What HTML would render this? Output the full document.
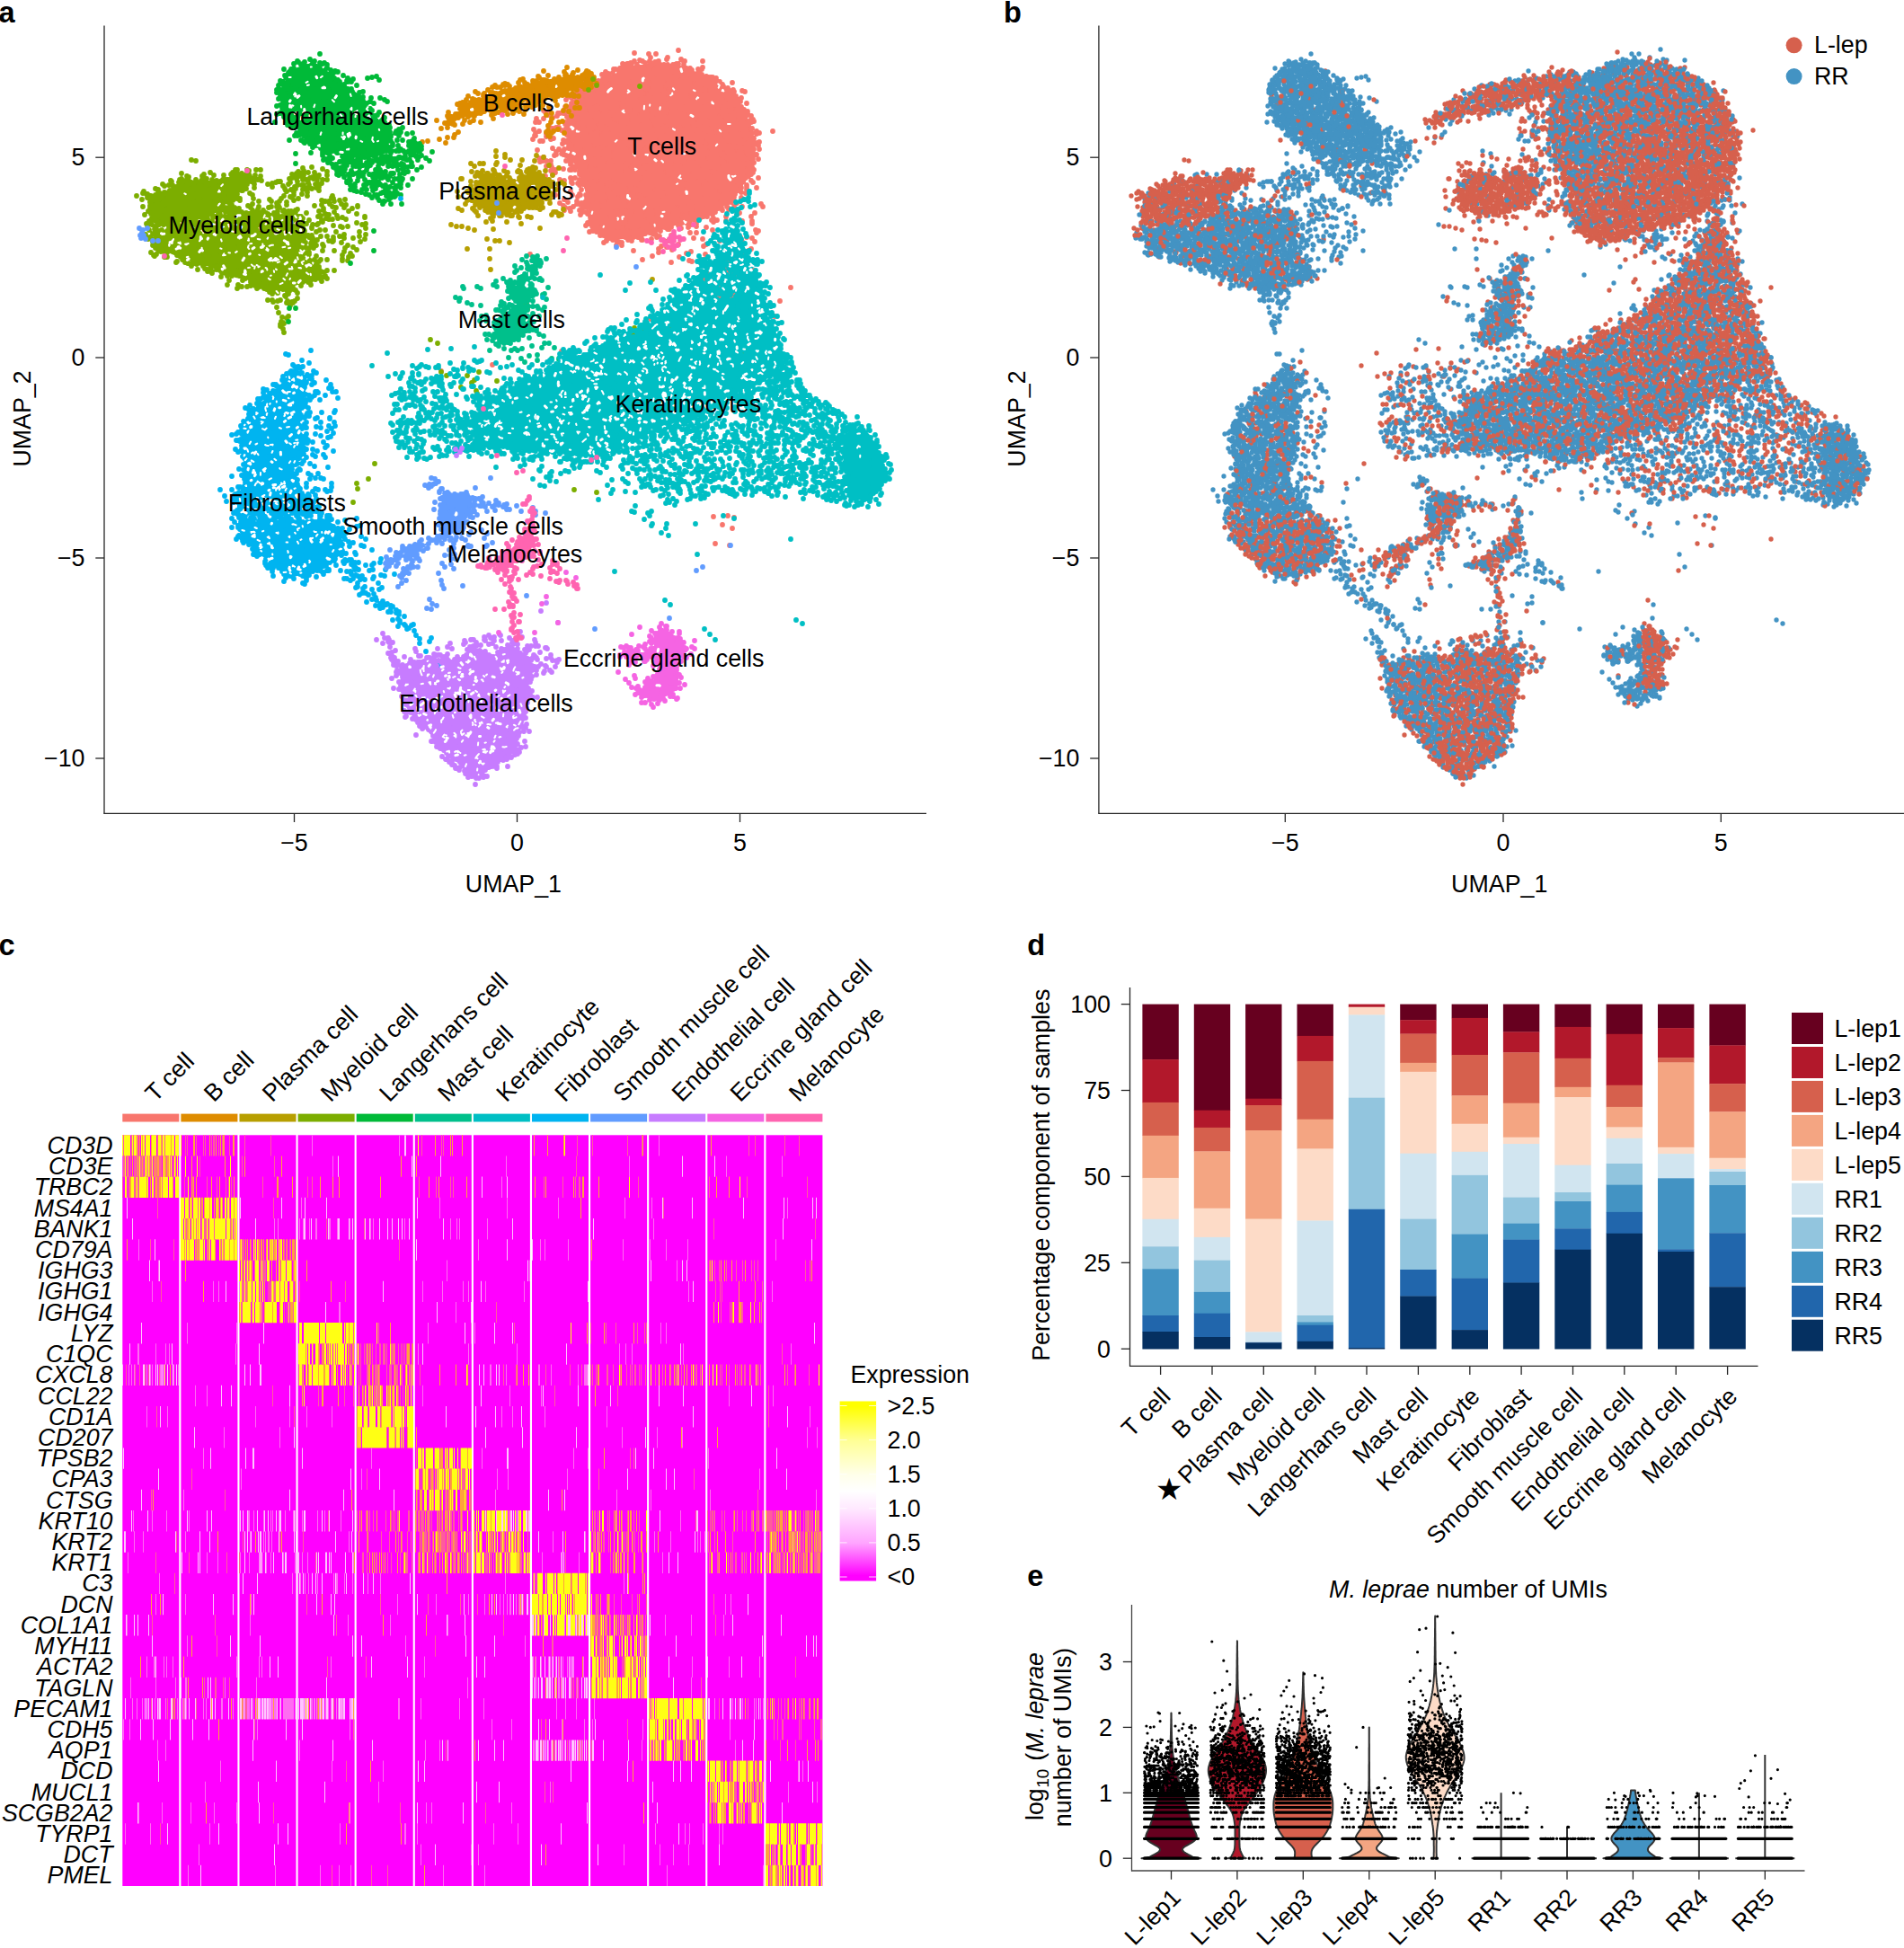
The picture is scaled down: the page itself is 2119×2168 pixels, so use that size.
<!DOCTYPE html>
<html><head><meta charset="utf-8"><title>Figure</title>
<style>html,body{margin:0;padding:0;background:#fff}svg{display:block}text{font-family:"Liberation Sans",sans-serif;fill:#000}</style>
</head><body>
<svg width="2119" height="2168" viewBox="0 0 2119 2168">
<rect width="2119" height="2168" fill="#fff"/>
<text x="-1.5" y="24.5" font-size="32.5" font-weight="bold">a</text>
<text x="1117" y="24.5" font-size="32.5" font-weight="bold">b</text>
<path d="M116 28.5L116 905.8" stroke="#262626" stroke-width="1.3"/>
<path d="M115.5 905.3L1031 905.3" stroke="#262626" stroke-width="1.3"/>
<path d="M106.3 175.2L116 175.2" stroke="#262626" stroke-width="1.3"/>
<text x="94.5" y="183.9" font-size="26.8" text-anchor="end">5</text>
<path d="M106.3 398L116 398" stroke="#262626" stroke-width="1.3"/>
<text x="94.5" y="406.7" font-size="26.8" text-anchor="end">0</text>
<path d="M106.3 621L116 621" stroke="#262626" stroke-width="1.3"/>
<text x="94.5" y="629.7" font-size="26.8" text-anchor="end">−5</text>
<path d="M106.3 844L116 844" stroke="#262626" stroke-width="1.3"/>
<text x="94.5" y="852.7" font-size="26.8" text-anchor="end">−10</text>
<path d="M327.5 905.3L327.5 915.0" stroke="#262626" stroke-width="1.3"/>
<text x="327.5" y="946.8" font-size="26.8" text-anchor="middle">−5</text>
<path d="M575.5 905.3L575.5 915.0" stroke="#262626" stroke-width="1.3"/>
<text x="575.5" y="946.8" font-size="26.8" text-anchor="middle">0</text>
<path d="M823.5 905.3L823.5 915.0" stroke="#262626" stroke-width="1.3"/>
<text x="823.5" y="946.8" font-size="26.8" text-anchor="middle">5</text>
<text x="571.4" y="992.5" font-size="26.8" text-anchor="middle">UMAP_1</text>
<text x="33.9" y="466" font-size="26.8" text-anchor="middle" transform="rotate(-90 33.9 466)">UMAP_2</text>
<path d="M1222.9 28.5L1222.9 905.8" stroke="#262626" stroke-width="1.3"/>
<path d="M1222.4 905.3L2119 905.3" stroke="#262626" stroke-width="1.3"/>
<path d="M1213.2 175.2L1222.9 175.2" stroke="#262626" stroke-width="1.3"/>
<text x="1201.4" y="183.9" font-size="26.8" text-anchor="end">5</text>
<path d="M1213.2 398L1222.9 398" stroke="#262626" stroke-width="1.3"/>
<text x="1201.4" y="406.7" font-size="26.8" text-anchor="end">0</text>
<path d="M1213.2 621L1222.9 621" stroke="#262626" stroke-width="1.3"/>
<text x="1201.4" y="629.7" font-size="26.8" text-anchor="end">−5</text>
<path d="M1213.2 844L1222.9 844" stroke="#262626" stroke-width="1.3"/>
<text x="1201.4" y="852.7" font-size="26.8" text-anchor="end">−10</text>
<path d="M1430.3 905.3L1430.3 915.0" stroke="#262626" stroke-width="1.3"/>
<text x="1430.3" y="946.8" font-size="26.8" text-anchor="middle">−5</text>
<path d="M1673 905.3L1673 915.0" stroke="#262626" stroke-width="1.3"/>
<text x="1673" y="946.8" font-size="26.8" text-anchor="middle">0</text>
<path d="M1915.3 905.3L1915.3 915.0" stroke="#262626" stroke-width="1.3"/>
<text x="1915.3" y="946.8" font-size="26.8" text-anchor="middle">5</text>
<text x="1668.7" y="992.5" font-size="26.8" text-anchor="middle">UMAP_1</text>
<text x="1140.5" y="466" font-size="26.8" text-anchor="middle" transform="rotate(-90 1140.5 466)">UMAP_2</text>
<g><path d="M722 70L700 76L684 82L664 91L647 101L637 114L632 128L631 149L635 173L644 192L644 192L652 214L652 215L652 215L655 237L664 252L674 262L685 267L703 265L725 260L742 254L742 254L758 249L758 249L779 244L801 233L818 219L830 202L837 181L840 156L834 135L821 110L792 87L758 73L740 70Z" fill="#F8766D" fill-rule="evenodd"/><path d="M492 138L504 133L505 132L518 129L541 123L541 123L562 118L563 118L584 113L584 113L606 110L628 104L649 95L658 89L657 84L646 84L623 86L602 90L580 95L558 100L536 109L515 121L503 129L492 138Z" fill="#DE8C00" fill-rule="evenodd"/><path d="M529 206L529 219L532 230L548 236L569 236L586 233L601 225L609 216L611 203L606 197L596 194L580 195L572 203L572 203L571 204L571 204L571 204L570 204L570 204L569 204L569 204L569 204L568 204L568 204L567 204L567 204L558 199L547 196L536 197Z" fill="#B79F00" fill-rule="evenodd"/><path d="M164 219L165 227L169 247L176 250L194 248L195 248L214 246L233 241L247 232L258 219L258 219L258 219L266 212L273 204L273 204L273 203L274 203L274 203L274 203L284 199L283 196L266 195L260 200L259 200L259 200L259 200L258 200L258 200L257 200L246 201L246 201L225 201L203 203L189 211L189 211L188 211L175 215Z" fill="#7CAE00" fill-rule="evenodd"/><path d="M171 258L172 276L174 281L185 281L185 281L186 281L186 281L186 281L187 281L203 288L217 292L217 292L236 298L237 298L262 309L273 311L273 311L274 311L293 318L293 318L293 318L294 318L294 319L294 319L302 329L308 326L320 320L320 320L321 320L335 316L346 311L346 311L347 311L356 308L353 303L344 291L344 290L344 290L344 290L344 289L340 274L340 274L340 273L340 273L340 273L341 255L335 242L328 236L311 239L310 239L310 239L310 239L309 239L309 239L294 235L272 235L272 235L271 235L271 235L270 235L270 235L270 235L269 234L262 228L253 238L253 238L253 238L252 239L237 249L237 249L237 249L236 249L216 254L215 254L196 256L176 259L175 259L175 259L174 259L174 259L173 259L173 259Z" fill="#7CAE00" fill-rule="evenodd"/><path d="M341 72L331 75L320 85L314 95L313 112L314 125L320 138L331 144L332 144L332 145L332 145L347 159L359 167L386 174L405 175L420 175L427 164L428 164L436 155L435 147L424 136L424 136L409 119L408 119L398 104L381 92L361 77L351 72Z" fill="#00BA38" fill-rule="evenodd"/><path d="M595 285L594 294L594 294L594 294L594 294L594 295L593 295L584 306L576 317L576 317L576 317L576 317L576 318L575 318L575 318L575 318L568 320L566 325L575 333L575 333L575 333L576 333L576 334L576 334L576 334L576 335L576 335L576 335L576 335L576 336L576 336L576 336L572 344L572 345L571 345L571 345L571 345L571 345L570 346L570 346L570 346L570 346L559 348L557 359L557 360L557 360L557 360L557 361L556 361L550 369L548 375L557 380L568 378L580 374L588 365L584 355L584 355L584 354L584 354L584 354L584 353L584 353L584 353L584 353L590 342L588 333L588 332L588 332L588 332L588 331L588 331L588 331L588 331L588 330L593 324L588 316L588 316L588 316L588 316L588 315L588 315L588 315L588 315L588 314L588 314L588 314L593 303L593 303L599 292L600 286Z" fill="#00C08B" fill-rule="evenodd"/><path d="M817 244L816 247L809 264L800 286L800 286L800 286L800 287L799 287L799 287L777 307L777 307L760 322L746 335L734 353L733 353L733 353L733 354L720 363L719 363L719 363L718 363L688 372L667 387L666 387L666 387L644 396L643 396L643 396L642 396L630 397L605 416L604 416L581 429L581 429L581 429L555 439L534 448L534 458L534 458L534 459L534 459L534 460L525 482L533 497L547 499L560 499L560 499L560 499L561 499L582 502L600 502L600 502L601 502L621 505L640 507L663 508L678 504L698 494L710 484L710 483L711 483L711 483L728 476L729 476L756 469L783 461L804 445L815 437L815 436L816 436L816 436L817 436L848 426L866 412L873 398L865 378L854 352L854 351L854 351L848 324L839 297L828 273L828 273Z" fill="#00BFC4" fill-rule="evenodd"/><path d="M948 475L939 488L938 509L944 530L944 530L944 530L944 531L944 531L944 532L943 544L947 557L957 556L971 551L982 541L987 527L982 511L970 488L958 480Z" fill="#00BFC4" fill-rule="evenodd"/><path d="M325 411L314 428L314 429L313 429L313 429L295 444L277 460L269 473L268 494L271 514L271 514L274 533L274 534L274 534L274 535L274 535L274 536L274 536L274 536L265 550L263 575L299 571L300 571L354 570L349 557L335 546L335 545L335 545L334 545L334 544L325 528L325 528L325 527L325 527L325 527L325 526L325 526L325 525L325 525L325 524L325 524L325 524L334 509L336 488L334 467L334 466L334 466L334 465L338 444L338 444L342 427L335 414L329 410Z" fill="#00B4F0" fill-rule="evenodd"/><path d="M264 584L269 598L284 613L302 626L302 627L318 641L326 642L346 638L359 632L367 626L380 617L382 608L379 594L372 584L360 579L300 579Z" fill="#00B4F0" fill-rule="evenodd"/><path d="M490 567L489 577L492 586L500 590L512 587L519 578L524 567L525 557L519 553L506 553L494 558Z" fill="#619CFF" fill-rule="evenodd"/><path d="M490 544L501 551L502 550L490 544Z" fill="#619CFF" fill-rule="evenodd"/><path d="M434 625L434 625L449 620L463 614L473 607L473 607L474 607L488 601L501 595L500 592L488 599L487 599L473 605L461 612L461 612L448 618L434 625L434 625Z" fill="#619CFF" fill-rule="evenodd"/><path d="M466 620L458 630L458 630L449 639L446 645L446 645L451 641L458 630L458 630L466 621Z" fill="#619CFF" fill-rule="evenodd"/><path d="M448 742L446 750L445 765L452 787L462 801L477 815L477 815L491 832L504 844L504 844L520 859L527 864L535 860L549 852L565 842L574 833L577 821L577 821L583 798L587 771L587 771L591 750L591 750L593 742L588 731L579 725L578 725L568 717L558 724L558 724L545 732L545 732L545 732L544 732L544 732L543 732L543 732L542 732L542 732L542 732L526 727L511 734L511 734L510 734L510 734L509 734L488 735L476 737L475 737L475 737L474 737L462 736Z" fill="#C77CFF" fill-rule="evenodd"/><path d="M434 722L434 722L440 732L440 733L442 738L443 737L441 732L434 722Z" fill="#C77CFF" fill-rule="evenodd"/><path d="M728 706L728 716L728 716L728 717L728 717L728 718L728 718L728 719L727 719L727 719L727 720L726 720L716 726L716 726L716 726L715 726L715 726L714 726L714 726L713 726L700 725L692 726L692 730L700 733L711 731L711 731L712 731L712 731L726 732L727 732L727 732L728 732L728 732L728 732L729 732L729 733L729 733L730 733L730 734L730 734L734 743L734 744L734 744L734 745L734 745L734 745L734 746L732 756L732 756L732 757L732 757L732 757L731 758L731 758L731 758L731 759L730 759L730 759L729 759L717 763L712 769L716 776L728 778L745 772L753 765L756 751L754 736L754 735L754 735L754 735L754 734L754 734L754 733L754 733L754 733L754 732L755 732L755 732L755 731L764 726L764 720L754 712L754 712L745 703L737 701Z" fill="#F564E3" fill-rule="evenodd"/><path d="M540 627L547 627L547 627L548 627L548 627L560 631L571 626L583 617L583 617L591 611L595 604L593 597L593 596L593 596L593 596L594 584L591 582L589 590L589 590L589 590L589 591L588 591L580 601L580 601L580 601L570 610L570 610L553 622L553 623L552 623L552 623Z" fill="#FF64B0" fill-rule="evenodd"/><path d="M591 573L591 574L591 574Z" fill="#FF64B0" fill-rule="evenodd"/></g><g fill="none" stroke-width="5.8" stroke-linecap="round"><path d="M755 56h0m-49 3h0m16 1h0m8 0h0m-24 8h0m6-1h0m3 1h0m8 0h0m1-4h0m5 5h0m4-1h0m9-2h0m1-2h0m15 2h0m4 2h0m20 0h0m-89 3h0m1 3h0m4-3h0m1 0h0m1 2h0m0 0h0m2-3h0m1 1h0m0 4h0m5 0h0m1-3h0m4 3h0m5-5h0m4 4h0m2 0h0m0-4h0m3 2h0m5-2h0m3 2h0m2 3h0m2-3h0m4 0h0m2 2h0m4-2h0m2 1h0m2-2h0m1 4h0m1-4h0m6 1h0m0-3h0m-87 11h0m9-3h0m2 0h0m4 4h0m1-5h0m0 2h0m1 3h0m3-3h0m2 3h0m3-3h0m0-3h0m1 6h0m2-2h0m4-1h0m5 0h0m5 1h0m0-3h0m2 5h0m1-2h0m3-1h0m4 3h0m2-2h0m3-3h0m1 3h0m1-3h0m3 3h0m4-2h0m2-1h0m1 2h0m5 2h0m4-2h0m4 1h0m4-3h0m2 4h0m2-4h0m1 2h0m3-2h0m2 2h0m7-1h0m1 1h0m0 1h0m3-2h0m1-2h0m-112 8h0m3 2h0m4-3h0m1 3h0m3 2h0m1-6h0m3 4h0m4-1h0m4 1h0m4-1h0m5 1h0m1-2h0m4-1h0m3 4h0m2-4h0m3 2h0m3 3h0m4-4h0m1 4h0m3-1h0m4-4h0m3 5h0m1-1h0m0-5h0m5 2h0m0 4h0m2-6h0m2 4h0m2-2h0m4 3h0m3-2h0m3-1h0m1 1h0m3-2h0m1 3h0m4 1h0m0-4h0m3 0h0m3 1h0m1 3h0m3-1h0m2-3h0m2 5h0m3-4h0m1 4h0m4-2h0m4 1h0m3 0h0m4 1h0m-152 4h0m3 2h0m10-4h0m3 3h0m5 0h0m0-2h0m2 2h0m3-4h0m3 1h0m0 3h0m3-4h0m5 1h0m0 3h0m5-2h0m3 2h0m1-4h0m2 3h0m2-1h0m4-1h0m2 3h0m4-3h0m1 3h0m1-5h0m3 4h0m2-1h0m2 2h0m2-4h0m3 3h0m2-1h0m6-2h0m3 1h0m0 3h0m2-1h0m2 1h0m4 0h0m0-4h0m5 0h0m1 4h0m1-3h0m7-1h0m0 4h0m0-5h0m4 3h0m1 0h0m6 0h0m2 2h0m3-2h0m5-2h0m4 1h0m4 2h0m4 1h0m0-3h0m3 2h0m6-2h0m1 4h0m3-2h0m3 0h0m14 1h0m-171 5h0m4 1h0m3-4h0m3 3h0m4-1h0m5-1h0m4 1h0m3 2h0m5-3h0m2 0h0m2 2h0m3-1h0m3-3h0m1 4h0m5 0h0m4 0h0m1-4h0m3 5h0m7-1h0m2 1h0m1-4h0m3 4h0m4-1h0m4 2h0m0-2h0m2-3h0m4 1h0m2-2h0m2 4h0m3-1h0m3 0h0m6-1h0m5 3h0m0-4h0m5 4h0m3-4h0m1 2h0m4 0h0m1-3h0m3 5h0m4-1h0m0-4h0m2 4h0m5-2h0m0-1h0m3-1h0m1 5h0m1-4h0m5 1h0m2 1h0m4-2h0m0 2h0m6 0h0m3 0h0m4 3h0m0-5h0m1 2h0m5 2h0m-168 4h0m0 2h0m2 0h0m2-3h0m3 3h0m4-4h0m2 0h0m2 4h0m3-4h0m5 0h0m2 4h0m1-5h0m4 5h0m1-3h0m3 2h0m2-4h0m0 6h0m4 0h0m1-4h0m2-1h0m3 4h0m2 1h0m0-6h0m4 2h0m4 0h0m3 2h0m1-3h0m4 2h0m2 1h0m2-2h0m3 2h0m1-1h0m2 2h0m6 1h0m2-1h0m1-3h0m1-1h0m4 0h0m2 4h0m3-4h0m4 4h0m0-3h0m2 3h0m4-2h0m3-2h0m1 3h0m2-3h0m2 5h0m5-6h0m4 2h0m2 0h0m2 1h0m3 0h0m3-3h0m4 3h0m2-2h0m3 0h0m4 0h0m0 5h0m4 0h0m2-4h0m1 2h0m1-2h0m4 2h0m3-3h0m5 4h0m3-3h0m3 2h0m1-2h0m4-1h0m1 2h0m9-1h0m3 1h0m-199 9h0m5-3h0m1 1h0m4-1h0m0-2h0m2 1h0m0 4h0m7-5h0m3 0h0m1 5h0m1-6h0m3 1h0m1 4h0m2-2h0m2 2h0m0-5h0m3 4h0m4-2h0m2 1h0m7-2h0m1 4h0m3-4h0m3 2h0m1 2h0m4-1h0m4-2h0m0-2h0m5 2h0m3 0h0m1-2h0m2 5h0m1-3h0m4-1h0m4 5h0m0-4h0m2 3h0m4-1h0m2 2h0m1-3h0m3 2h0m3-3h0m0-2h0m3 2h0m1 3h0m3-1h0m3 0h0m2 1h0m4-2h0m1-3h0m0 5h0m3-1h0m3-1h0m4 0h0m2-3h0m1 5h0m2-3h0m3 1h0m0-3h0m6 3h0m1-3h0m1 6h0m1-3h0m3 0h0m3 3h0m1-6h0m2 3h0m4-1h0m2 4h0m3-4h0m4 0h0m2 1h0m3-3h0m3 4h0m1 2h0m4-5h0m3 4h0m1-3h0m3-2h0m1 2h0m3 0h0m3 4h0m3-2h0m-189 6h0m3-1h0m3 0h0m2-2h0m3 3h0m1-3h0m1 5h0m4-2h0m4 1h0m2-1h0m4-2h0m4 0h0m3 1h0m0-2h0m2 2h0m2-3h0m3 4h0m2 0h0m5-3h0m0 4h0m5-1h0m4-2h0m0 2h0m3-3h0m3 4h0m2-1h0m0-3h0m3 5h0m1-3h0m3-2h0m1 2h0m7 2h0m4-1h0m2-1h0m5 0h0m3-2h0m1 4h0m3-2h0m3-2h0m3 3h0m4 1h0m3-2h0m4-2h0m1 2h0m4-2h0m1 4h0m4-3h0m3-1h0m0 4h0m4-4h0m3 3h0m2-1h0m3-3h0m2 5h0m3-2h0m2-3h0m1 3h0m7 1h0m2-3h0m3 1h0m1 0h0m1 3h0m2-5h0m0 6h0m3-4h0m4 2h0m5 0h0m2-3h0m0 4h0m4-4h0m2 3h0m4-2h0m7 2h0m-202 4h0m2 3h0m3-3h0m3-1h0m2 3h0m2-3h0m2 4h0m3-3h0m1 2h0m4 1h0m4-4h0m2 4h0m1-2h0m1 2h0m4-2h0m0 1h0m3-1h0m4 1h0m0-3h0m3 4h0m2-4h0m5 1h0m2-2h0m0 4h0m3 1h0m2-4h0m1 5h0m5-3h0m2 3h0m2-4h0m1 2h0m2-3h0m1 4h0m6 0h0m2-4h0m2 0h0m2 3h0m3-2h0m3-1h0m3 3h0m4-1h0m1 3h0m3-4h0m3 1h0m2 3h0m4-5h0m2 0h0m2 5h0m3-5h0m3 0h0m0 3h0m2 1h0m3-4h0m3 4h0m1-4h0m4 4h0m1-3h0m2 3h0m2-5h0m2 5h0m3-4h0m0 3h0m3-2h0m2 2h0m4-1h0m2 1h0m2-2h0m0 3h0m4-5h0m1 4h0m3-3h0m1 4h0m2-5h0m8 5h0m1-3h0m2 3h0m3-5h0m4 3h0m0 1h0m2-4h0m4 5h0m1-4h0m4 1h0m3 3h0m-223 1h0m2 2h0m3 3h0m1-4h0m10 2h0m2 0h0m4 0h0m1 0h0m4-2h0m1-1h0m2 5h0m2-4h0m6 0h0m2 1h0m3 3h0m0-2h0m4 1h0m7-2h0m1 3h0m3-1h0m3 0h0m4 2h0m2-3h0m2 1h0m1-4h0m5 2h0m0 3h0m2-1h0m2 2h0m4-4h0m4 0h0m5 0h0m0 4h0m2-5h0m5 3h0m3-1h0m3-3h0m4 1h0m2 3h0m2-3h0m1 4h0m1-1h0m6-2h0m4 1h0m0-3h0m4 2h0m3 3h0m0-3h0m2-2h0m2 2h0m6 2h0m2 2h0m1-3h0m4-1h0m4 2h0m4-1h0m7-1h0m3-1h0m4 3h0m3 1h0m2-1h0m4 0h0m2 2h0m0-3h0m4 3h0m0-5h0m5 2h0m3-2h0m3 0h0m2 5h0m2-4h0m2 2h0m2-3h0m5 2h0m2 0h0m4 2h0m2-3h0m0-2h0m4 4h0m3 0h0m2-2h0m0 3h0m0-4h0m4 5h0m-239 3h0m8 0h0m10-1h0m5-2h0m11 1h0m3 3h0m2 0h0m4 0h0m1-2h0m1 0h0m2 1h0m5 0h0m4-3h0m1 5h0m3-4h0m1 5h0m5-2h0m2-3h0m3 3h0m3-1h0m3-1h0m1 4h0m1-6h0m3 4h0m5-1h0m4-2h0m0 1h0m3 1h0m2-2h0m2 4h0m3-2h0m5-3h0m1 5h0m3-5h0m2 4h0m2-2h0m1 3h0m2-5h0m2 3h0m4 1h0m4-4h0m2 1h0m1 4h0m3-1h0m2-3h0m2 3h0m3-1h0m3-2h0m1 4h0m4-4h0m2 4h0m2 0h0m4-4h0m1 4h0m4-4h0m1 3h0m3-2h0m2-1h0m0 3h0m4-1h0m1-2h0m3 3h0m1-4h0m1 3h0m6 0h0m1-3h0m4 3h0m2 3h0m5-2h0m2-3h0m2 2h0m3-1h0m1 3h0m3 0h0m5-4h0m3 3h0m0-3h0m2 2h0m4 0h0m0-3h0m6 1h0m0 1h0m4 3h0m0-4h0m2 2h0m6 2h0m3-1h0m-242 3h0m4 0h0m11 4h0m18-2h0m1-2h0m4 1h0m2 2h0m2-3h0m6 1h0m4 0h0m4-1h0m3 4h0m1-5h0m1 4h0m2-3h0m2 5h0m2-6h0m6 2h0m3-1h0m4 1h0m4 2h0m1-1h0m3 0h0m0 3h0m7-5h0m1 4h0m2-2h0m4-2h0m3 3h0m1-1h0m3-1h0m0 3h0m2-1h0m2-1h0m4 2h0m3-5h0m0 4h0m4-2h0m2 0h0m2 3h0m4-4h0m2 3h0m1-1h0m5-1h0m2-2h0m7 2h0m1 2h0m3-2h0m4 0h0m3 3h0m1-4h0m4 1h0m3 3h0m2-4h0m0 4h0m2-5h0m4 5h0m0-2h0m3 1h0m3-2h0m1 2h0m3-4h0m4 3h0m1 3h0m3-4h0m3 3h0m1-4h0m3 3h0m2-2h0m2 4h0m1-5h0m4 4h0m2-4h0m3 0h0m3 5h0m2-5h0m4 2h0m5-1h0m3 1h0m1 2h0m3-2h0m1 1h0m3-3h0m3-1h0m-245 9h0m6 2h0m15-3h0m4-1h0m3 0h0m3 3h0m5-2h0m2 4h0m2-6h0m2 2h0m3 2h0m2-4h0m3 4h0m0-3h0m5 4h0m0-4h0m0 0h0m3 3h0m0 2h0m5-2h0m2-2h0m6 1h0m2-2h0m1 0h0m2 0h0m3 1h0m1-1h0m4 1h0m4 0h0m3 0h0m3-2h0m2 3h0m1 3h0m2-2h0m2-4h0m3 2h0m5 4h0m0-3h0m5-1h0m4 0h0m0 4h0m3-4h0m4 1h0m1-3h0m2 2h0m3 4h0m1-2h0m5-1h0m2-2h0m2 1h0m2 4h0m2-6h0m2 0h0m0 3h0m4 1h0m4-2h0m1-1h0m1 2h0m4 3h0m1-5h0m1 0h0m1 5h0m4-3h0m3-1h0m5 1h0m2 1h0m4 1h0m3-1h0m4-1h0m0-2h0m2 2h0m4 2h0m0-2h0m4-2h0m4 4h0m2-3h0m4 2h0m5-1h0m3-3h0m1 3h0m5 1h0m0-3h0m1 1h0m4-1h0m1 1h0m2-1h0m2 3h0m3 1h0m1-3h0m6 0h0m5 3h0m18 0h0m-265 5h0m1-3h0m0 3h0m12-2h0m0 3h0m20-5h0m1 0h0m2 3h0m5 1h0m2-1h0m0-2h0m2 0h0m4 3h0m1-3h0m2 2h0m5 1h0m5 1h0m2-3h0m2 1h0m2-2h0m0 4h0m2-5h0m5 5h0m2-3h0m2 3h0m1-4h0m2 3h0m3-2h0m1 2h0m1-3h0m2 3h0m3-4h0m2 3h0m4 0h0m1-2h0m4 4h0m3-3h0m1 3h0m5-2h0m2-1h0m1 3h0m6-2h0m1-1h0m0 4h0m5-4h0m2 3h0m4-1h0m3-3h0m2 2h0m2-3h0m0 5h0m4 0h0m4-3h0m0 3h0m3-3h0m3 2h0m1-4h0m4 5h0m3-2h0m3 2h0m2-4h0m4 0h0m0 4h0m4-5h0m1 3h0m4 2h0m3-1h0m1-3h0m3 2h0m2-1h0m3 3h0m3-2h0m3 0h0m0-2h0m7 2h0m1-2h0m0 2h0m5-1h0m1 2h0m1-2h0m4 3h0m2-4h0m3 4h0m2-5h0m0 3h0m4-1h0m2 1h0m2-3h0m1 3h0m5 0h0m2-1h0m1 1h0m1-2h0m5 1h0m3-1h0m-252 7h0m8 2h0m3 0h0m9-2h0m3-1h0m11 2h0m3 2h0m2-2h0m6 0h0m1 1h0m4-2h0m1 0h0m4 3h0m1-3h0m2 4h0m3-4h0m5 1h0m3 0h0m2 3h0m3 0h0m0-3h0m4 0h0m0 1h0m4-3h0m1 4h0m2-3h0m5 0h0m1 2h0m3-3h0m3 5h0m0-6h0m6 1h0m2 5h0m2-3h0m3 1h0m2-1h0m4 0h0m0 3h0m2-5h0m3 4h0m4-3h0m2 4h0m2-5h0m1 4h0m1-2h0m4 3h0m1-4h0m6-1h0m4 0h0m2 0h0m5 1h0m3 2h0m3-4h0m0 6h0m1-5h0m6 2h0m4-1h0m2 3h0m3-5h0m3 3h0m0 2h0m3 0h0m1-2h0m2 2h0m3-4h0m1 4h0m1-4h0m6 1h0m4 2h0m0-2h0m1 2h0m3-4h0m4 3h0m0 1h0m3 1h0m0-2h0m3 2h0m3-3h0m3 2h0m1-3h0m4 5h0m1-3h0m1 2h0m2-5h0m3 6h0m0-3h0m3 2h0m3-4h0m5 2h0m4-2h0m2 5h0m4-1h0m-230 7h0m11-5h0m7 3h0m0-3h0m0 5h0m3-3h0m6 0h0m2-2h0m2 3h0m4-2h0m3 3h0m2-1h0m1-3h0m1 3h0m5-3h0m0 1h0m3 0h0m6 2h0m2-2h0m6 1h0m1-3h0m3 4h0m6 1h0m3-4h0m2-1h0m1 3h0m6-1h0m3 1h0m1-3h0m3 2h0m4 0h0m1 3h0m2-2h0m6 1h0m5 1h0m3-1h0m2-3h0m2 3h0m3-3h0m3 2h0m1-2h0m2 3h0m2 2h0m0-6h0m1 3h0m4-1h0m6 3h0m0-5h0m5 2h0m2-1h0m0 2h0m5 0h0m5 2h0m0-1h0m4-1h0m4 1h0m5-4h0m0 5h0m5-1h0m1 1h0m0-2h0m6-1h0m4 0h0m3 1h0m0 3h0m4-3h0m4 1h0m5-1h0m3 2h0m3-2h0m1-1h0m5 3h0m1-3h0m2-1h0m2 2h0m3-2h0m2 1h0m5 1h0m-246 5h0m21 2h0m3-3h0m3 5h0m2-3h0m1-2h0m9 3h0m1-2h0m2 4h0m2-6h0m2 4h0m2-3h0m3 4h0m4-2h0m4-2h0m1 4h0m1-3h0m4 2h0m1-2h0m2 1h0m1-2h0m4 4h0m2-3h0m2 4h0m3-5h0m0 4h0m2-5h0m4 6h0m1-4h0m4 2h0m1-4h0m3 4h0m0-2h0m3 4h0m1-4h0m3 3h0m3-4h0m0 4h0m4-5h0m0 4h0m2-4h0m3 6h0m5-1h0m2-3h0m1 2h0m2-3h0m4 2h0m3-1h0m2 2h0m2-3h0m0 3h0m3-3h0m2 3h0m2-3h0m2 4h0m3-2h0m2-3h0m3 3h0m3-2h0m1 3h0m2-2h0m3 0h0m1 1h0m3 2h0m3-4h0m1 4h0m2-3h0m3 1h0m3 2h0m3-5h0m2 5h0m2-4h0m3 1h0m0 3h0m3 0h0m4-2h0m3-2h0m1 4h0m3-4h0m3 4h0m2 1h0m5-5h0m0 2h0m1-3h0m3 4h0m2-2h0m1 3h0m6 1h0m3-5h0m0 5h0m6-2h0m2-2h0m1 3h0m1-4h0m3 2h0m1-2h0m6 0h0m-245 10h0m5-1h0m12-2h0m2-1h0m8 0h0m3 1h0m4 3h0m1-3h0m1 3h0m4-3h0m3 2h0m2 0h0m2-1h0m4 0h0m6 0h0m1 2h0m2-4h0m5 2h0m2 3h0m1-6h0m4 3h0m3-2h0m0 4h0m3 0h0m2-2h0m5 0h0m5-1h0m2 3h0m2-3h0m3 3h0m1-4h0m2 3h0m0-2h0m5-1h0m7 1h0m1 0h0m1 2h0m3 1h0m2-4h0m4 1h0m3 3h0m1-1h0m2 2h0m3-2h0m0-2h0m5-1h0m0 4h0m2-2h0m5-2h0m4 4h0m0-2h0m5-2h0m2 1h0m4-1h0m3 4h0m3-3h0m2 4h0m1-3h0m4 2h0m1-2h0m5-1h0m3 4h0m1-3h0m1 1h0m2-3h0m4 4h0m2-4h0m1 4h0m2-2h0m1 3h0m3-4h0m6-1h0m2 2h0m4 2h0m1-4h0m3 5h0m3-5h0m4 2h0m2 2h0m2-4h0m2 2h0m0 1h0m2 2h0m4-5h0m1 4h0m1-4h0m3 5h0m1-4h0m1-1h0m2 0h0m2 5h0m-243 3h0m3-1h0m4 0h0m5 0h0m0 4h0m17-4h0m5 2h0m5-2h0m0-1h0m3 3h0m3 0h0m4-3h0m2 2h0m0 2h0m3-5h0m0 3h0m4 1h0m2-3h0m2 5h0m2-3h0m4 1h0m2-1h0m1-3h0m5 5h0m3-2h0m4-2h0m3 2h0m2-2h0m1 1h0m1 4h0m2-4h0m6 4h0m0-3h0m2-1h0m5-1h0m0 1h0m1-2h0m3 4h0m4-2h0m4 0h0m3-1h0m3 1h0m4 1h0m4 1h0m2 0h0m7-4h0m0 3h0m3 0h0m3 1h0m4-4h0m2 2h0m2-2h0m0 6h0m0-3h0m2-2h0m4 2h0m6 1h0m1 1h0m3-1h0m3 1h0m2-1h0m1-4h0m4 4h0m0 2h0m4-2h0m5 0h0m5 1h0m2 0h0m3-2h0m0-2h0m3 1h0m1-1h0m2 3h0m7 0h0m2 0h0m2-3h0m3 2h0m1 3h0m2-2h0m5 1h0m5-1h0m4 1h0m2-1h0m-231 4h0m6 1h0m13 2h0m8-5h0m1 6h0m1-4h0m3 4h0m1-4h0m4 1h0m2-2h0m0 4h0m3-4h0m1 2h0m6 1h0m1-3h0m2 5h0m6 0h0m1-6h0m1 5h0m3-3h0m3 0h0m0 2h0m4-1h0m2-1h0m2 2h0m0-3h0m2 2h0m4-1h0m3 1h0m4 0h0m2-3h0m0 4h0m7-1h0m1-2h0m2 3h0m2-2h0m2 0h0m1 3h0m2 0h0m4-1h0m0-2h0m4 3h0m0-4h0m2 1h0m4 2h0m1-3h0m1 5h0m4-4h0m0 2h0m4 0h0m0-3h0m4 1h0m2 3h0m2-5h0m2 4h0m4-2h0m1 2h0m3 1h0m1-3h0m3 3h0m4-1h0m0-4h0m5 4h0m2-2h0m4 2h0m0-2h0m2 2h0m6 0h0m2-3h0m2 5h0m0-6h0m2 3h0m3-1h0m3 2h0m3-1h0m1-1h0m4 4h0m2-5h0m3 4h0m1-3h0m5-1h0m3 1h0m3 3h0m4-2h0m2-1h0m1 1h0m2-3h0m4 1h0m4 2h0m-562 7h0m338-3h0m2 4h0m3-5h0m0 3h0m16-3h0m11 5h0m0-2h0m1 2h0m3-2h0m2 2h0m2-3h0m6 1h0m4 1h0m0-3h0m2 1h0m5 3h0m2-2h0m2 2h0m1-3h0m5 2h0m0-3h0m3 2h0m2 2h0m3-2h0m1 2h0m2-4h0m2 5h0m4-1h0m0-3h0m2-1h0m6 2h0m4-1h0m4 2h0m0 0h0m4-1h0m5 0h0m3-2h0m3 4h0m2-2h0m1 2h0m4-4h0m1 2h0m7-2h0m1 4h0m2-4h0m3 4h0m3-3h0m1 4h0m0-3h0m4 2h0m1-3h0m4 0h0m3 4h0m1-5h0m6 1h0m4 1h0m4-2h0m1 4h0m4-4h0m3 1h0m5 0h0m3 3h0m0-2h0m5-2h0m2 4h0m2-3h0m3 1h0m3-3h0m2 2h0m3-2h0m0 5h0m2-2h0m4-1h0m5-1h0m4 1h0m3-2h0m0 3h0m2 2h0m2-2h0m1-3h0m-232 7h0m16 4h0m5 1h0m7-3h0m5 0h0m5 2h0m5-2h0m3 0h0m3-2h0m1 2h0m3-3h0m2 2h0m1 4h0m3-4h0m5 4h0m1-2h0m1-1h0m4-3h0m1 2h0m5 0h0m3 4h0m0-2h0m5 0h0m5-1h0m3 0h0m3-3h0m2 3h0m1-2h0m4 2h0m1-2h0m2 2h0m6-2h0m0 4h0m3-2h0m2-2h0m0 5h0m3-2h0m3 0h0m2 2h0m3-3h0m1-2h0m2 3h0m1-3h0m3 2h0m5 2h0m3-3h0m5 4h0m1-1h0m2-1h0m3-3h0m1 3h0m5 0h0m4-3h0m1 3h0m1-3h0m3 1h0m1-2h0m3 3h0m4-1h0m3-2h0m2 3h0m2-2h0m1 5h0m2-3h0m4 1h0m1-4h0m4 4h0m1-1h0m4-3h0m1 4h0m4 0h0m1-3h0m3 4h0m4-1h0m1-4h0m2 1h0m4 2h0m0-3h0m3 3h0m3-2h0m3 5h0m8-3h0m-570 7h0m335 0h0m3 1h0m24-3h0m0-1h0m1 2h0m6 0h0m2 2h0m3-4h0m1 3h0m2-3h0m3 4h0m3-4h0m2 3h0m1-2h0m1 3h0m5 1h0m3-3h0m1 1h0m5-3h0m1 3h0m2 0h0m2-3h0m4 3h0m4 2h0m3-6h0m1 6h0m2-5h0m3 3h0m0-3h0m3 0h0m1 4h0m2-1h0m2-3h0m3 3h0m1-3h0m4 4h0m2-2h0m0 3h0m3-4h0m3 3h0m3 0h0m2-3h0m5 3h0m2 0h0m3-3h0m2 3h0m3-1h0m0-3h0m2 0h0m2 5h0m2-4h0m2 2h0m6 1h0m1-4h0m3 0h0m1 3h0m2 0h0m5-4h0m0 4h0m3-2h0m1 3h0m2-3h0m2 3h0m3 0h0m0-3h0m3-2h0m4 2h0m6 2h0m4-4h0m1 5h0m3-4h0m3 4h0m1 0h0m1-3h0m2-1h0m2 5h0m3-4h0m1 2h0m3-4h0m1 4h0m3-4h0m3 4h0m1-3h0m1 4h0m3-4h0m4 4h0m0 0h0m0 1h0m7-4h0m-217 7h0m26 1h0m6-3h0m1 4h0m1-2h0m3 2h0m2-3h0m2 4h0m2-5h0m4 3h0m1-3h0m3 4h0m0-2h0m1 2h0m3-1h0m4-2h0m5 0h0m2 2h0m3-3h0m4 2h0m2 0h0m6-1h0m4 1h0m4 2h0m1-1h0m2 1h0m2-1h0m2 1h0m2-3h0m1 4h0m2-5h0m2 5h0m2-5h0m5 4h0m1-2h0m3 3h0m1-4h0m4 0h0m2 4h0m3-5h0m3 2h0m1 2h0m2-2h0m3 2h0m3-3h0m2 0h0m1 4h0m5-4h0m2 3h0m1-2h0m5 0h0m2 2h0m3-2h0m5 0h0m2-3h0m0 3h0m2 2h0m1-5h0m1 1h0m2 5h0m2-5h0m5 0h0m4 4h0m1-3h0m3 0h0m0 3h0m3 0h0m1-2h0m5 0h0m0 3h0m3-2h0m1-2h0m3 3h0m3-3h0m6 0h0m0 0h0m0 2h0m11-2h0m-224 8h0m17-4h0m2 4h0m0 0h0m8-1h0m1 1h0m6 0h0m3 1h0m4-2h0m6 0h0m4 3h0m1-3h0m1 1h0m7-1h0m0-2h0m1 5h0m3-3h0m2-2h0m2 1h0m3 0h0m3-1h0m2 3h0m0-3h0m4 2h0m0-2h0m5 4h0m1-4h0m1 2h0m7 2h0m4-2h0m3-1h0m4 2h0m3-1h0m5-1h0m2 4h0m1-1h0m3-3h0m1 3h0m7 0h0m1-4h0m3 1h0m2 1h0m5-1h0m6 3h0m1-4h0m3 2h0m4 2h0m1-5h0m2 6h0m0-4h0m3 1h0m3-2h0m4 1h0m0 0h0m3 1h0m5 0h0m4 0h0m1-2h0m3 4h0m2 1h0m3-1h0m2-2h0m4 0h0m4 2h0m3 1h0m1-3h0m7-2h0m5 1h0m-202 7h0m14 2h0m1-5h0m9 5h0m1-4h0m6 3h0m0-1h0m2-2h0m4 3h0m0-3h0m5 3h0m2 2h0m1-6h0m7 5h0m4-3h0m1 3h0m2-3h0m6-2h0m1 4h0m2-3h0m1 3h0m2-3h0m4 1h0m0 3h0m4-4h0m7 0h0m0 2h0m2 0h0m2 3h0m3-4h0m2 4h0m1-4h0m3 4h0m2-5h0m2 4h0m5 0h0m3-3h0m4-1h0m2 3h0m0-4h0m5 1h0m4 0h0m3 3h0m1-2h0m4 3h0m1-3h0m3-2h0m7 5h0m1-4h0m4 4h0m1-5h0m3 5h0m2-3h0m3 4h0m0-5h0m5 1h0m3-2h0m2 3h0m6 1h0m3-1h0m2 2h0m1-3h0m3 2h0m1-1h0m1 3h0m3-2h0m8-3h0m3 2h0m-205 4h0m4 3h0m2 2h0m3-6h0m6 5h0m4-3h0m4 1h0m1-2h0m0 1h0m1 4h0m1-5h0m2 4h0m2 0h0m1-5h0m1 2h0m0 3h0m2-1h0m4-2h0m3 4h0m1-3h0m3 2h0m2-1h0m1 1h0m4-1h0m3-4h0m2 4h0m2-2h0m2 3h0m4-2h0m1-3h0m1 5h0m2-1h0m3-3h0m2 4h0m4-2h0m2-2h0m0 4h0m4-5h0m0 2h0m0 4h0m3-6h0m1 6h0m1-4h0m3 0h0m5 3h0m0-4h0m4 4h0m0-3h0m3 3h0m3-1h0m3-3h0m4 2h0m2 2h0m1-5h0m2 3h0m5-3h0m0 3h0m4-2h0m1-1h0m2 1h0m5 2h0m2 2h0m1-4h0m4-1h0m0 6h0m1-5h0m2-1h0m1 5h0m0-3h0m5 3h0m2-3h0m3 0h0m4-1h0m3 2h0m2 3h0m1-6h0m2 2h0m3-2h0m3 4h0m2-2h0m3 4h0m2-5h0m4 1h0m0 3h0m8 0h0m3-4h0m6 4h0m21-3h0m2 3h0m-221 4h0m6-2h0m1 3h0m10-1h0m2-1h0m1 1h0m0 0h0m4 2h0m3 0h0m3-1h0m2-2h0m1 0h0m4 3h0m5 0h0m3-2h0m3-1h0m4-2h0m0 4h0m2 1h0m4 0h0m5 0h0m1-4h0m4 4h0m3 0h0m4-1h0m6 0h0m4 0h0m1-2h0m2 0h0m6 2h0m3 0h0m6-1h0m1-2h0m3 2h0m1-2h0m2 4h0m3 0h0m1-5h0m3 2h0m5-2h0m0 4h0m3-2h0m1 3h0m3-2h0m1-2h0m4 2h0m4-1h0m4 1h0m6 0h0m3-2h0m1 3h0m1-3h0m2 2h0m3-2h0m1 4h0m5-2h0m2-3h0m2 5h0m3-4h0m5 2h0m7-1h0m0-1h0m12 5h0m17 0h0m-194 2h0m1-2h0m7 1h0m3 4h0m4-3h0m1 4h0m3-3h0m5 0h0m1 1h0m2-3h0m3-1h0m4 4h0m1-2h0m3 2h0m2-1h0m3-2h0m4 1h0m6 0h0m2 2h0m1-4h0m5 3h0m1 3h0m3-5h0m1 3h0m2-2h0m2 2h0m4-3h0m2 3h0m1-4h0m2 5h0m1-4h0m6 1h0m4-1h0m1 5h0m2-4h0m5-2h0m2 4h0m3-1h0m2 0h0m0 2h0m3-1h0m1-3h0m5 4h0m2-2h0m2-1h0m0 2h0m4 1h0m2-4h0m1 5h0m3-4h0m3-1h0m5 1h0m1 2h0m3-2h0m1 2h0m2-4h0m4 2h0m15 2h0m12-2h0m16 2h0m-182 7h0m1 1h0m2-3h0m2-1h0m4 1h0m2 2h0m2-5h0m3 4h0m3 0h0m1-4h0m4 3h0m2 3h0m2-4h0m4 1h0m1-2h0m3-1h0m0 4h0m1 1h0m1-1h0m3 1h0m1-4h0m0 2h0m5 3h0m1-2h0m3-4h0m0 3h0m0 3h0m5-5h0m4 2h0m3 1h0m1 1h0m2 1h0m2-4h0m5-1h0m3 0h0m3 3h0m1-4h0m3 2h0m4-2h0m0 2h0m2 4h0m0-3h0m4-2h0m4 4h0m3-3h0m4 1h0m1 2h0m1-2h0m4-2h0m0 4h0m4-3h0m5 0h0m2 4h0m2-6h0m2 0h0m13 2h0m2 2h0m0-4h0m4 2h0m10 1h0m9-1h0m9 1h0m11 0h0m0 3h0m0-1h0m-185 3h0m7 1h0m1 1h0m0-3h0m3 0h0m2 4h0m5-1h0m2-2h0m1 3h0m2-4h0m2 4h0m4 0h0m1-4h0m2 1h0m4 2h0m1-2h0m4 3h0m6-2h0m4 1h0m4 0h0m3-4h0m1 2h0m3-1h0m1 2h0m3 0h0m5 1h0m3-2h0m1 3h0m3-4h0m2 1h0m0 3h0m4-2h0m2-2h0m2 3h0m3-1h0m4-2h0m0 3h0m8-2h0m1 0h0m2 3h0m8-1h0m3-3h0m6 2h0m11 1h0m30-2h0m3 2h0m-163 5h0m4-3h0m0 2h0m4 1h0m3-1h0m3 0h0m4 2h0m0-2h0m2 3h0m3-4h0m1 3h0m3-1h0m3 2h0m2-2h0m2 2h0m2-2h0m3 0h0m0 3h0m3-3h0m3 2h0m4-4h0m1 4h0m3-2h0m1 2h0m1-3h0m4 0h0m3 3h0m2-3h0m3 2h0m1-3h0m2 4h0m4 1h0m0-5h0m5 1h0m8-2h0m2 0h0m23 4h0m7 0h0m18-3h0m17 3h0m31-3h0m1 3h0m2-2h0m-176 5h0m4 0h0m2 0h0m4 3h0m4 2h0m0-4h0m3 4h0m1-2h0m5-2h0m5 1h0m1-3h0m2 6h0m1-1h0m5-2h0m5 0h0m4-2h0m0 5h0m11-1h0m4-5h0m1 0h0m1 3h0m3-1h0m13-1h0m25 3h0m10 1h0m42-2h0m7 0h0m6 1h0m-165 5h0m3-3h0m0 1h0m11 5h0m1-3h0m1-1h0m4 1h0m0 3h0m11-5h0m12-1h0m24 1h0m5 0h0m11 4h0m31 0h0m15-4h0m7 2h0m18-1h0m14 0h0m-135 10h0m28-2h0m3-3h0m6 1h0m6 3h0m35-4h0m34 5h0m19-2h0m-246 6h0m136 2h0m7-4h0m31 1h0m5-2h0m16 3h0m14 0h0m31 1h0m3-5h0m-118 10h0m41-3h0m11 4h0m15-1h0m35-2h0m-70 5h0m23-1h0m39 2h0m-21 5h0m21-1h0m30 4h0m-49 4h0m19-1h0m8 2h0m11 3h0m-43 3h0m10-1h0m33-1h0m3 2h0m-41 3h0m13 3h0m77 2h0m-64 4h0m10 0h0m-26 5h0m1-2h0m11 2h0m5 0h0m51 6h0m-144 20h0m138-3h0m-237 39h0m-77 15h0m-57 7h0m303 162h0m16-1h0m7 2h0m-13 8h0m11 4h0m-19 17h0m16 2h0" stroke="#F8766D"/>
<path d="M631 75h0m-26 4h0m23 1h0m10 1h0m5-3h0m9 3h0m1-2h0m2 1h0m-56 5h0m1 1h0m10-2h0m12 2h0m7-2h0m1-1h0m4 3h0m3-3h0m1 3h0m5 0h0m5-2h0m2 0h0m0-1h0m2-1h0m3 2h0m3-2h0m1 3h0m2 1h0m-84 6h0m2-3h0m3-1h0m2 4h0m9-2h0m4 0h0m4 2h0m3-3h0m2 0h0m3 1h0m1 1h0m7-3h0m3 1h0m1 3h0m3-1h0m5-2h0m1 4h0m1-5h0m5 2h0m2 1h0m1-3h0m4 2h0m1 2h0m3-3h0m0 3h0m6-2h0m3 0h0m2 3h0m3-5h0m-113 9h0m2-1h0m1-1h0m2 2h0m4 0h0m3-3h0m2 1h0m0-2h0m3 1h0m2 2h0m7 2h0m4-2h0m4 1h0m3 0h0m2-3h0m3 3h0m3-3h0m1 1h0m2-2h0m2 3h0m5 0h0m0-2h0m3 3h0m6-2h0m0-1h0m3 3h0m3-3h0m0 2h0m5 0h0m2-2h0m0 5h0m2-2h0m5-2h0m2-2h0m2 5h0m0-3h0m6 0h0m2 0h0m4 1h0m2-2h0m1 5h0m0 0h0m1-1h0m3 0h0m0-3h0m3 2h0m6-4h0m-135 9h0m3 2h0m6 1h0m1-1h0m4-4h0m3 3h0m2 0h0m4 1h0m7-2h0m3-1h0m0 3h0m2-1h0m2-2h0m2 2h0m3-2h0m2 1h0m3-3h0m5 1h0m1 2h0m3-1h0m1 0h0m1 2h0m4 1h0m1-3h0m3 4h0m2-5h0m0 4h0m4-5h0m3 3h0m1-1h0m2 3h0m1-4h0m2 3h0m4-2h0m2-2h0m1 6h0m3-1h0m1-2h0m1-1h0m2 3h0m2 0h0m3-3h0m2 3h0m6 0h0m1-5h0m4 1h0m-121 7h0m5 3h0m0 0h0m2 1h0m5 0h0m5-4h0m1 2h0m4-1h0m3-2h0m2 4h0m1-4h0m2 4h0m4-3h0m1-2h0m4 2h0m2 3h0m0-3h0m6 1h0m0 2h0m4 1h0m0-4h0m4 1h0m0-3h0m2 5h0m0-3h0m4 4h0m2-3h0m1 2h0m4-4h0m2 5h0m3-5h0m3 0h0m2 1h0m1 3h0m3-2h0m3-1h0m0 3h0m1-3h0m6-1h0m3 2h0m1 2h0m4-3h0m3-2h0m2 1h0m5 0h0m4 0h0m4 0h0m0 1h0m5 0h0m-135 9h0m3-1h0m3-1h0m4 2h0m0-5h0m5 3h0m5 0h0m6 0h0m1-2h0m1 2h0m4-1h0m3-1h0m2 2h0m4 2h0m5 0h0m3-4h0m1 3h0m5-1h0m0-3h0m4 3h0m2 1h0m4 2h0m2-2h0m4-2h0m7 3h0m2-2h0m4 1h0m2-3h0m1 0h0m0 5h0m1-3h0m2-2h0m3 0h0m2 1h0m14-1h0m24 2h0m-130 7h0m2-3h0m3 4h0m1-4h0m3 4h0m3-3h0m4 0h0m3 3h0m2-4h0m1 3h0m2-1h0m3 3h0m2-4h0m1 2h0m1-3h0m1 4h0m2 1h0m1-4h0m3 3h0m1-3h0m4-1h0m4 0h0m4 2h0m2 1h0m0-3h0m1 0h0m2 0h0m2 4h0m3-5h0m0 2h0m0 4h0m4-3h0m1 0h0m1-1h0m6 0h0m0-2h0m0 5h0m2-4h0m5 1h0m11 1h0m1-3h0m7 2h0m9-2h0m7 6h0m3-5h0m10 2h0m4 0h0m1 0h0m-147 9h0m1-4h0m8 2h0m3 0h0m4-2h0m4-1h0m2 4h0m2-3h0m3-2h0m1 5h0m2-3h0m0 4h0m3-3h0m4 0h0m4-2h0m8 4h0m4-2h0m1-3h0m3 2h0m3-2h0m0 1h0m2-1h0m1 0h0m4 4h0m6-1h0m0-2h0m7 0h0m5 3h0m25 1h0m6-2h0m19-2h0m-147 10h0m13-3h0m1-2h0m2 5h0m1-4h0m3 2h0m1-3h0m3 2h0m2-2h0m3 0h0m2 5h0m4-4h0m6 4h0m22-2h0m65 0h0m22-3h0m-141 8h0m3 0h0m3 0h0m3 1h0m0-2h0m2 3h0m9-1h0m8-2h0m12 0h0m75 4h0m3-4h0m9 0h0m4-1h0m-135 8h0m7-1h0m110 5h0m2-2h0m6 1h0m5-2h0m-123 9h0m8-3h0m4-3h0m100 4h0m2 1h0m2-4h0m14 0h0m-158 10h0m6-1h0m13-2h0m9-2h0m7 0h0m-9 6h0" stroke="#DE8C00"/>
<path d="M552 168h0m0 6h0m10-2h0m0 3h0m35-2h0m8 2h0m-81 7h0m10 0h0m4 0h0m14 1h0m1-2h0m15-3h0m13 0h0m14 1h0m-67 6h0m51-1h0m8 5h0m2-1h0m4-2h0m3 1h0m15-3h0m11 3h0m-97 4h0m6 1h0m2 3h0m3-3h0m1-2h0m5 3h0m1 0h0m5 2h0m1-6h0m0 0h0m1 1h0m1 3h0m5 2h0m5-5h0m3 5h0m1-3h0m11-1h0m1 0h0m0-1h0m2 1h0m1 3h0m6-3h0m4 1h0m3 2h0m0-5h0m1 1h0m1 3h0m1 2h0m4-3h0m7-2h0m-94 9h0m1 0h0m15-3h0m5 0h0m2 2h0m1-1h0m2 3h0m1-4h0m1 5h0m2-1h0m2-4h0m3 2h0m4 1h0m2-4h0m1 3h0m4 0h0m2 0h0m6 0h0m1 2h0m10-2h0m2 0h0m3-1h0m2 2h0m3-3h0m2 3h0m3 1h0m2-1h0m3-1h0m2-1h0m1 2h0m2-2h0m1-1h0m3 4h0m4 0h0m4-5h0m-91 7h0m6 4h0m0-3h0m4 2h0m0-2h0m2-1h0m4 4h0m2-4h0m0 4h0m5-3h0m1 3h0m2-4h0m1 3h0m1-2h0m2 1h0m3 1h0m2-3h0m5 3h0m0-2h0m4 0h0m4-1h0m1 2h0m1 3h0m3-1h0m3-4h0m0 5h0m3-5h0m1 1h0m2 4h0m3-6h0m0 6h0m4-5h0m1 1h0m0 3h0m3-4h0m4 1h0m2 3h0m2 0h0m0-2h0m2 1h0m2-2h0m2 3h0m1-4h0m3 1h0m6 2h0m4-2h0m3 2h0m-119 8h0m14-1h0m1-5h0m1 4h0m4 0h0m0 2h0m5-4h0m0 4h0m2-4h0m2 2h0m2 2h0m2-4h0m3 0h0m5 2h0m4-1h0m4 0h0m4 2h0m0-5h0m1 3h0m4 1h0m3-4h0m0 2h0m3 0h0m1 0h0m5 2h0m4-1h0m2 3h0m3-3h0m2 2h0m2-3h0m3 2h0m0 2h0m2-5h0m1 4h0m3-4h0m3 3h0m6 0h0m3-4h0m2 0h0m4 4h0m-99 2h0m1 1h0m6 4h0m1-3h0m1 1h0m4 1h0m4 0h0m1 1h0m3-2h0m1-2h0m3 4h0m3-4h0m1 3h0m3-2h0m1 3h0m3-5h0m2 5h0m3-2h0m3-1h0m2 2h0m2 1h0m2-4h0m1 3h0m2-3h0m0 2h0m5-2h0m2 5h0m1-6h0m2 5h0m4 0h0m4-1h0m6 0h0m3-1h0m3-2h0m1 2h0m1-3h0m3 3h0m3-2h0m1 1h0m1 2h0m1-1h0m-104 3h0m10 4h0m3-1h0m2 1h0m2-3h0m1 4h0m3-4h0m2 1h0m0 3h0m1-2h0m6 0h0m4-1h0m1 2h0m4-2h0m2-1h0m4 4h0m2-4h0m2 1h0m0 3h0m1-5h0m0 5h0m1-1h0m2-2h0m4 0h0m1-1h0m2 4h0m4-4h0m4 2h0m2 1h0m2-3h0m2 1h0m1-1h0m4 0h0m4 1h0m2 2h0m3-2h0m3 2h0m2-3h0m5 0h0m0 1h0m4 0h0m0 0h0m-94 6h0m11 1h0m1-1h0m2-2h0m2 6h0m1-3h0m1-2h0m0 0h0m4 1h0m3-1h0m0 1h0m2 4h0m1-4h0m5 0h0m0-2h0m4 2h0m1 1h0m3-2h0m4 4h0m3-1h0m2-4h0m0 3h0m2 2h0m1-1h0m1-1h0m3-2h0m1 2h0m6-2h0m1 3h0m2 0h0m3-4h0m1 4h0m0 2h0m0-1h0m2-4h0m1 2h0m1 1h0m4-2h0m2 0h0m4-1h0m0-1h0m0 5h0m1 1h0m8-5h0m-102 6h0m4 2h0m12-2h0m2 2h0m2 2h0m10-2h0m1-1h0m2 3h0m4 0h0m2-4h0m2 5h0m2-5h0m0 4h0m3-1h0m2-3h0m2 4h0m0-2h0m5 2h0m2-4h0m0 4h0m6 0h0m3 0h0m0-4h0m4 3h0m1-3h0m2 0h0m10-1h0m4 0h0m4 2h0m15 3h0m3 0h0m8-3h0m-95 7h0m16-2h0m1 3h0m7-1h0m2 0h0m6-1h0m1-1h0m3 2h0m2 0h0m7 1h0m1 1h0m9-1h0m4 1h0m23-3h0m8 1h0m0-2h0m3 1h0m-84 8h0m5-4h0m2 3h0m16 1h0m-62 3h0m6 2h0m6 0h0m7 2h0m59-5h0m21 5h0m-73 2h0m21-1h0m-7 11h0m9 2h0m5 0h0m11 2h0m-47 7h0m25 0h0m0 11h0m1 12h0m180 11h0m-164 52h0" stroke="#B79F00"/>
<path d="M660 88h0m4 7h0m48 1h0m-57 4h0m-442 78h0m5 1h0m119 8h0m10-1h0m12 2h0m-157 5h0m25 1h0m7-2h0m4 3h0m11 0h0m8-1h0m2-2h0m3-3h0m1 4h0m1-4h0m2 5h0m3-1h0m6-4h0m2 5h0m0-4h0m8-1h0m5 0h0m35 5h0m3 1h0m2-2h0m2-2h0m5 1h0m1-2h0m0 5h0m5-3h0m7 0h0m5 3h0m9-4h0m-164 9h0m2-1h0m0 0h0m6-3h0m1 2h0m1-1h0m8 3h0m7-4h0m2 3h0m3 0h0m6 1h0m12 0h0m4 0h0m3 0h0m3-2h0m1 2h0m3-4h0m2 4h0m3-3h0m1 2h0m3-3h0m1 5h0m1-6h0m5 1h0m3 4h0m3-2h0m0-3h0m3 5h0m3-4h0m32 3h0m3-1h0m5 1h0m3-3h0m4 4h0m4 0h0m4-2h0m3-1h0m1 2h0m2-3h0m2 4h0m1-3h0m5 3h0m5 0h0m0-5h0m-183 10h0m2 2h0m5-1h0m2-5h0m1 1h0m1 4h0m7-3h0m1 3h0m2-3h0m4-2h0m0 1h0m2 2h0m2-3h0m0 4h0m3-2h0m5-1h0m4 1h0m2-2h0m1 1h0m4 1h0m3 2h0m1-1h0m2 1h0m3-2h0m3-2h0m0 1h0m4 0h0m3 4h0m1-4h0m5 0h0m3 5h0m1-3h0m5 0h0m3 2h0m1-2h0m3 2h0m1-1h0m1 2h0m3-2h0m0-1h0m3-3h0m2 1h0m3 3h0m0-4h0m8 0h0m7 4h0m5-1h0m4-1h0m2-1h0m2 0h0m1 0h0m3 5h0m6-2h0m2-2h0m8-1h0m0 4h0m5 0h0m2 0h0m5-3h0m1 3h0m7-1h0m5 0h0m2-1h0m-185 6h0m3 1h0m0 2h0m13-1h0m4-2h0m3-2h0m0 5h0m2-3h0m1 0h0m3-2h0m2 3h0m2-3h0m1 5h0m1-2h0m4 1h0m4-5h0m1 3h0m3-2h0m1 1h0m2 3h0m1-5h0m1 2h0m2-1h0m0 5h0m1-4h0m5 2h0m5-1h0m1-2h0m1 5h0m1-2h0m2-3h0m3 2h0m2 3h0m1-3h0m3-3h0m3 4h0m3 0h0m3-3h0m2 4h0m1 1h0m2-3h0m3 2h0m1 0h0m0-2h0m4 0h0m9-1h0m20-1h0m14 2h0m1 2h0m6-1h0m4-3h0m1 2h0m8 1h0m2-2h0m3 2h0m5-1h0m5-1h0m3-1h0m0 4h0m-203 6h0m7-3h0m1-2h0m3 3h0m1 0h0m1 1h0m3 1h0m5-1h0m4 0h0m1-2h0m3 1h0m2-2h0m2 2h0m3 1h0m0-2h0m4 0h0m1 4h0m4-1h0m2-3h0m2 2h0m2-2h0m3 3h0m3 1h0m3-1h0m0-4h0m2 0h0m2 3h0m4-3h0m1 2h0m4 0h0m5-1h0m0 2h0m3-1h0m3-2h0m2 3h0m2 2h0m3-4h0m2 1h0m4 2h0m4-4h0m2 5h0m2-4h0m1 2h0m2 1h0m1 0h0m0-4h0m3 2h0m14-1h0m3 2h0m35 1h0m3-5h0m8 4h0m0-3h0m9 2h0m6-2h0m0 4h0m28 0h0m-212 4h0m6-2h0m6 2h0m2 1h0m2-3h0m1 5h0m3-5h0m3 1h0m3 3h0m3-4h0m1 3h0m2-1h0m3-3h0m1 4h0m2 2h0m3-4h0m5 1h0m0 2h0m2-2h0m5-1h0m3-1h0m2 5h0m4-5h0m1 3h0m1-3h0m2 5h0m4-4h0m4 0h0m1 2h0m1-3h0m7 2h0m0 2h0m3-1h0m5-3h0m3 2h0m2 3h0m3-3h0m2 1h0m1-3h0m0 2h0m4-1h0m3 0h0m0 2h0m15-2h0m6 3h0m12-2h0m2 2h0m9 0h0m2-3h0m10-2h0m2 1h0m2 3h0m5-2h0m26 2h0m4 1h0m4 0h0m3-4h0m2 1h0m1 3h0m6-1h0m6-1h0m-225 8h0m8 1h0m0-6h0m0 4h0m4 0h0m2 2h0m1-3h0m5 1h0m2-1h0m0-2h0m5 1h0m2 4h0m3-4h0m4 0h0m3 2h0m2 2h0m1-5h0m2 1h0m2 4h0m1-4h0m3-1h0m3 3h0m2-3h0m0 2h0m4-1h0m4 3h0m2-1h0m2 1h0m2-5h0m1 4h0m2-1h0m5 0h0m1 3h0m1-3h0m1-2h0m2 4h0m3-2h0m2-2h0m1 1h0m2-2h0m7 5h0m0 0h0m2-2h0m1 2h0m17-1h0m3 2h0m2-4h0m7 3h0m11 1h0m3-1h0m6-4h0m0 4h0m2-1h0m9-4h0m0 3h0m31 1h0m8-1h0m9-1h0m3 3h0m10-3h0m5 1h0m13 1h0m0 1h0m-233 5h0m6-1h0m2 0h0m2-1h0m3 2h0m1-2h0m4 1h0m1-1h0m1 1h0m5 2h0m3-4h0m3 5h0m1-4h0m1 2h0m3 1h0m4-2h0m3-2h0m4 2h0m2-1h0m1 3h0m2-4h0m2 3h0m4 0h0m3 0h0m4-3h0m3 4h0m0-3h0m2 1h0m4 0h0m5 3h0m1-5h0m0 3h0m4-2h0m1-2h0m0 2h0m0-1h0m1 4h0m3-5h0m1 5h0m2-3h0m4 4h0m3-4h0m2-1h0m3 4h0m5 1h0m7-3h0m4 2h0m2-3h0m6 1h0m16 1h0m2-4h0m4 4h0m1-1h0m2 2h0m3-1h0m3 0h0m5 1h0m0-2h0m2-1h0m10 4h0m14-2h0m5-3h0m0 2h0m12 2h0m2-5h0m9 0h0m5 4h0m4-3h0m0 0h0m-231 7h0m7-1h0m1 5h0m2-3h0m2 2h0m3-4h0m4 4h0m0-2h0m2 1h0m3-2h0m1 4h0m2-4h0m2 4h0m2-3h0m5-2h0m3 5h0m2-5h0m3 1h0m2 2h0m1-1h0m5 2h0m1 0h0m0-2h0m4-1h0m1 3h0m2-4h0m3 4h0m2-2h0m4-2h0m3 0h0m3-1h0m1 5h0m3-1h0m3-3h0m2 1h0m0 2h0m5 0h0m4 1h0m5-3h0m0 0h0m3 1h0m1 3h0m3-6h0m1 4h0m4-2h0m5 0h0m2-1h0m0 5h0m2-3h0m2-2h0m3 4h0m3-3h0m3-2h0m3 5h0m1 1h0m1-6h0m2 1h0m0 4h0m3 0h0m4-5h0m2 3h0m2-1h0m5 2h0m1 2h0m4-3h0m4 0h0m6 0h0m3 1h0m3 0h0m19 0h0m3-1h0m5-2h0m4 1h0m9 1h0m1 3h0m5-1h0m16-4h0m9 3h0m0 1h0m-243 7h0m3-3h0m3-1h0m5 1h0m1 2h0m0-2h0m6 0h0m5 1h0m1-2h0m6 1h0m1-3h0m2 2h0m2 4h0m3-5h0m3-1h0m1 4h0m3 0h0m4 0h0m5-1h0m1 1h0m0 0h0m2 2h0m4 0h0m2-2h0m1 2h0m2-6h0m2 0h0m1 6h0m4-3h0m5 3h0m3-4h0m1 3h0m2-4h0m4 2h0m0-3h0m1 5h0m4-3h0m4 0h0m3 4h0m4-1h0m3-5h0m1 6h0m1-5h0m4 3h0m3 1h0m1-2h0m3 2h0m3-4h0m4 2h0m0-3h0m4 4h0m2-1h0m3 0h0m3-2h0m1 3h0m2 1h0m3-5h0m1 5h0m4-3h0m3 3h0m2 0h0m1-4h0m3 3h0m2-3h0m3 2h0m3-2h0m2 4h0m2-5h0m3 5h0m0-5h0m4 6h0m3-4h0m10 4h0m4-4h0m1 2h0m4-4h0m3 1h0m4 0h0m15 0h0m12 4h0m10 1h0m-243 2h0m5-1h0m4 2h0m1 0h0m3-2h0m5 0h0m5 0h0m1 3h0m2-2h0m1 0h0m1 4h0m0-2h0m4-4h0m0 4h0m2-1h0m2 2h0m2-1h0m1-1h0m0 0h0m2-2h0m2 5h0m2-4h0m2-2h0m1 1h0m1-1h0m5 2h0m1-1h0m2 1h0m0 4h0m2-3h0m5 1h0m4-1h0m1-1h0m7 1h0m4 0h0m1 3h0m2-3h0m4 0h0m4 0h0m3-3h0m3 3h0m3 2h0m2-2h0m2 0h0m0 2h0m3 0h0m2-1h0m2 2h0m3-3h0m5-1h0m3 2h0m3 1h0m2-2h0m2-1h0m4 3h0m2-1h0m3-1h0m5-1h0m5 0h0m5 1h0m2-2h0m5 2h0m6 0h0m2 3h0m1-4h0m3-1h0m11 3h0m0 1h0m1-4h0m5 0h0m18 1h0m8 1h0m2 1h0m6-1h0m16-2h0m4 4h0m-241 2h0m4 4h0m2-5h0m3 2h0m1 3h0m1-3h0m3 2h0m0-3h0m2 3h0m4-2h0m3 3h0m0-1h0m2-2h0m2 2h0m4-4h0m0 5h0m4 0h0m1-3h0m2 3h0m6 0h0m2-5h0m0 3h0m2-2h0m4 4h0m3 1h0m3-6h0m1 4h0m2-3h0m3 2h0m4-2h0m1 4h0m2-4h0m3 2h0m0-2h0m5 4h0m2-1h0m2-3h0m4 4h0m0-3h0m4 1h0m0-2h0m5 4h0m1-1h0m6 0h0m5 2h0m3-3h0m3-2h0m2 4h0m1-5h0m4 4h0m4 1h0m2-4h0m3 4h0m4-2h0m2-3h0m2 4h0m2-3h0m3 2h0m1-1h0m3 2h0m1-3h0m2 2h0m3-2h0m2 2h0m1-3h0m3 5h0m2-4h0m2 3h0m6 0h0m2-2h0m1 2h0m1-2h0m13 1h0m4-2h0m6 0h0m12 2h0m26 0h0m-238 3h0m3 5h0m0 0h0m2-2h0m0 0h0m3 2h0m4-3h0m2 3h0m2-2h0m4-1h0m2 4h0m1-6h0m1 4h0m2-1h0m3 2h0m2-3h0m2 3h0m2-4h0m4 4h0m3-2h0m2 0h0m2 1h0m3-3h0m2 5h0m1-5h0m3 3h0m3-2h0m3-1h0m0 3h0m3 1h0m1-3h0m4 3h0m1-4h0m4 4h0m1-3h0m1 3h0m4-3h0m1 2h0m2-1h0m2 3h0m3-6h0m3 2h0m6 4h0m1-6h0m3 1h0m4 0h0m3 4h0m3-3h0m1 0h0m1 2h0m3 0h0m2-3h0m3 2h0m6-2h0m5 0h0m0 4h0m4-2h0m2-1h0m2 3h0m3-2h0m3 1h0m2-1h0m3 3h0m1-6h0m3 5h0m2-2h0m2 2h0m3-3h0m2 3h0m2-4h0m1 5h0m1-6h0m7 1h0m1 4h0m3-4h0m2 0h0m1 2h0m3-2h0m1 3h0m9-2h0m7 0h0m7 1h0m0 2h0m7-3h0m5 2h0m0-4h0m10 4h0m7-2h0m6 3h0m1-5h0m-237 8h0m3 1h0m3 0h0m2-3h0m1 6h0m0-2h0m6 0h0m6-1h0m2-1h0m2 3h0m4-2h0m3 1h0m2-3h0m1 4h0m7 1h0m0-2h0m5 0h0m2 0h0m3 2h0m2-1h0m5-1h0m2 2h0m1-3h0m4 1h0m6-1h0m5 1h0m1 0h0m5-1h0m1-3h0m4 1h0m0 2h0m4 0h0m3-3h0m1 3h0m5 1h0m6-2h0m2 4h0m2-2h0m2 2h0m0-5h0m2 1h0m2 4h0m0-5h0m0 1h0m2-1h0m3 1h0m6-1h0m0 2h0m3 2h0m4-3h0m4 3h0m1-3h0m5 0h0m3 2h0m3-1h0m5 0h0m7-1h0m0-1h0m3 3h0m3 2h0m1-3h0m6 1h0m1-2h0m3-1h0m1 4h0m2-5h0m6 5h0m7-4h0m4 1h0m1-1h0m9 2h0m7 3h0m14-4h0m-231 4h0m3 3h0m3 1h0m0-2h0m4 3h0m5-3h0m0 1h0m3 2h0m1-4h0m3 0h0m2 5h0m3 0h0m2-5h0m5 3h0m1-2h0m1 2h0m3-4h0m1 6h0m4-1h0m2-3h0m4 4h0m4-2h0m4-4h0m2 5h0m2 1h0m4-4h0m0 2h0m3-4h0m2 4h0m2-2h0m3 3h0m1-3h0m2 3h0m5-5h0m1 3h0m1-1h0m4-1h0m0 2h0m4 1h0m2-2h0m2 4h0m3-2h0m0-2h0m1 0h0m5 2h0m3 0h0m6 1h0m1-2h0m3-1h0m1 2h0m5-3h0m3 3h0m0-1h0m2 0h0m1-2h0m4 4h0m4 0h0m1-3h0m2 4h0m5-4h0m0 4h0m1-6h0m5 5h0m1-4h0m1 5h0m5-6h0m1 6h0m1-5h0m2 5h0m5-3h0m4 0h0m5 0h0m3-3h0m7 6h0m1-5h0m24 2h0m9-1h0m4 3h0m-229 3h0m3 3h0m1 1h0m2-2h0m5-3h0m5 2h0m2-1h0m7-1h0m3 1h0m1 3h0m5-2h0m2-1h0m4 4h0m2-4h0m2 1h0m6-2h0m2 5h0m2-3h0m4 1h0m2 1h0m4-3h0m0 3h0m3-4h0m3 4h0m0-3h0m7-1h0m1 4h0m2-3h0m2 1h0m5 0h0m5-2h0m6 1h0m2 3h0m1-3h0m4 0h0m3 3h0m3-4h0m3 2h0m3-1h0m5 0h0m4 3h0m1-3h0m3 2h0m3 2h0m2-5h0m6 2h0m0 2h0m2-3h0m7 0h0m3-1h0m2 4h0m3-2h0m1 3h0m3-4h0m4 1h0m2 3h0m3-4h0m4 3h0m1-1h0m0-2h0m8 4h0m20-6h0m9 5h0m2-4h0m7 2h0m-207 4h0m1 0h0m2 0h0m11 5h0m4-5h0m2 3h0m5 0h0m3-4h0m3 3h0m1-3h0m3 5h0m5-3h0m0 2h0m5 1h0m3-1h0m5 0h0m3 0h0m1 2h0m1-6h0m1 4h0m5-1h0m3-3h0m2 1h0m1 2h0m3 2h0m2-5h0m3 5h0m0-3h0m3 2h0m4 2h0m1-4h0m2-1h0m3 3h0m2 0h0m5-4h0m0 4h0m4-2h0m3 2h0m0-3h0m3 4h0m2 1h0m2-3h0m2-2h0m3 4h0m3 0h0m2-3h0m2 3h0m7-2h0m0-1h0m3 2h0m1-3h0m2 4h0m4 0h0m4-1h0m4-3h0m2 4h0m5-2h0m2-2h0m2 2h0m2 2h0m5-1h0m5 2h0m2-2h0m7 0h0m17 1h0m0-2h0m6 2h0m1-4h0m4-1h0m-196 7h0m10 0h0m3 1h0m4 0h0m0 3h0m1-4h0m0 2h0m5 0h0m5-1h0m2 3h0m3-3h0m3 0h0m3 4h0m1-5h0m11 1h0m3-2h0m3 4h0m1-2h0m4-1h0m1 4h0m4-2h0m3 2h0m3-1h0m1-2h0m5 0h0m5 1h0m5-2h0m1 4h0m2-3h0m3 3h0m5-2h0m0 2h0m4 0h0m1-2h0m4 2h0m0-4h0m1 4h0m5-3h0m4-1h0m2 4h0m3-3h0m2-1h0m7 1h0m1 4h0m1-4h0m4 3h0m0-2h0m4 2h0m1-4h0m3 5h0m1-3h0m1 1h0m7-1h0m-132 6h0m8-1h0m3 3h0m0-2h0m5 2h0m4-5h0m1 3h0m3-3h0m1 4h0m3-3h0m1 1h0m5 2h0m3-4h0m3 4h0m1-2h0m7 0h0m4 1h0m0 2h0m2-1h0m1-4h0m2 0h0m3 2h0m3 1h0m1-2h0m3 3h0m6-1h0m3 0h0m7 1h0m1-1h0m6 1h0m1-4h0m2 2h0m5 3h0m2 0h0m1-5h0m3 4h0m0-3h0m4 2h0m2-1h0m5 2h0m4-2h0m5 0h0m1 3h0m4-3h0m1-2h0m1 5h0m2-1h0m2-4h0m0 1h0m2 4h0m7-1h0m8 0h0m-136 3h0m10 4h0m1-4h0m4 0h0m2 3h0m5-2h0m0 2h0m1-3h0m5 2h0m0-3h0m3 4h0m1-3h0m2 3h0m6 0h0m1-2h0m4 2h0m2-3h0m1 3h0m1-2h0m4 4h0m2-5h0m2 3h0m1-4h0m3 4h0m4 0h0m0-4h0m2 0h0m2 4h0m4-2h0m1 1h0m2-2h0m1 5h0m5-6h0m4 4h0m3-2h0m2 4h0m2-5h0m1 3h0m5-3h0m2 3h0m1-3h0m3 5h0m2-5h0m3 4h0m1 0h0m6-1h0m3-3h0m0 4h0m4-5h0m1 5h0m1-1h0m-107 5h0m15 0h0m3-2h0m6 3h0m0 1h0m2-3h0m7 0h0m4 0h0m4 3h0m0-2h0m4-1h0m3-1h0m3 4h0m1-4h0m5 0h0m4 1h0m3-2h0m3 1h0m2 2h0m4-2h0m3 4h0m1-3h0m5 3h0m2-2h0m3-1h0m1 3h0m3-2h0m5-1h0m5-1h0m2 3h0m6-3h0m-111 7h0m12 0h0m4 2h0m6 0h0m4-1h0m5-3h0m0 3h0m2 3h0m0-3h0m1 2h0m1-4h0m1 3h0m4-3h0m1 1h0m0 4h0m5-1h0m3-5h0m1 2h0m4 2h0m2-4h0m4 5h0m2-4h0m3 0h0m0 2h0m3 0h0m3-3h0m2 5h0m0-4h0m9 2h0m11-1h0m-82 4h0m33 1h0m3 3h0m1-2h0m2 4h0m2-4h0m4 1h0m0 2h0m6-4h0m4 0h0m1 3h0m1 1h0m0-1h0m0 2h0m1-3h0m0 0h0m1-2h0m4 0h0m2 1h0m2 3h0m-14 3h0m1 1h0m13 2h0m-33 2h0m5 0h0m1 2h0m5-1h0m3-1h0m7 3h0m1-2h0m5 1h0m1 1h0m2-2h0m257 2h0m-277 5h0m15-2h0m264 4h0m-277 4h0m4 5h0m5 1h0m2-2h0m-9 9h0m0 2h0m1-5h0m2 1h0m1 1h0m431 2h0m-432 4h0m391-1h0m-390 5h0m388 2h0m9-3h0m-234 9h0m8 4h0m342 9h0m-338 23h0m42 0h0m-36 4h0m23 0h0m8 5h0m-3 3h0m28-2h0m-40 7h0m17 4h0m1 3h0m-114 78h0m-7 17h0m-13 5h0m1 6h0m241 1h0m25 3h0m-271 11h0" stroke="#7CAE00"/>
<path d="M356 60h0m-25 8h0m14-2h0m5 2h0m-23 3h0m5-2h0m3 3h0m2-1h0m0 0h0m1 2h0m1-4h0m3 5h0m4-1h0m2-3h0m2 3h0m4 1h0m2-4h0m3 1h0m2-1h0m0 0h0m3 5h0m0-3h0m-48 5h0m6 3h0m2-3h0m2 4h0m1-5h0m1 4h0m4-2h0m5-2h0m0 4h0m3-2h0m0 3h0m4-3h0m4-1h0m1 4h0m5-3h0m2-2h0m6 2h0m6 0h0m5 1h0m0 1h0m3 0h0m-59 4h0m1 2h0m2-2h0m1-3h0m1 2h0m3 4h0m1-1h0m4 1h0m2-4h0m2-2h0m2 3h0m4 2h0m4-3h0m3-1h0m2 2h0m2 3h0m1-3h0m2-3h0m4 3h0m0 2h0m0-4h0m4-1h0m0 4h0m3-2h0m5 0h0m12 1h0m27 3h0m5-1h0m5-1h0m-107 5h0m0 3h0m0-3h0m3 1h0m4 2h0m3-3h0m1-1h0m3 1h0m4 1h0m2-3h0m3 4h0m2-5h0m2 4h0m4-4h0m2 4h0m2-3h0m1 3h0m5-1h0m2-1h0m2 4h0m3-1h0m2-3h0m4 3h0m0-3h0m2 2h0m4-4h0m0 6h0m4-4h0m2 2h0m8-1h0m1-3h0m0 4h0m1-2h0m3 2h0m2-3h0m29 1h0m-112 9h0m0-3h0m6 1h0m4-1h0m0 4h0m6-5h0m1 5h0m3 0h0m1-5h0m2 0h0m3 4h0m1-2h0m3 1h0m1-1h0m4 2h0m1-3h0m3 4h0m1-5h0m4 5h0m0-4h0m5-1h0m1 4h0m2-4h0m6 1h0m3 2h0m0-1h0m4 0h0m4 0h0m3 1h0m1-3h0m4 5h0m4 0h0m6-4h0m-89 8h0m0-3h0m2 1h0m3 2h0m1-3h0m1 1h0m1 4h0m7-4h0m0-1h0m3 2h0m4-1h0m4 0h0m2 3h0m3-3h0m4 3h0m3-3h0m5 1h0m5 1h0m0-3h0m2 2h0m4 1h0m2-3h0m3 2h0m2 2h0m3-3h0m2 4h0m0-6h0m1 3h0m1 3h0m1-5h0m1 1h0m4 4h0m1-3h0m6-1h0m3 1h0m8 1h0m4-1h0m-94 8h0m2-3h0m1 3h0m4-3h0m3 2h0m3-2h0m2 4h0m1-5h0m2 3h0m4-2h0m2 2h0m4 1h0m1-3h0m2 3h0m2-3h0m5 4h0m0-5h0m3 2h0m2-3h0m1 5h0m2-3h0m4 3h0m0-5h0m1 4h0m4-2h0m3 2h0m4 1h0m8 0h0m4-1h0m2-3h0m3 2h0m0-1h0m4 3h0m0-3h0m4 3h0m2-3h0m2 3h0m2 0h0m1-2h0m9 1h0m10 0h0m5 2h0m-116 6h0m3-4h0m1-2h0m2 5h0m2-1h0m2 1h0m0-2h0m2 3h0m3-5h0m1 4h0m5-4h0m1 3h0m3 2h0m0-2h0m2-1h0m2 3h0m2-3h0m4 3h0m2-2h0m2-3h0m3 5h0m2-3h0m1 1h0m5-1h0m2 1h0m2-2h0m4-1h0m3 1h0m2-2h0m4 3h0m2 0h0m4 3h0m1-5h0m3 4h0m1-2h0m3 0h0m5-2h0m3 4h0m3-4h0m2 4h0m2-1h0m4-2h0m4 2h0m15-2h0m-123 5h0m6 2h0m5 0h0m4 0h0m4 1h0m3 1h0m6-1h0m5-1h0m4 1h0m5 0h0m1-3h0m2 1h0m3 0h0m2 4h0m3-1h0m3-2h0m2-3h0m4 3h0m0 3h0m2-5h0m1 2h0m2-3h0m3 3h0m2-3h0m2 3h0m2 3h0m3-2h0m3 1h0m3-5h0m2 4h0m1 2h0m1-6h0m2 3h0m5 0h0m4 1h0m4 0h0m2 2h0m-106 4h0m3-1h0m1 0h0m0 0h0m1-1h0m3 1h0m0-1h0m1 4h0m4-5h0m3 5h0m2-4h0m2 4h0m2-3h0m1 3h0m2-4h0m2 3h0m2-3h0m4 1h0m0-1h0m3 2h0m4-3h0m0 3h0m3-1h0m2 1h0m3-3h0m2 3h0m2 1h0m3-4h0m2 3h0m3-3h0m5 3h0m4-3h0m1 3h0m1-4h0m3 5h0m3 0h0m3-3h0m4 2h0m2-2h0m2 3h0m2 0h0m4-3h0m2 2h0m2-3h0m2 4h0m3-2h0m1 1h0m4 2h0m4-1h0m2-3h0m-106 5h0m5 1h0m3 3h0m1-3h0m4 1h0m1 2h0m2-4h0m6 1h0m2 4h0m2-4h0m4 1h0m4-2h0m2 4h0m3-3h0m3 0h0m1 3h0m3-4h0m4 2h0m2-3h0m2 5h0m1-2h0m2 2h0m2-3h0m6 1h0m4-2h0m4 5h0m1-5h0m1 2h0m4 3h0m1-4h0m3 3h0m1-3h0m6 0h0m3-1h0m3 2h0m5-1h0m1 3h0m6 1h0m2-2h0m2-2h0m-122 5h0m13-1h0m1 4h0m5 0h0m2-4h0m3 4h0m0 2h0m5-2h0m1-3h0m3 2h0m4 0h0m1-2h0m2 3h0m1-3h0m5 2h0m3-2h0m1 3h0m3 0h0m5-3h0m1 4h0m2-2h0m4 2h0m4-2h0m1-2h0m3 4h0m2-4h0m4 3h0m1-3h0m1 4h0m5-2h0m5 1h0m5 0h0m1-3h0m3 4h0m2-4h0m1 2h0m2-3h0m2 5h0m1-4h0m4 2h0m5 1h0m1 2h0m1-3h0m3-2h0m2 4h0m3-1h0m-109 2h0m5 0h0m5 5h0m0-3h0m5 0h0m4-1h0m4 4h0m1-5h0m4 2h0m5 1h0m2 2h0m3-5h0m2 5h0m1-3h0m3 4h0m2-5h0m0 4h0m2-2h0m5 1h0m0-4h0m6 3h0m0-3h0m4 1h0m1 4h0m2-4h0m4 4h0m1-2h0m3 3h0m1-6h0m2 4h0m3-2h0m1 3h0m3 1h0m1-5h0m1 1h0m3 3h0m3-2h0m2 2h0m1-3h0m3 4h0m7-5h0m3 1h0m2-1h0m7 4h0m2 0h0m1-2h0m2 3h0m2-5h0m-120 9h0m2-3h0m1 3h0m3-1h0m3-3h0m2 3h0m0 2h0m2-5h0m4 2h0m4 1h0m0 2h0m2-5h0m0 2h0m3-2h0m2 2h0m2 3h0m3-3h0m4 1h0m6-1h0m1 0h0m5-1h0m2-1h0m2 4h0m5 1h0m1-2h0m1 3h0m4-2h0m1 1h0m1-2h0m6 0h0m2-1h0m0 3h0m5-3h0m3 3h0m2-2h0m2 2h0m1-2h0m3 3h0m2-3h0m4-3h0m1 2h0m2 0h0m0 4h0m2-1h0m2-4h0m3 1h0m0-2h0m1 4h0m0 1h0m5-4h0m4 3h0m1-3h0m8 1h0m6-1h0m-137 8h0m13 0h0m3 2h0m1 1h0m2-5h0m2 3h0m2-2h0m4 3h0m4-2h0m2 2h0m0-4h0m5 3h0m2-4h0m4 5h0m3-5h0m0 5h0m3-1h0m0-2h0m5-2h0m0 2h0m3-1h0m1 2h0m5 0h0m5 2h0m4 0h0m1-4h0m3 1h0m4 2h0m2-2h0m3 3h0m2-2h0m5 0h0m4 3h0m1-2h0m2-3h0m3 2h0m3 1h0m4-1h0m3 1h0m7-1h0m6 0h0m7 2h0m4-1h0m2-3h0m1 5h0m-117 1h0m3 4h0m3-2h0m3 0h0m6-3h0m2 5h0m1-4h0m2 4h0m4-2h0m4 0h0m2 2h0m1-2h0m3 3h0m1-4h0m0 3h0m4-2h0m4-2h0m2 5h0m2-4h0m2 2h0m4-2h0m2-1h0m1 3h0m4-2h0m3 2h0m1-2h0m4-2h0m1 4h0m6 0h0m3-2h0m2-1h0m4 3h0m1-3h0m1 4h0m3 0h0m3-4h0m0 2h0m6 0h0m1 3h0m11-3h0m3 1h0m1-4h0m1 5h0m4-2h0m3-2h0m1 4h0m1-1h0m-140 8h0m17-1h0m11-5h0m2 4h0m4-2h0m1 3h0m2-3h0m4-2h0m0 3h0m5 2h0m1 0h0m1-3h0m4 1h0m2 2h0m0-3h0m3-1h0m3 2h0m0 2h0m2-1h0m5 0h0m2 2h0m2-3h0m0-3h0m4 6h0m0-3h0m6-1h0m1-2h0m2 2h0m5 1h0m0 2h0m2-2h0m3 3h0m2-5h0m1 3h0m4-2h0m0 1h0m4-2h0m1 4h0m1-2h0m5 0h0m3 0h0m2-2h0m3 2h0m2 3h0m3-2h0m1-1h0m2-1h0m3 2h0m3-2h0m0-1h0m4 3h0m2-3h0m12 3h0m-122 4h0m0-2h0m4 6h0m3-6h0m1 2h0m3 3h0m11-2h0m2 1h0m2-2h0m2 1h0m5 1h0m4-3h0m2 4h0m4-1h0m4 0h0m1-3h0m3 4h0m1-4h0m4 1h0m1-2h0m2 4h0m5 2h0m2-3h0m1 2h0m4-2h0m1 3h0m3-3h0m5 3h0m1 0h0m3-1h0m1-1h0m1 0h0m3 1h0m3-2h0m6-1h0m3-1h0m3 2h0m0-1h0m3 2h0m3-2h0m5 3h0m-145 6h0m31-4h0m5 3h0m2-4h0m0 3h0m3 3h0m4 0h0m4-3h0m4-2h0m1 2h0m0 2h0m1-2h0m3-1h0m1 1h0m2 0h0m0-1h0m2 1h0m0 1h0m1-2h0m1 2h0m2 0h0m2 2h0m3-4h0m0 2h0m7 0h0m1 0h0m2 2h0m1-2h0m2 0h0m0-2h0m2 0h0m5 1h0m4-1h0m1 3h0m2-2h0m4-1h0m0 2h0m4-3h0m0-1h0m2 5h0m3-1h0m6 1h0m4-5h0m2 1h0m3 0h0m2 3h0m7-3h0m13 1h0m-107 7h0m2 1h0m4 0h0m2 1h0m2-2h0m3 2h0m2-4h0m7 1h0m3 0h0m4 1h0m1-1h0m0 0h0m3-1h0m4 5h0m1-3h0m3-2h0m6 5h0m3-4h0m0 2h0m2 2h0m9-4h0m2-1h0m3 1h0m5 0h0m4-2h0m2 4h0m1-4h0m4 3h0m4-1h0m2 0h0m5 4h0m5-3h0m-94 8h0m0-4h0m2 5h0m3-2h0m1-1h0m2-1h0m5 3h0m3-4h0m2 3h0m0 1h0m4-1h0m3-2h0m2 2h0m3-1h0m6 2h0m4 0h0m5-1h0m5 0h0m0 0h0m1 1h0m1-2h0m2-1h0m0 3h0m6-1h0m3 0h0m5-4h0m2 5h0m4-4h0m1 3h0m4-2h0m-71 6h0m0-1h0m6 2h0m1 3h0m9-4h0m5-1h0m2 4h0m9-3h0m2 1h0m1-2h0m3 0h0m4-1h0m0 3h0m2-1h0m4 0h0m0 1h0m1 2h0m2-4h0m5 3h0m4 0h0m2-2h0m3 2h0m11 0h0m-73 3h0m0 1h0m4 3h0m5-1h0m3-4h0m7 5h0m3-1h0m2-2h0m3 0h0m1 3h0m1-1h0m1-4h0m3 4h0m1 1h0m1-4h0m2 3h0m3 2h0m3-1h0m8-3h0m4 4h0m4-5h0m1 3h0m0-4h0m1 0h0m7 5h0m-64 5h0m4 1h0m1-4h0m2 5h0m6-2h0m3-2h0m2 2h0m6-3h0m1 4h0m2-3h0m1 1h0m11 0h0m2 2h0m3-4h0m5 1h0m1 2h0m2-4h0m4 2h0m-44 5h0m5 2h0m4 1h0m6 0h0m3 0h0m0 1h0m4-3h0m2-1h0m1 0h0m3 4h0m2-4h0m1 0h0m0 1h0m3 1h0m3 3h0m0-5h0m1 4h0m1-3h0m1 0h0m4 2h0m-32 3h0m6 0h0m2 3h0m5 1h0m1 0h0m5-2h0m2-2h0m-9 7h0m9 0h0m12 0h0m-31 30h0m0 22h0m-26 14h0m-68 50h0m7 0h0m-8 15h0" stroke="#00BA38"/>
<path d="M581 289h0m5-4h0m6 5h0m1-4h0m0 4h0m3-2h0m1 2h0m1-5h0m3 5h0m7-2h0m-35 8h0m13-4h0m1 3h0m8 1h0m1-3h0m0 2h0m3-1h0m1 0h0m1 2h0m1-4h0m0 1h0m-29 10h0m2-2h0m5-3h0m7 1h0m3 3h0m2-5h0m4 0h0m0 3h0m-18 9h0m3-1h0m3-3h0m1 3h0m4-2h0m1 3h0m2-3h0m3-3h0m2 1h0m-45 9h0m8-3h0m0 0h0m4 4h0m3 0h0m1 1h0m0-3h0m5 2h0m5-4h0m0 5h0m0-3h0m3 0h0m4 0h0m2 0h0m8-2h0m0 0h0m5 1h0m1-1h0m2 2h0m-88 7h0m1 2h0m15-2h0m4 2h0m14-4h0m4 2h0m12-4h0m1 4h0m5-1h0m5 2h0m1-5h0m0 1h0m1 3h0m2 1h0m1-3h0m4 3h0m1-3h0m1 1h0m1 1h0m3-3h0m0 1h0m1 0h0m0 3h0m18 0h0m-45 4h0m4 2h0m0-5h0m2 1h0m1 2h0m5-1h0m4 3h0m1-2h0m0 3h0m1-1h0m1-2h0m1 0h0m1 1h0m3 2h0m3-4h0m1 3h0m2-3h0m1 2h0m10 2h0m-99 4h0m5 1h0m54 0h0m3-2h0m3 2h0m1-4h0m2 1h0m1-1h0m3 3h0m0 1h0m3 0h0m5-1h0m1 1h0m3-3h0m2 0h0m0 0h0m2-2h0m2 0h0m7 1h0m4 5h0m-97 2h0m9 2h0m38-1h0m3 2h0m6 1h0m7-4h0m1 0h0m5 1h0m0 3h0m3-6h0m2 3h0m3-2h0m5 1h0m-68 4h0m10 1h0m22 0h0m4 4h0m2-2h0m0 1h0m2-1h0m5-2h0m1 1h0m4 1h0m2 3h0m1-5h0m1-1h0m6 2h0m1 0h0m0 2h0m1-1h0m1-1h0m5 0h0m5 0h0m1 2h0m5 2h0m2-3h0m-65 9h0m11-6h0m3 0h0m4 2h0m4 2h0m4 0h0m1-1h0m1-2h0m2 4h0m3-4h0m2 2h0m4 1h0m3-3h0m0 1h0m4-2h0m6 4h0m-59 8h0m2-5h0m5 5h0m12 0h0m4-2h0m1-1h0m3-3h0m3 6h0m0-4h0m4 2h0m2 0h0m0 0h0m1-4h0m2 5h0m1-2h0m2 2h0m2-4h0m3 1h0m0 3h0m2-2h0m4-2h0m2 1h0m11-1h0m-50 7h0m0 4h0m1-5h0m1 3h0m1-3h0m2 2h0m4-1h0m1 3h0m3 1h0m1-4h0m5 0h0m0 3h0m2 0h0m3-3h0m3 3h0m0-4h0m0-1h0m3 0h0m0 2h0m6 2h0m3-2h0m5-1h0m-42 8h0m2-1h0m3-1h0m1 2h0m2 1h0m6-1h0m4 2h0m4 0h0m1-3h0m4 2h0m2-2h0m1 1h0m3-2h0m1 4h0m3-5h0m0 5h0m4-1h0m4-1h0m0 2h0m-57 4h0m4 0h0m4 2h0m1 0h0m1-2h0m2 2h0m2-4h0m4 3h0m2-2h0m2 2h0m1-3h0m2 3h0m1-2h0m2 3h0m3 0h0m1-1h0m0 0h0m0-2h0m1-2h0m3 1h0m0 3h0m4-4h0m2 4h0m1-4h0m17 3h0m5 2h0m-63 4h0m6 1h0m1-3h0m1 0h0m6 3h0m4-2h0m0 3h0m3-2h0m2 3h0m3-3h0m4 0h0m5 0h0m0-2h0m12 0h0m-37 7h0m2 1h0m1 1h0m1-4h0m5 1h0m7 0h0m24 3h0m11 2h0m3-5h0m5 0h0m6 5h0m-72 3h0m16-2h0m8 2h0m4-2h0m3 2h0m5-2h0m-15 10h0m14 1h0m9-3h0m9-1h0m16 4h0m8 0h0m-38 4h0m14-2h0m24-1h0" stroke="#00C08B"/>
<path d="M834 213h0m0 2h0m-10 9h0m4-2h0m4 0h0m1 2h0m0-4h0m-14 5h0m16 5h0m5-2h0m-26 5h0m1 2h0m0-2h0m1 1h0m4 1h0m1-2h0m4-2h0m-16 7h0m11 1h0m-42 6h0m30 2h0m6-2h0m1 3h0m0-1h0m2-4h0m2 2h0m4 0h0m3 3h0m-18 7h0m4-5h0m1-1h0m0 3h0m3-2h0m3 4h0m2-3h0m-38 7h0m12 3h0m4-5h0m5 1h0m0 2h0m4-1h0m2 2h0m3-2h0m2 3h0m1-4h0m2 3h0m3-3h0m6-2h0m3 5h0m-36 4h0m4-1h0m0 1h0m8-1h0m1 2h0m5 0h0m4 1h0m4 0h0m3-4h0m2 4h0m6-3h0m-43 8h0m0 0h0m3-3h0m4 3h0m6-4h0m5 1h0m4 2h0m3-2h0m4-1h0m3 5h0m4-3h0m5 2h0m-33 2h0m0 6h0m2-1h0m1-3h0m0-1h0m6 1h0m2-1h0m2 4h0m2-5h0m4 3h0m2-3h0m3 4h0m4 0h0m0 2h0m1-6h0m1 5h0m-60 5h0m12 2h0m15-6h0m4 2h0m1 2h0m2 1h0m3-3h0m3 2h0m3-2h0m1 1h0m1-2h0m3 4h0m3-5h0m1 5h0m1-3h0m3 3h0m7 1h0m1-5h0m3 1h0m1-2h0m8 3h0m-82 6h0m16 3h0m4-2h0m4 0h0m4-3h0m2 5h0m6 0h0m3-5h0m1 4h0m4-4h0m4 1h0m4-1h0m3 1h0m6 0h0m5 1h0m4-2h0m1-1h0m1 6h0m1-4h0m5 2h0m5 0h0m0 2h0m5 0h0m-68 2h0m1 3h0m3 0h0m0-4h0m4 0h0m1 3h0m5-2h0m2 2h0m1-1h0m7 3h0m3-4h0m2 0h0m0 2h0m2 1h0m4-4h0m2 2h0m2-3h0m3 4h0m1-4h0m1 5h0m5-5h0m0 3h0m4 1h0m2-4h0m4 3h0m4 0h0m-66 6h0m4 2h0m5 0h0m1-3h0m6 1h0m5 2h0m0-3h0m4 1h0m2 2h0m1-2h0m1 3h0m5-5h0m2 3h0m1-1h0m3-2h0m3 4h0m2-4h0m4 1h0m0 4h0m5 0h0m1-4h0m1 4h0m2-6h0m6 4h0m-173 5h0m96 1h0m1-1h0m15 1h0m3-2h0m5 2h0m3-1h0m1-2h0m2 0h0m3 2h0m6-1h0m3 3h0m3-2h0m5 3h0m1-2h0m2 0h0m1-3h0m7 3h0m3-1h0m3 0h0m3 1h0m5-4h0m3 3h0m2 1h0m1-1h0m-144 9h0m23-1h0m32-2h0m11 0h0m5 3h0m0-6h0m4 5h0m1-5h0m2 4h0m1-1h0m2 3h0m5-4h0m0 4h0m3-4h0m5 0h0m4-1h0m3 0h0m2 3h0m4-2h0m3 4h0m2-3h0m5-1h0m0 3h0m2-2h0m4 2h0m1-5h0m1 4h0m3-3h0m2 3h0m2-2h0m2 4h0m2-4h0m2 3h0m2-5h0m5 6h0m7-1h0m-90 4h0m4 1h0m1 1h0m7-3h0m4 1h0m1 2h0m2-2h0m1 2h0m1-4h0m6 2h0m1 3h0m1-6h0m2 3h0m4-1h0m0-2h0m4 0h0m2 2h0m0 3h0m3-3h0m4 0h0m2 3h0m4-3h0m3-1h0m4 4h0m2-1h0m1 2h0m1-3h0m5 2h0m1-4h0m3 1h0m5-1h0m4 1h0m3 1h0m1-2h0m2 2h0m5 2h0m-161 3h0m34 0h0m17 0h0m3 2h0m1-3h0m4 2h0m0 0h0m4 1h0m2-3h0m4 4h0m3 0h0m2-5h0m4 3h0m1-2h0m1 3h0m7 0h0m2 1h0m4-4h0m2 3h0m2 2h0m3-4h0m3 1h0m3-2h0m3 2h0m4 2h0m1-4h0m0 4h0m5-2h0m3-2h0m2 2h0m5 1h0m4 1h0m3-2h0m6-3h0m0 3h0m2-2h0m4 2h0m2 1h0m0-3h0m5 3h0m4 2h0m-251 4h0m134 2h0m7-2h0m8-2h0m4-1h0m0 4h0m2 1h0m3-5h0m4 2h0m4-2h0m5 2h0m3 2h0m3 0h0m0-4h0m2 2h0m4 0h0m4 3h0m1-6h0m3 5h0m1-4h0m2 5h0m3-6h0m4 0h0m0 5h0m3 0h0m2-3h0m3-1h0m6 2h0m2 2h0m0-4h0m4 4h0m3-2h0m0 2h0m4-2h0m1 2h0m2-4h0m5 2h0m4 2h0m1-4h0m1 5h0m3-3h0m2 2h0m-114 7h0m9-4h0m4-1h0m0 4h0m4-3h0m3 2h0m4 1h0m4-5h0m1 3h0m1-2h0m4 4h0m1-4h0m1 5h0m3-3h0m5 1h0m3-4h0m1 5h0m2-2h0m5 1h0m6 1h0m3-1h0m4 0h0m4-2h0m2-1h0m0 5h0m4-2h0m1-3h0m2 1h0m4 3h0m6-2h0m5 1h0m3 0h0m3 2h0m0-6h0m3 4h0m2 2h0m1-2h0m5 0h0m7 0h0m0 1h0m-135 5h0m2-2h0m1 3h0m16 0h0m2-5h0m2 1h0m4 2h0m2-1h0m5-2h0m1 5h0m3-3h0m1 4h0m4-5h0m1 3h0m4-2h0m2 3h0m2-1h0m2-4h0m5 5h0m2-3h0m3-2h0m3 6h0m2-4h0m3 0h0m4 4h0m1-4h0m3 3h0m0-4h0m5 0h0m3 3h0m5 1h0m0-3h0m4 4h0m2-5h0m0 5h0m3-5h0m4 2h0m3-1h0m0 4h0m3-6h0m13 3h0m6-2h0m0 4h0m5-3h0m3-1h0m-152 10h0m17-4h0m6 3h0m3 2h0m2-6h0m0 3h0m6-2h0m0 4h0m1-1h0m4-2h0m4 0h0m1-1h0m0 5h0m1-5h0m5 4h0m2-4h0m3 3h0m3 1h0m3-2h0m4-1h0m2-1h0m5 2h0m2-3h0m3 3h0m2 3h0m3-4h0m1-2h0m1 2h0m5 0h0m7-1h0m0-1h0m2 3h0m0 3h0m5-4h0m3 1h0m1 3h0m6-4h0m3 0h0m4 1h0m6-1h0m2-1h0m1 2h0m3-2h0m1 3h0m4-4h0m2 2h0m2-2h0m2 3h0m3 0h0m4 0h0m1 3h0m-163 5h0m12 1h0m10-2h0m5-3h0m2 0h0m1 3h0m0-2h0m1-2h0m2 4h0m4 0h0m3 1h0m4-3h0m1 1h0m5 3h0m3-6h0m1 4h0m4-1h0m5 0h0m4-2h0m1 3h0m2-1h0m4-1h0m1 2h0m3-4h0m1 3h0m4-2h0m2 3h0m3-4h0m2 4h0m2-1h0m3-1h0m1 1h0m5-1h0m3 4h0m1-5h0m0 2h0m5 0h0m3-1h0m2 2h0m6 2h0m1-5h0m2 4h0m2-5h0m3 1h0m1 3h0m2-1h0m4-1h0m0 4h0m3-6h0m3 5h0m3-4h0m0 5h0m2-5h0m4 3h0m2-2h0m0 2h0m2-2h0m2 3h0m4-5h0m0 1h0m7 0h0m-173 9h0m16-2h0m5 3h0m4-1h0m1-3h0m2 1h0m2 3h0m5-4h0m3 4h0m2-1h0m4-2h0m3 4h0m1-5h0m3 5h0m2-2h0m3 1h0m2-1h0m3-1h0m4-2h0m6 1h0m4 0h0m5 2h0m1 2h0m2-4h0m1 3h0m2-4h0m4 1h0m3 3h0m3-4h0m5 0h0m5 1h0m2 1h0m3 3h0m3-4h0m2 3h0m2-3h0m3 4h0m0-5h0m4 0h0m1 3h0m1 1h0m5-3h0m4 1h0m2-1h0m3 4h0m2-3h0m5 2h0m0-3h0m6 0h0m4-1h0m3 1h0m4 3h0m2-4h0m0 2h0m2-2h0m5 2h0m4-1h0m-194 10h0m1-2h0m3-2h0m3 3h0m1-3h0m10 4h0m7-3h0m3 2h0m4 0h0m4-4h0m1 2h0m5-3h0m2 3h0m1-1h0m4-1h0m1 1h0m5 2h0m3-3h0m2 1h0m6 1h0m1 2h0m6-2h0m4-2h0m1 2h0m3-2h0m1 1h0m0-1h0m5 4h0m1-5h0m1 4h0m2-3h0m5 4h0m3-2h0m5 1h0m1-3h0m1 3h0m7-2h0m0-1h0m5 2h0m2-2h0m0 2h0m3-2h0m1 3h0m7 1h0m2 1h0m0-1h0m6-3h0m3 1h0m5-1h0m3-1h0m2 1h0m3-1h0m0 1h0m6 3h0m4-1h0m0-3h0m5 3h0m0-3h0m4 4h0m2-5h0m2 4h0m5 0h0m0-3h0m5 2h0m-189 9h0m9-4h0m1 3h0m1-2h0m3-3h0m11 4h0m0-2h0m2-2h0m3 6h0m4-5h0m2 4h0m2-4h0m2 3h0m2-2h0m1 3h0m1-5h0m7 3h0m1 2h0m2-4h0m4 1h0m4-1h0m2 4h0m2-3h0m3 3h0m3-3h0m1 2h0m3-2h0m4 2h0m2-2h0m2 2h0m1-2h0m3 4h0m1-5h0m3 5h0m2-5h0m2 3h0m2-4h0m3 1h0m2 4h0m4-4h0m1 3h0m3-3h0m1 4h0m2-2h0m7-1h0m2 4h0m2-5h0m1 4h0m1-2h0m3 3h0m6-2h0m1-2h0m5 0h0m1 3h0m2-3h0m3 3h0m4-3h0m1 3h0m1-2h0m4-2h0m4-1h0m3 5h0m3-4h0m2 0h0m1 3h0m3 0h0m2-2h0m2 3h0m3-3h0m3 3h0m2-4h0m1 5h0m3-1h0m1 1h0m2-4h0m-215 9h0m9-4h0m9-1h0m6 4h0m1 2h0m2-5h0m2 4h0m1-1h0m1 0h0m3-4h0m3 4h0m1-4h0m1 5h0m3-2h0m1-2h0m2 2h0m7 1h0m2-1h0m2 2h0m4-1h0m3 0h0m6-2h0m0-1h0m2 3h0m4 0h0m4-4h0m1 3h0m2-3h0m4 1h0m3 1h0m2 3h0m4-3h0m4 0h0m4 3h0m2 0h0m2-3h0m3 3h0m0-2h0m4-1h0m7 0h0m1 4h0m1-6h0m1 3h0m5-2h0m5 1h0m4 1h0m2-3h0m2 2h0m4 0h0m2 4h0m1-4h0m6 2h0m3-2h0m4-1h0m3 2h0m2 2h0m6-2h0m5 0h0m0-2h0m3 3h0m2-4h0m1 2h0m5 0h0m6 1h0m1 2h0m4-1h0m0 1h0m3-2h0m5-1h0m0 4h0m4-2h0m7-2h0m1 1h0m-345 8h0m123-4h0m7 5h0m3-2h0m2-2h0m2 4h0m3 0h0m3-2h0m3-2h0m4 3h0m3-2h0m6-1h0m0 2h0m4-1h0m7 2h0m0-5h0m4 1h0m1 4h0m2-5h0m4 5h0m3 1h0m1-6h0m3 3h0m3-2h0m3 2h0m1-2h0m3 3h0m2-3h0m3 4h0m0-4h0m2 5h0m4-5h0m2 0h0m1 2h0m2 1h0m3 1h0m4-4h0m3 0h0m0 4h0m4-1h0m3 0h0m6-3h0m0 2h0m4 3h0m1-6h0m2 3h0m6 2h0m1-4h0m3-1h0m0 5h0m6 0h0m1-5h0m2 5h0m1-5h0m4 1h0m3 4h0m4 0h0m4-3h0m4-1h0m1 4h0m3-4h0m0 3h0m4-3h0m2 4h0m1-4h0m3 3h0m1-2h0m4 2h0m2-3h0m1 5h0m2-5h0m3 5h0m2-4h0m3 3h0m3-3h0m2 1h0m3 2h0m4-2h0m2-3h0m4 5h0m3-1h0m3-3h0m2 2h0m-393 5h0m26-1h0m125 1h0m1 3h0m4 0h0m1 1h0m1-3h0m4-3h0m1 2h0m2 3h0m3-2h0m1 1h0m12-1h0m3 2h0m3 1h0m1-2h0m2-1h0m4 2h0m1-4h0m1 4h0m3-2h0m1 2h0m4-2h0m3 0h0m4 2h0m1-2h0m4 2h0m1-4h0m0-1h0m2 6h0m1-3h0m2 2h0m2-4h0m4 4h0m0-2h0m5 0h0m5 0h0m3 2h0m3-1h0m4-2h0m3-1h0m3 0h0m6 1h0m3 0h0m0 4h0m5-1h0m0-4h0m3 4h0m4-2h0m1 2h0m3-2h0m4-1h0m1 3h0m2-4h0m1 4h0m4-2h0m1 1h0m2-2h0m4-1h0m4 3h0m3-1h0m1 2h0m2-3h0m3 3h0m1-2h0m6-1h0m0-2h0m2 3h0m6-2h0m2 3h0m2 1h0m2-3h0m1-2h0m5 5h0m2-2h0m2 2h0m2-2h0m3 0h0m1 2h0m3-3h0m3 3h0m3-1h0m3-3h0m3 1h0m6 1h0m0 2h0m4-1h0m2 2h0m3-4h0m3 3h0m0-2h0m3 2h0m0-4h0m3 5h0m2-5h0m4 0h0m-438 5h0m192 5h0m0-4h0m5 4h0m1-4h0m2 1h0m1 2h0m3-1h0m3-3h0m1 3h0m5 2h0m6-3h0m2 0h0m0 2h0m2-2h0m3 0h0m7 0h0m1 3h0m7 0h0m2 0h0m5 0h0m3-3h0m2 3h0m5-1h0m4 0h0m3 0h0m4 1h0m6-2h0m1-2h0m2 3h0m4-1h0m0-3h0m6 3h0m3-3h0m2 3h0m2 0h0m0-3h0m4 0h0m2 1h0m1 1h0m1 3h0m6-1h0m6-1h0m4 0h0m5-1h0m1 1h0m1-3h0m4 5h0m4-2h0m7 0h0m1-3h0m3 5h0m4-2h0m3 1h0m7 1h0m0-5h0m3 5h0m0-4h0m3 3h0m2-3h0m4 3h0m0 2h0m0-6h0m3 2h0m6 0h0m2 1h0m5 2h0m4-4h0m0 2h0m7 0h0m4 2h0m1-4h0m3-1h0m0 5h0m2-1h0m5-4h0m0 4h0m4-2h0m5 2h0m5-1h0m4 1h0m5-1h0m2-3h0m3 3h0m0-2h0m2 4h0m2-3h0m1 2h0m3 1h0m0 0h0m-379 6h0m15 0h0m12-3h0m3 2h0m3-1h0m2-1h0m16 3h0m57-1h0m3 0h0m0-2h0m2 0h0m5 4h0m5-4h0m3 4h0m2-5h0m1 4h0m2-3h0m7 0h0m1 2h0m2-1h0m2 2h0m1-4h0m5 2h0m3 1h0m4-3h0m1 3h0m3-4h0m2 4h0m1-3h0m3 1h0m4 2h0m2-3h0m5 1h0m1 3h0m1-3h0m3 3h0m1-3h0m4 2h0m3-3h0m4 1h0m2 2h0m3-3h0m2 1h0m2 2h0m4-1h0m0 2h0m5-4h0m2 5h0m1-5h0m2 4h0m4-3h0m1 3h0m3-5h0m2 2h0m5 2h0m1-2h0m3 4h0m2-5h0m1 3h0m3-2h0m3 0h0m4-2h0m2 5h0m2-3h0m3 3h0m2-5h0m3 5h0m2-3h0m3 3h0m1-2h0m2 1h0m3-3h0m3 4h0m1-4h0m4 3h0m1 2h0m1-6h0m4 0h0m1 5h0m3-3h0m2-1h0m4 1h0m5 4h0m5-1h0m1-2h0m5-1h0m2 0h0m0 2h0m4 1h0m1-2h0m4-2h0m1 3h0m2 1h0m1-4h0m4 4h0m1-4h0m6 5h0m1-6h0m1 1h0m5 3h0m2-2h0m2 3h0m2-4h0m3 4h0m1-4h0m1 5h0m3-4h0m2 2h0m2-2h0m4 2h0m0-1h0m3 2h0m3-4h0m0 2h0m1-2h0m2 4h0m4-1h0m0 2h0m-467 2h0m45 0h0m5 3h0m3-2h0m2-2h0m5 2h0m3 1h0m8 0h0m3 0h0m0-2h0m17 4h0m10-1h0m0-1h0m6 0h0m36 0h0m7-1h0m6-2h0m19 3h0m3-3h0m12 0h0m7 3h0m2 2h0m3-3h0m5 1h0m2 2h0m0-3h0m1-3h0m5 2h0m3 1h0m4-3h0m3 2h0m2 1h0m5 3h0m2-3h0m2-1h0m0 3h0m0-4h0m4 1h0m7 0h0m2 1h0m5-2h0m1 3h0m4 0h0m2-4h0m1 4h0m5 2h0m0-4h0m5 1h0m5-1h0m2 2h0m1-4h0m5 3h0m1 3h0m1-5h0m1 1h0m5 0h0m5 2h0m6-2h0m2 3h0m0-1h0m4 2h0m0-3h0m3-3h0m3 5h0m2 0h0m5-1h0m4-1h0m3-2h0m4 2h0m1-2h0m1 1h0m6 0h0m3 3h0m1-2h0m3 1h0m7 1h0m2-3h0m6 0h0m1 4h0m3 0h0m0-3h0m5 1h0m1 2h0m2-4h0m1-2h0m2 2h0m4-2h0m2 3h0m3 2h0m5-3h0m4 1h0m0-3h0m0 5h0m4-2h0m5-1h0m4 3h0m0-2h0m3 3h0m3-4h0m5 1h0m1-2h0m2 3h0m6 0h0m4-2h0m4 2h0m2 0h0m7-2h0m3 1h0m4-1h0m2 3h0m1-3h0m1 1h0m1 0h0m2 2h0m8-1h0m-443 7h0m8-1h0m11 0h0m7 2h0m0-1h0m35 0h0m8-4h0m13 1h0m2-2h0m3 1h0m15 2h0m3 1h0m32-3h0m4 2h0m16-1h0m0 1h0m4-1h0m0 1h0m2 3h0m5-5h0m1 4h0m3-1h0m5-1h0m3 1h0m0-2h0m4 3h0m2-4h0m4-1h0m0 5h0m5-1h0m0-3h0m2 2h0m4-1h0m1 2h0m3 2h0m6-3h0m3-3h0m1 4h0m2-3h0m3 4h0m2-3h0m1 4h0m5-5h0m1-1h0m1 5h0m3-2h0m3-1h0m2 3h0m3-1h0m3-2h0m0 2h0m3-3h0m2 2h0m2-3h0m5 2h0m0 2h0m3 2h0m3-3h0m4-2h0m3 4h0m0-3h0m3 3h0m2-4h0m3 3h0m3 1h0m5-1h0m2-2h0m1 2h0m4-2h0m1 2h0m4 0h0m0-3h0m2 0h0m2 4h0m2-3h0m4 1h0m1-3h0m3 4h0m3-3h0m2 2h0m3 2h0m2-3h0m6-1h0m0 5h0m5-4h0m1 3h0m3-5h0m3 3h0m2 2h0m6 1h0m5-1h0m1 0h0m1-3h0m2-1h0m3 2h0m3 1h0m0-2h0m2-1h0m8 3h0m2-2h0m3-1h0m1 5h0m4-1h0m2 1h0m5-1h0m2-3h0m3 4h0m1-6h0m3 4h0m1-3h0m4 3h0m2 2h0m1-4h0m2 0h0m3 3h0m3-3h0m2 3h0m1-4h0m3 4h0m1-3h0m3 1h0m3-1h0m1 2h0m2 2h0m3 0h0m2 0h0m1-3h0m3 3h0m0-5h0m1 2h0m2-2h0m3 3h0m-453 4h0m13 2h0m1-2h0m11 2h0m2-2h0m15 3h0m6-1h0m4 1h0m2-3h0m3 1h0m2-1h0m0 3h0m15-3h0m2 0h0m0 0h0m1-2h0m1 1h0m5 4h0m16-1h0m30 0h0m7 1h0m10 0h0m4 1h0m3-5h0m1 1h0m2 0h0m3 3h0m3 0h0m1-3h0m3 3h0m4-3h0m2 1h0m0 2h0m2 0h0m5-1h0m4-2h0m2 4h0m3-3h0m0 3h0m3-3h0m1 2h0m4-2h0m3 0h0m4 0h0m6 0h0m1 3h0m2-4h0m2 4h0m3-5h0m3 5h0m1-3h0m5-2h0m5 1h0m1 4h0m3-5h0m3 0h0m4 2h0m2 2h0m4 0h0m1-1h0m4-3h0m1 0h0m1 4h0m6-3h0m1 3h0m3-2h0m5-1h0m0 4h0m5-2h0m2 1h0m1-2h0m4-2h0m4 1h0m2 4h0m2-4h0m5 4h0m0-2h0m5-3h0m3 1h0m0 3h0m6-2h0m4-1h0m3 0h0m3 3h0m3-2h0m0 2h0m3-3h0m4 3h0m0-3h0m5-2h0m2 3h0m3-1h0m3 1h0m3 2h0m4 0h0m0-1h0m1-3h0m6 2h0m2 2h0m2-1h0m5-2h0m3 4h0m2-5h0m1 4h0m3-1h0m0-4h0m1 5h0m3-3h0m3 4h0m2-5h0m2 2h0m7 0h0m3-1h0m4 3h0m2-3h0m4 0h0m4 0h0m1 4h0m2-3h0m4 2h0m0-4h0m2 4h0m2-4h0m5 1h0m6 0h0m4-2h0m1 4h0m4-1h0m4 1h0m3-3h0m11 5h0m-435 3h0m6-2h0m4 2h0m3-1h0m1 3h0m3-3h0m8 2h0m3-2h0m4 0h0m5 2h0m9 1h0m4-2h0m8-1h0m51 2h0m5-1h0m6 1h0m4 1h0m2-2h0m1 0h0m0 1h0m4-3h0m3 4h0m2-2h0m7 1h0m4-1h0m5 1h0m3-1h0m1-1h0m2 3h0m6 0h0m5-1h0m2-1h0m2-2h0m3 2h0m1-3h0m5 6h0m0-6h0m4 5h0m2-2h0m5 0h0m6 1h0m1-4h0m4 3h0m0-2h0m5 4h0m3-4h0m1 2h0m3 1h0m3-3h0m3 4h0m2-2h0m4 1h0m6-4h0m0 5h0m5 0h0m1-2h0m5-1h0m2 1h0m3 0h0m4 2h0m3-5h0m2 4h0m2-4h0m2 4h0m4 1h0m7-2h0m2 2h0m0-4h0m5 2h0m2-2h0m1 4h0m4-5h0m1 3h0m4-1h0m1 2h0m5 1h0m3-1h0m5 0h0m2-3h0m3 3h0m1-2h0m4 2h0m1-3h0m1 4h0m7-1h0m3-4h0m1 5h0m4 0h0m2-1h0m5-3h0m0 3h0m6 0h0m4-1h0m5 0h0m4 2h0m1-3h0m3 3h0m3-4h0m2-1h0m0 4h0m4 1h0m5 0h0m2-3h0m2 2h0m2-3h0m2 2h0m4 0h0m9 0h0m1-1h0m1 4h0m0-5h0m5 0h0m0 2h0m1-1h0m3-1h0m6 1h0m3-2h0m1 3h0m2-1h0m4 0h0m6-2h0m0 3h0m4 1h0m-445 6h0m10-3h0m3 0h0m3 2h0m8 3h0m3-2h0m16-4h0m3 2h0m1 3h0m9-4h0m13 3h0m1 0h0m9-3h0m2 0h0m8 1h0m8 3h0m15 0h0m1-2h0m2 3h0m1-5h0m6 1h0m4 3h0m1-2h0m2 2h0m2-4h0m3 1h0m4 0h0m3 2h0m3-2h0m1 2h0m5-1h0m2-2h0m5 2h0m2 2h0m3-2h0m3 2h0m1-3h0m3 3h0m1-4h0m2 3h0m2-2h0m5-1h0m1 3h0m3-2h0m5 1h0m5 1h0m0-1h0m3-1h0m1 3h0m5 0h0m0-4h0m2-1h0m4 2h0m3 4h0m3-4h0m3 1h0m0 2h0m4-4h0m3 5h0m2-4h0m4 0h0m7-1h0m4 0h0m3 4h0m1-5h0m1 5h0m4-1h0m0-3h0m4 3h0m0-1h0m4 0h0m1 3h0m4-5h0m2-1h0m5 2h0m3 2h0m3-1h0m1 1h0m2-1h0m6-2h0m2 0h0m2 4h0m4-4h0m2 4h0m2-3h0m2 3h0m2-2h0m4-2h0m2 4h0m4-3h0m4 2h0m0-1h0m4-2h0m2 4h0m3-2h0m2 3h0m2-6h0m2 5h0m1-3h0m6 4h0m0-4h0m4 0h0m1 4h0m2-4h0m2 3h0m4-4h0m1 3h0m2-4h0m3 5h0m2-2h0m3 0h0m0 3h0m3-1h0m2-2h0m5-3h0m2 6h0m1-4h0m4 4h0m1-4h0m4-1h0m2 4h0m2-2h0m0 2h0m5-4h0m2 4h0m4-1h0m1 0h0m4 0h0m2 1h0m1 0h0m4 0h0m2-2h0m0 3h0m2-3h0m3 2h0m1-4h0m5 0h0m1 3h0m4-4h0m2 6h0m2-5h0m1 5h0m8-6h0m2 3h0m2 2h0m2-2h0m3 3h0m-460 5h0m4-2h0m4-1h0m4 2h0m2-2h0m6-1h0m3 3h0m2 2h0m1-5h0m20 0h0m5 0h0m9 3h0m12 0h0m18 2h0m5-2h0m4 2h0m5-4h0m4 1h0m7-3h0m5 2h0m5 1h0m2 1h0m4-3h0m3 1h0m3 3h0m5-1h0m1-4h0m1 5h0m2-1h0m2-4h0m3 4h0m3-2h0m2 4h0m3-2h0m0-4h0m4 3h0m2-2h0m3 2h0m5 1h0m2-1h0m4 3h0m1-4h0m4 2h0m4-4h0m1 4h0m6-1h0m1-3h0m0 5h0m3-5h0m2 5h0m1 0h0m4-3h0m4 4h0m1-4h0m3 4h0m2-6h0m0 3h0m0 3h0m4-1h0m3 1h0m2-1h0m2 0h0m0-3h0m4-1h0m0 4h0m1-2h0m6-2h0m0 3h0m5-3h0m0 1h0m2 1h0m3-2h0m1 4h0m7-3h0m1 1h0m5 0h0m6-1h0m2 0h0m4-2h0m3 3h0m1 3h0m1-2h0m0-4h0m5 5h0m0-2h0m6 2h0m1-5h0m3 2h0m0-2h0m3 2h0m4 1h0m2 2h0m4-1h0m4-3h0m1 2h0m2 1h0m4-1h0m3-3h0m3 2h0m5 0h0m1 4h0m3-2h0m4-1h0m5 0h0m3-3h0m1 2h0m5 2h0m4-1h0m2 1h0m5-1h0m5 1h0m4 0h0m4 2h0m0-2h0m2 1h0m1-5h0m3 5h0m0-2h0m4 2h0m4-1h0m0 1h0m5 1h0m1-2h0m1-4h0m3 3h0m0 0h0m3-1h0m10 2h0m3-2h0m5 0h0m1 3h0m4-2h0m3 1h0m2-4h0m6 2h0m5 3h0m3-2h0m2 2h0m5 1h0m5-4h0m2-1h0m1 5h0m3-1h0m3 0h0m-456 3h0m2 2h0m3-4h0m1 3h0m5-2h0m4 3h0m3-2h0m2 3h0m3-1h0m4-3h0m2 5h0m10-6h0m5 2h0m1 3h0m2-3h0m4 1h0m1 2h0m22-4h0m1 2h0m9-2h0m2 1h0m2 2h0m1-1h0m1 0h0m0 0h0m2 0h0m4-2h0m0 0h0m1 4h0m2-4h0m0-1h0m3 5h0m2-4h0m2 3h0m3-2h0m3-1h0m0 4h0m1-1h0m4-4h0m4 4h0m0-2h0m2 4h0m4-5h0m3 1h0m3 3h0m5-3h0m2 4h0m4-4h0m1 3h0m7-4h0m1 4h0m4-5h0m2 4h0m2-3h0m2 5h0m2-5h0m1 3h0m4 1h0m3-3h0m2 3h0m2-5h0m3 4h0m2-1h0m3 3h0m2-5h0m2 3h0m3-1h0m4 2h0m0-5h0m5 5h0m6 0h0m2 0h0m5 1h0m5-2h0m8-3h0m1 4h0m2-3h0m4-2h0m1 3h0m3-1h0m2 2h0m2-3h0m5 0h0m1 2h0m3-1h0m3 3h0m1-3h0m5 2h0m1-2h0m3 2h0m0-2h0m4 2h0m3 0h0m5 0h0m3-2h0m2-2h0m0 5h0m3-2h0m2-2h0m4 5h0m1-4h0m1 3h0m4 0h0m5-4h0m2 3h0m2-4h0m4 1h0m0 3h0m3-3h0m4 2h0m1-1h0m7 2h0m2-2h0m0 4h0m3-6h0m3 5h0m3-4h0m1 3h0m3-4h0m2 4h0m3-3h0m2 4h0m2-4h0m2 0h0m4 2h0m2-1h0m2 3h0m2-4h0m7 1h0m3-2h0m3 0h0m1 5h0m2-2h0m0 2h0m2-3h0m5-1h0m1 5h0m2-3h0m3 0h0m2-2h0m2 5h0m5-1h0m6-4h0m6 2h0m7-1h0m2 1h0m3 1h0m3-3h0m14 1h0m7 1h0m1-3h0m3 5h0m3 1h0m4-4h0m4 3h0m2-2h0m-469 6h0m3 0h0m11 1h0m3 0h0m3-1h0m3 2h0m6-1h0m2 2h0m11-4h0m4 1h0m7 2h0m1-4h0m7 3h0m2 0h0m25-4h0m4 4h0m1-1h0m5-3h0m0 1h0m4 2h0m1 3h0m2-5h0m5 1h0m5 1h0m4-2h0m0 5h0m5-4h0m3-1h0m5-1h0m1 1h0m2 1h0m4 4h0m1-5h0m3 3h0m1-4h0m4 6h0m1-3h0m4-1h0m3 3h0m0-5h0m2 3h0m4 1h0m5-3h0m4 1h0m2 3h0m2-1h0m2 2h0m2-3h0m3 2h0m2-3h0m3 3h0m3-1h0m1-2h0m7 2h0m3 1h0m1-4h0m4 3h0m3-3h0m3 4h0m3-3h0m4-1h0m1 5h0m2-4h0m4 1h0m4-3h0m0 5h0m2-1h0m1 1h0m3-2h0m3-3h0m2 3h0m2 2h0m1-1h0m4 1h0m2-5h0m1 3h0m1 2h0m2-2h0m3 0h0m4-1h0m5 1h0m4 1h0m4-3h0m5 4h0m2-1h0m3 0h0m1 2h0m3-3h0m5 0h0m3 2h0m1-3h0m4 1h0m3 2h0m2-1h0m2 1h0m3-2h0m1-3h0m3 1h0m2 5h0m0-4h0m4 1h0m4-3h0m1 1h0m1 5h0m5-4h0m2 4h0m2-3h0m6 0h0m3 0h0m2 2h0m1-3h0m6-1h0m1 4h0m0-5h0m2 4h0m4 2h0m0-2h0m3-1h0m1 1h0m2-2h0m1 3h0m2-4h0m9 5h0m6-3h0m2-2h0m5 4h0m1-4h0m0 5h0m3-1h0m3 1h0m8-2h0m6 0h0m6-3h0m1 3h0m9-1h0m4-2h0m1 3h0m2-4h0m1 4h0m2 2h0m2-6h0m3 4h0m11-2h0m2 4h0m5-3h0m2 2h0m1-4h0m7 2h0m0-3h0m4 4h0m4-3h0m2 2h0m2 2h0m-483 4h0m4 0h0m7-2h0m18 1h0m3 1h0m11-1h0m3-2h0m3 1h0m4 0h0m4 2h0m1-3h0m5 1h0m3 2h0m3 2h0m24-3h0m2 3h0m2-3h0m4 3h0m3-1h0m4-4h0m2 3h0m0-2h0m3 3h0m1-3h0m2 2h0m4 1h0m4-2h0m3-1h0m1 2h0m1 1h0m3-3h0m2 2h0m5 2h0m4-4h0m2 2h0m3 0h0m1-2h0m3 3h0m5 1h0m2-4h0m1 3h0m3-3h0m4 3h0m2-2h0m1 2h0m6-1h0m3 2h0m3 0h0m4 0h0m2-5h0m3 4h0m4-2h0m1 3h0m6-3h0m0 3h0m4 0h0m1-3h0m2 3h0m3-3h0m4 1h0m1-3h0m5 4h0m4-2h0m1 2h0m5 0h0m2-1h0m2-2h0m2 3h0m5-1h0m6 0h0m2 0h0m3-1h0m4 2h0m0-3h0m4 0h0m1 2h0m1 2h0m4-4h0m0 4h0m3-4h0m2 4h0m4-1h0m5-4h0m1 4h0m4-1h0m3-3h0m0 3h0m6 0h0m1-2h0m5 3h0m1 0h0m5 0h0m4-3h0m0 4h0m5-1h0m3-3h0m1 5h0m4-1h0m3-4h0m2 3h0m5 1h0m2-4h0m4 2h0m1-2h0m2 3h0m4 1h0m3-5h0m1 6h0m10-5h0m1 4h0m6-4h0m9 4h0m8 1h0m8-3h0m5-1h0m2 1h0m4 0h0m2-2h0m3 1h0m3 1h0m5-2h0m5 4h0m3-1h0m11 1h0m2-3h0m1 3h0m2-4h0m1 4h0m2-4h0m3 4h0m2-4h0m4 4h0m2-1h0m2-3h0m9 5h0m0-4h0m6-1h0m6 1h0m2 0h0m6 1h0m2 1h0m4 1h0m-496 2h0m12 4h0m16 0h0m1-4h0m2 4h0m6-4h0m3-1h0m1 2h0m3-2h0m6 2h0m4-1h0m5 4h0m4-1h0m2-4h0m1 3h0m6 0h0m8-2h0m1 4h0m1-3h0m1 4h0m5-6h0m1 4h0m2-3h0m1 2h0m1-1h0m0 2h0m0-2h0m5 0h0m3 0h0m3 4h0m1-6h0m4 1h0m4 4h0m2-4h0m0 4h0m3-2h0m1 1h0m3-2h0m3 4h0m2-5h0m4 2h0m3-1h0m5-1h0m5 0h0m6 0h0m4 1h0m3 1h0m4 2h0m2-2h0m4-1h0m3-1h0m4 4h0m2-4h0m4 2h0m2 3h0m3-5h0m3 2h0m5 0h0m2 0h0m1 3h0m4-1h0m0-5h0m2 5h0m4-4h0m4 0h0m2 5h0m1-4h0m6 0h0m1 2h0m3-1h0m1 2h0m4-3h0m2 4h0m1-4h0m6-1h0m2 2h0m4 1h0m2-1h0m1 1h0m4-3h0m2 5h0m3-3h0m1-2h0m3 4h0m2-2h0m3 3h0m2-4h0m5-1h0m2 4h0m3-4h0m3 1h0m6 3h0m0-2h0m4-1h0m2 0h0m1 3h0m3 0h0m2-4h0m3 0h0m5 4h0m1-2h0m3-2h0m0 4h0m4-4h0m0 5h0m2 0h0m2-5h0m4 4h0m2-4h0m5 0h0m5 2h0m3 0h0m4-1h0m5 0h0m3 4h0m6-5h0m0 2h0m7 0h0m1-2h0m2 2h0m7-2h0m17 2h0m4-1h0m3 3h0m2-5h0m3 3h0m1 2h0m1-4h0m10 0h0m0 4h0m2-4h0m1 3h0m3 0h0m1 0h0m6 1h0m1-2h0m2-1h0m3 2h0m1-4h0m4 0h0m5 4h0m1-3h0m3 2h0m4 2h0m3-1h0m3-3h0m4 2h0m5 0h0m9 0h0m2 2h0m3-4h0m0 3h0m2-2h0m2 3h0m3-5h0m5 1h0m3 0h0m3 4h0m4-3h0m3 3h0m14 0h0m-511 6h0m3-2h0m5 2h0m3-2h0m4 0h0m0 3h0m2-1h0m6-1h0m1-3h0m0 5h0m5-3h0m3-3h0m5 1h0m4 2h0m2-3h0m6 5h0m1-5h0m8 3h0m7-1h0m2-2h0m0 6h0m3-4h0m0 0h0m3 3h0m3-3h0m2 2h0m4 0h0m2-1h0m1-2h0m0 5h0m1-1h0m2-4h0m3 3h0m0-3h0m4 3h0m5 1h0m1-5h0m4 4h0m2 2h0m3-4h0m4 2h0m1 0h0m6-2h0m3-2h0m1 3h0m4-3h0m1 2h0m1-1h0m3 3h0m2-3h0m1 2h0m4-2h0m2 2h0m3-2h0m3 1h0m0-1h0m2 1h0m5 1h0m1 3h0m1-5h0m2 1h0m4-2h0m0 3h0m4-1h0m5-1h0m0 3h0m3 1h0m3-5h0m2 5h0m4-5h0m3 3h0m2-1h0m3 2h0m7-2h0m1 4h0m1-6h0m2 2h0m2 4h0m3-3h0m1-2h0m1 4h0m7-1h0m2 0h0m7-3h0m0 1h0m3 2h0m3-4h0m3 5h0m4-1h0m1 2h0m1-2h0m6-2h0m3-2h0m2 4h0m3-1h0m6 1h0m2-3h0m2 1h0m4 0h0m2-1h0m0 1h0m3-2h0m2 2h0m4 4h0m0-3h0m5 2h0m5-1h0m3-4h0m2 3h0m2 1h0m1 2h0m5-2h0m4-1h0m2 3h0m2-4h0m5 2h0m2-3h0m1 4h0m0-2h0m0 1h0m3-4h0m1 3h0m0 1h0m4-4h0m3 0h0m2 2h0m1 2h0m0 0h0m0 0h0m3-4h0m2 2h0m9 1h0m3-2h0m6 0h0m6 2h0m13 3h0m15-2h0m3-3h0m3 1h0m3-1h0m4 5h0m5-5h0m9-1h0m1 4h0m5-3h0m1 3h0m1-3h0m2-1h0m1 2h0m0 3h0m1-1h0m2-2h0m1 3h0m3-2h0m5 3h0m6-1h0m4 0h0m9-2h0m4-1h0m2 3h0m7-3h0m6 0h0m2 1h0m10 0h0m7 2h0m-506 1h0m2 2h0m9 1h0m1-2h0m6 3h0m1-4h0m9 5h0m1-5h0m18 4h0m2-1h0m0 3h0m5-4h0m6 1h0m7 0h0m3 0h0m6 2h0m2-4h0m3 2h0m5-2h0m2 1h0m2 0h0m3 2h0m2-3h0m3 5h0m4-4h0m2 2h0m1-3h0m3 4h0m1-4h0m3 3h0m5 0h0m2-4h0m5 1h0m1 0h0m5 1h0m0 3h0m3-2h0m2-1h0m6 2h0m0-4h0m4 2h0m2 3h0m0-3h0m4 4h0m2-5h0m3 5h0m1-5h0m3 3h0m1-3h0m1 4h0m5 0h0m3-2h0m2 2h0m3-4h0m2 3h0m2-2h0m3 1h0m3-2h0m0 2h0m1-2h0m3 4h0m3-5h0m6 4h0m0-3h0m4 1h0m2-1h0m1 4h0m7 0h0m5 0h0m2-4h0m0 3h0m4-4h0m0 4h0m5-2h0m3 2h0m1-2h0m2 3h0m1-4h0m3 5h0m2-3h0m1 2h0m3-3h0m1 2h0m6 0h0m2-4h0m4 2h0m5 0h0m2 2h0m3-2h0m5-1h0m0 5h0m3-4h0m3 1h0m2 3h0m1-5h0m2 0h0m4 4h0m5-1h0m1-3h0m2 3h0m2-3h0m2 4h0m1-4h0m9 3h0m0 0h0m1-2h0m0 2h0m3 1h0m3-2h0m1-1h0m1 2h0m3 0h0m5-3h0m0-1h0m5 4h0m3-3h0m2 2h0m5-3h0m1 2h0m1 2h0m3-1h0m2-1h0m4 2h0m0-1h0m0-3h0m6 6h0m4-5h0m5 3h0m2-4h0m2 3h0m8-1h0m7 0h0m2 2h0m4-1h0m6-1h0m7 1h0m7 3h0m4-6h0m2 3h0m6 1h0m2-2h0m1 3h0m6-1h0m5 1h0m1-3h0m8-1h0m6 1h0m6 1h0m3 0h0m1-2h0m1 4h0m7-2h0m6-1h0m1 3h0m2-4h0m6 0h0m2 2h0m2 1h0m6-3h0m0 4h0m7-2h0m4 2h0m2 0h0m2-3h0m0 4h0m3-4h0m2 2h0m2-3h0m2-1h0m4 4h0m8-1h0m-530 7h0m5-2h0m2 4h0m1-4h0m4 3h0m3-4h0m0 3h0m8-2h0m4-1h0m4 3h0m4-1h0m6 0h0m6 1h0m3-2h0m2 2h0m3 1h0m0-3h0m3 3h0m10-4h0m3 3h0m8-4h0m2 0h0m0 4h0m3 0h0m5 0h0m6-1h0m4-1h0m3-1h0m7 3h0m3-3h0m5 2h0m3-3h0m0 4h0m2-3h0m2 1h0m6 0h0m3-1h0m3-1h0m1 4h0m4-1h0m6-1h0m4 1h0m4 0h0m2 2h0m2-2h0m4 1h0m7-3h0m2 1h0m4 1h0m5 1h0m3-2h0m1 4h0m5-3h0m1-3h0m2 2h0m3 4h0m2-2h0m3 2h0m3-1h0m0-2h0m0-3h0m4 2h0m4 1h0m4-2h0m4 5h0m2-2h0m2 0h0m6-2h0m0 4h0m4-3h0m5-1h0m2 2h0m7-2h0m2-1h0m5-1h0m2 3h0m1-3h0m0 1h0m2 4h0m4-4h0m1-1h0m2 5h0m0-3h0m5 2h0m4-2h0m3 4h0m3-2h0m5 0h0m5-2h0m4 0h0m2 0h0m0 1h0m3 2h0m0-2h0m2-2h0m2 5h0m5-4h0m2 3h0m2 0h0m0-4h0m8 0h0m3 0h0m2 4h0m2-4h0m2 2h0m3-1h0m4 1h0m0-3h0m4 4h0m5-3h0m2 5h0m8 0h0m16-2h0m5-4h0m4 3h0m0 3h0m7-3h0m0-3h0m3 6h0m3-2h0m1-4h0m3 2h0m4 1h0m14 2h0m4-2h0m1 2h0m12-1h0m6-3h0m3 1h0m2 2h0m10-3h0m4 2h0m2 2h0m4-3h0m2 2h0m1 0h0m2-1h0m4-3h0m1 4h0m3-3h0m0 4h0m3-1h0m1 2h0m6-3h0m1-2h0m4 2h0m8-1h0m3 1h0m3-2h0m5 1h0m3 0h0m5 0h0m0-2h0m2 4h0m2-2h0m2 3h0m4-4h0m1 1h0m-528 8h0m2-1h0m10 1h0m4 1h0m6-5h0m3 5h0m14-4h0m5 0h0m5 4h0m2-3h0m4 4h0m4-4h0m3 0h0m6-1h0m3 1h0m6-1h0m3 3h0m2 0h0m2 1h0m2-4h0m2-1h0m2 6h0m5-6h0m2 3h0m3-1h0m2 2h0m1-3h0m2 2h0m1-3h0m4 5h0m0-4h0m4 4h0m2-4h0m2 3h0m2-3h0m3 5h0m1-4h0m2 4h0m4-4h0m1 3h0m1-4h0m3 3h0m2-2h0m3-1h0m0 5h0m2 0h0m3-6h0m2 5h0m3-3h0m3 2h0m2 0h0m4-3h0m2 3h0m1-2h0m3 2h0m1-4h0m5 4h0m1-4h0m0 3h0m3-1h0m2 2h0m4-1h0m5-3h0m2 3h0m2-3h0m3 3h0m1 1h0m5 0h0m6 0h0m3-4h0m1 6h0m2-5h0m3 5h0m4-3h0m2-2h0m2 4h0m3-4h0m0 4h0m6 0h0m3-5h0m2 3h0m1-2h0m3 2h0m1-2h0m1 3h0m3-2h0m5 2h0m1-3h0m1 3h0m4 1h0m0-4h0m4 3h0m6 0h0m2-3h0m2 2h0m1-2h0m3 2h0m3 1h0m0 0h0m1-2h0m1 2h0m6 2h0m0-4h0m3-1h0m0 2h0m7-1h0m6 3h0m2-2h0m8 3h0m0-3h0m1 0h0m0-1h0m9 2h0m10 1h0m3-3h0m4 2h0m0-4h0m7 4h0m6 0h0m3-2h0m3 1h0m9 3h0m1-4h0m8-1h0m2 3h0m3-2h0m1 4h0m11-4h0m7-1h0m3 0h0m4 2h0m8 2h0m4-3h0m2 2h0m3-2h0m2 0h0m1 3h0m4-4h0m5 1h0m1 3h0m5-2h0m2-2h0m3 0h0m1 4h0m2-3h0m2 1h0m3 1h0m2-2h0m9 4h0m5-5h0m1 3h0m5-3h0m0 2h0m3 0h0m3 0h0m5 1h0m0-4h0m1 3h0m2 2h0m4-3h0m3-1h0m1 2h0m3 0h0m2-2h0m1 2h0m3-2h0m1 2h0m2-3h0m1 5h0m3-4h0m3 2h0m0 3h0m3-3h0m5-1h0m4 2h0m5-3h0m-533 7h0m3 1h0m3 2h0m1-2h0m6 0h0m7-1h0m8-2h0m2 5h0m1-3h0m25 0h0m6 2h0m4 0h0m4 2h0m2-4h0m8-1h0m5 5h0m2-2h0m1-2h0m2 4h0m3-5h0m2 4h0m2-2h0m4-2h0m3 2h0m1 2h0m3 0h0m2-3h0m3 3h0m3-3h0m2-1h0m7 2h0m1-1h0m4 3h0m3-1h0m0-2h0m3-1h0m2 5h0m3-3h0m2 2h0m3-4h0m1 4h0m1-3h0m5 1h0m3 2h0m1-3h0m3 3h0m1-3h0m2 2h0m5 0h0m3-1h0m5-1h0m1 4h0m4-4h0m1 4h0m3-4h0m5 2h0m2-4h0m7 2h0m1 0h0m6 1h0m1 2h0m3-3h0m1 3h0m2-4h0m3 4h0m3-2h0m5 0h0m4 0h0m2 2h0m3-3h0m1 3h0m2-5h0m2 5h0m2-4h0m4 4h0m2-3h0m0 4h0m2-3h0m4 1h0m3 0h0m2-3h0m6 1h0m5-1h0m2 2h0m5 2h0m2-3h0m10-1h0m3 3h0m8-2h0m9-2h0m7 1h0m0 3h0m2 1h0m3-3h0m13-1h0m5 2h0m4 0h0m4-3h0m3 5h0m3 0h0m3 0h0m7-2h0m7 2h0m2-2h0m5-1h0m2 1h0m3 0h0m4 1h0m3 1h0m6-1h0m3 0h0m1-3h0m4 4h0m3-5h0m2 3h0m6 2h0m5-3h0m0 3h0m4-1h0m4 0h0m7 2h0m0-5h0m5 2h0m4 2h0m2-3h0m2 1h0m4-2h0m11 4h0m4 1h0m1-3h0m7 1h0m5-2h0m5 1h0m3-2h0m3 5h0m3-4h0m1 3h0m2-5h0m1 4h0m4 0h0m0-2h0m4 2h0m1-2h0m5 0h0m3 4h0m2-2h0m0-4h0m6 4h0m0-4h0m3 5h0m1-4h0m3 4h0m1-3h0m2 2h0m5-1h0m0-2h0m-532 8h0m6 0h0m1-2h0m5 3h0m7 0h0m1-4h0m5 3h0m13 0h0m2 2h0m3-3h0m2 4h0m8 0h0m2-3h0m7 1h0m3 2h0m0-5h0m1 1h0m4 3h0m4-5h0m3 4h0m0-2h0m3 3h0m2-3h0m1 1h0m0-1h0m1 1h0m1 1h0m5 0h0m4 0h0m4-4h0m2 2h0m1 1h0m5 0h0m5-1h0m3-1h0m2 1h0m3-2h0m2 3h0m2-2h0m2 3h0m3 0h0m3 2h0m3-2h0m5-1h0m4 0h0m5 1h0m0-3h0m1 3h0m7-2h0m2 2h0m7-1h0m1 0h0m1-2h0m3-1h0m2 5h0m3-1h0m6 0h0m2-3h0m2 1h0m4-1h0m1 2h0m1-2h0m2 2h0m3-2h0m1 1h0m4-1h0m1 3h0m6 1h0m5-1h0m4-1h0m0-3h0m2 4h0m2-3h0m2 3h0m3 2h0m3-3h0m6 0h0m4 1h0m4-1h0m3 0h0m6-2h0m2 3h0m6 0h0m5 0h0m2-1h0m5-1h0m4-1h0m3 5h0m2-1h0m0-5h0m5 0h0m1 5h0m1-5h0m2 5h0m15-1h0m10 0h0m5-2h0m4-1h0m4 3h0m4 1h0m7-2h0m9 0h0m2 0h0m8 0h0m4-2h0m5 2h0m2-1h0m7 1h0m6-2h0m4 3h0m5-3h0m11 5h0m2-4h0m3 0h0m7 1h0m6 3h0m9-1h0m9-1h0m7-3h0m5 5h0m3-2h0m7 1h0m5-4h0m3 1h0m5 0h0m2 3h0m3 0h0m1-4h0m3 4h0m5-1h0m0-3h0m2 1h0m3 4h0m0-1h0m1 0h0m3-1h0m2-3h0m4 1h0m0-2h0m3 6h0m1 0h0m1-4h0m2 1h0m5 0h0m4-2h0m4 0h0m1 5h0m4-4h0m4-1h0m3 1h0m-522 6h0m3 0h0m5 3h0m3-2h0m4-1h0m20 3h0m6 1h0m3-5h0m6 1h0m12-2h0m2 1h0m7-1h0m5 0h0m1 2h0m3 2h0m6-1h0m10-2h0m4 0h0m2 3h0m3 0h0m9-3h0m1 1h0m2 3h0m7-2h0m2 1h0m3-4h0m4 1h0m4-1h0m3 1h0m6 0h0m0 3h0m4-1h0m3 1h0m2-3h0m4 1h0m2 0h0m6 2h0m1-2h0m3-2h0m4 6h0m0-1h0m1-3h0m4-2h0m1 4h0m3-3h0m2 3h0m1-3h0m4 4h0m3-5h0m2 6h0m3-4h0m2-1h0m0 4h0m3-3h0m1 3h0m4-3h0m5 3h0m4-3h0m0 4h0m2 0h0m2-6h0m4 4h0m1-1h0m1-2h0m5 1h0m5-1h0m1 1h0m3 0h0m11 1h0m5 3h0m4-1h0m7 0h0m10-1h0m6-1h0m3-2h0m5 2h0m2-3h0m3 1h0m2 3h0m7-2h0m0 3h0m5-1h0m2 0h0m4-2h0m5 1h0m1-2h0m7 3h0m5 0h0m6-2h0m5-2h0m5 3h0m4-2h0m7 0h0m4 2h0m4 2h0m5-5h0m1 5h0m2-4h0m3 0h0m6 1h0m10 0h0m3 1h0m1-3h0m3 2h0m13 3h0m2-3h0m8 3h0m0-4h0m13 0h0m3 0h0m2 3h0m3 2h0m11-4h0m3-1h0m4 1h0m3 2h0m6 0h0m6-2h0m2 4h0m2-4h0m3-1h0m2 3h0m2 1h0m6-2h0m2-3h0m0 3h0m3-3h0m2 2h0m2-1h0m1 2h0m4 0h0m4-3h0m1 4h0m1-3h0m3 2h0m8 2h0m-533 3h0m11 2h0m2-2h0m6 1h0m3 1h0m4-2h0m10-1h0m4-1h0m29 1h0m25 0h0m24 3h0m4-4h0m1 3h0m7 1h0m0 1h0m6-1h0m1 0h0m1-2h0m2 3h0m2-4h0m5-1h0m2 1h0m1 3h0m15-3h0m10 2h0m1 0h0m2 1h0m1-3h0m2 2h0m2 1h0m6 1h0m3-4h0m0 5h0m13-2h0m6-1h0m1-3h0m6 2h0m1 4h0m3-3h0m4 0h0m15 2h0m6-1h0m1-3h0m3 2h0m5-3h0m4 6h0m2-2h0m3-1h0m2 3h0m3-5h0m5 3h0m1-4h0m2 6h0m4-5h0m5-1h0m4 1h0m4 3h0m10-3h0m3 2h0m3-2h0m5 1h0m15 0h0m1 4h0m4-2h0m6 0h0m7 0h0m10-1h0m11-3h0m3 3h0m6 0h0m2 2h0m1-4h0m10-1h0m5 3h0m3-1h0m4 3h0m0-4h0m5 1h0m3 2h0m6-2h0m11-1h0m1 3h0m3-2h0m14 3h0m14 0h0m6 0h0m1-5h0m2 4h0m7 0h0m3 0h0m0-3h0m0 0h0m3 2h0m6 3h0m1-5h0m3 3h0m2-3h0m3 4h0m1-5h0m1 5h0m3-5h0m1 3h0m2-1h0m2 2h0m3-2h0m1 1h0m4-3h0m2 1h0m1 5h0m3-3h0m2-2h0m0 2h0m4-2h0m3 4h0m0-1h0m3-2h0m-403 8h0m19 2h0m20-5h0m1 0h0m13 4h0m1-5h0m0 3h0m2-2h0m6 3h0m4-3h0m3 0h0m4 0h0m1 0h0m7 0h0m6 3h0m21 1h0m3-3h0m4 0h0m5-1h0m4 2h0m9 0h0m4 3h0m17-6h0m7 2h0m2 3h0m4-1h0m11 0h0m5-4h0m0 3h0m8-3h0m2 5h0m4 1h0m11-5h0m3 4h0m9-4h0m1 5h0m6-1h0m8-1h0m1-2h0m8-1h0m2 2h0m3 2h0m4-4h0m2 4h0m7 1h0m2-1h0m3-3h0m5-1h0m5 1h0m4 3h0m3-1h0m2-2h0m9-2h0m3 5h0m4-3h0m4 0h0m4 2h0m3-1h0m3-1h0m3 0h0m11 1h0m1-2h0m3 1h0m8 4h0m0-3h0m8-2h0m0-1h0m0 0h0m2 4h0m1 1h0m3-3h0m2 4h0m2-3h0m1 2h0m3-3h0m2 3h0m1-3h0m4 1h0m3 3h0m1-4h0m3 3h0m2-3h0m1 3h0m2-2h0m5-2h0m2 4h0m2-3h0m4 0h0m2 3h0m7-2h0m2 1h0m-439 3h0m27-1h0m21 4h0m1 1h0m13 1h0m15-1h0m4 1h0m6-4h0m6-1h0m19 4h0m11-4h0m16-1h0m2 3h0m11-1h0m4 2h0m4-1h0m5 1h0m6 0h0m6 0h0m4-2h0m2-2h0m2 6h0m0-3h0m4 3h0m10-4h0m5 0h0m0 4h0m6-1h0m4-5h0m3 0h0m4 6h0m2-3h0m2-1h0m1 4h0m7-3h0m3 0h0m4-2h0m6 2h0m3 1h0m11-2h0m5 2h0m8 0h0m3 0h0m5 1h0m4-1h0m10 1h0m6 0h0m2-3h0m3 3h0m3-4h0m6 1h0m3 2h0m3-3h0m3-1h0m3 0h0m4 3h0m7-2h0m3 2h0m0 3h0m4-4h0m7 0h0m1 4h0m1-3h0m2-2h0m3 0h0m2-1h0m4 2h0m6 1h0m4 0h0m3-1h0m6 4h0m1-4h0m2 1h0m3 3h0m1-3h0m5-1h0m3 3h0m1 0h0m2-5h0m1 2h0m2 3h0m2-2h0m5 0h0m2 2h0m2-1h0m4-4h0m2 4h0m0 1h0m1-2h0m3-3h0m2 4h0m5-1h0m7 1h0m-384 8h0m4-4h0m1 3h0m11-3h0m44-1h0m31 1h0m10 0h0m13 2h0m2-1h0m5 2h0m17-2h0m5 0h0m5-1h0m4 1h0m4-3h0m6 2h0m7 2h0m5-4h0m4 1h0m5 3h0m3-2h0m1 4h0m4-5h0m7 4h0m1-4h0m5 4h0m0-3h0m3 0h0m12 4h0m0-4h0m6 1h0m2-2h0m3 0h0m6-1h0m1 4h0m2-2h0m8 1h0m4 0h0m6-2h0m4 1h0m3 0h0m4 0h0m1 2h0m2-4h0m3 6h0m0-6h0m5 3h0m5 1h0m3-2h0m2 3h0m6-5h0m3 5h0m2-5h0m1 5h0m5-4h0m0 4h0m3-5h0m2 6h0m2-4h0m5 3h0m4-4h0m10 5h0m3-1h0m2-5h0m4 5h0m3-2h0m3-2h0m1 4h0m5-2h0m2-2h0m2 4h0m2-1h0m4-3h0m2 2h0m3 1h0m3-3h0m1 3h0m1-2h0m4 3h0m1-3h0m4-1h0m-397 7h0m19 2h0m7 1h0m62-2h0m12-1h0m3 3h0m16-3h0m2 3h0m4-3h0m6 0h0m8 2h0m2-4h0m2 6h0m0-6h0m5 3h0m4 0h0m1 3h0m8-4h0m2 3h0m0-4h0m2 2h0m1 2h0m3 0h0m14-1h0m2-3h0m6 3h0m2-4h0m2 4h0m3 1h0m3-2h0m2-1h0m4-2h0m4 2h0m12 4h0m2-4h0m1 4h0m11-1h0m9 0h0m3-3h0m6 0h0m4-2h0m4 1h0m3 5h0m2-3h0m2-2h0m11 4h0m0-3h0m4-1h0m3 3h0m3-2h0m7 0h0m3 0h0m3 4h0m8-3h0m2 2h0m2 1h0m14-2h0m5-3h0m5 4h0m4 0h0m4-1h0m1-2h0m1 2h0m4-1h0m2 1h0m1-3h0m3 4h0m2-2h0m2-1h0m0 4h0m3 0h0m2-5h0m4 0h0m1 4h0m4-4h0m0 4h0m5 0h0m0-4h0m2 2h0m1 1h0m3-3h0m3 3h0m2-3h0m2 0h0m1 1h0m-389 7h0m5 1h0m70-1h0m23-2h0m15 4h0m2-3h0m2 2h0m2-2h0m3 0h0m1 3h0m16-5h0m2 3h0m7 2h0m0-4h0m3 1h0m3 0h0m11 0h0m1 2h0m5-4h0m9 4h0m4 0h0m11 2h0m4-1h0m7 0h0m21-3h0m3 4h0m1-5h0m4 4h0m19-3h0m7 3h0m4 0h0m2-3h0m5 1h0m5 1h0m2-3h0m6-1h0m4 2h0m6 0h0m8 3h0m4 0h0m4-5h0m4 3h0m3-1h0m2-2h0m1 4h0m3-3h0m2 3h0m2-4h0m2 5h0m7-2h0m1-2h0m0-1h0m3 1h0m4 2h0m5-1h0m4 4h0m0-4h0m3 2h0m5-3h0m0 0h0m2 2h0m0 3h0m6-3h0m5 0h0m3-2h0m2 1h0m-301 10h0m2-4h0m14 2h0m11 1h0m20-2h0m3-1h0m6-1h0m4 2h0m3-3h0m10 0h0m2 4h0m1-3h0m1 5h0m0-3h0m11-1h0m1 4h0m8-5h0m2 5h0m2-3h0m12-3h0m1 3h0m10 0h0m3 0h0m2 1h0m1-3h0m5 1h0m1 2h0m8-3h0m2 1h0m4 0h0m7-1h0m1 3h0m3 0h0m2-4h0m3 1h0m5 3h0m0-4h0m4 4h0m2-4h0m7 3h0m2 2h0m25 0h0m4-3h0m1 4h0m5-3h0m4 1h0m0-3h0m5 4h0m7-4h0m6 3h0m7 1h0m3-5h0m3 1h0m1 4h0m5-2h0m3-1h0m0 3h0m4-4h0m1 3h0m1-2h0m4 1h0m3 0h0m2-3h0m3 3h0m2 0h0m4-2h0m2 4h0m0-5h0m1 6h0m3-2h0m1-3h0m3 0h0m-244 8h0m3-1h0m6-1h0m5 5h0m19 0h0m2-3h0m4 0h0m6 0h0m4 2h0m1-5h0m3 1h0m24-1h0m3 1h0m3 2h0m2-2h0m9 0h0m8 1h0m18-2h0m4 3h0m6-1h0m9 2h0m36-2h0m6 2h0m3-2h0m1 3h0m3-3h0m4-1h0m1 4h0m4-3h0m6 0h0m2 3h0m5-3h0m2 2h0m2-2h0m2 3h0m1-5h0m4 4h0m0-3h0m5 1h0m2 2h0m0-2h0m2 4h0m4-1h0m0-2h0m11-1h0m1-2h0m-315 7h0m75 4h0m2-4h0m2 3h0m8-1h0m12-2h0m15-1h0m114 0h0m26 1h0m2-1h0m3 2h0m6 1h0m4-3h0m6 5h0m0 0h0m6-3h0m6 1h0m2 1h0m4 2h0m1-6h0m0 2h0m2-1h0m6 1h0m0 1h0m7-2h0m3 5h0m-271 2h0m44-1h0m189 0h0m2 1h0m3-1h0m6 2h0m3-3h0m1 1h0m11 2h0m-263 5h0m3 1h0m15 1h0m4-2h0m-8 9h0m6-4h0m82 0h0m12 3h0m-91 6h0m16 0h0m32 0h0m-49 2h0m16 3h0m-5 5h0m8 3h0m136 4h0m-104 17h0m-92 19h0m56 32h0m6 5h0m140 17h0m7 4h0m-109 6h0m6 6h0m6 6h0" stroke="#00BFC4"/>
<path d="M446 221h0m-100 169h0m-28 4h0m3 1h0m15 6h0m8 3h0m-18 2h0m2 2h0m2 2h0m2-2h0m2 2h0m3-2h0m-18 8h0m4-2h0m1-1h0m8 3h0m4-1h0m6 2h0m7-4h0m3 2h0m-38 8h0m1-2h0m0 0h0m0-2h0m7 1h0m1 1h0m2 1h0m1-5h0m2 4h0m5 1h0m1-4h0m5 2h0m5-1h0m1 2h0m2 1h0m0-4h0m-43 10h0m3 0h0m9-1h0m3-4h0m0 3h0m4-3h0m3 4h0m4 1h0m3-2h0m2-2h0m4 4h0m2-2h0m0-1h0m6 3h0m3-2h0m13-3h0m5 5h0m-75 5h0m4 1h0m7 1h0m4-5h0m1 0h0m1 3h0m4-3h0m0 4h0m3-3h0m6 1h0m0 1h0m4-2h0m3 3h0m2-4h0m4 1h0m3 0h0m27 1h0m3 0h0m-76 5h0m2 4h0m5-3h0m5 1h0m3-3h0m0 2h0m6 1h0m4-1h0m1 3h0m1-6h0m2 4h0m3 1h0m1-1h0m4 0h0m3-4h0m4 3h0m0-2h0m3 3h0m4 1h0m6 0h0m1-4h0m2 0h0m1 1h0m8 3h0m8-4h0m4 0h0m-87 8h0m3 0h0m3-2h0m4 3h0m1-2h0m2 2h0m3-2h0m1 3h0m2-3h0m4 4h0m3-5h0m1 3h0m2-2h0m3 3h0m3-1h0m5 2h0m2-6h0m1 5h0m4-3h0m2-1h0m3 3h0m3 0h0m3 0h0m2-3h0m9 3h0m20-2h0m-98 8h0m8-2h0m2 4h0m1-4h0m5 2h0m4-1h0m4 1h0m5-2h0m6 1h0m0 3h0m2-3h0m4 0h0m7-1h0m2 0h0m7 1h0m1-3h0m3 3h0m1-2h0m0 4h0m-67 2h0m4 2h0m1 1h0m4-2h0m0 3h0m1 0h0m7-1h0m3-3h0m0 3h0m1-3h0m4 3h0m1-4h0m5 3h0m1-2h0m2 4h0m1-4h0m2 3h0m5 1h0m3-4h0m3 4h0m1-3h0m3 0h0m0 2h0m3 2h0m5-5h0m0 5h0m3-5h0m7 0h0m2 5h0m27 0h0m1-2h0m-96 4h0m4 4h0m2-6h0m4 3h0m2 2h0m1-2h0m5 3h0m2-3h0m1 3h0m2-5h0m2 4h0m2-3h0m6 1h0m4 0h0m3-2h0m5 4h0m1-2h0m2 2h0m3-1h0m4-3h0m3 2h0m6 0h0m1-2h0m2 3h0m14-4h0m-87 10h0m4 0h0m1-3h0m4 2h0m4 1h0m2-3h0m1 5h0m0-3h0m3 0h0m5 2h0m5-1h0m6 0h0m1-3h0m3 2h0m2-2h0m2 1h0m0-2h0m5 5h0m4 0h0m5-2h0m0-3h0m4 2h0m2-1h0m5-1h0m2 5h0m10-4h0m2-1h0m4 5h0m10-5h0m0 1h0m5 4h0m-104 4h0m1 2h0m4-3h0m3 1h0m3 0h0m1 3h0m1 0h0m9-4h0m2 4h0m3-5h0m3 2h0m1 2h0m5-5h0m2 4h0m1-2h0m3 1h0m1 1h0m2 2h0m3-5h0m1 3h0m3-3h0m3 4h0m2-2h0m4-3h0m5 3h0m5-2h0m1 3h0m0 1h0m1 0h0m11-1h0m5 1h0m9-2h0m3 3h0m4-3h0m-110 9h0m2-2h0m3 0h0m1 2h0m3-3h0m1-3h0m3 4h0m6-2h0m2 1h0m2 2h0m2-4h0m0 3h0m6 0h0m1-4h0m2 3h0m7 2h0m1 1h0m2-2h0m5-1h0m4 1h0m4-1h0m4-1h0m2-1h0m2 1h0m3-2h0m1 1h0m4-1h0m28 3h0m7 2h0m-113 2h0m10 5h0m5-3h0m2-1h0m2 0h0m1 3h0m2 0h0m2-4h0m4 5h0m3-2h0m4-4h0m1 4h0m1-3h0m4 4h0m2-4h0m5 2h0m3-2h0m3 4h0m1-2h0m4 2h0m0-5h0m2 5h0m4 0h0m0-3h0m4 0h0m0 3h0m4-5h0m3 1h0m1 5h0m3-3h0m3-3h0m0 5h0m10-5h0m6 2h0m8 2h0m3-1h0m-105 4h0m2 0h0m2 1h0m2 1h0m7-2h0m4 3h0m1 2h0m0-5h0m8 3h0m0 1h0m4-2h0m2-2h0m3 4h0m1-4h0m4-1h0m2 4h0m1 1h0m4-2h0m2-1h0m7-1h0m3 3h0m1 2h0m4-4h0m0 3h0m4-2h0m6-1h0m0 3h0m2-4h0m3 3h0m1-3h0m5 2h0m12 0h0m-98 8h0m7-4h0m0 4h0m2-5h0m3 3h0m1-2h0m2 4h0m6-1h0m2-3h0m1 3h0m7 1h0m0-4h0m3 3h0m3 1h0m2-4h0m3 4h0m7-1h0m0-3h0m3 2h0m2-1h0m1 1h0m2-3h0m2 4h0m6 2h0m4-3h0m3-1h0m1 2h0m3-1h0m3 2h0m7 0h0m14-2h0m2-2h0m-99 7h0m3-1h0m3 2h0m1 2h0m5-2h0m3-1h0m4 1h0m5 0h0m5 0h0m5-2h0m3 4h0m0-2h0m4-3h0m2 6h0m4-4h0m3 4h0m0-3h0m2 2h0m3-3h0m4 3h0m2-2h0m0 2h0m5-2h0m1 2h0m2 1h0m1-3h0m2-1h0m1 2h0m10 1h0m5-4h0m7 4h0m11-4h0m-101 6h0m2 2h0m5-1h0m0-1h0m4 3h0m0 2h0m0-5h0m5 5h0m0-2h0m0-4h0m3 4h0m4-1h0m0-2h0m4 0h0m1 2h0m5 0h0m1-2h0m2 3h0m4 1h0m5-2h0m6 2h0m5 0h0m4-1h0m3-1h0m5 3h0m3-4h0m10-1h0m11 1h0m-91 8h0m2-1h0m4 2h0m2-3h0m1 4h0m6-1h0m4 0h0m3-3h0m2 3h0m2-3h0m3 2h0m0-2h0m3 3h0m2-4h0m3 3h0m2 2h0m0-5h0m3 1h0m5-1h0m2 4h0m3-3h0m2 3h0m0-3h0m4 2h0m2-1h0m5 0h0m9 0h0m-79 6h0m5 1h0m2 2h0m1-2h0m5-1h0m4 1h0m3 0h0m4 0h0m5-2h0m4 1h0m0 2h0m5-2h0m2 2h0m4-1h0m3-2h0m2-2h0m2 3h0m3 3h0m3-4h0m2 1h0m6 2h0m2-2h0m1 1h0m16-4h0m15 1h0m-107 10h0m11-1h0m4 1h0m2-5h0m2 5h0m5-4h0m2 3h0m2-2h0m2 2h0m1-3h0m2 3h0m4-3h0m0 4h0m6-1h0m3-2h0m1 3h0m3 1h0m2-6h0m5 1h0m0 4h0m7-2h0m3 0h0m0-2h0m5 1h0m13 0h0m3 2h0m8-2h0m-82 6h0m1 4h0m2-2h0m5-1h0m3-2h0m7 2h0m1 3h0m4-3h0m2-1h0m4 3h0m1-4h0m4 3h0m0 1h0m6-3h0m3-1h0m1 5h0m3-3h0m0-3h0m6 3h0m3-2h0m3 2h0m14-1h0m6-1h0m6 0h0m3 1h0m-95 9h0m2 0h0m5-1h0m5 1h0m2-2h0m1-2h0m2 0h0m3 3h0m2-4h0m3 3h0m5 0h0m1-3h0m1 5h0m7-1h0m3-1h0m1-2h0m4 4h0m3-5h0m0 4h0m4 0h0m4-3h0m2 4h0m2-4h0m3 2h0m1-1h0m1 3h0m9-4h0m0 4h0m28-4h0m0 4h0m-124 3h0m13 0h0m8 3h0m5-2h0m0 2h0m4-2h0m1 1h0m4-2h0m2 0h0m7 1h0m1 2h0m2-4h0m1 3h0m3-3h0m3 0h0m6 2h0m5-1h0m2 4h0m1-4h0m4 2h0m0-3h0m3 5h0m1-3h0m2 2h0m2-4h0m6 1h0m3-1h0m14 3h0m3-3h0m3 1h0m8 0h0m2 2h0m4-1h0m-118 6h0m10 2h0m0-2h0m1-1h0m1-1h0m4 3h0m4-1h0m5 1h0m3-1h0m3-2h0m3 4h0m3-5h0m1 4h0m2-1h0m7 0h0m1-3h0m4 5h0m1-1h0m1-3h0m3 0h0m3 2h0m2 1h0m6 0h0m4 0h0m3-2h0m5-1h0m1 2h0m3-3h0m1 3h0m1-3h0m6 4h0m1-3h0m1 2h0m7-1h0m1 4h0m-100 3h0m7-1h0m1 2h0m1-4h0m1 1h0m3 0h0m0 3h0m3 1h0m1-4h0m2 1h0m2 2h0m4-4h0m5 0h0m0 4h0m1-2h0m7 0h0m3 1h0m4-3h0m0 4h0m6-3h0m4 0h0m3 4h0m0-4h0m4 4h0m2-3h0m4 0h0m1 2h0m4-2h0m0 4h0m5-5h0m1 3h0m4-4h0m1 1h0m1 5h0m2-2h0m2-2h0m4 2h0m2-1h0m2 1h0m-81 4h0m3 0h0m0 3h0m5-1h0m1-4h0m5 2h0m2 0h0m4 1h0m0-3h0m3 0h0m4 3h0m3-1h0m3 2h0m0 2h0m1-5h0m2-1h0m4 5h0m1-2h0m1-1h0m5 0h0m3-1h0m1 0h0m3 5h0m2-2h0m2 2h0m2-1h0m5 0h0m2-2h0m1 2h0m2-1h0m3-2h0m2 3h0m5-2h0m3 1h0m3-1h0m1 0h0m-95 7h0m1-1h0m3-2h0m0 4h0m2 0h0m7-3h0m1-2h0m1 4h0m5-2h0m2 4h0m1-4h0m3 0h0m1 3h0m2 0h0m1-3h0m3 3h0m3-4h0m6 3h0m2-3h0m4 4h0m1 1h0m0 0h0m2 0h0m1-1h0m3-1h0m0-2h0m3 0h0m7 2h0m3 0h0m4-2h0m0 3h0m0-1h0m5 1h0m2-5h0m1 4h0m4-1h0m4-1h0m4 0h0m4 3h0m0 1h0m2-2h0m-100 6h0m8-1h0m3 0h0m4-3h0m0 1h0m0 4h0m6-2h0m4 1h0m6-2h0m2 2h0m0-1h0m3 1h0m1-2h0m1 2h0m2 2h0m5 0h0m2-4h0m1 3h0m0-5h0m1 3h0m5 1h0m0-4h0m1 4h0m0-1h0m1 2h0m1-1h0m3-1h0m1-2h0m0 0h0m2 1h0m3 3h0m6-4h0m2 3h0m1 0h0m7-4h0m1 2h0m0 0h0m1-1h0m4 0h0m10 3h0m0-3h0m1 0h0m0-1h0m7 3h0m0-2h0m3 0h0m2 4h0m15 1h0m13-2h0m-136 4h0m7 0h0m1 2h0m0-2h0m2 3h0m4-3h0m3 3h0m0-5h0m4 1h0m1 3h0m3 1h0m2-4h0m5 4h0m0-4h0m3 3h0m5 0h0m6-1h0m5 0h0m2-1h0m1 2h0m3 0h0m2-4h0m3 2h0m3 3h0m1-3h0m5 0h0m2 3h0m3-3h0m2 4h0m3-4h0m2 2h0m3-3h0m0 4h0m4-3h0m0 3h0m2-3h0m6-1h0m0 4h0m4-4h0m2 5h0m1-5h0m10 1h0m-118 6h0m7-2h0m0 2h0m2 2h0m2 1h0m4-3h0m2-1h0m0 2h0m7 1h0m2 0h0m3 1h0m3-2h0m0 3h0m3-3h0m7 0h0m0 3h0m3-5h0m2 0h0m1 4h0m0-4h0m3-1h0m1 5h0m2-3h0m2-1h0m6 1h0m2-2h0m2 3h0m5-2h0m1-1h0m3 3h0m3 0h0m0 2h0m5-1h0m6-2h0m3 1h0m5-2h0m0-1h0m3 1h0m4 1h0m4 0h0m2-2h0m3 1h0m1 4h0m4-2h0m2 2h0m3-2h0m8 1h0m8-3h0m4-1h0m-135 11h0m8-1h0m1 1h0m1-3h0m4-1h0m0 3h0m4 1h0m0-3h0m7 3h0m4 0h0m2-5h0m3 3h0m4 1h0m2 1h0m5 1h0m1-6h0m3 3h0m3 1h0m1-4h0m3 1h0m3 2h0m2 2h0m0-3h0m4 1h0m0-2h0m5 2h0m2-1h0m4 3h0m1-4h0m3 2h0m1-1h0m1 3h0m4-3h0m1 2h0m2-3h0m2 2h0m4-2h0m1 3h0m4-2h0m0 2h0m3-3h0m0 4h0m6-2h0m5 2h0m0-3h0m5 0h0m17 4h0m-139 3h0m2-3h0m4 2h0m1 3h0m2 0h0m3 0h0m1-4h0m2 1h0m5-1h0m2 4h0m3-2h0m2 2h0m0-3h0m4 3h0m2-3h0m5 4h0m1-3h0m3-2h0m2 0h0m5 5h0m0-3h0m2 1h0m3-3h0m4 0h0m3 3h0m1-1h0m4 2h0m0-3h0m4-1h0m1 3h0m2 1h0m2-3h0m3 2h0m2-2h0m4 1h0m4 2h0m1-4h0m3 2h0m4-1h0m3 4h0m3-5h0m1 4h0m4 0h0m0-4h0m4 4h0m0-4h0m2 0h0m3 5h0m3-6h0m1 1h0m1 2h0m4 3h0m19-3h0m-136 4h0m6 2h0m3-2h0m3 4h0m4 0h0m3-1h0m4-1h0m3-2h0m4 1h0m2 0h0m2-1h0m3 2h0m2 3h0m2-3h0m4 0h0m2-2h0m4 4h0m4-1h0m5 0h0m4-1h0m2 1h0m5-2h0m3-2h0m1 5h0m5-3h0m3-2h0m3 4h0m1-3h0m2 1h0m4 1h0m5 0h0m4-1h0m5 0h0m3 1h0m8 2h0m4-4h0m9 3h0m3 1h0m-124 3h0m2 3h0m1-3h0m2 2h0m4-4h0m0 4h0m4-2h0m1 3h0m4-4h0m3 0h0m3 4h0m2-4h0m1 5h0m6 0h0m2-6h0m3 4h0m2-2h0m3 0h0m1 3h0m4-2h0m1 3h0m3-1h0m1-5h0m1 2h0m3 2h0m4-3h0m1 3h0m2-4h0m4 5h0m2-1h0m0-2h0m2-1h0m4 1h0m4 2h0m0-4h0m4 4h0m3-4h0m0 5h0m4 0h0m1-4h0m3 1h0m2 3h0m2-3h0m1 2h0m14 2h0m19-3h0m-132 5h0m1-1h0m3 3h0m3-2h0m5 0h0m4 1h0m2 2h0m1-5h0m2 2h0m4 1h0m1 2h0m4-3h0m0 3h0m2-3h0m7 2h0m1-4h0m3 2h0m2 2h0m4 2h0m1-2h0m3 0h0m4 1h0m3-2h0m2 2h0m1-3h0m3 3h0m1-3h0m6 0h0m2-2h0m1 1h0m5 1h0m0 4h0m4-3h0m5 0h0m4-2h0m4 2h0m5-2h0m11 1h0m-101 8h0m1-3h0m6 4h0m1-4h0m4 2h0m2 1h0m5-1h0m4-2h0m1 4h0m2-4h0m3 3h0m2-4h0m3 4h0m3 0h0m3-3h0m2 3h0m3 1h0m6-1h0m2-2h0m3-1h0m3 4h0m3-4h0m1 4h0m3-4h0m2 2h0m4 2h0m1-5h0m4 3h0m1-2h0m9 3h0m1 2h0m1-4h0m2 1h0m3-1h0m2 0h0m4 3h0m4 0h0m17 1h0m7-1h0m1-4h0m-129 5h0m1 2h0m1 0h0m0 1h0m1 2h0m3-5h0m1 4h0m0 1h0m2 0h0m0-3h0m3 0h0m3 3h0m2-2h0m3 3h0m2-5h0m2 5h0m1-4h0m2 2h0m3-4h0m3 4h0m1-2h0m5 0h0m6 4h0m0-4h0m2-2h0m4 0h0m4 4h0m1-4h0m4 2h0m0 2h0m2 1h0m3-2h0m3 0h0m11-1h0m17-1h0m3 1h0m0 2h0m2 1h0m11-3h0m7 0h0m-111 7h0m11 0h0m2 3h0m1-4h0m5 0h0m5 4h0m1-2h0m2 0h0m3-4h0m3 3h0m1-3h0m1 5h0m7-2h0m1-3h0m2 3h0m5-1h0m3 0h0m3 2h0m1 0h0m4-2h0m2 0h0m0-1h0m13 1h0m7 1h0m4 0h0m5-2h0m4 0h0m12 1h0m4-1h0m14 0h0m10 5h0m-135 2h0m14 2h0m2-2h0m3 0h0m4 3h0m7-5h0m3 2h0m3-1h0m0 1h0m1 3h0m0-1h0m1-2h0m2-1h0m8 2h0m8-3h0m23 5h0m3 0h0m5-5h0m2 5h0m3-4h0m2 1h0m3 4h0m2-4h0m3 4h0m9-1h0m1-2h0m8-2h0m4 1h0m-112 6h0m21 2h0m2 1h0m2-4h0m49 0h0m8 3h0m23 0h0m-25 5h0m1-1h0m1 0h0m6 2h0m2-2h0m8 3h0m8 0h0m3-2h0m-25 8h0m3-2h0m4 0h0m3 2h0m6-1h0m-2 6h0m4-2h0m1 3h0m7 1h0m-18 1h0m10 4h0m5-2h0m5 1h0m2 0h0m1-1h0m4 2h0m2 1h0m-14 2h0m3-1h0m6 5h0m3 0h0m0-4h0m6 2h0m3 2h0m-3 1h0m3 2h0m6 2h0m-13 4h0m6-1h0m2 2h0m-2 6h0m2-4h0m5 2h0m1 1h0m7 0h0m2-1h0m-7 5h0m2-1h0m6 3h0m2 5h0m17 3h0m-13 1h0m0 5h0m11-2h0m-4 11h0m15 15h0m5 5h0" stroke="#00B4F0"/>
<path d="M553 226h0m2 11h0m-400 17h0m9 0h0m-6 5h0m1-3h0m-3 6h0m1 3h0m3-3h0m2 4h0m8 2h0m6 0h0m510 7h0m22 22h0m-228 235h0m4 1h0m4 3h0m58-4h0m-73 8h0m4 3h0m1-4h0m2 2h0m2-2h0m3-1h0m44 5h0m-40 4h0m0 1h0m2-4h0m1 0h0m6 4h0m21 0h0m-27 6h0m1 0h0m2-5h0m1 4h0m2 0h0m1-4h0m2 2h0m1 4h0m1-2h0m2-2h0m0 1h0m1 2h0m0-4h0m2 1h0m2 2h0m3-3h0m2 2h0m0-2h0m5 1h0m2 3h0m4 0h0m3 1h0m8-2h0m-53 6h0m6-4h0m4 2h0m4-2h0m2 4h0m4 0h0m2 2h0m2-2h0m3 0h0m3-4h0m2 3h0m1 2h0m2-1h0m0-4h0m3 5h0m0-1h0m4-4h0m2 3h0m5-3h0m3 3h0m2 2h0m6 0h0m8-3h0m3 3h0m-72 7h0m7-5h0m1 4h0m2-4h0m3 3h0m3-2h0m0 2h0m2-3h0m2 3h0m6-1h0m1-2h0m2 3h0m2-4h0m2 4h0m2-1h0m7 0h0m1-2h0m3 0h0m5 1h0m2 0h0m4 1h0m8 0h0m3-2h0m4 0h0m5 2h0m1-2h0m2 1h0m1-2h0m3 6h0m8-4h0m18 2h0m-103 7h0m0-3h0m2 1h0m4-1h0m4 4h0m3-3h0m0 2h0m3-3h0m1 2h0m3 1h0m1-4h0m3 4h0m0-3h0m5-1h0m1 4h0m2-2h0m2 1h0m2-2h0m1-2h0m1 2h0m14 0h0m9-1h0m13-1h0m16 2h0m14 3h0m2-3h0m0 4h0m11-2h0m-118 6h0m2 2h0m2-3h0m2 3h0m0-6h0m2 4h0m5-2h0m4 0h0m5 0h0m2 0h0m4 0h0m6 0h0m3 1h0m5-3h0m-43 11h0m5-1h0m4-1h0m4-1h0m1-1h0m0 4h0m2-2h0m2-2h0m4 3h0m2-4h0m2 5h0m1-4h0m2 2h0m3-1h0m-29 8h0m4-2h0m2 3h0m3 1h0m0-3h0m1-1h0m3 2h0m1-3h0m3 0h0m0 3h0m4-3h0m3 2h0m0 1h0m1-2h0m20 3h0m-49 7h0m4-1h0m4-3h0m3 3h0m2-3h0m2-2h0m5 2h0m4-1h0m2 1h0m9 2h0m2-3h0m18 2h0m-75 9h0m2-2h0m8-2h0m3 2h0m4 0h0m5 0h0m5-3h0m1 2h0m6 1h0m1-2h0m5 2h0m1-3h0m6 1h0m4 2h0m21-2h0m-91 9h0m8 0h0m5-1h0m1-1h0m4 1h0m4 0h0m7-2h0m9-1h0m6 1h0m13 0h0m16 3h0m0-1h0m1 1h0m2 0h0m17 0h0m1-1h0m6-3h0m265 3h0m-379 5h0m7 3h0m5 0h0m2-5h0m0 1h0m3 2h0m0 0h0m1-2h0m5 1h0m3-1h0m1 2h0m1 0h0m3-3h0m0 2h0m2-1h0m4 2h0m4-3h0m1 0h0m24 2h0m5-2h0m-75 10h0m10-1h0m2-2h0m2 4h0m2-3h0m5 1h0m2-2h0m0 0h0m1-2h0m1 4h0m2-3h0m2-1h0m0 0h0m1 2h0m3 4h0m0-3h0m1-1h0m0 1h0m31 0h0m6 0h0m4-2h0m1 1h0m-75 6h0m1 3h0m3-3h0m1 3h0m4-3h0m3 4h0m9-4h0m5-1h0m2 3h0m7-3h0m1 2h0m25 3h0m10-5h0m5 0h0m-78 5h0m1 5h0m3-2h0m8 0h0m12 3h0m1-2h0m3 1h0m1-4h0m2 3h0m5 0h0m30 0h0m7-3h0m280 3h0m-334 7h0m1-5h0m1 2h0m3 2h0m2 1h0m33 0h0m17-5h0m270 2h0m-330 6h0m2 2h0m2-4h0m-2 10h0m5-3h0m39 0h0m-48 7h0m49-2h0m2 4h0m21-3h0m71 11h0m-108 4h0m3 5h0m5 2h0m-11 3h0m5 1h0m265 10h0m-83 12h0" stroke="#619CFF"/>
<path d="M507 500h0m7-1h0m-6 8h0m4-4h0m96 168h0m-6 9h0m19 13h0m-42 10h0m-153 2h0m2 5h0m4 0h0m107-1h0m5-2h0m2 3h0m4-1h0m6-3h0m1 1h0m10 3h0m14-1h0m-162 3h0m7 4h0m6-2h0m1 1h0m0-3h0m4 3h0m64 1h0m16-3h0m1 2h0m6-3h0m3 0h0m3 3h0m9-3h0m1 1h0m0-1h0m4 5h0m4-1h0m2-3h0m8 0h0m12 2h0m1-2h0m0 3h0m3-1h0m21-3h0m1 3h0m-162 5h0m28 2h0m25 0h0m11-2h0m5 2h0m13-5h0m7 3h0m4-1h0m3 0h0m5-1h0m17 2h0m6 2h0m7-4h0m1 4h0m5-5h0m5 5h0m0-5h0m11 2h0m4 0h0m5 0h0m3 0h0m8 2h0m1 0h0m1 1h0m-177 5h0m4-1h0m4-2h0m23 1h0m20 3h0m7 1h0m8-1h0m22-5h0m2 3h0m1-3h0m2 0h0m2 4h0m2-3h0m1 1h0m4-1h0m0 3h0m2-1h0m4-1h0m4 4h0m10-3h0m2 1h0m2 2h0m2-4h0m2-2h0m0 6h0m2-3h0m6 1h0m1 2h0m0-6h0m4 4h0m4 0h0m5-4h0m1 4h0m1-2h0m3-2h0m12 3h0m-166 6h0m1 2h0m0-4h0m3 2h0m11-1h0m7 3h0m9-4h0m2 0h0m7 2h0m3 0h0m2 1h0m3-1h0m4-3h0m1 6h0m5-1h0m0-2h0m1-1h0m3 1h0m9 2h0m3-3h0m4 3h0m3-3h0m1 3h0m2-5h0m5 2h0m1 1h0m4-1h0m2 3h0m1-3h0m4 3h0m2-4h0m3 0h0m2 5h0m1-6h0m1 1h0m4 1h0m0 4h0m2-2h0m4-4h0m2 5h0m3 0h0m6 1h0m1-6h0m3 3h0m4 0h0m2-1h0m1 4h0m3-5h0m3 5h0m0-6h0m4 4h0m4 2h0m1-2h0m1-1h0m1-3h0m1 1h0m2 2h0m1 2h0m10-1h0m5-4h0m0 3h0m9 2h0m-184 6h0m0-3h0m0 0h0m1 0h0m4-1h0m5 4h0m5 1h0m3-1h0m0-2h0m5-1h0m4 0h0m2 4h0m1-4h0m1 4h0m3-5h0m6 3h0m2-4h0m1 4h0m4-3h0m6 1h0m4 0h0m4-2h0m1 2h0m3 0h0m3-1h0m4 0h0m4 4h0m3-2h0m1-1h0m5 0h0m0-2h0m5 2h0m6 1h0m2-1h0m3 3h0m0-5h0m3 3h0m1 2h0m3-2h0m3 2h0m1-2h0m2 2h0m3-2h0m0 3h0m5-2h0m1 1h0m2-4h0m2 4h0m3-1h0m4-2h0m5 1h0m4-1h0m3-1h0m2 5h0m3-3h0m13 1h0m5 2h0m8-6h0m5 0h0m0 2h0m0-1h0m-179 5h0m1 5h0m4-5h0m1 4h0m5-1h0m2 0h0m6 0h0m2-2h0m1 3h0m4 0h0m6-4h0m1 3h0m3 2h0m1-3h0m4 3h0m3-3h0m0 2h0m1-4h0m1 6h0m4-1h0m1-3h0m1 1h0m3-3h0m3 5h0m2-5h0m1 4h0m4-4h0m1 3h0m2-3h0m4 2h0m1 3h0m5-4h0m2 4h0m1-5h0m1 2h0m4 2h0m1-3h0m2-1h0m3 2h0m3-1h0m1 3h0m4 0h0m6-1h0m4 1h0m3-1h0m6 0h0m4 2h0m5 0h0m0-5h0m2 2h0m4-1h0m0 2h0m3-3h0m1 4h0m2-2h0m4 2h0m5-1h0m2-3h0m0 5h0m3-3h0m0-1h0m1 2h0m1 2h0m2-4h0m9 0h0m4 4h0m6-4h0m-177 10h0m0-4h0m3 1h0m1-1h0m5 1h0m2 2h0m1-4h0m2 5h0m3-4h0m4 3h0m1-2h0m3-1h0m2 4h0m3-3h0m3 1h0m5 0h0m3 1h0m2-2h0m1 3h0m7-3h0m4 4h0m1-6h0m0 5h0m5-2h0m1 1h0m0-3h0m6 0h0m5 1h0m2 3h0m2-4h0m4-1h0m2 5h0m3-4h0m2 1h0m4 3h0m3-3h0m4 0h0m2-1h0m4 3h0m2-2h0m3 0h0m5 3h0m0-5h0m6 1h0m1 3h0m2-3h0m3 5h0m1-3h0m3-2h0m2 4h0m2-4h0m4 4h0m1-4h0m6 2h0m3 1h0m0-3h0m7 3h0m8-2h0m1-2h0m8 1h0m-178 7h0m11 4h0m1-6h0m1 4h0m5-2h0m3 1h0m4-3h0m2 2h0m4 0h0m3 1h0m3-3h0m3 4h0m1 1h0m1-5h0m0 3h0m3 3h0m1-3h0m6-1h0m3-1h0m0 3h0m5-1h0m1 3h0m3-2h0m3 2h0m1-3h0m3-3h0m1 4h0m2-3h0m5 2h0m2-1h0m4-1h0m2 2h0m3-1h0m1 3h0m3-5h0m2 3h0m3-1h0m1 4h0m2-5h0m0 2h0m2-3h0m2 3h0m7 1h0m0-3h0m5 3h0m3-1h0m1 3h0m1-5h0m2 1h0m3 1h0m3 3h0m3-5h0m0 3h0m3-2h0m5 2h0m5-2h0m1-2h0m4 3h0m2 3h0m1-3h0m1-3h0m-148 6h0m2 4h0m4 1h0m3-4h0m0 2h0m2-3h0m3 4h0m3-2h0m0 2h0m3-3h0m1 4h0m4-4h0m2 4h0m1-4h0m4 4h0m2 1h0m4-1h0m3-3h0m1 1h0m3-2h0m3 4h0m1-3h0m4 2h0m4 0h0m3 1h0m3-4h0m4-1h0m0 3h0m1 2h0m2-4h0m4 4h0m2-4h0m2 2h0m2-3h0m2 6h0m4-3h0m2-2h0m3 4h0m5-3h0m1 4h0m1-2h0m3-3h0m3 3h0m2-2h0m3 1h0m0-1h0m5 4h0m3 0h0m0-6h0m4 6h0m4 0h0m4-3h0m0-2h0m3 0h0m2 3h0m2-4h0m2 5h0m3-3h0m0 2h0m-147 3h0m6 1h0m1 0h0m4 3h0m3-3h0m1 3h0m2-2h0m6 2h0m0-3h0m4 2h0m3-2h0m3 3h0m2-4h0m4 0h0m1 3h0m3-1h0m4 2h0m1-2h0m0 3h0m4-4h0m4 0h0m4-1h0m1 4h0m5-2h0m1 2h0m3-3h0m4 0h0m3 3h0m1-3h0m3-1h0m4 1h0m3 2h0m4-2h0m4 1h0m0 1h0m4-3h0m4 0h0m2 0h0m1 3h0m3 1h0m2-3h0m5 4h0m1-5h0m2 1h0m3 0h0m3 3h0m3-3h0m5 1h0m0 2h0m5-1h0m1 1h0m3-2h0m1 2h0m1-2h0m3 2h0m2-4h0m1 4h0m3-1h0m-145 6h0m6-1h0m1 1h0m4 1h0m0-4h0m4 5h0m1-2h0m3-3h0m4 1h0m3 1h0m3-3h0m1 4h0m2 2h0m4-2h0m3 0h0m3 2h0m0-3h0m4-2h0m0 5h0m1-1h0m1 1h0m3-6h0m2 4h0m0 2h0m4-4h0m3 2h0m1 2h0m2-5h0m1 3h0m3-1h0m5-2h0m1 1h0m1-1h0m2 3h0m5 0h0m3-3h0m3 4h0m3-1h0m2-4h0m3 3h0m3 1h0m6-1h0m0-3h0m4 4h0m4 1h0m1-5h0m4 5h0m3-3h0m4-2h0m1 3h0m1 3h0m3-2h0m5-1h0m4 0h0m3 0h0m2-2h0m3 4h0m5 0h0m-149 3h0m2 3h0m3-3h0m1 2h0m4-1h0m2 2h0m4-3h0m4 0h0m1 3h0m4-4h0m4 5h0m4-2h0m1-1h0m8 2h0m11 1h0m3-6h0m6 5h0m3-2h0m4-2h0m2 3h0m2-3h0m1 4h0m2-4h0m2 4h0m4-2h0m2 1h0m3-3h0m1 4h0m3-4h0m2 3h0m1-2h0m2 2h0m2-3h0m4 0h0m0 3h0m4 1h0m2-1h0m1-3h0m3 0h0m3 4h0m2-4h0m1 3h0m2-2h0m1 3h0m7 0h0m0-3h0m2 2h0m4-1h0m2 1h0m2-3h0m0 4h0m-135 2h0m6 2h0m5 3h0m0-5h0m0 1h0m3 0h0m5 2h0m3-4h0m1 3h0m5-1h0m1 3h0m1-1h0m4-4h0m2 1h0m5 3h0m2-4h0m1 2h0m4-2h0m0 3h0m6 0h0m2-2h0m2 1h0m2 2h0m3-4h0m3 2h0m4 0h0m6 2h0m3-1h0m4-1h0m4-1h0m1 5h0m3-4h0m3 0h0m5 3h0m1-3h0m2 4h0m1-2h0m4 2h0m1-4h0m4 1h0m6-1h0m2 0h0m4 4h0m3-4h0m1 3h0m1-4h0m4 2h0m1 2h0m-136 3h0m0 1h0m2 1h0m4-2h0m1 2h0m3-2h0m1 1h0m6 1h0m1-3h0m1 2h0m5-2h0m1-1h0m1 3h0m2 1h0m5-1h0m1-3h0m3 4h0m4-3h0m0 3h0m3-4h0m4 5h0m1-3h0m2 1h0m1-1h0m4 3h0m2-5h0m2 3h0m2-3h0m2 5h0m0-4h0m4 3h0m3-3h0m2 0h0m0 2h0m5 1h0m2-3h0m0 4h0m4-5h0m1 4h0m3-4h0m1 4h0m6 1h0m1-3h0m0 3h0m5-1h0m5-1h0m6 2h0m0-5h0m3 3h0m3 0h0m1-2h0m1-1h0m3 4h0m6-1h0m2 2h0m4-2h0m-134 6h0m1-1h0m7 3h0m2-2h0m2 3h0m1-4h0m1 3h0m4-2h0m5 2h0m0-3h0m3 0h0m2 2h0m2-1h0m5 1h0m1-1h0m3-2h0m1 4h0m5-5h0m1 6h0m3-4h0m0 3h0m2-2h0m5-1h0m3 0h0m6 0h0m1 3h0m2-4h0m3 5h0m3-5h0m4 2h0m2 0h0m0 3h0m5-1h0m3-4h0m3 0h0m4 0h0m1 5h0m4-5h0m2 4h0m3-3h0m1-1h0m5 2h0m4 3h0m0-5h0m5 4h0m0-3h0m5-1h0m3 3h0m2-2h0m2-2h0m2 4h0m-120 5h0m2 1h0m4-3h0m2 3h0m5 0h0m4-2h0m3-1h0m0 2h0m5 2h0m3-2h0m2 3h0m4 0h0m1-3h0m4 1h0m1-4h0m3 3h0m2-2h0m1 2h0m2-3h0m1 6h0m3-4h0m4 2h0m4 0h0m1-3h0m2 2h0m4 1h0m4-2h0m3-2h0m3 1h0m1 4h0m4 0h0m3 0h0m3-1h0m3-3h0m3 1h0m2 1h0m1-2h0m2 5h0m2-2h0m4 1h0m3-5h0m2 2h0m5 1h0m1-3h0m5 5h0m-119 2h0m2 1h0m1 2h0m1-1h0m3-2h0m3 4h0m1-4h0m2 3h0m4-4h0m3 0h0m0 6h0m4-5h0m0 4h0m4 0h0m3 0h0m5-1h0m3-2h0m2 3h0m2-3h0m3 2h0m1 1h0m5-4h0m1 3h0m3-3h0m0 3h0m2-2h0m4 1h0m2-3h0m2 5h0m1-5h0m3 4h0m1-4h0m4 5h0m2-4h0m1 5h0m3-4h0m5-1h0m1 3h0m3-2h0m2 2h0m2-3h0m1 4h0m5-2h0m3-2h0m2 1h0m1 2h0m2-1h0m4-1h0m2-1h0m2 5h0m2-3h0m-122 8h0m17-4h0m2 5h0m1-5h0m4 0h0m4 1h0m0 3h0m3 0h0m1-2h0m7 1h0m3-1h0m3 3h0m2-3h0m3 3h0m1-4h0m5 0h0m1 0h0m5 0h0m5 0h0m2 4h0m2-3h0m4-1h0m6 0h0m3 1h0m2-3h0m1 6h0m2-5h0m4 0h0m2 4h0m3-2h0m0 2h0m3-1h0m3 2h0m2-2h0m6-2h0m3 0h0m5-1h0m6 0h0m-109 11h0m1 0h0m3-2h0m2-2h0m1 1h0m4 2h0m5 0h0m2-3h0m2 4h0m1-6h0m3 3h0m6 0h0m3 2h0m2-4h0m3 4h0m1-4h0m4 5h0m3-6h0m1 5h0m2-5h0m1 4h0m6 2h0m0-5h0m3 4h0m1-3h0m3 1h0m3-2h0m3 2h0m2 0h0m2-2h0m4 4h0m3-1h0m6 0h0m4 1h0m0-4h0m5 2h0m2-3h0m7 6h0m-104 0h0m5 1h0m3 4h0m1-4h0m4 5h0m1-3h0m5-2h0m4 1h0m3-1h0m5-1h0m1 4h0m4-1h0m4-1h0m1 2h0m2-3h0m4 3h0m2-3h0m2 3h0m1-3h0m5-1h0m1 6h0m3-6h0m4 2h0m4 2h0m1-2h0m3 3h0m2-4h0m2 4h0m3-3h0m3-1h0m2 3h0m3-2h0m1 4h0m4-2h0m0-3h0m3 2h0m9 3h0m-99 0h0m3 1h0m1 1h0m4 2h0m3-3h0m0 1h0m5-1h0m2 1h0m0 4h0m1-6h0m2 3h0m3 0h0m0-3h0m5 4h0m4-3h0m1 2h0m5 1h0m2 0h0m7 0h0m2 1h0m0-4h0m5 1h0m2-2h0m2 4h0m6 0h0m1 1h0m1-2h0m5-1h0m3-1h0m2 2h0m1 3h0m3-3h0m1 3h0m2-3h0m5 0h0m5-2h0m-88 10h0m5-4h0m2 3h0m3-3h0m1 4h0m3 0h0m4-3h0m2 4h0m1-5h0m3 2h0m2-2h0m2 4h0m4-4h0m0 3h0m3-2h0m2 4h0m1-5h0m4 2h0m0-1h0m2 3h0m4-3h0m1 3h0m2-3h0m6-1h0m5 3h0m3-3h0m1 3h0m1-2h0m5 4h0m3-3h0m2 3h0m4-5h0m0 2h0m3-1h0m2-2h0m-82 8h0m2 0h0m2 3h0m3 0h0m1-4h0m4 1h0m4 3h0m1-3h0m4 3h0m1-4h0m2 4h0m2-2h0m4 0h0m3 0h0m5-1h0m6 2h0m5-2h0m0-2h0m2 5h0m2-1h0m2-4h0m1 3h0m2 2h0m3-3h0m3 1h0m4-1h0m-61 6h0m0 0h0m3 1h0m1 3h0m2 0h0m3-1h0m0 0h0m5-1h0m6 0h0m1-3h0m3 3h0m1-3h0m3 4h0m3-4h0m2 4h0m1-4h0m2 3h0m2-2h0m3 3h0m3-1h0m4-3h0m0 3h0m2 2h0m0-2h0m12 0h0m-54 4h0m6 1h0m2 2h0m2-2h0m2 2h0m1-4h0m3 4h0m2-2h0m5-2h0m2 2h0m0 3h0m4-4h0m-22 4h0m3 4h0m1-1h0m3 0h0m4-1h0m0-2h0m1 5h0m3 0h0m4-4h0m1 1h0m0 2h0m4-1h0m-13 9h0" stroke="#C77CFF"/>
<path d="M630 637h0m11 6h0m-33 21h0m-5 8h0m18 21h0m91 5h0m22 0h0m2-4h0m5 3h0m1 0h0m-187 7h0m40 0h0m130-2h0m4 3h0m2 0h0m4-4h0m4 1h0m3-1h0m6 2h0m8 0h0m0 2h0m-53 1h0m20 2h0m2 2h0m6 0h0m4-1h0m1-4h0m2 5h0m1-3h0m2 2h0m3-3h0m2 4h0m1-2h0m3 2h0m4 0h0m-31 4h0m2 2h0m3-3h0m2 2h0m1-2h0m2 3h0m2-2h0m5 0h0m5-1h0m3 0h0m6 1h0m1 3h0m2-6h0m0 0h0m0 6h0m1-2h0m3 0h0m12-2h0m-82 7h0m3 1h0m3-2h0m1 1h0m4 1h0m9-2h0m5 1h0m2-3h0m0 5h0m6 0h0m3 0h0m4-2h0m5-1h0m2-1h0m0 5h0m1-3h0m2-3h0m5 2h0m1-1h0m2 1h0m2-1h0m0 3h0m5 0h0m6 0h0m1 2h0m1-1h0m6-2h0m3 2h0m-78 4h0m2 0h0m4 2h0m0-5h0m4 5h0m1-3h0m2-2h0m1 5h0m1-4h0m5 5h0m4 0h0m3-4h0m1 2h0m2-3h0m4 4h0m1 0h0m1-4h0m2 1h0m3 2h0m6 0h0m0-3h0m5 0h0m1 4h0m1-5h0m4 5h0m3-1h0m0-2h0m1 1h0m12 2h0m-79 1h0m0 2h0m7 0h0m4 1h0m4 0h0m4-2h0m8 4h0m0-1h0m3 1h0m0-4h0m5 1h0m5 0h0m5 0h0m4 1h0m3 1h0m2-4h0m3 3h0m2 2h0m2-1h0m1 1h0m2-2h0m6-2h0m1-1h0m0 2h0m1 0h0m2 1h0m-64 8h0m1-2h0m1-1h0m5 0h0m10-1h0m1 0h0m9 5h0m3-3h0m0-2h0m5 3h0m1-4h0m2 3h0m4-2h0m1 3h0m1-3h0m1 3h0m4-2h0m4 2h0m5-3h0m-24 9h0m1-2h0m6 0h0m3 3h0m0-3h0m4 3h0m1-3h0m1 2h0m3-3h0m0 3h0m-65 3h0m18 4h0m23 1h0m3-3h0m5-3h0m0 3h0m4-1h0m4 2h0m2 1h0m0-3h0m7 2h0m2 0h0m0 1h0m-60 4h0m11-1h0m11 4h0m2-1h0m1-3h0m4 3h0m2-5h0m3 1h0m1 4h0m3-4h0m3 3h0m0-4h0m2 5h0m3-3h0m2 2h0m6-2h0m1-1h0m1 4h0m6-4h0m-58 6h0m3 5h0m7-1h0m9-4h0m3 3h0m2-1h0m4-3h0m1 4h0m4 1h0m2-4h0m4 0h0m0 5h0m2-4h0m2 4h0m4-5h0m5 2h0m4-2h0m6 2h0m-54 4h0m4 4h0m0-2h0m5 1h0m1-4h0m2 2h0m0 3h0m7-1h0m2 0h0m2 2h0m1-4h0m3-2h0m2 6h0m2-4h0m5 1h0m2 2h0m0-3h0m3 0h0m0-1h0m3 0h0m5 0h0m-50 7h0m3-2h0m4 2h0m0 3h0m4-2h0m3 0h0m2-2h0m1 2h0m2-3h0m3 4h0m6 0h0m2-1h0m1 3h0m3-5h0m5 3h0m3 0h0m0-2h0m5 4h0m-40 5h0m4 0h0m5-3h0m5-1h0m4 5h0m1-5h0m1 1h0m0 0h0m6 1h0m0 0h0m13-2h0m-28 6h0m2 3h0" stroke="#F564E3"/>
<path d="M559 128h0m3 57h0m-287 5h0m497 60h0m-22 8h0m6-3h0m-125 10h0m114 1h0m2-3h0m0 2h0m3-4h0m1 3h0m5 0h0m1 3h0m3-1h0m1 0h0m-41 2h0m5 2h0m11-3h0m2 0h0m2 5h0m1-2h0m6-1h0m3-1h0m4 5h0m-127 6h0m117-4h0m5-2h0m1 4h0m-12 3h0m-555 5h0m355 170h0m15 52h0m105 5h0m6-3h0m-82 15h0m-7 2h0m14 27h0m-4 8h0m2-4h0m2-2h0m-7 6h0m10 5h0m1 0h0m-3 3h0m4 1h0m1 1h0m-3 7h0m1-4h0m0-1h0m-6 7h0m1 1h0m1-1h0m4 2h0m-9 7h0m1 2h0m4-3h0m2-1h0m0 1h0m3-1h0m1 4h0m-11 2h0m1 3h0m0-4h0m2 0h0m1 4h0m3 1h0m0-4h0m4-1h0m-25 9h0m6 2h0m2-5h0m1 4h0m1-3h0m6 2h0m4-2h0m4 1h0m3 0h0m-33 5h0m2 3h0m9-2h0m2 1h0m5 1h0m3-3h0m0 2h0m3-2h0m1 1h0m4-3h0m1 4h0m5-1h0m-40 8h0m6 0h0m1-3h0m7 0h0m1 4h0m1-3h0m5 0h0m1 1h0m3-2h0m2 2h0m2-1h0m1 2h0m5 0h0m1-1h0m6 1h0m-57 7h0m13 0h0m2-4h0m1-1h0m2 0h0m3 5h0m4-5h0m0-1h0m1 4h0m2 2h0m4-1h0m0-4h0m1 3h0m3-1h0m1 2h0m3-4h0m1 4h0m6-1h0m3 0h0m7-3h0m-58 10h0m3 0h0m4 0h0m3-5h0m1 3h0m5 1h0m2-2h0m2 0h0m5 0h0m2-1h0m2 2h0m3 0h0m6 0h0m18-1h0m16 1h0m-83 6h0m1 0h0m2-1h0m1 2h0m4 1h0m1-1h0m1 1h0m0-4h0m3 3h0m4-3h0m2 5h0m3-5h0m1 4h0m1-3h0m4 0h0m1 2h0m5-2h0m3 0h0m4 3h0m20 1h0m1-2h0m4-1h0m5-2h0m9 4h0m3-4h0m5 1h0m0-2h0m-69 7h0m3 3h0m4-4h0m3 2h0m2-1h0m1 2h0m0-1h0m8 1h0m1 2h0m2-5h0m15 4h0m23 0h0m3-1h0m4 2h0m3-5h0m-65 12h0m4-5h0m5 3h0m3-1h0m7 3h0m9-5h0m7-1h0m9 2h0m10 3h0m-50 6h0m5-3h0m2-2h0m50 2h0m3 1h0m1-2h0m7 0h0m1 1h0m1 3h0m6-2h0m-70 5h0m1 2h0m70-3h0m1 0h0m2 3h0m0-4h0m1 4h0m-76 4h0m3 3h0m2-2h0m-2 4h0m1 2h0m2 0h0m-7 4h0m1 5h0m1-2h0m3 2h0m0-1h0m4-5h0m-24 9h0m10 0h0m8 7h0m1 2h0m2-5h0m7 2h0m-9 8h0m2-5h0m5 5h0m1 0h0m-8 7h0m2-3h0m-3 5h0m0-1h0m3 4h0m4-1h0m-2 7h0m3-1h0m0-1h0m3 2h0m-5 2h0" stroke="#FF64B0"/></g><g fill="none" stroke="#fff" stroke-linecap="round" stroke-linejoin="round"><path d="M345.8 74.6l1-0.1m-23.2 11.4l-1.8 0.2m37-1.3l-1.9 1.4m-14.4 4.6l-1.8 1.1m3.2 2.6l-2 0.5m277.7 1.2l-0.8 0.8l0.4-1.7m180.5 2.4l1-2.7l-1.4-1.5m-471 9.9l-1.3 2.1l2.5-1m369.4-4.2l1.7 1.5l-2 1.3m51.3-3.7l-0.9-1.1l1.3 1.5m21.6 0.6l1.6 0.8m30.2-0.1l0.7-1.3l0.9 1.6m-475.9 4.5l-1.1 1.6m62.4-0.5l-0.8-2.4m356.4 1.6l2.1-1.5l-0.3-1.1m27.1 6.5l1.2-1.9l0.8 0.6m-426.9 7.7l-0.9 2.6m22.5-5.8l-2.1-2.2m422.7 3.8l-0.2-1.4l1.7 2m-467.6 2.2l-1.4-0.5m10.1 0.6l0.1 1.6m54.8 1.8l1.4 0.9l-0.1-2.3m18.1 3l-1.6-1.5l1.6-2.1m307.6-1.5l-0.2 2.9l-0 0.9m6.3-3.8l0.2-1.2m11.5 2.7l-0.4 2.5m-354 7.3l-1.4-1.2l-1.3-2.3m19.5 1.7l-1.9-0.7m2.3-3.4l-0.5 0.7l-2 0.9m15.8 3.7l-1.3 1m285.1-4.1l-2.1-1.4l1.5-1.1m-359.3 10.1l0.5-2.9l-0.1 0.9m60.3-0.8l0.1-1m16.2 1.2l0.4 2.2m400.4 5.6l-2.6-0m-388.2 5.8l0.4 1m222.1 1.6l-2.5-0l0.1-1.1m108-1.1l-1-1l2 1.3m50 0.3l1.3 1.5m-444.7 1l-0.8 2.5m24.9-2.5l-0.1 2m33.3 3.4l-0.6 2.9l1.5 2.2m-34.7-4.7l-0.7-0.9m22.9 5.5l-1.8-0.9m19.7-0.1l-1.1 0.5m264.8 0.4l1.8-1.6m-330.9 5l-1.9 1.1l2.1 0.7m441-0.7l1.4-1.7m-412.4 6l2.5-0.9l-0.4 0.9m317.6 5.6l-0.3-0.8l1.4 2.2m13.9-0.5l0.5-1.1l-2.7 0.1m43.8-0.8l-2.2 0.1l-0.8-1m-22.8 8.5l1.6 1.7m-31.2 7l1.8 1l-1.4 0.8m50 6l-1.7 2.4l2.3 1.2m57.1-2.9l0.8 0.7l2.8-1m-243.6 7.1l1.7 1.5l-1.5-1.8m19.6 4.3l-2.8 0.3l-0.4 0.9m162.6-3.8l-1.1 0.8m-509.1 6.8l0.9 1.6l-2 0.1m3.4-6.4l1.8-1.8m-41.2 10.8l-1.4-0.8m38.4 11.9l0.9-0.6l-1.9 2.1m475.9 1.1l-0.7 1.4l-1.6 1.2m-57.1 3.2l-0.7 2.3m78.9-1.9l2-0.2m-444.8 3.6l-1.1 2.8m36.2-0.1l-1.5-2m359.1 2.4l0.8 0.8l-0.6 1.4m6.5-3.5l-1.7 0.3l0.2 2.5m-394.8-0.9l-1.8-0.5m6.9 2.8l0.3-2.7l-0.8-1.4m12 3.6l-0.9 0.6m11.1 2.4l0.8 0.5l-0.1-2.2m5.5 1.1l-1.1 0.2l-1.3 1m432.9-2.7l1.5 2.4l0.7-1.2m-523.6 2.7l-2.9-0.1m12.2 2.8l-2.1 0.5l-0.7 2.4m8.6-2.9l-0.9-2.4l2.3 0.1m6.8 0.2l-1.6-0.6m6.3 4.9l-0.5-1.1l1.9-1.5m-0.3 1.6l-2-1.4m28.5-2.8l1.2-1.3l-0.6 1.3m12.3 5.5l2.4 1.1m361.1-4.2l-0.4 1m57-3.1l0.3 1.9m-504.4 4.9l2.2 1.6l-0.4 1.1m31.9-1.7l2.8 0.6m28.6-2.4l0.3-0.9l-1.3-1.2m35.3 6.8l-1.4-1.8l-0.9 0.3m-98.8 7.7l-0.7 1.7m44.7-3.6l-0.1 0.9m20.1 0.3l2.7 0.5m8.2-0.7l0.6-1.2m512.8-1.1l0.2-3l0.9-0.4m-623.9 11.7l0 2.1l0.6-1.5m2.7-4.1l1.6-2.1l-1.2 2.7m6.5 1.3l2.5 1.4l-0.4-2m5.6 2.2l2.9-0.4l-1.9 1m1.3-0.9l1.2-0.4m13.5-3.5l0.8-2m22.8 2.9l-0.7-2m29.9 1.1l1.1 0.3l-0.3-2.3m3.5 5.5l-2 0.2m25.8 1.6l-1.5-0.1l-2.8 1m38.1-1.5l-2.1-0.7m481.3-2.1l1.9 1.9l-0.6 2.8m-573 2.2l1.2 0.5m30.6 0.2l-1.2-1.7l0.8-2.1m17.4 0.5l-1.6-0.2l-0.2-2.1m6.1 7l-0.1 0.8l-2-1.3m2.4 0l-1.8-1.8m20.3-1.3l-2.7 0.4m8.6 0.6l-2 0.5m13.1 1.9l1.6 1.8m2.8-1.2l-1.6 1.7l-0.8 1.6m470.1-4.7l1.9 1.4m2.6-4.9l1.7-0.3l1.7 2.2m9 2l-1.3-1.5m-599.1 3.3l2-1.4l-0.2-2.5m24.7 6.6l-1.3 1.9l2.8-0.3m5.2-2.5l-1.6-0.2m9.3-1.3l-1.5 1m26.8 3l-0.7-0.4m47.4-1.5l-2.4-1l0.3 0.9m471.4-2.5l1.2 0.6m9 1.3l0 2l-0.7 1.4m-605.1 1.1l-1.6 0.5m93.4 3.4l2.3 0.7m-0.1-0.9l0.8 0.3m2.8-2.8l1.6 1.1m1.5 0.9l-1.4-0.4m5.2-1.4l-2.1-1.8m19.9 3.2l-0.7-2.3m7.1 4.2l-2.4 1.4l1.1 2m3.7-8.6l1.2 2l1.5-0.8m-1.7 1.9l-0.9-0.2m483.8 0.9l-1.4-1.3m3.8 0.5l-1.6 1.2l1 0.5m-544.6 6l-1.7-1.5m3.8 1.9l-0.5 2.4m2.4-3.8l1 0.4m0.8 1l0.1 0.9l1.2-0.7m20.2-4.5l2-0.8m13.9 5.7l0.7 2.2l-1.4 0.2m5.4-7.4l0.2-0.9l-2.2 1.2m484.3 3.9l0.9 0.6m-0.6-2.8l1.2 0.2m10.9 0.9l2-0.5l0.7-0.5m8.4-0.6l1.5 1.6l1.8 1.3m-2-0.7l-2.4 1m-556.3 1.1l-1.8 0.3m16.1 3.2l-1.4 1.9m4.8-5.2l1.4 0.6l0.4 1.9m7.7 2.4l-0.3-1.6m2.2-1.9l0.9 0.8m13.7-1.2l0.9 0.6l0.5-0.6m12.1-0.5l-2.7-0.5l1.9 0m7-0.8l-1.1-1.8m-39.2 11.5l0.8-0.4m16.9 0.2l1.3-2.4m23.3 1l-2.2-1.9m4.5 1.3l0.3 1.5m242.9-2.7l0.1 3m210.5 2.2l0.8 0.4m6.8-4.3l-1.6-2.4l0.1 1.7m25.8 0l-0.1-1.7m-530.4 8.7l-1.4-0.6l-0.6-0.8m15.7 5.2l-2.7 1.2m5.3-4.6l-1.7-1.5m7.1 0.9l0.5-1.1m475.7-0.6l1.5 0.6l-1.5 1.1m7.8 3l0.4-1.1l0.3 1m1.4-2.4l-1.4-0.5m10.4 3.5l-1 0.4m4.1-2.5l2.4 0.8l-1 0.3m-48.6 5.6l2.7 1.1l1 0.1m27 0.4l1.1 1l0.6 0.8m-498.3 1.6l1.9 2.2m453.4-1.4l-2.2 0.1m58.8-3.5l-0.5 2.3m11.7-1.6l-1.2 2.6m-60.5 7.7l1.2-2.5m-0.6-2.5l-1.7-2.2l1.6-1.4m16 5.4l-2.5-1.2m8.8-0.4l0.6-1.1l0.6 0.7m-25.9 7.3l1.8-0.8l0.3 1.2m10 0.4l0.4-1.4l-0.6 1.2m17.5 0.9l0.9-1.8l-2.2-1.5m41.6 6l0.1 1.5m-88.8 1.2l-1.6-2.1l0.7-1.2m11.8 1l-1.3 0.3m13.8 2l0.3 1.8l-0.3 1.5m21.3-0.9l2.5-1.5l1.2 1.8m48.7-1.2l-2.2 0.8m-99.6 2.3l-1.4-0.7l2 2.1m26.3-1.3l0.5 1m2 2.4l-0.1-1.3m32.3-1.9l-0.2 2.6m32.5 1.9l0.3 1.8m7.9-7.2l-0.9 2.1m5.1-0.2l-1.6-0m-84.4 7.3l-1.1 0l0.8 1.9m6.5-4.3l-2.5-1.4l-1.8-0.6m32.8 2.3l-1.5 0.4l-0.1 1.5m24.7-1.6l0.9 2.2m23.4-1l0 2.6l1.6-0.3m-118.9 6.7l0.7-0.9l2.2-1.1m9.1-2.2l1.4 0.4l-0.1 2.7m45.6-0.7l-1.6 2l-0.7-0.4m30.1-0.3l-0.8 1.6l1.3 2.2m2.1-4.3l-1 1.9l1.8-1m2.4-5.6l1.3 0.3m22.6-0.3l-1.2 0.6l1-1.7m7.8 5.9l-1.4-2.3l-0.9 0.4m-124.2 5.4l2-2l1.1-0.9m31 5.5l0.8-1l-1.1-1.3m3.9 0.1l-1.1 1.2l-1.4-1.3m14.3-1.7l1.5 1l-0.8-1.4m6.9 4.4l-1.4 2.1m14.2-6.1l-1.9-2.2l-0.2 2.3m-106.3 10l-0.4 1.8m7.4-2.1l1.3-2l0.2 0.9m38.7 0.6l1.9 0.5m14.6-3.9l-1.4 0.2m1.8 0.4l-0.9-1m2.7 2.8l1.9-1.7m26.3 3.1l1.3-1.1l2.7 0.4m20.5-2.3l2 1.3l-1.6-1.2m24.7 1.4l0.6-0.9m0.4 3.3l-0.2 1.5l1.3 2.6m-145.7-1.8l0.6 1.7m30.4 1.3l0.1 2.1l-2.6 1.2m29.3-4.9l0.3 1.1l1.4 1.3m22.7-1.4l1.2 1.7l-1 0.7m16.6-1.4l-1.9-1.2l1.3-1.4m16.3 0.5l-1.2-0.1l1.3-0.1m15.5 2.4l-0.4-0.8l-0.2-1.1m26.7-3.4l-1.1 1.4l-2.4 0.2m-151.2 7.7l0.3 1.5m0.1-4.7l-1.6-0m10.9 0.5l1 0.9l-1.1-1.5m33.8 3.7l1.1-0.4m43.3-1.6l1.5 0.9l-1.2-0.2m1.5-1.9l-0.9 2.5m18.7-1.2l-0-1.9l-0.8-1.3m12.2 5.2l0.6 1m-116.4 6.7l0.9-0.3m37.7-4.6l-0.5-1.2l1.6 1.2m3.8 4.2l1.4 1m32.8-4.6l-1.1-0.6m15.8 5.1l-1.2 0.4l-0.7-0.4m15.7-1.9l0.2 2.9m22.3-1.5l-2-1.8l0.3 0.9m9.7-2.9l-1.8-0.3m16.9 2.1l-2.5-0.3l1.4 1.3m-179 2.3l-2.6-1.3m22.7 5.6l1.8 1.2m42.2-2.5l-0.4 1.6m5.5-3.8l-1 1.8l2 2m23.6-1.2l-1.4 2.3l-0.9 2.3m34.4-4.4l0.8-2.5m10 3.8l-1.2-0.9l-1.5-1.5m43.5 0.8l1.4 2.6m9.9-5.8l-0.9-1.6l1-1.8m-228.3 12.6l0.4-1.2l-0.4-1.5m36.2 0l-0.4 1.2l-2.6 0.8m7.2 1l-0.9 0.1l-1.4 0.5m9.7-4.3l-0.2 3l-0.7 0.6m23.6-1.9l0.8-0.5l0.2 2m5.7-1.9l0.7 1.2l-2 1.2m15.9-3.9l0.8-1.1l1.4-0.7m8.7 3.5l1.5-2.3l2.4 0.9m0.4 4.8l0.3-1m5.2 0.3l-0.2 0.9l-1-0.6m1.3-4.6l1.4-2.6m2.2 6.6l-0.4 0.9l0.7-1.1m-0.2-1.5l-0.5 0.7m28.6-2.4l1.1-0.3m8.7 2.3l0.4 2.4l-0.5 1.2m20.4-1.3l-0.4 1.7m2.4-5.1l1 1.8l0.4 2.1m24.6-1.9l-1.6 1.7m15.4-1.8l-0.8-1.1m14.9-2l0.3-2.3m-214.3 12l0.5-1.6l-0.5 2.6m75.4-4.9l-2-2.2m14 1.6l-0.2 0.9m9.2 2.8l1.2-0.5m0.9-0.5l1.7 1.3m27.5-1.6l-1.1-0.2m6.8-2.2l-1-1.7l1.7-1.1m13 5.5l0.7-1.1m7.2 4.2l-2-0.2l1.2 0.8m20.7-3.6l-0.4-2.4l-2-0.5m48 4.2l1.2-1.9m0.5-2.2l-1.1-2.4m-237.6 12.8l-1.3-1.3l1.5-0.6m12.9 0.5l-2.3-1.3m5 1l-1.2-0.9l-1.3 1.7m10.5-3.1l0.8-2.3l1.2 1.1m8.2 2.9l1.9 1.6m3.5-0.6l1.8 2.2m3.4-3.7l-0.2 2.3m4.1 0.9l2.1 1.1m15.6-0.3l-2.3-1.4l-0.7 1.1m7.6-2.5l2.3 1.9l0.4 1.2m16.8-4.4l1.1 0.8m4.1-0.6l0.5 1.9l-1 0.5m0.8-3.1l-2.1-1.9l-2.1 0.1m21.8 2.9l-1-2.3m8.3 4.2l-2.1-1.5m26.4 2.6l-0.9 1.2l0.4-0.8m28.4-4.2l1.9 1.3m5 2.1l1.2 0.5l-1.5-0.2m32.4-4.8l1-0l-0.4 1.1m11.6 3.8l-2.3-1.6l-2.4 1.2m7.6-4.7l-1.8 1.7l-1.4-1.5m-526 9.8l-0.5-1.9m14 1.7l0.1-1.6m269.2-0.5l-0.2-2.6l1.1 1.6m50.3 3.3l-2.2-0.4l-1.3-2.2m10.4 4l2.9-0.6m41.8-1.8l2.4 1.4m56.9-2.1l0.5-1l1.9 2.1m8.5 1.8l-0.6 1.8l2.4-1.7m23.8-2.7l0.7 2.3l1.1 0.3m19.8-1.1l1.2-0.4m0.4-3l1.4 2.2l-2.1 0.1m7.6 2.1l2.6-0.3l0.1-1.1m-514 3.9l-1.1-0.5m5.9-0.4l-0.4-2.6l-1.9 1.8m264.6 4.2l-1.5 0.3m72.4-3.5l-2.1-0.6m2.9 3.8l2.9-0m35.9-1.6l-0.5 1.2l1.1-1.9m6.5 1.1l1 1.5m25.9-4.3l-0.7-2.3l1.6-1.1m5 3.6l0.2-3m27.1 3l0.9-1l-1.7-2.2m32 8.1l1.2-0.9l-1.1-1.2m-470 4.3l1.6 1.7m271-1.4l0.6-1.2l-1-1.1m25.7 6.4l-0.9 0.4l-1.1 2.4m29.2-3.8l-0 3m80.4-7.3l-0 1.6l0.8-0.6m10.3 0.9l1.6-1.3m1.9 2.7l0 1.3l-2.9 0.4m15.5-4.6l0.7-1.2m2.5 2.5l-0.2 1.1l-2.7-1.2m20.5 0.5l2.4 0.3l-0.1-2.5m17.5 2.9l0.8-2.5l-2-0.6m-477.8 6.6l-2.9 0.4l-0.6 1.9m303.3 1.1l1.9 0.7l0.5 1.9m4.4-2.8l-0.2-2.5l-0.6 2.5m26.1-3.9l-0.3-3m17.2 6.5l-1.1-2.6l-0.8-1.1m23.9 2.7l0.1 0.9l-0.9 1m20.6-3.4l-1.6-1.6l-1.2-1.1m8.5 4.5l0.4 0.7l0.5-0.8m0 0.4l-2.7 0.4m30 0.7l0.2 1.1l-1.8 2.4m2.3-7.2l-1.5-1.4m15.1 3.7l-0.8 1.6m9.3-3.2l-0.1-1.3m-466.4 6.3l0.7 1.1l-0.6 1.6m4 2.4l0 1.1m13.8-4.3l-0.8-0.4m240.3 3.8l-1.8-0.8l-0.1-1m28.1-2.1l-1.6-0.7m33.4 3.1l0.5 1.2m10.3-4.4l-0.9 0.1m9.6 4l-1.6-0.9l0.2 1.6m18.3-3.2l-0.7 2.6l-0.9 0.7m52.2-5.6l-0.8-1l-0.2-2.3m6.9 4.7l-0.5 1.2l1-0.8m15 0.5l-0.6 2.9l-0.9-1.2m39.4-3.1l2 0.7l0.7-1m0 0.2l-1-0m-471.5 10.6l-0.3 2l0.8 2.8m1.6-4.9l-0.8-1.8l0.4-1.4m3.4-0.4l-0.4 0.7m25.9-1l-2.4 0.1l2.6-1.4m244.2-0.3l-0.2 1.6m43.7-1.3l-1.6-0m22.3 5.6l1.5-0.6m31.6-3.8l-1 0.7m20.1-0.5l0.3-1.9m49.3 0.4l1.3-0.3l-1.6 2.5m13 1.9l2.4-0.8l-0.7 1.1m9.9-2.7l0.6 0.6l-0.2-2.5m6.5 3.1l0.2 2l-0.6-1.4m9.1-1.6l1.6-0.9l-1.4-0m3.2 0.2l-0.8 2.2m6.5 1.4l-1.1-1l1.4 2.5m-240.6 2.5l-1.2 0.6m2.9-0.3l2.6-0.9l-1.3 2.1m80.2-3.5l-0.6-0.7m39.9 2.7l-1.1 1.7m24.7-3.3l1.1-0.2m19 3l-2.4-1.3m5 0.9l-1.9 2.3l-2.1 0.6m40.2-1.6l-0.9 1.1l2 0.7m16.5-7l2.7-0.5m-485.4 6.6l1.5 0.8l-1.6 1.2m5.5 3.5l2.6-0.6l0.9 1.1m0.7-0.1l-0.9 0.1l-2.3-0.2m5.7-4.8l-0.5 0.8l0 1.1m10.1 1.7l-1 2.2l0.9-1.6m9.5-1.2l0.8-0.7l-0.4-2m1.3-1.2l1.2-0.1l-1.6 0.1m0.7-0.1l1.7 1.5l1.1-1m228.4 0l0.8 2.7l0.7-2.5m27.6-0.8l2-0.4m7.7 3.2l0.7 0.4l-2.2 1m9.2-1.7l-0.7 2.3l0.5 2m24.2-1.6l1.3 1.4m7-4.2l-1.8-0.6m6.7-1.7l2.5 0.6l-0.9 1.3m1.5 0.3l-0.4-2.4l-3 0.3m58.4 3.8l1.7-0.4m6.6 2.1l0.7-0.5m3.3 0.3l-0.7-1.4l-2.3-1m13.3-1.6l0.2-2.7l0.8-0.5m44.4 6.4l1.5-0.8m-485.5 7l2.1 1m0.8-0.3l-1.8 0.8l-0.2-1.9m7.4-3.7l-1.3-2.2m8.4 5.5l2 0.6l-1.8 1.9m248.2-3.2l2.6 0.8l1.9-1.1m12.5 0.3l-0.2 2.8l2.2-0.6m31.8-1.4l-0.3-1.2m33.6-1.4l-0.5 2.5m4.7-1.4l-1.8 1.5m28.9-2.9l-2.4 0.1l-2.6-1.3m29.9 3.8l-1.2-1.2l1.7-2.2m-0.4-0.3l0.5 1.4l-1.2-2.7m0.8 2.5l-0.9-2.3l1.7-1.3m15.1 5.5l0.9-1.7l-1.1 0.6m41-1.5l1.1 0m5.1 0.2l-0.3 0.8l-0.5-2.3m-469.7 8.8l0.6-0.6m5.9 3.8l1.7-0.6l0.1-1.5m-1.3-0.2l-0.8 1.1m32.7 0.8l2 0.9m6.2-1.5l2.9-0.4m211.2-3.5l1.3 0m1.8 3.6l-0.3-1.4l0.7-1m2.9 1l2.1-1.7m1.7-0.9l0.3-1.1l0.9 1.5m13.4 3.6l-1.6-0.7l-1.7-0.1m16.4 2.6l-1.1-0.2m30.1-5.6l-2.1 0.5m23.8 3.9l-0.3 0.9l-0.7 2m11.9-6.8l0.6-1m8.2 2.5l-0.4-1.5m14 3.5l1.5 0.2l-0.8 0.5m-382.2 1.2l-2.2-0.2m4.1 4.9l1.1-2.3l-1.1 1.3m16.5-3.5l2.7 1.2l2-1.8m260.6 1.6l1.9-1.5l-1.8-0.9m8.7 6.3l1.9 0.1m17.8-1.4l2.4 1l1 2.2m16.9-6.7l0.6 0.9m36.9 4.2l-1.2-2l2.6 0.3m8.9 2.3l0.9 1.8m18.3-7.7l-0.3-2.9m24.5 5.1l-0.8-1.9l-2.2-1.5m18.1 3.4l0.5-2.7m241.4 6.1l1.3-0.1l1.3 0m-658.7 3.9l0.2 0.8m241-1.7l2 1.2l2.2 0.4m0-1.3l-1 1l-1.1 2.1m17.7-1.2l-2.9-0.8l-1.1-1.1m42.7 2.2l-1.1 1.4m20.1-5.6l-1.8-0.6l-1.8 0m4.3 3.7l-1.1-0.5l0.2-0.8m1 2.9l1.6 0.6m6.3-4.5l-0.8-2.1l2.3-0.3m25 6.2l-1.6 1.3l-2.1 2m28.2-6.6l1.5 0.8l-0.9-1.4m27.8-0.8l0.1-2.2m-426 9.9l-1.4 2.5m8.5-0.4l-1.7 0.9m37.7-1.2l1.7 1.2m3.3-1.2l1.3-0.4m2 0l1.3-0.4l-1.3 2.5m0.7-5.4l-1.9 0.1m211.1-0.5l2 0.5m61.5 3.5l0 2.3l-0.2-1.7m5.9-4.6l-2.7 0.1m14.2 2.8l-0.4 0.8l-1.7-1.1m44.6-1.8l-0.1-2.2l0.4-2.1m11.6 9l0.9 1.1l-1.9 1.6m17.5-6.2l0.8 1.2l0.8-2.3m-418.4 10l0.9 2.6m22.7-6.7l-2.2-0.2l-1.5-0.8m8.3 0.5l0.2-0.8l-2.7 0.3m27.1 1l-0.9 1.7m277.7-1.1l0.9 0.6m29.4 3.5l-1.2-0.2m25.6-2.1l-2.1-0.3l-0.4-1.1m297 1.5l1.3-2.3l1.7 1.1m-684.5 8.9l-0.9 1.2l0.5-1.3m10.8-2.4l-1.8-0.2l-1 1m6.5 0.4l0.9 1.3m15.9-4.2l-0.8 1.8m354-0.9l-0.2 1.2l0.7 0.5m4 1.1l-0.8-2l0.3-1.4m296.7 4.4l-0.1 2.1m-684.4 3.4l1.7-1.8m30.9 0.3l1.8 1.5m-26.8 1.2l-0.6-1l2.5 1.5m40.9-0.6l-1.3 1.9m5.4-0.5l0.9-1.6m-17 8l0.4 0.8l2 0.5m-23.7 6.4l0.1-2.8m11.9 6.3l-2.4 1.3m26.2 0.8l1.4 0.4m-53.1 5.4l0.1 0.9l-0.8-0.6m12.5-3.1l-0.9 0.4l-1.2 2.4m6.4-2.1l-2.3-1.6l-1.2-0.9m4.5 4.1l1.5-2.3l-0.9-0.3m1.5 0.6l-0.4 1.3m20.3-1.5l1.2 1.1l-2.3 1.2m5-1.5l-0.6-2.4l-0.2 2.5m-9.1 7.4l0.1-2.3m4.6 0.1l-0.9 1.6m7.8-1.6l-1.1 2.3m9.9-2l1.2-0.6m-61.9 11.4l0.5 2.9m18.5-3.8l1.3 0.1m6.4-0.5l-1.8-1.1l2.7-1.3m18.6-1.3l-0.9-0.2m17.6 2.7l1.3 1.7m-44.1 4.3l1.8-0.9l1.9 0.1m5.9-2l-1.8-0.8m8.1 1.6l-2.2 1.4l-0.3-1.7m4.4 2.1l-1.6-0.9m1.9 0.2l2.6 1.2l1.3-0.1m-2.2 1.8l2 1.1m6.5-5.8l0.7 0.6l2.3-1.1m2.7 6l1.1 1l-0.8 0.9m-44.8 1.5l-2.5-0.8l-1.1-0.4m20.4-1.2l-0.8-1.8m7.1 2.5l1.7 0.8m18.3 0l-0.9 2.3m19.2 0.4l2 0.8l-2.9-0.8m-66.5 3l-2 1.1l1.9-0.7m16.3-2.4l-2.8-0.4m11.7 2.6l0.5 1.7m33.5 13.3l-2.6-1.1l-1.5 0.3m18-2.5l-0.7 1.2l2-1.4m-72.8 9.8l-2.5-0.7m15.3-2.2l-1.1-0.9l2.2 1.1m45.6 2.2l-0.4-1.4l2.2-1.1m3.4-2.6l0.4 1.3m-57.5 5.5l0.3 1m0.5-0.9l2.4-0.3l0.8 0.8m8.5-1.1l1.2-0.6m16.3 1.7l0.1 1.3l-2.1-0.9m14.8 4l-0.8 0.4l0.8 0.8m6.5-4.5l-0.7-0.9m23.8-0.8l-1.7 0.1l-0.6-0.7m2.4 5.4l1.5-2m4.8-1.9l-0.1-0.8m-71.6 8.8l2.4 1.4m8.7-4.5l2.3 1.6l-1-2.1m36.5 3l-1 0.7m13.6-2.1l-1.7 0.5m-48.6 5.6l1.1 0.3m0.7-1.4l0.9 2m19.6-2.2l-1.5-0.1m13.5 1.4l-1.1-2.2m36.6 3.3l1.2-0m-79.1 4.2l1.9-1.3m-0.9 1l-1.2-2.3l-0.6 0.7m2.2 5.3l-0.8-0.7m29.9 0.2l0.5 1.1l-0.1 0.9m49.5-1.1l1.2-1.9m7.7-1.5l1 0.3l-2.5 0.5m-74.3 5.1l0.1 0.9m-4.8 4.2l1.6 1.4l-1.4-0.5m45.6 3.6l0.9-1.1l-0.9-1.2m-16.3 6.9l-2.1-1.5l-0.2 1m-7.3 6.6l-2.8 0.1m8.3 1.6l-1.2-0.7m11.6 0l1.1-0.2m226.4 90.4l-2 0.5m-31.8 3.3l0.1-1.1m1.4 3.3l-0.4-1.2m23.5 0.8l0.5-0.8l-1.4-2.1m-32.9 6l2.2 0.1l0.4-2.1m1.4 1l-2.2 2m37.9-0.9l2.3 0l-0.7-0.7m-0.5-0.1l1.4-1m3.9 3.2l0.6-1m-97.7 8.6l0.5 2.9l1.2 2.6m2.1-8l-0.3 1.4l0.4 2.4m0-6l-0.3 1.6l-1.7 1.7m22.9 0.9l-0.7 1.2l1.7-1.6m19-1.2l-1.2-0.1l-1.6-0.9m13.8 2.2l-1 0.9m35.7-1.4l-1.6-1.2m4.6 1.4l0.3-1.6m9.8 3.6l0.5-2.1l1.4-2.2m-97.2 8.3l-0.5 1.8l1.8-2m5.4 0.9l-0.8 2.1m17.9-4.6l-0.9 0.3l1.9-0.4m5.6 4.1l-2.3 1.1m8.1-6.1l-1.5 1.4l0-1.5m28.4 5.3l-1.1-1m3.9-1.5l-1 0.9m17.4-2.4l1-1.4m15.7 3.2l1.7-2.3l-2.6-0.9m-87.3 10.2l-0.9 1.1m12.2-3.4l0.6 1.4m12.3 0.4l0.9-0.3l-2.2-1.2m27.9 2.5l-0.7-1.8l-1.2-0m45.6-2l1.1-0.6m-130.5 7.7l-0.8 1.3l2.7-1.3m17-0.8l-2.2 0.4m8.8-1.8l1.7 2.2l-0.3-2.7m4.9 2.3l1.3 0.3l-1-1.6m43.6 2.1l-0.9 0.2m-66.3 6.4l1.3-2.1m0.5 1.9l0 1.9m31.9 0.1l-0.5-1.3m4.7-3.1l2 0.4l0.6-1.1m16 5.1l-2.4-1.3l-2-1.7m10.1 0.7l-1.8-0m10.1 2l-1.8-1.3m30.6-0.4l0.3 2.5l2.1-2.1m-0.8-3.6l0.8-1.1m-111.7 11.4l2.7 0.2m9.7-1.7l0.7 1.4l-1.3-1.7m10.5 2.5l-3 0.2m22.4-1.3l-2.6 1.1l-1.6 2.3m18.4-5.8l1.5-0.9l-1.3-1.2m25.5 3.8l0.8-1.8l0.8 2.8m11.2-2l-1.1-1.2m10.3 2.6l1.4-0.6m11.8-0.8l-2.2 1.4m-88.7 3.9l-0.7-0.6m45.7 3.3l0.3-1.6l-1.5-1.2m-56.2 8.5l0.1 2m26.5-2.5l0.9-0.4l-2.1 2m2.1-0.3l-0.6-0.7m61 1l0.7-2.7m18.3 2l0.9-0.4m7.7-3.9l1.1 2.7m-116.4 3.6l1.4 2.4m-0.4-2.6l1.1 0.2l2.8-0.4m14.7 5.2l0.6-2.1l-0.5-1.3m1.9 0.8l-0.8-2.5m21.8 3.7l-0.9 0.3m49.5-2l0.1-0.9l-1.5 0.5m-85.8 4.8l-1.9 1.3l-0.7-1.3m27.2 4.6l-1.7 1.5l0.1 2.2m2.4-5.3l-0.9 1.6m11.9-1.5l-0.9-2.7m34.9 2.8l-2.6-1.4m24-0.1l0.3-2.7m11 4.1l-0.3-1.1l0.7-1m2.9 1.4l-0.8 0.6l-2.5 0.6m-95.4 2.5l-0.1-0.9l-0.5 0.7m50.6 2.6l0.6 0.9l-0.4 2.1m2.6-0.6l1 0.7m-0.3-3.8l-1.3-2l0.5-0.6m5.1 3.8l1 2l-1.8 2.1m3.8-3.9l-0.7-1.2l-1.1 1.2m11.1 1.6l-2.4-0.5l-1.2 0.3m9.5-1.5l2.1-0.6m17.9 2.6l1.8 0.9m3.7-1.4l1-1.7l1-1.7m-100.1 7.8l0.4-0.9m34.7 2.9l-1.4 1.6m51.4-4.7l-0.8-0.5l1.3-1.4m7.1 5l1.9-1.9l2.6-0.5m-93.7 5.4l1.5-1.9l0.7-1.6m9.5 5.5l-1.7 2.3l1.7 1.1m2.3-2.5l-0.7-0.3m9.4-2.5l1.8 1.9l-0 2.8m9.1-4.2l-2.2 1.9l-1.1-2.3m7.4 2.2l1.4 0.7l-0.7-0.7m1.2-0.1l-2-1.8l2.5-0.4m28.6 3l-1.1 2.4l0.7-0.9m-44.7-0.9l-0.9-0.4m9.7 4.9l-1.3 1.8m7.4-5.3l-0.6-1.1l-2.3-0.9m37.1 2.1l1.8-0.3l-0.8-0.2m-24.3 6.6l-0.3 2.8m7.7-2.6l1.3-0.3m8.7-0.8l1-1.4m-41.3 12.7l-1.7-1l-1.4 1m3.3-1.1l2.1 1.7l0.8 0.5m24.9-3.7l2.2-0.6l0.4 1m-1.1 1.6l-1 0.8l2.9 0.6m-0.5-0.8l2-0.7m17.2-5l2 0.3l2.3-0.6m-63.6 6.7l-0.1-1.8l-2.8 0.7m21.3 3.8l-1.7 0.4m16.1-1.6l-1.1 1.2l-1.5 1.9m-1 1.6l0.6-0.9l1.6 1.4m-13.5 8.7l1-2.7m16.8-1l1.8 1.3l1.1-1m-7.4 5.9l-0.2 1.9" stroke-width="2.0"/><path d="M758.7 79.6l-0.8-2.7m-405.2 9.8l-0.7-1.4m363.3 4.6l0.1-2.2l0.8-0.6m-357.3 10.7l2.7-0l-1.1-0.7m316.1 5.1l1.4-2l2.4-1.7m-349.5 8.8l0.1 1.2l1.9-1.8m41.5 0l-1.3 2.1m187.9-2.5l-0.9 0.5m-237 4.9l-0.7 1.2m1.7 6.3l-1.4-1.9l-0.1 1.8m201.9 3l1.1-0.7l0.2 0.9m-195.6 3.1l-1.9 1.2m9.5-1.4l1.3-0.9l-0.4-2.7m6.3 7.7l0-1m426 1.2l-2-1.2m-131.7 15.2l0.6-0.7l-2.2-1.5m-252.2 11.3l-0.6-0.6l-0.4 2.6m5.3-4.2l-0.7-1.1l0.8 2.7m1.6-1.8l-0.6-1.9m7.1 5.4l0.3-1.6m-17.4 17.2l2.3 0.3m258.2 1.7l-1.5-0.9m13.1 6l-0.3-2.2m78.1 3.5l1.3 1.1m82.7 21.2l-1.8-2.2l-0.1-2.4m-112.2 22l-0.2 2.3l2 1.4m63.9-5.6l-0.6-2.3l0.6 0.8m-191.5 16.3l-0.7 0.7m-308.9 10.2l1.3-1.4l2.5-0.1m470 1l-0.8-0.4m-489.6 5.8l1.3-2m85.5 1l0.9-1.7l-0.4-1.5m482.3 11l-2.7-1.2m-630.8 8.5l-2.3 0.2l-1-0.6m58.6 0.9l0.7-0.4l1 1.2m44.4-1l-2.1 1.8l-2 0.5m27.3-2.8l-1.2-0.3l2.5-0.4m8.3-1.2l0.4 2.6m17.7-2.6l-0.6-2.6m-111.2 8.1l0 2.1l1.2-0.1m7.2-0.6l-0.6 1.1l0.4-1.1m33.9-0.8l1.8-1.5l1 1.6m-76.9 6.2l-1.1-1.2l-1.1 0.4m130.3 1l1.5 1.1m-0.5-1.9l-1.9-0.9l-2.2-1.3m498.5 4.8l2.1 0.5l2.1 0.5m-620.3 2.7l-2.6 0.9m4.6-1l-2.6-1.1l1-0.4m83.8 1l-1.8 1.2m11.2-2.5l-1.8 1.1l1.8-0.3m-66.8 3.9l-2.1-0.8l-1.6 2.2m55.7 2.4l0.8-0.4m-68.2 5.6l-1.7 1.4m61.7 0.4l1.6-2.6m29.9 0.3l-2.2 1.7l0.9 0.6m6-1.9l0.5 0.9l0.7 0.9m-0.1 0.1l-2.4-0.6m24 0.6l-0.9 2m-79.4 4l1.4 2.5m67.1-4.4l2.3-1.8m22.1 3.7l2.1-1.4l2.1 1.1m473.9-4l-2.2 0.9l1.3 0.3m-571.2 7.2l-0.4-0.7m26 3.1l-0.7 0.7l0.2-1.9m18.6 1l1-0.1m497.8-0.7l0.8-0.3l0.5-2.7m37 2.5l0.9-2.2m6.5 1.2l0.5 1l-1.2-0.5m-562 3.4l-1.6 1.4l2 0.5m525.2-0.7l2.5 0.6l-1.1 2.4m-473.7 7l1.7 0.1m4.1-0.7l2-1.9m252.4 2.5l-1.2 2.5l1.2 1.2m205.1-6.5l0.1 1.2l-2.8 1.1m25.7-0.8l0.4 1.8m-18.2 0.6l-1.8-1.7m22.5 5.5l-1 1.4l-0.3-1.1m15.4-0.8l1.1 2.1l-0.2-0.9m-68.3 4.3l-1 0.3l-2.1 0m15.4-2.3l0.3 1.5l0.8 0.7m66.1 2.5l-2.5-1.4m-60 7.1l-1.2-0.8l0.4 1.5m2.2 3.4l-0.4-1.1l-0.5 2.2m61.7-3.8l1 2.4l-0.9 0.7m-93.8 5.3l2.3 1.7m22.4-2.1l2 1.6m71.5 0.2l0.1 2.8l-2.4 0.8m-106-0.5l-0.1-1.6m67.2-0.7l1.4-2.2l1.5-2.4m-66.9 17.9l1 0.2l-0.8 0.3m26.3 1.2l0 1.5l-1.8-1m44.3 0.7l-0.8 1.8m34.7 5.6l-0.4 1l2 0.3m-113.1 2.9l-1.8-2l-0.1-1.5m48 4.7l0.2 1.3m38.4-3l-0.5-1.1m22.7-1l2.6-0.4l2.6 1.1m-158.6 4.6l-2 1.2m116.8 0.7l2.3 0.3m57.8 0.8l0.1-1.5m-144 7.8l-1.5 1.5l2.2 1.4m26.2-4.1l0.4-2.2m5.6 2.9l-1.6-2.4l-1.3 1.2m71.4 2.7l0.2 2m12.5-4.3l1.8-1.2m29.7 3.6l-1.9 2.2l-0.6-0.8m-150.1 0.5l-1.5 0.6l0.6-1.8m41.8 2.2l1.1 1.2l1.4-0.8m28.9 0.4l1.5-1.6l-0.9-1.2m16 5.5l-0.6-1.6l0.3 2.7m57.4-1.2l-1.9-0.4l1.1-0.3m-131.8 6.5l1.1-1.8l0.6 1.3m-94.1 6.5l-2.5-0.9l-0.4 1.2m75.6-1.6l-1.1-1.2m105.3-1.8l1-0.7l1.6-0m25.6 2.6l-0.1 1m-202.9 3.1l2.3 1m6.8 3.3l-0.9-1.7m11.2 1.8l-2.3 1.7l2-0.9m14.5-4.1l1.8 2.2m100.2-0.1l0.7-0.3l1.8 0.6m76.2-2.5l-1 0.7m-184.9 7.9l0.4 1.6m1.1-1.7l2.9 0.5l2.2-0m161 0.1l-1.8 0.9m-493.3 4.3l-1.6-0.8l-2.5-0.8m285.8-1.5l1-2.6m43.5 1.7l1.9 0.6m47.4 4.9l-1.2 1m1.3-6.2l1 0.6m41.4 1.8l-1.7 2.2m79.3 0.4l-1.9-1.4m10.2 1.7l-2.8-0.6m-215.4 2.9l-0.2 2.5m91.9-1.7l-2.2-0.9l2.8 0m35.5-1.6l-1.2-0.8l-0.4 2.6m13.8 1l0.8 0.7l-1.1-0.3m-446.4 8.2l1.4 1.6l1.3 0.5m10.4-6.9l-1.1-1.3l-1.2 2.1m3.3-0.3l1.9 0.1m6.1 3.6l-1.8-1.6m286.4-3.2l0.6-0.8m41.4 3.9l1.2-1.4l-2 0m73.8-0.3l2.1-0.8m30.1 2l-1 0.8l-0.3-1.1m-440.7 5.8l0.8-0.4m237.5 1.4l1.6 1.1m25.2-0.3l-0.6 1m50.7-1l0.9 2.1l-0.6-2.2m5.4-4l-1.9 1.5m92.1 1.9l0.6 2.7m2.6-0.7l-0.7-2.8l-1.7-0.5m22.6 3.6l1.1 0.7l-2.5 1.4m24.6-6.2l0.1 2.5m22.6-3.4l1.3-0.9l2.3-0.1m-492.6 11.3l-2.7-0.9m252.4-3.6l0.4 0.8m7.3 0.5l-2.1 0.4m64.5 1.1l-0.3 0.7m11-1l0.9-1.6l-1.2-2.2m3.6 1.1l-1.3-0.8m27.3 1.5l2.4 1.8l-1.1-1.2m1.9-1.2l-2.6 1.1l3 0.4m58 3.7l-0.4-2.9m53.2 2.3l-0.2 1.9m-468.8 1.3l-2 1.3l2.5 0.4m214.1-2.2l0.7-2.1m10.6 4.1l1.2 0.3m56.1 0.6l1.9 1.9m11-1.4l-1 1.2m35.6-1.3l-1.3 2l0.9 2.4m12.9-8.9l-1.4 1.5m-359.3 5.7l-0.7 2m6.7-3.2l-0.9 0.1m16.2 4.7l-2.6 1.4l0.7 1.4m226.3-8.1l2.7-1l-2.2 0.2m61.8 5.8l1.7-0.2m36.3-1.7l-1.3 1.5m4.4-3.9l0.9-2.5m-57.8 12.4l1.1 0.2l-0.8 2.4m38.1-5.8l-1-0.8l-0.4 1.3m13.6-1.8l1.7-0.6m34.5 6.1l1.1 2l2.2-0.6m4.6-4.8l1.3-0.5l0.3-1.2m-376.5 8.7l-1.3 1m4.7-4.1l2.5-1.2m301.2 5l0.1 1.9l-0.6-1.7m47.4-2.4l2.6 0.8m37 2.9l0.5-0.7m0.8-4l-1.8 0.3l1.1-0.9m5.2 4.3l2.3 0.3m6.9-0.9l-0.5-1.4l2.5 1.1m-396.9 6.7l-1 0.8m220.9-1.8l0.9-2.2l1.9-1.3m32 4.4l-0.6 0.5m15.7-1.7l-2 0.6m13.8 1l-0.7-1.4l-0.7-1.6m80 0.5l1.7-0.3m-360.4 8.3l0.3-1.6l-1 2.3m251.5 0.2l1.4-0.5l1.4 2m88.5-3.1l-1.1-0.5l0.2 1.8m27.1-0.1l0.4-0.8l-0.9-0m-378.2 4.4l2-1.8m-6.6 7.3l1.4 1.6m306.8 0.6l-1.7 1.8l-0.2-1m45.3-4.5l-0.8 0.6l1.5-1.1m5.5 5l-1.8-0.8m-400.4 6.1l-1.5-0.2l0.6 0.6m333.1-3.6l-1.6 0m53.2 5.1l-1.6 1.2m12.1-5.8l-1.6-1.5l-0.7-1.5m-380.8 9.6l-1.3 2m29.1 1.1l-0.2-2.9m300.1-1.4l2.2 0.7l1.4-0.9m62.4-0.4l-2.3-1.3m-399.5 15.9l1.5-0.6l0.6 1.4m23.4-2.8l0.9 0.6m-26.7 6.9l-0.3 1.6m6.3 0.5l-0.2 1.1l1.5 1.6m11.7-4.6l-2.1 1.4l1.1 1.5m-12.5 0.9l-0.3 0.8m2 3.5l0.8-1.4m-4.4 6.2l-0.7 0.4m47.1 0.9l-1.2-1.3m-20.9 8.4l1.2-0.1m1.3-3.3l-1.6 0.2l-1.3 0.1m10.7 2.6l2.3-1.3l-0.8 1.1m-17 3.6l0.9-0.5m9.1-2l1.6-1.3m12.3 6.6l1.1-2.4l-0.1 1.1m-23.3 3.8l0.5-2.5m29.5 4.3l-1-1.5l2-0.3m-12.4 7.7l-2.6 0.7m-45.1 8.4l0.1 1.8l2.5 1.4m233 2.1l0.8-2.2l-0 1.9m-205.7 10.2l0.3-0.7m59.6 10.9l0.6-1.3m2.4 1.4l0.2-0.9l1.1-0.6m3.8 4.3l0.6-1.6l-1.4 0.4m-86 2.5l-2.4-0.6l2.2-1.5m75.3 6.3l-1.6 1.6m2.6-4.3l-2.2 1.7m-67.2 7.4l0-2.1m12.2 1.5l0.3 2.2l0.8 0.2m43.8-6.6l-1.1-1.3l-0.5-2.4m-22.4 19.9l0.8 0.3l-0.7 1m-20.3 0.6l-1.8 0.5m62.9-0.8l2.7 1.4l-1.9-0.3m-25.7 6.1l0.6 1.5l-1.7 0.7m-15.2 4.7l-1.1-2.4l0.4-1.3m12 2.6l-2.7-0.6l1.1-2.3m399.9 91.7l-0.4 2.2l0.6-2.5m-207.3 7.8l-1.8-2.3l-0.2 1.2m-10.3 8.4l1.7 2.2m50.5-2.6l-0.7-1.8l1-0.3m-109.9 7.5l0.8 0l-0.7-0.7m21.4-0.6l1.1-1.5m12.9 2.7l2.1-0.6m64.8 3.2l2.1-1l0.9-1.6m-65.5 9.8l0.8-0.4m3.4 0.5l0.4 1.7m13.1-1.2l1.6-0.2m-0.9-2.2l0.8-0.1m11.9-3.2l-2.5 0.6l-1.4 2.2m54.1-0.4l0.4-1m-90.4 9.5l0.9-0.1m41-0.2l1.3 0.7l0.6-1m-1.4-2.7l0.1-1.2m18.7-0.6l2.1 0.7m15.5 8.3l-0.1-0.9l-2.4-1.2m171.1 3.3l-1-0.5l-2.4-0m-218.9 7.4l0.1-2l0.6-2.8m39.1 2.7l-0.6 0.5m-45.1 4.6l1 2.2m2.1-4.3l1.1 0.9l1.4 0.5m7.1 4.3l-0.1-2.1m5.7-2.2l2.5-1.6m16.9 1.6l1.9 0.7m-61.9 7.4l-0.5 0.8m2.7-4.1l1.7 0.8l1.4-0.8m46.6 3.6l-0.7-2.4m24.2-0.3l-1.2-0.7m-101 7.1l1.9-1.6m9.3 1.9l2.2-1.6l1-1m75.5 2.7l0.1-1.2m-75.3 10.7l2.4 1.1m104.7-2.5l-1-2.7m-54.8 6.8l1 1.7l-0.1-3m24.2 6.2l1.2-1.7m7.8 5.4l-2.9-0.4m-76.5 2.1l1-0.3m0 1.9l0.9-2.2m63.1 2.7l1.2 0.8m-20 4.6l-0.9 1.7l-1.2 0m-25 7.3l-1.4 1.6m2.9-4l-1.2 0.9l-0.3-1m36.7-1.9l1.1-0.1m12.9 11.3l-0.6 2.9m2.6-1.4l-0.6-1.2l1.3 1.9m-43.3 7.7l2.5-0.6m36.3-2.3l0.1-1.2l2.9-0.7m-14.2 11.5l-0.4 1.1l-0.7 0.5" stroke-width="3.0"/></g>
<text x="375.7" y="138.8" font-size="26.8" text-anchor="middle">Langerhans cells</text>
<text x="577.2" y="123.8" font-size="26.8" text-anchor="middle">B cells</text>
<text x="736.8" y="172.3" font-size="26.8" text-anchor="middle">T cells</text>
<text x="563.5" y="221.5" font-size="26.8" text-anchor="middle">Plasma cells</text>
<text x="264.3" y="259.8" font-size="26.8" text-anchor="middle">Myeloid cells</text>
<text x="569.4" y="364.7" font-size="26.8" text-anchor="middle">Mast cells</text>
<text x="765.9" y="458.8" font-size="26.8" text-anchor="middle">Keratinocytes</text>
<text x="319.4" y="569.1" font-size="26.8" text-anchor="middle">Fibroblasts</text>
<text x="504" y="594.7" font-size="26.8" text-anchor="middle">Smooth muscle cells</text>
<text x="573" y="626.4" font-size="26.8" text-anchor="middle">Melanocytes</text>
<text x="738.7" y="741.8" font-size="26.8" text-anchor="middle">Eccrine gland cells</text>
<text x="540.9" y="792.4" font-size="26.8" text-anchor="middle">Endothelial cells</text>
<g fill="none" stroke-width="5.3" stroke-linecap="round"><path d="M1435 69h0m7 0h0m6-3h0m353 2h0m19-1h0m16-3h0m15 2h0m-414 6h0m3-2h0m0 4h0m2-2h0m4 0h0m3 1h0m4 0h0m5-3h0m2 2h0m6 3h0m0-3h0m322-1h0m5-1h0m5 0h0m1 3h0m7-3h0m4 2h0m11 0h0m5-2h0m1 1h0m22 0h0m5 1h0m-425 8h0m1-4h0m0 3h0m1 0h0m14-3h0m6 0h0m1 0h0m2 3h0m2-2h0m3 3h0m5-2h0m0-2h0m6 2h0m231 1h0m50 1h0m34 1h0m4-3h0m1 2h0m1-2h0m4 3h0m0-3h0m7 0h0m4 0h0m4 1h0m2 2h0m1-2h0m17-1h0m2-3h0m6 2h0m4 3h0m14-1h0m2-1h0m3-2h0m5 1h0m5 2h0m-449 7h0m3-3h0m3 3h0m5 0h0m0-2h0m4-3h0m1 2h0m3 4h0m1-2h0m5-2h0m3-1h0m10 2h0m1-3h0m11 3h0m12 0h0m4 3h0m233-2h0m12 2h0m11-3h0m1 0h0m3-2h0m25 3h0m4-4h0m3 4h0m4-3h0m3 0h0m15 5h0m0-5h0m9 0h0m6 4h0m10 1h0m18-4h0m5 1h0m8-2h0m2 0h0m15 3h0m15 2h0m-465 3h0m1-1h0m3 3h0m19-1h0m2-2h0m3 1h0m2 0h0m3-1h0m10 0h0m2 2h0m4-1h0m15 3h0m3-3h0m31-1h0m163 1h0m4-1h0m17 2h0m11-2h0m13 4h0m2-3h0m8 0h0m3 3h0m4-3h0m8-2h0m6 2h0m7-2h0m1 4h0m4-1h0m3-2h0m1 1h0m10 1h0m1 1h0m3-4h0m2 1h0m1 3h0m5-1h0m4-1h0m4 1h0m3 0h0m4-2h0m3 1h0m27-2h0m6 1h0m4 4h0m10-4h0m5 0h0m4 1h0m-458 6h0m3-1h0m4 0h0m1 3h0m5-4h0m1 4h0m1-1h0m3-1h0m3 1h0m7-1h0m7 2h0m2-4h0m2 3h0m6-3h0m3 0h0m9 3h0m3-3h0m7 3h0m1 1h0m1-4h0m7 1h0m156 1h0m12-1h0m14 1h0m16-2h0m24-1h0m7 5h0m29-1h0m7 2h0m2-4h0m4 3h0m8 0h0m3-1h0m20 1h0m0-2h0m7 0h0m20 1h0m24-3h0m0 4h0m23-4h0m11 2h0m10 0h0m6-2h0m3 2h0m-486 7h0m6-3h0m1 4h0m9-2h0m1-1h0m3 1h0m3 2h0m5-3h0m4 1h0m5-3h0m9 1h0m7 1h0m4 0h0m0 1h0m2 2h0m3-3h0m1 4h0m4-4h0m5 3h0m7 1h0m0-4h0m10 0h0m4 0h0m136-2h0m16 2h0m32 3h0m5-1h0m46 0h0m4 1h0m8 1h0m4-5h0m2 5h0m15 0h0m3-3h0m1-3h0m1 2h0m2-1h0m3 4h0m2 1h0m11-1h0m5-1h0m2-1h0m10-2h0m6 0h0m1 0h0m10 0h0m1 5h0m8-4h0m16-1h0m3 1h0m13-1h0m2 2h0m5 0h0m23-2h0m2 3h0m-482 4h0m7 4h0m15 0h0m2-4h0m13 3h0m0-3h0m2 0h0m4 2h0m6 0h0m5 0h0m3-2h0m8-2h0m2 1h0m3 1h0m7 1h0m2-1h0m5 2h0m1-2h0m8 1h0m104 3h0m12 0h0m1-1h0m9-4h0m7 0h0m26 2h0m59 3h0m6-1h0m4-3h0m8-2h0m4 5h0m3 0h0m2-5h0m1 4h0m5-2h0m9-1h0m6 1h0m1 3h0m4-1h0m2 0h0m14-2h0m11 0h0m7 2h0m11-1h0m33 0h0m6 3h0m6-3h0m1 3h0m12-4h0m8 4h0m18-1h0m-499 6h0m8 0h0m8 0h0m9 0h0m2 0h0m2 0h0m10-4h0m6 3h0m4-1h0m4-1h0m13 1h0m1-3h0m4 6h0m2-6h0m3 5h0m4 0h0m0-3h0m4-2h0m3 4h0m0 0h0m4-4h0m1 5h0m1 0h0m1-1h0m23-2h0m122 2h0m7-1h0m10 2h0m23-2h0m38 1h0m6 1h0m8-1h0m3 0h0m8 1h0m9-4h0m1 1h0m13 2h0m15-1h0m1-2h0m4 1h0m3 3h0m7-4h0m0 3h0m7-2h0m11 1h0m33-3h0m13 3h0m24 2h0m6-2h0m3 2h0m1-4h0m9-1h0m-494 11h0m3 0h0m2-3h0m2 1h0m13 1h0m4 0h0m1-1h0m4 1h0m16-4h0m4 5h0m2-5h0m3 4h0m6-1h0m3 2h0m3-2h0m4 1h0m20 0h0m2 1h0m101-4h0m21 5h0m3-2h0m21-1h0m68-1h0m1-1h0m4-1h0m1 4h0m4 1h0m15-3h0m2 1h0m6-1h0m1-1h0m2 3h0m4-2h0m11 2h0m1-1h0m2 2h0m6 1h0m6-6h0m13 5h0m3-4h0m5 2h0m5-1h0m0 3h0m2-1h0m1-3h0m0 5h0m3-1h0m5-4h0m1 5h0m16 0h0m3-5h0m4 1h0m3 2h0m1-4h0m2 4h0m14 0h0m23 1h0m5-2h0m8-3h0m-498 7h0m1 2h0m4 0h0m2 2h0m1-1h0m6 0h0m3 2h0m2-4h0m3 4h0m0-5h0m2 4h0m2-4h0m11 3h0m4-1h0m3-2h0m2 2h0m3 1h0m4-1h0m3-1h0m0-2h0m5 4h0m4-4h0m11 2h0m5-1h0m10 3h0m4 1h0m3-3h0m11 0h0m94-1h0m21 0h0m19 4h0m19-5h0m4 4h0m39-1h0m11-3h0m14 2h0m8 2h0m9 0h0m6-3h0m25 1h0m2-1h0m2 0h0m2 5h0m4-4h0m2 3h0m4-4h0m23 1h0m33 1h0m4 2h0m16-4h0m31 1h0m-497 10h0m1-5h0m4 0h0m1 1h0m3 3h0m3 1h0m1-3h0m1 0h0m3-2h0m1 3h0m7 2h0m6-3h0m5 2h0m2-2h0m1-1h0m5 0h0m11 1h0m2 2h0m7-1h0m5-3h0m6 3h0m4-2h0m8 3h0m8 0h0m1-4h0m5 4h0m6-2h0m74-3h0m2 5h0m8-1h0m7 1h0m86-3h0m25-2h0m3 4h0m11-3h0m4 2h0m3 3h0m15-2h0m7 1h0m20 0h0m53 0h0m5 0h0m3-4h0m1 3h0m15-1h0m6 0h0m19 1h0m4 1h0m1-4h0m10 1h0m2 1h0m12-1h0m1-2h0m-501 10h0m1-4h0m1 4h0m4-4h0m0 6h0m10-3h0m5 0h0m4 0h0m3 2h0m0-5h0m32 5h0m13-2h0m6 0h0m3 1h0m7-1h0m2 0h0m7-1h0m2 1h0m3-3h0m2 2h0m2 2h0m0-3h0m210 3h0m6-2h0m0 1h0m6 2h0m5-4h0m1 4h0m8-4h0m15 5h0m18-3h0m2 0h0m7-1h0m4 2h0m11-4h0m1 1h0m27 4h0m5-4h0m4 4h0m11-4h0m6-1h0m4 6h0m4-4h0m4-2h0m-455 6h0m9 2h0m5 0h0m0-1h0m8 0h0m5 2h0m3-2h0m8 4h0m2-4h0m0 3h0m5-2h0m4 4h0m5-4h0m3-1h0m1 4h0m2-3h0m3 2h0m1-2h0m1 1h0m2-3h0m0 5h0m9 1h0m15 0h0m0-5h0m4 1h0m3-2h0m3 3h0m199-1h0m3 2h0m5-4h0m23 0h0m5 1h0m2 1h0m37 3h0m4-1h0m2-1h0m3-1h0m9 1h0m1-2h0m7-1h0m18 5h0m12-2h0m42 0h0m-463 5h0m18-1h0m3 0h0m4 0h0m0 2h0m4-1h0m8-1h0m10 2h0m8 2h0m3 0h0m15 0h0m5-5h0m1 3h0m4-3h0m3 6h0m31-6h0m133 4h0m17 1h0m21-2h0m5 0h0m1-2h0m9-1h0m15 4h0m5 2h0m4-3h0m15-1h0m2 3h0m4-1h0m3 1h0m3-4h0m7 1h0m8 0h0m26 0h0m22-1h0m9 4h0m9-4h0m16 0h0m15 1h0m-470 6h0m3 4h0m1-6h0m2 1h0m1 2h0m0 0h0m6 0h0m0 2h0m11-1h0m1-4h0m5 4h0m3-4h0m0 5h0m3-1h0m1-1h0m4-3h0m2 1h0m8 1h0m7 3h0m8-1h0m1-1h0m5 0h0m4 3h0m5-5h0m10 2h0m5 2h0m3-1h0m6-1h0m12 1h0m4-1h0m2-2h0m129 1h0m37 2h0m5 0h0m27 1h0m4-3h0m13 4h0m10-1h0m19-4h0m8 0h0m20 0h0m2 0h0m3 5h0m5-2h0m23-3h0m15 1h0m15 0h0m2 3h0m13-1h0m-461 7h0m7-2h0m8-2h0m6 2h0m11 0h0m8-3h0m1 6h0m3-2h0m2-1h0m5-2h0m8 3h0m23 1h0m5-2h0m21 1h0m1-4h0m9 5h0m155-4h0m7 5h0m13-5h0m5 4h0m1-5h0m4 4h0m16-3h0m6 1h0m8 0h0m6 2h0m6-3h0m9 3h0m4 1h0m2-2h0m55 2h0m-405 4h0m1 1h0m4 2h0m14-5h0m4 2h0m0-2h0m5-1h0m8 3h0m1 1h0m3 1h0m2-5h0m14 5h0m3-1h0m0-4h0m2 3h0m9-1h0m21 4h0m3-2h0m3-3h0m23 3h0m139-3h0m26 3h0m4 0h0m0-1h0m6-1h0m3 2h0m3-2h0m12-1h0m4-1h0m14 6h0m4-1h0m9-5h0m8 4h0m1-3h0m3 3h0m0-4h0m7 1h0m8 5h0m11-1h0m3-1h0m2-3h0m4 0h0m5 4h0m-395 2h0m1-1h0m3 6h0m3-6h0m7 2h0m8 1h0m1 1h0m3-3h0m1 3h0m8 2h0m1-5h0m7 2h0m5 1h0m2 1h0m4-1h0m9 1h0m2-3h0m1-2h0m4 3h0m1 3h0m3-3h0m9 1h0m4 1h0m3-2h0m6-1h0m6 1h0m11 1h0m85-4h0m42 4h0m47-1h0m7-1h0m12 3h0m13-4h0m5 0h0m10 3h0m11-3h0m1 2h0m1-1h0m9 0h0m32-1h0m6 3h0m5 2h0m-398 0h0m14 5h0m4-2h0m4-2h0m1 4h0m3-3h0m14 2h0m8 0h0m3 0h0m2-2h0m2 0h0m5 1h0m7 0h0m10 2h0m9 0h0m8-4h0m2 3h0m6-3h0m13 1h0m132-1h0m28 3h0m9-1h0m2 0h0m11 3h0m13-5h0m3 2h0m11 2h0m10-3h0m26 0h0m26 0h0m31 1h0m6 2h0m5 0h0m22-2h0m-533 9h0m60-2h0m10-2h0m12 3h0m41-3h0m7 3h0m4-5h0m30 6h0m14-4h0m2-1h0m171 5h0m17-3h0m14 3h0m13-3h0m2-1h0m14-1h0m9 0h0m15 1h0m2 3h0m0-5h0m3 2h0m94 1h0m-461 5h0m32-1h0m10 2h0m18 2h0m4 0h0m10 1h0m2-3h0m10 0h0m12 1h0m4-2h0m100 3h0m9-2h0m11-1h0m7 2h0m8 1h0m51-5h0m5 3h0m2 2h0m2-4h0m10 3h0m0-3h0m6 4h0m2-4h0m0 3h0m9-3h0m7 2h0m9-1h0m16 1h0m3 0h0m4-3h0m16 2h0m7 0h0m0 3h0m2-4h0m-526 8h0m18 1h0m28 1h0m2-2h0m66-1h0m8-1h0m8 4h0m9-4h0m13 4h0m19-5h0m22 5h0m21-3h0m4 0h0m0 3h0m8-1h0m3 0h0m2-2h0m89 4h0m47-5h0m19 1h0m1-1h0m3-1h0m45 2h0m4 0h0m9 1h0m5 2h0m7-1h0m7 1h0m9-2h0m33 1h0m77-1h0m25-2h0m11 2h0m-582 4h0m4 2h0m2 3h0m18-2h0m48-3h0m8 4h0m7-1h0m6 1h0m59 0h0m15 0h0m9 0h0m15-5h0m9 5h0m120-4h0m43 3h0m43 1h0m5-3h0m18 3h0m9-1h0m10-3h0m0 2h0m2-3h0m33 2h0m67 2h0m19-1h0m-595 8h0m46 0h0m32-4h0m15 4h0m10-4h0m8 2h0m16-1h0m2-1h0m0 4h0m39-4h0m3 4h0m6-1h0m10-3h0m19 0h0m148 2h0m62 2h0m25 0h0m0 0h0m14-4h0m2 0h0m22 4h0m18-1h0m5-2h0m13 4h0m23-5h0m28 0h0m2 0h0m-558 7h0m88 4h0m86-2h0m13-2h0m5 2h0m3-4h0m1 1h0m7 4h0m1-3h0m82 0h0m16-1h0m102 3h0m33-2h0m15 4h0m31-3h0m3 2h0m57-1h0m29-2h0m-636 6h0m85 3h0m5-1h0m28 0h0m12-1h0m31-2h0m33 4h0m12-1h0m41-3h0m2 3h0m10-1h0m2-2h0m122 3h0m1 1h0m66-2h0m23 2h0m8-1h0m1-3h0m5 3h0m0-4h0m21 2h0m7 2h0m122 2h0m5-2h0m9-3h0m-629 7h0m1 0h0m1 2h0m36 0h0m2-2h0m6 3h0m18 0h0m1-1h0m3-2h0m1 4h0m4-2h0m16-3h0m26 4h0m11-5h0m64 3h0m14 1h0m0 1h0m27-3h0m111-1h0m6 1h0m7-1h0m29 2h0m16-2h0m27 3h0m48 1h0m24-2h0m57 0h0m52-2h0m14 3h0m9 0h0m12-2h0m-632 8h0m49 2h0m2-6h0m3 4h0m5 1h0m5 1h0m3-2h0m15 1h0m7-4h0m6 0h0m2 3h0m6 0h0m3 0h0m8 1h0m11-1h0m0-1h0m25 1h0m5-4h0m1 3h0m31-2h0m157 0h0m2 5h0m71-3h0m19-2h0m1 1h0m11 4h0m45-2h0m72-3h0m34 1h0m11-2h0m14 6h0m-628 6h0m53 0h0m3-2h0m11 0h0m1-3h0m9 1h0m6-1h0m3-1h0m3 2h0m2 4h0m7-6h0m11 2h0m0-1h0m2 4h0m3-1h0m6-1h0m11-1h0m1 2h0m2 0h0m27-4h0m4 1h0m10 4h0m5 0h0m24-1h0m0 0h0m149-1h0m111 1h0m8-1h0m9 1h0m29-1h0m10 2h0m57-1h0m21-3h0m-614 8h0m27 0h0m9 1h0m11-4h0m7 3h0m6-2h0m3 3h0m1-4h0m42 3h0m7 0h0m0-3h0m5 5h0m3 0h0m8-3h0m11-1h0m3 2h0m10-3h0m2 3h0m5-2h0m21 0h0m4 0h0m303 4h0m2-2h0m23-1h0m4 2h0m96-1h0m18 0h0m-648 5h0m24 2h0m7 1h0m1-2h0m2-1h0m5 0h0m0 0h0m8-1h0m1 5h0m10-3h0m9 0h0m15 1h0m6 2h0m7-3h0m7 2h0m2-4h0m8 2h0m5-1h0m5 3h0m0 0h0m2-2h0m1 0h0m7 1h0m2 0h0m7-2h0m0 0h0m4 0h0m1 2h0m9 2h0m4-3h0m4-1h0m4 2h0m12-1h0m34 1h0m118-3h0m167 4h0m9-4h0m13 1h0m9-1h0m106-1h0m3 1h0m-643 9h0m9-1h0m2 1h0m14-4h0m5 2h0m2 0h0m6-2h0m5 2h0m1 3h0m10-4h0m4 3h0m9-3h0m1 1h0m9-1h0m2 1h0m4 2h0m1-3h0m9 0h0m23 2h0m3-2h0m2 4h0m4-3h0m23-1h0m1 3h0m3-3h0m5-1h0m12 2h0m3 2h0m2-2h0m2 2h0m17-3h0m6-1h0m21 6h0m280-5h0m84-1h0m43 1h0m10 4h0m0-1h0m4-2h0m3-1h0m1 0h0m-639 10h0m2-2h0m1 0h0m5-3h0m10 2h0m5 1h0m1 2h0m3-3h0m9 2h0m6-3h0m1 3h0m1 1h0m8-1h0m8 0h0m1-1h0m2 2h0m3-3h0m4 3h0m4-3h0m3 4h0m2-3h0m4-1h0m0-2h0m2 4h0m1-2h0m1 4h0m10-5h0m10 1h0m1 2h0m2-1h0m24-2h0m3 1h0m3 2h0m1-4h0m5 0h0m0 6h0m7-5h0m11 2h0m4 3h0m1-5h0m3-1h0m4 3h0m2-2h0m1 3h0m16-2h0m342-2h0m0 5h0m1 1h0m66-1h0m19 1h0m10-2h0m2-3h0m9 4h0m8-3h0m-638 9h0m1-4h0m4 1h0m9 0h0m2 3h0m7-1h0m3 0h0m7 0h0m6 0h0m12 2h0m1-4h0m15 2h0m1 0h0m8-3h0m7 1h0m5 3h0m10 1h0m2-2h0m6 2h0m10-6h0m7 2h0m15 0h0m6 1h0m5 3h0m2-4h0m0-2h0m6 2h0m0 1h0m6 0h0m6 2h0m19-4h0m16 5h0m295-6h0m30 1h0m16-1h0m54 1h0m13 1h0m16 3h0m3-2h0m-640 4h0m6 2h0m0-1h0m5 0h0m2 2h0m2-3h0m7-1h0m2 5h0m3-5h0m2 1h0m7 3h0m1 1h0m8-4h0m16 4h0m8-2h0m1 1h0m3-4h0m12 4h0m3-3h0m1 4h0m3-2h0m0 1h0m2-2h0m6 0h0m2 3h0m4 1h0m8-1h0m0 0h0m6-1h0m4-3h0m3 1h0m2 1h0m7-1h0m1 3h0m3 1h0m7-6h0m2 0h0m21 2h0m9-2h0m6 5h0m25-2h0m9-1h0m228 4h0m58-4h0m-503 6h0m0 3h0m3-1h0m5-3h0m0 3h0m12-4h0m16 6h0m13-3h0m4-1h0m4-2h0m1 2h0m4-1h0m11 3h0m3 2h0m9 0h0m9 0h0m11-5h0m3 2h0m8-1h0m4 2h0m3-1h0m15 1h0m14 1h0m7-3h0m2 3h0m3-3h0m0 0h0m4 1h0m1-2h0m7 5h0m29-1h0m2-4h0m8 5h0m378-1h0m32-4h0m9 1h0m13-2h0m-624 8h0m4 0h0m10 2h0m6 2h0m23-3h0m0 1h0m7 2h0m0-4h0m4 2h0m2-4h0m0 3h0m3-2h0m1 3h0m5-1h0m16-2h0m1 3h0m14-2h0m3-1h0m2 2h0m3-1h0m10 1h0m2-2h0m6 5h0m0-1h0m10-2h0m1-3h0m3 6h0m53-5h0m189 2h0m10 2h0m1-1h0m183 0h0m8-3h0m58 5h0m-628 1h0m8 2h0m10-1h0m11 3h0m1-4h0m4 0h0m13 3h0m0-3h0m7-1h0m9 2h0m9 0h0m0 4h0m1-3h0m5-2h0m1 4h0m5-1h0m14-3h0m6 5h0m3-5h0m2 4h0m13 1h0m0-2h0m12-2h0m2 3h0m1-2h0m4 3h0m2-3h0m229-2h0m2 3h0m8-1h0m0-1h0m3 1h0m178 1h0m8 0h0m4 0h0m2 0h0m19-3h0m17 4h0m1-1h0m6-1h0m3 0h0m-609 6h0m9-1h0m7 3h0m4-5h0m4 4h0m5-2h0m0 0h0m11 0h0m4 3h0m7 0h0m3-1h0m5 1h0m4-4h0m5 1h0m6-1h0m6 0h0m1 3h0m2-1h0m8-1h0m5 2h0m6-4h0m1 3h0m5-1h0m15 3h0m3 0h0m3 0h0m2-1h0m3 1h0m218-4h0m7 3h0m192-1h0m4 2h0m14-2h0m9-2h0m13 2h0m8-1h0m5 2h0m-577 2h0m4 1h0m2 3h0m5-1h0m10-2h0m0-1h0m8 1h0m9 1h0m3 4h0m5-6h0m6 4h0m0-4h0m9 5h0m0-2h0m8 0h0m6-3h0m3 5h0m7 1h0m1-5h0m2 3h0m4-2h0m2-1h0m2 3h0m2 1h0m2-1h0m4-1h0m219 2h0m19-5h0m69 3h0m94 1h0m16 0h0m10-2h0m1 1h0m0-2h0m6 1h0m5 1h0m7-1h0m0 1h0m8-3h0m23 6h0m4-4h0m-561 9h0m6 0h0m3-4h0m9 4h0m6-3h0m2-1h0m1 0h0m16 0h0m8 1h0m8-1h0m10 0h0m4 3h0m0-2h0m9-1h0m205 5h0m3-3h0m9 2h0m2 0h0m1-2h0m2 0h0m4-3h0m2 2h0m1 3h0m183-5h0m5 6h0m2-4h0m3 4h0m15-5h0m-526 11h0m1-4h0m20 4h0m0-4h0m7 0h0m8 1h0m4-3h0m1 4h0m8-3h0m0 4h0m4-4h0m7 0h0m9 1h0m6-2h0m4 2h0m185 3h0m32-2h0m2 3h0m1-3h0m6 1h0m2 0h0m1 1h0m1-4h0m4 4h0m6-5h0m169 3h0m2 3h0m1-3h0m1 2h0m10-4h0m16 1h0m2 2h0m2-4h0m6 5h0m3-4h0m9 1h0m2 2h0m27-2h0m-534 7h0m1-1h0m13-1h0m16 4h0m231-2h0m1 2h0m4-2h0m4-1h0m4-1h0m0 3h0m2 0h0m2-1h0m2 2h0m8-3h0m1 1h0m1 3h0m168-1h0m5-2h0m1-2h0m20 3h0m7-3h0m4 2h0m4 2h0m6-3h0m3 0h0m5 2h0m1-1h0m15-2h0m-527 9h0m15-1h0m246 0h0m12-1h0m3 0h0m10-2h0m9 1h0m166 5h0m12-1h0m9-4h0m2 3h0m12-2h0m18 1h0m6 1h0m5-1h0m5 2h0m4-3h0m-528 5h0m4 0h0m202 3h0m55 2h0m5-1h0m4-1h0m3-4h0m174 2h0m15-1h0m27 1h0m9 0h0m10 0h0m4 0h0m6 4h0m12 0h0m7-1h0m-524 5h0m1-4h0m6 4h0m191-4h0m10 1h0m20 5h0m6-2h0m2 0h0m7-3h0m7 5h0m1-5h0m8 4h0m1-4h0m11 2h0m136-1h0m9 3h0m11-1h0m6-1h0m2 0h0m12-2h0m4 5h0m14 0h0m1 0h0m0-4h0m7 4h0m5 0h0m11-3h0m2-2h0m7 4h0m21-5h0m5 2h0m-284 4h0m7 1h0m6 3h0m12-1h0m113 1h0m17-4h0m9 5h0m3 0h0m9-3h0m5 4h0m19-4h0m16 3h0m45-5h0m13 3h0m7 0h0m-522 3h0m237 5h0m1-3h0m4-1h0m2 3h0m0 2h0m2-1h0m2-3h0m2 3h0m0-1h0m5-2h0m3 0h0m136 3h0m3-4h0m9 0h0m11 1h0m21 0h0m33 1h0m5 2h0m2-3h0m16-1h0m11 2h0m5 3h0m1-6h0m11 1h0m-522 6h0m224 1h0m1 3h0m5-3h0m4 3h0m8-4h0m6 0h0m7 5h0m5-3h0m128 1h0m32-1h0m6-2h0m9 0h0m7 4h0m2-4h0m1 4h0m20-3h0m3 1h0m9 2h0m5 0h0m0-4h0m10 0h0m11 2h0m4-2h0m0 1h0m-276 4h0m0 2h0m3 2h0m13 0h0m6 0h0m0 2h0m6-5h0m7 2h0m115 2h0m9-5h0m35 2h0m3-2h0m8 0h0m23 4h0m16 2h0m2 0h0m13-6h0m6 2h0m3-2h0m5 4h0m1-2h0m4-1h0m5 0h0m0 3h0m12-4h0m-304 10h0m8-1h0m2 1h0m6-4h0m1 3h0m2 2h0m6-5h0m2 1h0m1 5h0m0-5h0m106 4h0m1-3h0m36 4h0m6-5h0m3 5h0m15-2h0m1-1h0m12-1h0m7-1h0m8 5h0m17 0h0m15-2h0m11-3h0m3 4h0m5-3h0m12 2h0m23-4h0m2 5h0m-311 3h0m1-2h0m1 1h0m7 5h0m117-2h0m5 1h0m9-3h0m16 2h0m16 0h0m20 1h0m32-2h0m5 1h0m5-2h0m4 1h0m7-2h0m19 2h0m8-1h0m5 1h0m33 1h0m-329 7h0m62-1h0m13-4h0m5 1h0m50 3h0m4-1h0m6 0h0m9-1h0m2 3h0m4-1h0m10 0h0m22-3h0m6 1h0m2-1h0m3 3h0m11-3h0m19 0h0m2 5h0m15-5h0m5 3h0m10-2h0m3 0h0m8 1h0m1-1h0m18 1h0m35 2h0m1-2h0m-282 4h0m54 3h0m35-3h0m19 3h0m9-3h0m15 2h0m1 0h0m10 0h0m7-2h0m3 5h0m8-6h0m12 2h0m4 1h0m7-2h0m5 1h0m7-1h0m19 1h0m24 2h0m15-1h0m1 1h0m9 2h0m1-4h0m9 1h0m11-2h0m4 0h0m0 0h0m-296 10h0m13 1h0m34-1h0m17-2h0m24-1h0m36 1h0m12-1h0m5-1h0m8 1h0m15 2h0m6-1h0m7 1h0m16-1h0m3 3h0m5-3h0m8 2h0m0-2h0m9 1h0m4 1h0m8-1h0m35 0h0m7-1h0m7 0h0m2-3h0m18 2h0m8 3h0m-532 3h0m271 0h0m2 3h0m3 0h0m3-4h0m8 0h0m9 0h0m1 3h0m2 0h0m8-2h0m13-1h0m15 4h0m5 0h0m18-4h0m5 1h0m11 3h0m2-2h0m1-2h0m4-1h0m11 5h0m6-4h0m0 0h0m30 3h0m6 2h0m13-5h0m1 2h0m5-1h0m3 3h0m2-4h0m9 0h0m2 3h0m8-3h0m1 3h0m6 1h0m7-4h0m4 1h0m17-1h0m8 1h0m-527 6h0m8 1h0m124 2h0m4-4h0m46 3h0m5 0h0m27-3h0m69 1h0m5 0h0m6 4h0m3-3h0m6-2h0m3 1h0m3-2h0m1 5h0m8-3h0m5 1h0m10 1h0m16-3h0m14 0h0m23 2h0m4 0h0m16-2h0m5 1h0m3 0h0m6 3h0m19-3h0m18 1h0m14 0h0m4-2h0m7 4h0m12-4h0m8 3h0m1 0h0m5-2h0m22 1h0m2 0h0m-542 8h0m4-2h0m1-2h0m5 0h0m3 4h0m9 1h0m115-2h0m72-1h0m63-1h0m4 1h0m5 1h0m2-4h0m11 4h0m11 0h0m7-2h0m3 0h0m16-1h0m3 4h0m1-4h0m5 2h0m10 0h0m7-1h0m4-1h0m4 2h0m7 2h0m5 0h0m5 0h0m15-4h0m25 3h0m10-2h0m18 1h0m10 0h0m7 2h0m5-1h0m1-4h0m2 3h0m18 0h0m12-3h0m4 1h0m16 2h0m8 2h0m4-1h0m5 1h0m2 1h0m-549 5h0m1-1h0m4 2h0m4 0h0m1-2h0m10-4h0m2 5h0m4-2h0m4-1h0m158 0h0m22 4h0m3-2h0m36 1h0m9-1h0m7-3h0m17 1h0m17 1h0m1 0h0m3 0h0m8 3h0m17-5h0m4 2h0m2 3h0m7-1h0m7-4h0m11 3h0m2-1h0m10-2h0m9 4h0m3 0h0m8-4h0m3 2h0m7-2h0m9 3h0m2-2h0m6 1h0m2 3h0m8-1h0m3 0h0m8-2h0m18 1h0m15-2h0m10-1h0m8 0h0m4 0h0m8 1h0m3 2h0m12 0h0m5 1h0m5-4h0m15-1h0m0 3h0m4 0h0m6-2h0m8 5h0m-548 3h0m8-1h0m0 4h0m4-1h0m3-4h0m9 1h0m102 1h0m13-1h0m15 0h0m6 4h0m11-1h0m24-2h0m54-1h0m6-1h0m12 4h0m7-2h0m4-2h0m3 4h0m5-3h0m0 4h0m1-1h0m7-1h0m4-2h0m17 0h0m2 4h0m20-3h0m6 1h0m18-2h0m5 0h0m5 2h0m17 0h0m6-1h0m2 1h0m5-1h0m8 0h0m17 1h0m6 2h0m17-2h0m6 0h0m4-3h0m1 2h0m0-3h0m14 3h0m5 1h0m6-3h0m10 3h0m5 0h0m24-2h0m-542 5h0m2 0h0m1 0h0m11 5h0m1-3h0m1 1h0m4-3h0m2 4h0m9-3h0m29 1h0m85-2h0m6 2h0m31 2h0m8-5h0m14 4h0m41 1h0m8 1h0m10-5h0m15-1h0m10 3h0m5 3h0m2-4h0m3 0h0m0 3h0m7-4h0m9 1h0m4 0h0m6 1h0m1-1h0m3 3h0m4 0h0m7-3h0m3 3h0m12-4h0m1 5h0m15-1h0m5 1h0m1-1h0m3-1h0m5-2h0m1 2h0m3-2h0m1 3h0m4-5h0m1 0h0m10 0h0m2 4h0m7 2h0m1-4h0m9-1h0m1 4h0m2-4h0m2 4h0m15-1h0m0-1h0m22-1h0m19 3h0m10-2h0m6 2h0m5 1h0m7 0h0m7-5h0m17 4h0m13-4h0m9 0h0m-572 11h0m7-4h0m6-1h0m11 2h0m7-2h0m3 1h0m7 2h0m2-1h0m12 1h0m4-4h0m20 1h0m65 2h0m9-1h0m12-1h0m20 0h0m47 3h0m14-1h0m1 1h0m3-1h0m11 0h0m9 1h0m5-3h0m8 4h0m3-3h0m4-1h0m3 4h0m6-2h0m9 1h0m3-1h0m5 0h0m20 0h0m13 2h0m8 0h0m9-2h0m6-2h0m0 2h0m15 2h0m3-3h0m1 1h0m7 0h0m14 0h0m2 1h0m9 0h0m7-3h0m1 4h0m5 0h0m9-2h0m2 1h0m15-2h0m1 3h0m14-2h0m12 1h0m19-2h0m1-2h0m4 6h0m17-3h0m12 1h0m38 1h0m5-3h0m-583 7h0m2 0h0m1-1h0m5 3h0m2-3h0m2-1h0m2 4h0m5-2h0m12 2h0m3 0h0m11-1h0m6-4h0m9 4h0m88 0h0m5-1h0m4-3h0m12 4h0m20-2h0m3 0h0m4 0h0m2 3h0m31-5h0m1 2h0m4 1h0m4 1h0m8 1h0m14-4h0m2 5h0m8-2h0m0 2h0m6-1h0m5 1h0m5-3h0m2 2h0m5 1h0m5-5h0m4 4h0m2-5h0m3 0h0m2 4h0m18 1h0m7-4h0m11 2h0m5-3h0m18 3h0m1-3h0m5 6h0m6 0h0m20-5h0m5 3h0m3 0h0m5-1h0m6-1h0m11 3h0m14-4h0m5 0h0m4 2h0m12-2h0m1 5h0m4-3h0m27 1h0m17-1h0m40-1h0m43 2h0m-603 4h0m5 1h0m16 0h0m16 0h0m3 0h0m9 0h0m128 2h0m21-1h0m40-1h0m12 1h0m9-2h0m6 3h0m12-4h0m14 4h0m19-4h0m9 5h0m1-1h0m21-2h0m6-1h0m1 1h0m3-2h0m0 3h0m13-3h0m3 2h0m22 2h0m7 0h0m11-2h0m4 0h0m10-2h0m1 5h0m6-3h0m3 3h0m15-2h0m25-2h0m2 3h0m13-1h0m1-2h0m1-1h0m6-1h0m9 3h0m3 2h0m19-5h0m9 5h0m22-4h0m10 2h0m26-2h0m1 4h0m5-2h0m3-2h0m-617 6h0m4 2h0m1 1h0m4-2h0m2-2h0m9 1h0m0 3h0m4 0h0m9 1h0m14-1h0m7 1h0m3-2h0m2 2h0m12 0h0m96-2h0m7-3h0m20 3h0m6 3h0m20-6h0m8 2h0m26-1h0m5 0h0m0 2h0m5 3h0m7-5h0m3 3h0m3-1h0m1-1h0m3 2h0m6 1h0m7-4h0m6 3h0m12 0h0m30-3h0m13 4h0m12-4h0m4 3h0m5-4h0m14 3h0m2-1h0m2-1h0m2 3h0m5-2h0m15-1h0m4 0h0m0 2h0m3-1h0m2-2h0m0 1h0m29 2h0m6 1h0m0 2h0m13-2h0m10 1h0m2-5h0m11 6h0m53 0h0m16-4h0m28 3h0m4 0h0m29-4h0m-611 9h0m8-1h0m1 2h0m7-3h0m10 4h0m2-5h0m5 3h0m0-3h0m10 0h0m3 1h0m2 2h0m4-1h0m16-3h0m9 6h0m69-5h0m27 4h0m9-4h0m11 5h0m14-2h0m4-1h0m12-2h0m2 3h0m16-2h0m9 4h0m8-5h0m9 4h0m2-4h0m17 0h0m8 4h0m10-3h0m14-1h0m4 4h0m1 0h0m18 0h0m6-4h0m9 1h0m29 1h0m7 3h0m2-3h0m2-1h0m2 3h0m2-3h0m13 3h0m1-2h0m5-1h0m16-1h0m4 5h0m0-5h0m9 3h0m8-3h0m4 0h0m14 2h0m12 2h0m6-4h0m9 1h0m7-2h0m43 3h0m11 0h0m6-3h0m45 4h0m-630 6h0m2 0h0m3 1h0m8-2h0m2-2h0m1 4h0m10-1h0m6 2h0m3-5h0m4 1h0m9 2h0m0-1h0m8-3h0m0 4h0m13 1h0m9-4h0m6 3h0m92 1h0m12 1h0m4 0h0m5-4h0m19 2h0m16-2h0m2 3h0m3-3h0m11 2h0m2-1h0m2 3h0m4-5h0m1 2h0m1-2h0m3 2h0m10 1h0m2 2h0m1-1h0m17-2h0m3-3h0m12 1h0m2 2h0m3-2h0m3 1h0m2 0h0m6 3h0m0-2h0m11-1h0m13 3h0m8-3h0m14 0h0m4 0h0m27 3h0m2-3h0m3 3h0m1-1h0m4 1h0m2-3h0m5 2h0m1 0h0m14 1h0m2-3h0m2 0h0m5 4h0m3-1h0m5-1h0m4 1h0m9 1h0m11-1h0m2-1h0m4 0h0m3 1h0m3-5h0m0 3h0m1 0h0m1 1h0m4-4h0m5 4h0m5-2h0m17-1h0m37 0h0m3 1h0m21 2h0m5-4h0m2 1h0m14 4h0m6 0h0m13-3h0m6 3h0m45 1h0m-672 3h0m5 3h0m6-3h0m1 1h0m0 2h0m1-1h0m6-3h0m20-1h0m3 3h0m2 1h0m4-4h0m2 4h0m12 0h0m8-5h0m1 5h0m32-2h0m78 1h0m28-1h0m23 0h0m19-1h0m3 2h0m6 1h0m1-4h0m4 3h0m5-4h0m14 1h0m1 0h0m6 3h0m5-2h0m11 2h0m9 0h0m0 1h0m1-5h0m4 4h0m6 1h0m3-3h0m15-2h0m1 0h0m7 6h0m10-6h0m1 5h0m8-4h0m4 1h0m13 2h0m7 1h0m4-1h0m9 0h0m15 2h0m1-5h0m8 1h0m5 3h0m6 0h0m3-4h0m5 3h0m5-4h0m10 4h0m1-1h0m1 1h0m4-2h0m26 0h0m3 1h0m2-2h0m10 5h0m22 0h0m11-3h0m31 1h0m14 0h0m1-2h0m24 3h0m32-4h0m12 3h0m3-2h0m4 2h0m2-3h0m4 5h0m-679 5h0m9 1h0m12-3h0m2 2h0m2-4h0m6 0h0m6 5h0m4-2h0m7-2h0m5 1h0m0 1h0m0 2h0m6 0h0m2-5h0m11-1h0m103 2h0m7 3h0m3-1h0m26-1h0m14-2h0m3 4h0m34-3h0m1 0h0m4-1h0m4 1h0m17-1h0m4 1h0m3 3h0m3-4h0m11 4h0m5-3h0m1 4h0m3-3h0m18 3h0m20-3h0m6 0h0m8 2h0m0-2h0m1 1h0m11-3h0m4-1h0m2 4h0m16-3h0m3 3h0m14-2h0m2-1h0m2 4h0m9 0h0m3-2h0m9 1h0m6-1h0m10-1h0m3 1h0m3 2h0m7 0h0m45 0h0m37-1h0m44-4h0m3 2h0m34 3h0m3-1h0m30-2h0m10 2h0m1-1h0m8-1h0m-680 7h0m5 1h0m13-3h0m2 4h0m10 1h0m1 0h0m1-3h0m2 0h0m4 0h0m0 2h0m1-3h0m10 2h0m4 1h0m8 1h0m1-4h0m28 1h0m3-1h0m121 0h0m19 0h0m8 2h0m3 0h0m5-4h0m1 0h0m1 6h0m13-6h0m3 3h0m4-2h0m5 5h0m16-1h0m4-5h0m2 1h0m5 0h0m9 3h0m10-3h0m1 4h0m8-3h0m4-1h0m13 2h0m5 2h0m4 0h0m1-1h0m1-2h0m2 2h0m5-4h0m12 1h0m1 0h0m6 3h0m11-3h0m2 2h0m5-1h0m23 0h0m9 1h0m10-1h0m7-1h0m38 1h0m31 3h0m26-3h0m13 1h0m12-2h0m2 3h0m6 1h0m4-4h0m11 2h0m6 1h0m7 0h0m10 1h0m14-2h0m23-2h0m2 2h0m0-1h0m2-2h0m8 3h0m2-1h0m3 0h0m1 1h0m2 0h0m11-2h0m-693 6h0m6 1h0m9-1h0m12 5h0m8-1h0m8-2h0m0 0h0m4 1h0m5-3h0m3 2h0m5-1h0m4 1h0m168 1h0m18-3h0m8 0h0m0-1h0m1 5h0m4 0h0m11-1h0m5-2h0m14 1h0m4-1h0m3 2h0m1 0h0m0-3h0m3 0h0m5 2h0m2 2h0m14-3h0m8-2h0m10 2h0m20 0h0m3-1h0m10 2h0m7-1h0m3 0h0m1 4h0m6-3h0m2 0h0m2 2h0m15-3h0m0 3h0m2-3h0m2-1h0m7 0h0m5 1h0m35 0h0m18 3h0m27-5h0m6 4h0m24-3h0m6 2h0m12 1h0m23-2h0m4 1h0m20 1h0m46 2h0m7-3h0m4 0h0m5-2h0m0 2h0m8 1h0m0 2h0m1-2h0m7-4h0m2 5h0m1-4h0m10 1h0m1-1h0m-693 7h0m7 0h0m2 3h0m8-4h0m1 2h0m1-3h0m2 3h0m10 2h0m11-1h0m3-1h0m2-1h0m5 1h0m6 1h0m7-1h0m7 2h0m20-2h0m2-3h0m86 1h0m5 2h0m39 2h0m3-2h0m6 1h0m3 1h0m1-4h0m4 3h0m7 0h0m6 2h0m1-2h0m6 0h0m3 0h0m7-1h0m5 1h0m14-2h0m11 4h0m0-1h0m2-3h0m2 3h0m34-5h0m1 5h0m1-3h0m8 1h0m7 0h0m3-3h0m10 1h0m9 4h0m15 1h0m9-3h0m2 0h0m6 3h0m3-3h0m4 1h0m26-3h0m2 4h0m3 0h0m8 0h0m25-1h0m52-2h0m7 0h0m6-1h0m89 1h0m2 2h0m4-4h0m8 1h0m1 0h0m20 2h0m3-1h0m11 3h0m8-4h0m-684 10h0m4-4h0m1 3h0m3-1h0m2 3h0m4-5h0m7 1h0m1-1h0m12 1h0m6 3h0m5 0h0m4-3h0m0 3h0m2 0h0m4 0h0m1-3h0m26 2h0m109-2h0m20 2h0m39-4h0m20 1h0m6 3h0m12-2h0m0 0h0m13 0h0m3-1h0m6-1h0m9 4h0m4-2h0m0-1h0m17 1h0m7 3h0m1 0h0m3-4h0m7 3h0m1-3h0m3 5h0m6-1h0m8-3h0m7 3h0m2-4h0m7 2h0m6-1h0m6 0h0m5-1h0m15 1h0m0 4h0m52-5h0m16 2h0m18-1h0m58 1h0m68 0h0m5 1h0m15-2h0m1 2h0m6-2h0m2 4h0m1-6h0m0 3h0m1-1h0m7 0h0m6-2h0m-679 8h0m4 3h0m5 1h0m3-3h0m4-1h0m1 2h0m8-2h0m3 3h0m11-3h0m2 2h0m14-1h0m17-2h0m11 1h0m124-2h0m33 1h0m78 3h0m21-3h0m9-1h0m14 3h0m53-3h0m11 6h0m6-4h0m25-1h0m4 3h0m39 0h0m6 0h0m18-1h0m10-3h0m29 2h0m9 0h0m9 0h0m8 4h0m54 0h0m2-3h0m5 3h0m2-5h0m15 3h0m6 0h0m10-1h0m2-1h0m5 0h0m1 3h0m3-3h0m-700 7h0m2-1h0m12 4h0m0-2h0m8-3h0m4 2h0m2 1h0m5-3h0m12 4h0m3 0h0m3-1h0m0-2h0m10 0h0m245 2h0m52 1h0m1-3h0m20-1h0m6 0h0m43 1h0m26 4h0m10-5h0m1 3h0m15 0h0m82 2h0m11-5h0m11 3h0m14 1h0m20-3h0m12 1h0m22 2h0m5 1h0m2-3h0m0 2h0m6-1h0m5-1h0m6 2h0m10-5h0m1 5h0m2-3h0m13 0h0m-700 9h0m2-1h0m1 2h0m3-3h0m2 0h0m2 0h0m5-2h0m1 3h0m8-1h0m1 0h0m4-1h0m5 3h0m5 0h0m10-1h0m2-2h0m5 1h0m3-1h0m1 1h0m304-2h0m19 3h0m26-4h0m2 2h0m69 4h0m2-6h0m11 2h0m97-2h0m7 3h0m7-2h0m15 2h0m31-1h0m13 3h0m2-1h0m6-1h0m7 2h0m9-3h0m3 2h0m6-1h0m7 1h0m-718 7h0m16 0h0m1-4h0m3 4h0m1-3h0m4-1h0m8 4h0m13 0h0m3 1h0m4-3h0m10 2h0m0-3h0m3 3h0m293-3h0m73-1h0m9 1h0m47 0h0m3 0h0m39-1h0m8-1h0m4 4h0m3-2h0m37 4h0m6-3h0m36-2h0m13 4h0m10 0h0m1-3h0m6 2h0m22 0h0m7 0h0m8 0h0m7-3h0m1 2h0m7 0h0m6 2h0m5-4h0m-702 10h0m7-2h0m3-1h0m4 4h0m3-3h0m11-2h0m4 3h0m2 1h0m9 1h0m12-3h0m2 3h0m14-4h0m15 0h0m121 0h0m132 3h0m71-4h0m3 4h0m18 0h0m10-3h0m8 2h0m2-4h0m21 5h0m40-3h0m4-2h0m40 2h0m22-1h0m71 4h0m6-4h0m7 3h0m3 1h0m2-2h0m2 2h0m7 0h0m4 0h0m3-4h0m0 4h0m7-3h0m1 2h0m0 0h0m3 1h0m4-4h0m-702 7h0m20 0h0m6 1h0m17 3h0m4-4h0m6-1h0m18 4h0m134-3h0m4-1h0m212-1h0m15 4h0m1-3h0m5 1h0m27-2h0m3 2h0m16 2h0m17 0h0m11 2h0m31-4h0m15 4h0m22-1h0m7-2h0m22-1h0m8 3h0m12-3h0m6 2h0m3-3h0m12 2h0m5 0h0m6 2h0m2-3h0m4 0h0m0-1h0m10 2h0m0 3h0m6 0h0m0-3h0m-675 6h0m3 1h0m5-2h0m3 2h0m13-2h0m4-1h0m2 4h0m1-3h0m4 2h0m3 1h0m14-4h0m13 2h0m3-3h0m3 1h0m334 2h0m31 0h0m27 0h0m38 0h0m19 3h0m13-4h0m14 1h0m15 3h0m44-3h0m43 1h0m5 0h0m1-3h0m7 3h0m4 1h0m9 1h0m4-5h0m4 0h0m-704 10h0m1-3h0m5 2h0m9 0h0m22 0h0m21 0h0m7-2h0m4-1h0m5 2h0m6 0h0m146 3h0m2-1h0m8 0h0m0-3h0m5 2h0m0-3h0m2 1h0m2 2h0m5-3h0m2 5h0m11-1h0m8-1h0m197-2h0m31 1h0m4 0h0m40-2h0m22 0h0m36 3h0m35-2h0m12 0h0m22 0h0m2 3h0m1-1h0m4-4h0m2 3h0m1 3h0m1-3h0m4 3h0m9-2h0m0-2h0m-695 6h0m1 2h0m2-3h0m0 2h0m11 1h0m2 1h0m2-5h0m0 1h0m5 2h0m5 1h0m9 0h0m7-4h0m7 0h0m10 3h0m17 1h0m2-3h0m9 3h0m43 0h0m105 0h0m9 0h0m0-3h0m9-1h0m18 5h0m14-3h0m3 3h0m31 0h0m154-1h0m9-1h0m195-1h0m1 4h0m5-1h0m18 0h0m-694 3h0m5 3h0m8-5h0m3 2h0m3 1h0m4-1h0m10 2h0m2-3h0m3 3h0m15 1h0m6-1h0m11 2h0m8-3h0m4 0h0m3-1h0m131 4h0m3-4h0m5 2h0m2-3h0m0 2h0m2-2h0m7 2h0m2-2h0m1 0h0m7 2h0m22 0h0m20-3h0m14 2h0m17 2h0m339-3h0m5-1h0m21 2h0m-690 8h0m3 0h0m18 1h0m5-4h0m4 5h0m4-4h0m13 1h0m0 2h0m3 1h0m2-2h0m1-3h0m7 3h0m4 0h0m6 0h0m5 1h0m4-3h0m11-1h0m4 2h0m130 1h0m2-3h0m5 0h0m3 4h0m4 0h0m2-3h0m4-2h0m9 0h0m6 1h0m2-1h0m61 2h0m3 4h0m111-3h0m18-1h0m-456 8h0m10-1h0m4-2h0m1 3h0m9 0h0m5-3h0m3 3h0m3-1h0m2 0h0m1-2h0m8 0h0m7-1h0m1 5h0m5-4h0m21 1h0m1-1h0m14 3h0m13 1h0m123-5h0m6 3h0m5-2h0m3 2h0m4-1h0m1-1h0m76-1h0m122 4h0m-432 4h0m52-1h0m4 0h0m39 2h0m131-2h0m8 3h0m77-2h0m130 2h0m-451 2h0m18 6h0m7-3h0m2 3h0m12-6h0m14 2h0m3-2h0m8 6h0m6-3h0m18-2h0m5 3h0m8-1h0m3-2h0m1 4h0m120-4h0m0 3h0m13 0h0m5-4h0m2 2h0m20 2h0m48 2h0m10 0h0m143-4h0m-466 10h0m9-2h0m1-3h0m7 4h0m2-3h0m15 1h0m12 3h0m3-2h0m7-4h0m5 5h0m15 0h0m3 1h0m3-1h0m6 1h0m3-4h0m5 2h0m2-1h0m4-3h0m0 5h0m5-5h0m164 3h0m45 1h0m-312 4h0m1-2h0m18 2h0m7-1h0m5 4h0m2-4h0m3 0h0m4 4h0m3-2h0m12 2h0m23 0h0m6-2h0m5-2h0m2 4h0m11-3h0m92 3h0m26-5h0m92 3h0m2-1h0m7 0h0m-313 6h0m3-2h0m3 4h0m7-3h0m4 2h0m16 2h0m16-1h0m1-2h0m7 1h0m2 1h0m6-3h0m1 4h0m24-3h0m4 0h0m5-1h0m14-1h0m9 4h0m3 1h0m43 0h0m29-3h0m26-1h0m15 3h0m3 0h0m50-1h0m14 0h0m-278 7h0m3 1h0m6 0h0m18-3h0m9-1h0m9 3h0m4 1h0m13-1h0m78-2h0m17 1h0m101 3h0m3-5h0m9 1h0m2 2h0m2-3h0m3 2h0m13 2h0m-305 3h0m11 1h0m2-1h0m7 2h0m5-2h0m8 2h0m9 0h0m3 0h0m4 1h0m2 0h0m3-3h0m3 2h0m5-3h0m5 2h0m11 3h0m26-4h0m47-1h0m1 4h0m9-1h0m8 2h0m42-6h0m1 1h0m53-1h0m1 1h0m2 0h0m9 5h0m3-1h0m1-2h0m5 2h0m1-3h0m11 2h0m7-3h0m-274 6h0m3 3h0m2-4h0m28 5h0m2-4h0m1 1h0m14 1h0m11 2h0m2-2h0m4-2h0m33 3h0m1-4h0m10 5h0m2 0h0m54 0h0m64-4h0m17-1h0m24 2h0m-297 4h0m6 4h0m6-2h0m4 1h0m3 2h0m41 0h0m3-3h0m0 1h0m34 1h0m13-2h0m7-1h0m37 4h0m5 0h0m1 0h0m1-3h0m5 1h0m66-1h0m30 0h0m39-1h0m-267 8h0m6 0h0m52-1h0m9-2h0m149 1h0m3 2h0m19 2h0m16-2h0m4 3h0m22-3h0m13 1h0m-303 4h0m3 0h0m59 3h0m2-1h0m15 2h0m14-2h0m32-3h0m161 4h0m-187 4h0m216 3h0m-223 5h0m221-4h0m-235 9h0m3-2h0m13 2h0m2 3h0m1 4h0m185-4h0m-186 10h0m5-2h0m5 1h0m1-1h0m6 2h0m304-1h0m-314 3h0m7 4h0m42-3h0m5 1h0m79 0h0m-113 12h0m129 2h0m-115 3h0m-6 5h0m116 4h0m153 0h0m-294 6h0m3-1h0m31-2h0m92 0h0m143-1h0m20 2h0m15-1h0m2 2h0m0 0h0m15 1h0m-317 4h0m34-3h0m47 6h0m2-4h0m1 1h0m51 2h0m150-3h0m6 2h0m0-2h0m3 3h0m5 0h0m6 0h0m-303 4h0m62-1h0m22 4h0m14-5h0m40-1h0m113 3h0m4 2h0m3-2h0m13-1h0m1 4h0m4-3h0m2 2h0m30 1h0m-310 3h0m4 0h0m1 1h0m45 0h0m34 2h0m12-4h0m13 3h0m18-5h0m13 2h0m9-2h0m16 3h0m91-1h0m1 1h0m2 0h0m12 2h0m10 0h0m0-4h0m3 1h0m6 3h0m-273 2h0m16 0h0m13 5h0m14-4h0m3 1h0m9 1h0m17 2h0m8-1h0m0-5h0m8 6h0m9-5h0m0 3h0m2-4h0m3 2h0m4-2h0m148 1h0m8 2h0m-273 5h0m1 0h0m8 3h0m8-1h0m1-1h0m4-2h0m4 1h0m5 0h0m2-1h0m6 3h0m0-3h0m3 3h0m1-1h0m4 3h0m4-1h0m2-3h0m8-1h0m9 0h0m4 4h0m3-1h0m21 1h0m2 0h0m14 1h0m11-3h0m2 3h0m13-5h0m2 0h0m18 3h0m95-4h0m1 3h0m17-2h0m12 0h0m8 1h0m5 2h0m-284 8h0m1-4h0m4 2h0m6 2h0m3-3h0m6-1h0m19-1h0m3-1h0m0 0h0m13 0h0m10 1h0m6 4h0m23 0h0m40-3h0m6 0h0m16 3h0m6-4h0m112 2h0m13 0h0m-295 4h0m2 1h0m3 2h0m3 0h0m16-1h0m4 0h0m11 2h0m2-4h0m5 1h0m10 1h0m2-1h0m5-1h0m15 4h0m3-4h0m18 4h0m5-3h0m21 4h0m21-3h0m131 3h0m1-1h0m3-3h0m8-1h0m-284 8h0m21 2h0m4-2h0m1 2h0m2-3h0m21-1h0m8 3h0m27-3h0m0 5h0m13-6h0m21 0h0m7 4h0m149-3h0m-263 9h0m8-3h0m5 1h0m5-1h0m3 4h0m22 0h0m35-3h0m30 1h0m1 0h0m6 0h0m7 1h0m115 2h0m7-1h0m24 1h0m21-5h0m-304 10h0m4 0h0m7-2h0m2 1h0m2 0h0m4 0h0m8-3h0m23 3h0m7-2h0m19 1h0m63-2h0m1 2h0m128-2h0m6 5h0m5-2h0m1-3h0m5 0h0m2 0h0m4 2h0m3 2h0m0-4h0m3 1h0m0-2h0m5 2h0m-301 6h0m5-2h0m11 4h0m3-4h0m3 4h0m20-1h0m8 1h0m7 2h0m6-2h0m1-1h0m9-2h0m20 2h0m30 0h0m9-3h0m3 2h0m127 2h0m5-3h0m5 1h0m10 1h0m0 1h0m2-4h0m4 1h0m8 3h0m4 1h0m-294 3h0m8 3h0m0-4h0m18 0h0m2 3h0m1-4h0m1 2h0m4 1h0m4 2h0m2-2h0m14-1h0m14-1h0m15 3h0m8 0h0m11 0h0m7 0h0m3-1h0m1-1h0m19 2h0m127-2h0m14 4h0m1-4h0m7 1h0m0 0h0m13-3h0m-260 7h0m3 5h0m5-4h0m3 0h0m1-2h0m0 2h0m4 4h0m17-4h0m18 3h0m3-4h0m9 1h0m8 0h0m6-1h0m9 4h0m3-3h0m146 1h0m-270 7h0m5-2h0m0 2h0m6-2h0m4 2h0m1-4h0m1 2h0m3 1h0m11 0h0m17 0h0m1-1h0m12 2h0m21 0h0m9 1h0m2 0h0m13 0h0m5-2h0m7 2h0m1-4h0m-113 7h0m1 2h0m11-1h0m8 1h0m1 0h0m5-1h0m3 0h0m5 2h0m3-5h0m17 6h0m6-5h0m4 3h0m2-3h0m11 4h0m2-4h0m8 4h0m4-4h0m5 4h0m6-2h0m3 1h0m2-2h0m-95 8h0m1-4h0m3 1h0m2 3h0m2-3h0m7 2h0m0 1h0m9 2h0m4-2h0m0 1h0m1-2h0m32 0h0m2 1h0m-68 3h0m6 4h0m13-3h0m2-2h0m8 4h0m11-2h0m2 3h0m14-5h0m11 5h0m44-4h0m-83 10h0m6-2h0m6 1h0m4-2h0m23 1h0m14 0h0m13 0h0m16 1h0m-88 4h0m3 1h0m3-3h0m3 4h0m1-3h0m12 2h0m3 2h0m3-2h0m6 2h0m3-2h0m30 1h0m1 1h0m6-2h0m7 1h0m0-3h0m5 2h0m4-2h0m-93 5h0m2 4h0m7-1h0m12-1h0m6 2h0m9 0h0m31 1h0m10-4h0m5 4h0m4-4h0m-80 5h0m3 6h0m3-4h0m2 3h0m19-3h0m6 4h0m3-2h0m6-1h0m7-2h0m4-1h0m8 4h0m8-3h0m9 1h0m-67 5h0m1 3h0m3 1h0m3-4h0m7 2h0m2-3h0m5 3h0m31 3h0m-46 1h0m21 2h0m13 3h0m4-1h0m5-3h0m8 2h0m-47 7h0m27-1h0m8 0h0m4-1h0m13 1h0m-50 4h0m4 4h0m6-6h0m11 1h0m1 4h0m-11 4h0" stroke="#4393C3"/>
<path d="M1837 72h0m5 1h0m17 1h0m-384 5h0m259 1h0m5-2h0m8 2h0m64-5h0m43 1h0m16 0h0m1 2h0m-137 8h0m15-4h0m8 4h0m13-1h0m2-4h0m12 3h0m13 0h0m15 3h0m16-2h0m17 1h0m1 1h0m26-2h0m2-2h0m1 3h0m-200 5h0m1-2h0m5 2h0m22-3h0m7 5h0m12 0h0m12-2h0m5-2h0m4-1h0m44 1h0m4 4h0m37-5h0m4 3h0m3 2h0m3-2h0m12-3h0m0 4h0m9-1h0m9-2h0m3 4h0m10-3h0m5-1h0m4 2h0m17 1h0m-252 6h0m3-4h0m1 4h0m4-4h0m2 2h0m7-3h0m11 3h0m4 1h0m6-1h0m4-2h0m3 0h0m7 4h0m2-5h0m3 4h0m1 2h0m25-4h0m6 1h0m3 2h0m0-5h0m5 1h0m2 2h0m6-1h0m2 0h0m44 1h0m9 2h0m12-4h0m3 2h0m27 2h0m4-5h0m4 6h0m19-4h0m9 0h0m3-1h0m-479 9h0m218 2h0m2-1h0m11-2h0m20-2h0m10 3h0m19 0h0m8-4h0m12 5h0m2-4h0m2 3h0m12-3h0m14 4h0m1-4h0m3 0h0m31 2h0m7-1h0m9 4h0m11-4h0m1 1h0m4 3h0m19-5h0m2 4h0m8-5h0m1 1h0m3 2h0m23 2h0m6-4h0m8 1h0m9-1h0m15 0h0m-493 7h0m41 3h0m169-1h0m11-3h0m10 3h0m3 1h0m11 0h0m0-3h0m1 2h0m4 1h0m10 0h0m3-4h0m2 5h0m1-5h0m10-1h0m12 1h0m0 3h0m4 1h0m5-2h0m3-3h0m7 1h0m24 1h0m47 0h0m12 2h0m4-2h0m2 2h0m5 2h0m10-5h0m4 3h0m10 1h0m9-3h0m4 3h0m14-3h0m12-1h0m4 0h0m5 1h0m10-2h0m2 4h0m1-3h0m2 4h0m1-4h0m4 3h0m3-4h0m-490 11h0m202-3h0m9 1h0m3-3h0m7 1h0m4 0h0m2 2h0m0 1h0m5 1h0m9-5h0m4 3h0m4 3h0m3-2h0m12 1h0m8 0h0m3-5h0m5 1h0m29 2h0m3 0h0m5 0h0m5 0h0m12 1h0m24 0h0m0-3h0m15 3h0m4 2h0m23-3h0m3-3h0m7 1h0m18 5h0m13-1h0m7-3h0m2 3h0m2-4h0m4 1h0m8-1h0m1-1h0m16 6h0m4-5h0m17 3h0m-459 7h0m152-3h0m23 0h0m3-1h0m2 4h0m1 0h0m5-4h0m7-1h0m6 1h0m2 0h0m6 1h0m4 1h0m25 0h0m0-3h0m2 6h0m6-4h0m15 3h0m12-1h0m13-1h0m11-1h0m9 2h0m2-3h0m38 3h0m15-3h0m22 4h0m10-2h0m13 0h0m0-1h0m28 3h0m6-5h0m4 4h0m12 1h0m-321 7h0m1-4h0m8 2h0m3 0h0m4-2h0m1 4h0m12-5h0m8 1h0m15 1h0m7-3h0m2 0h0m46 2h0m2 2h0m2-3h0m9 5h0m26-1h0m5 1h0m8-1h0m23 1h0m8-4h0m14 4h0m11-1h0m2-1h0m9 0h0m18 0h0m7-2h0m4-2h0m17 3h0m4-2h0m4 3h0m23 1h0m9-3h0m-311 6h0m0 2h0m16-2h0m4 0h0m2-2h0m6 0h0m68 3h0m85 0h0m1-2h0m8 1h0m0-2h0m1 6h0m36 0h0m30-5h0m6 2h0m11-3h0m7 5h0m7-4h0m2 2h0m1 2h0m3-4h0m1 4h0m1-3h0m21 0h0m4-2h0m3 4h0m-328 4h0m7-1h0m1-1h0m91 0h0m33 3h0m33 1h0m3 2h0m24-5h0m7 0h0m7 3h0m7 0h0m1-4h0m6 2h0m15 0h0m14 0h0m1-2h0m7 1h0m5 0h0m10 1h0m2 2h0m11-2h0m9 2h0m4-3h0m6 4h0m2-4h0m6 5h0m6-4h0m9 3h0m2-4h0m5 0h0m3-1h0m-240 8h0m14 3h0m12-2h0m2-2h0m13 0h0m15-1h0m14 6h0m5-1h0m3-5h0m8 1h0m1 3h0m10 0h0m27-2h0m14 4h0m39-4h0m14 3h0m27-1h0m0-4h0m5 2h0m0-2h0m3 0h0m2 6h0m2-4h0m12 3h0m-329 7h0m89-5h0m31-1h0m16 5h0m1-4h0m12 3h0m1 0h0m1-3h0m1 2h0m2-2h0m12 0h0m18 2h0m7-2h0m6 2h0m15-1h0m2 4h0m7-5h0m2 2h0m10 0h0m12-2h0m2 1h0m1 3h0m11-5h0m2 2h0m18 1h0m3-3h0m12 1h0m2 1h0m4 1h0m6-2h0m5 0h0m1-1h0m-491 9h0m150 1h0m134-2h0m22-1h0m27 4h0m9-1h0m3-3h0m3 2h0m7-1h0m34 4h0m3-4h0m30-1h0m11 4h0m6-2h0m4 0h0m7-2h0m5 0h0m13 3h0m3 1h0m8-1h0m1-3h0m4 4h0m1-2h0m3-3h0m6 5h0m2 0h0m7 1h0m5-1h0m0-4h0m-221 10h0m19-4h0m1 1h0m6 4h0m20-5h0m20 3h0m15 2h0m37-5h0m7 0h0m0 5h0m3-1h0m15-4h0m2-1h0m19 2h0m2-2h0m0 4h0m1-3h0m7 0h0m1 4h0m7-4h0m1 4h0m2 0h0m3-2h0m5 1h0m4-2h0m13 0h0m3 0h0m0 1h0m5-1h0m-411 6h0m176-1h0m45 2h0m13-2h0m20 4h0m11-2h0m0-2h0m13-1h0m7 5h0m6 1h0m4-3h0m16-3h0m1 4h0m14-3h0m3 3h0m1 0h0m26-2h0m6 3h0m7-4h0m4 2h0m6-3h0m5 0h0m0 4h0m4-2h0m13 2h0m3-1h0m2-1h0m1 2h0m4-3h0m1 0h0m-271 9h0m56-3h0m25 3h0m2-2h0m9 1h0m15 3h0m7-4h0m7 3h0m8-2h0m0-1h0m4-1h0m7 0h0m9 4h0m4-5h0m8 3h0m5-1h0m9 4h0m1-4h0m10-2h0m1 1h0m5 4h0m8-1h0m4-2h0m3-1h0m3 5h0m2-6h0m2 5h0m1-3h0m0 2h0m3-3h0m1 4h0m6 0h0m5-3h0m1-1h0m12 4h0m1 0h0m2-4h0m10 4h0m3-3h0m15-1h0m-611 7h0m204 3h0m96 0h0m108 1h0m11-2h0m9-1h0m12 2h0m0 1h0m21-6h0m1 5h0m3-3h0m9 1h0m4-1h0m4 2h0m3-2h0m2 2h0m23-4h0m2 3h0m12-1h0m23 2h0m4 1h0m1-2h0m3 1h0m18-2h0m2 2h0m2 0h0m6-1h0m2 0h0m13 1h0m5 0h0m5-1h0m-565 9h0m3 0h0m308-5h0m13 5h0m15-5h0m5 2h0m8 0h0m14 3h0m5-4h0m4 1h0m2 2h0m1-5h0m1 1h0m10 5h0m14-2h0m7-3h0m23 4h0m29-4h0m0 3h0m3-4h0m5 4h0m5-1h0m4-1h0m2 2h0m3 0h0m4-1h0m2-3h0m8 1h0m4 1h0m2 2h0m10 2h0m0-6h0m3 1h0m12 4h0m7 1h0m1 0h0m6-5h0m7 2h0m7 2h0m2-4h0m0 5h0m1-2h0m-618 6h0m60-1h0m0 3h0m2-2h0m24-4h0m236 2h0m11 2h0m7-4h0m26 2h0m10 1h0m4 0h0m2 2h0m14-5h0m5 1h0m33 4h0m1-1h0m0-4h0m19 2h0m17 3h0m9 0h0m4 0h0m1-4h0m26 0h0m5 2h0m5-2h0m14 3h0m13 1h0m3 0h0m6-4h0m4 5h0m5 0h0m4-5h0m1 5h0m7-1h0m3-1h0m0-2h0m12 0h0m9 1h0m5 3h0m7-5h0m1 1h0m3 1h0m-618 7h0m0-1h0m4 1h0m2-3h0m11 3h0m13 1h0m4-1h0m10 0h0m8-1h0m3 2h0m9-2h0m8 2h0m2-4h0m3 3h0m228 0h0m20-4h0m2 1h0m3 1h0m4 3h0m0-3h0m4 1h0m6-3h0m2 6h0m2-6h0m18 2h0m3 1h0m5 0h0m3-2h0m5 4h0m18 0h0m38-2h0m5-2h0m7 4h0m12-2h0m8-1h0m2 3h0m5-1h0m9-1h0m5 0h0m16 0h0m0 2h0m5-1h0m0-2h0m7-1h0m1 2h0m2-3h0m1 3h0m1-2h0m8 4h0m3-3h0m12 2h0m8-3h0m6 2h0m17 0h0m10-2h0m3-1h0m5 3h0m0 0h0m3 3h0m4 0h0m4-5h0m4-1h0m7 5h0m2 1h0m-630 5h0m4-1h0m3 1h0m2-3h0m5-1h0m0 5h0m4-2h0m17 0h0m8 1h0m6-1h0m10 2h0m1-5h0m4 5h0m8-1h0m4 0h0m5-1h0m0-2h0m75 2h0m61 1h0m117-1h0m1-2h0m7-2h0m8 6h0m0-6h0m1 4h0m7-4h0m5 4h0m8-4h0m8 1h0m3 0h0m2 1h0m1 4h0m7-1h0m16-3h0m15 0h0m23-1h0m17 5h0m28-6h0m4 1h0m3 4h0m4-5h0m2 5h0m8-3h0m7 0h0m8 3h0m0 0h0m2 0h0m3-4h0m2 4h0m5-5h0m1 5h0m20-4h0m6 4h0m2-3h0m5 0h0m0-1h0m7 5h0m3 0h0m1-2h0m3-2h0m4 1h0m5 2h0m3-2h0m8-3h0m10 0h0m2 5h0m4 0h0m-639 7h0m3-1h0m6-2h0m4 1h0m7-3h0m6 0h0m2 2h0m3 3h0m1-2h0m3 0h0m0-1h0m9-3h0m0 2h0m6 4h0m0-2h0m3-2h0m9-1h0m0 5h0m5-5h0m3 2h0m2-1h0m9 2h0m4 0h0m3-1h0m3-1h0m49 4h0m186-1h0m11 1h0m2-1h0m7-1h0m16-1h0m4 1h0m6-3h0m7 1h0m2-2h0m5 3h0m3-1h0m9 1h0m35 1h0m2-2h0m48 2h0m15-4h0m0 2h0m11 0h0m6 0h0m4 0h0m14 3h0m1-4h0m10 2h0m4-1h0m18 0h0m5 4h0m1 0h0m5-5h0m1 4h0m18-3h0m2 0h0m2-1h0m3 3h0m13-2h0m0 3h0m1 0h0m17-1h0m0-4h0m1 1h0m9 5h0m-659 0h0m3 3h0m1-1h0m18-2h0m5 3h0m4-1h0m4 3h0m12-3h0m8 2h0m3 0h0m7 1h0m3-1h0m4 1h0m8-3h0m7 3h0m1-3h0m5 3h0m0-3h0m1-1h0m4 2h0m0 1h0m3-1h0m159-2h0m99 4h0m6-1h0m15-4h0m3 2h0m1 2h0m5 1h0m3-2h0m5 2h0m5-4h0m2 1h0m6 3h0m1-5h0m6 5h0m4 0h0m0-2h0m6 1h0m3-2h0m0 0h0m8-1h0m0 2h0m3-2h0m3 2h0m36 2h0m1-2h0m27 3h0m2-3h0m5 1h0m2-2h0m4 4h0m1-5h0m7 1h0m1 4h0m3-3h0m6 1h0m11 0h0m13-1h0m1-2h0m1 4h0m5-5h0m2 6h0m4-4h0m14-1h0m7 3h0m2 2h0m6-6h0m2 4h0m5-1h0m6 0h0m21 1h0m1 1h0m2 0h0m2-1h0m15-2h0m-650 9h0m0-3h0m5-1h0m0 5h0m3-5h0m4 3h0m5-1h0m0-2h0m3 1h0m1 3h0m2-5h0m1 4h0m6-1h0m6-3h0m8 0h0m7 1h0m0 3h0m4-1h0m6-2h0m1 2h0m8 0h0m82-3h0m199 4h0m3 1h0m3-2h0m10 2h0m18-1h0m10-3h0m9 0h0m5 3h0m3-2h0m6 1h0m4 1h0m1-2h0m5-1h0m34 4h0m27-1h0m2 1h0m3-2h0m6 2h0m4-4h0m6 2h0m22 1h0m3-2h0m7-1h0m5 0h0m2 4h0m8-3h0m4 0h0m0-2h0m2 4h0m4-4h0m7 4h0m3-2h0m10 1h0m5-3h0m3 1h0m1-1h0m1 5h0m9-4h0m1 5h0m5-6h0m0 6h0m2-3h0m8-1h0m6 2h0m1-2h0m12-2h0m3 3h0m-642 7h0m4-3h0m4 1h0m2 3h0m3-5h0m3 6h0m11-5h0m1 4h0m6-3h0m2 1h0m9-1h0m2 2h0m16-1h0m3-2h0m2 4h0m7 0h0m9-2h0m255-1h0m13-2h0m3 3h0m5 2h0m3-4h0m31-1h0m4 6h0m2-5h0m4 4h0m5-1h0m1 2h0m2-2h0m0 2h0m4-4h0m6 0h0m19-1h0m19 1h0m4 1h0m1-2h0m7 0h0m0-1h0m11 3h0m2 1h0m3-1h0m9 0h0m3-2h0m1 3h0m4-1h0m9 2h0m3-3h0m6-1h0m10 4h0m4-4h0m1 3h0m5 1h0m13-1h0m1-2h0m6 0h0m6-1h0m9 0h0m8 1h0m4 3h0m5-3h0m9 3h0m4-5h0m0 6h0m11-6h0m1 1h0m43 3h0m-669 2h0m5 3h0m4 0h0m0-2h0m10 2h0m7 2h0m1-4h0m1-1h0m3 2h0m2 0h0m9 0h0m3 1h0m2-1h0m1 2h0m11 0h0m1 1h0m3-4h0m2 1h0m1 3h0m4-3h0m7-1h0m2 1h0m24 1h0m16-1h0m28 1h0m190-2h0m15-1h0m2 2h0m3 2h0m4-2h0m5 1h0m1-2h0m1 1h0m16-2h0m4 4h0m2 1h0m3-4h0m0 4h0m21-3h0m27 3h0m3 0h0m7-4h0m21 2h0m6 2h0m3-1h0m3-2h0m1 0h0m8 3h0m3-3h0m6 2h0m1-4h0m6 2h0m6-1h0m7 4h0m12-2h0m4-1h0m10 3h0m6-2h0m0-2h0m3 1h0m5 4h0m4-6h0m8 1h0m1 4h0m6 1h0m3-3h0m4-1h0m2-1h0m7 2h0m7-1h0m3-2h0m6 3h0m6 0h0m4-2h0m-623 9h0m3-1h0m1 2h0m6-4h0m2 0h0m2 4h0m2-1h0m2 0h0m1-2h0m1 3h0m7 0h0m4-5h0m10 4h0m1-4h0m4 5h0m1-2h0m4 1h0m5 1h0m3-2h0m3-1h0m7-2h0m25 3h0m2 2h0m50 0h0m22-2h0m205 3h0m1-5h0m8 2h0m11-1h0m10 2h0m13 1h0m23-3h0m7 1h0m24-1h0m6 0h0m3 3h0m9 1h0m16-4h0m1 0h0m7-1h0m12 2h0m1-2h0m12 0h0m5-1h0m4 5h0m10-3h0m14 1h0m2-1h0m1 3h0m3-2h0m1-2h0m0 4h0m6 0h0m6-1h0m1-3h0m6 2h0m7-1h0m8 2h0m3-2h0m42 2h0m-656 5h0m6-3h0m17 2h0m5-2h0m2 6h0m0-4h0m17 0h0m4 0h0m9 3h0m26-3h0m6 0h0m49 3h0m95 0h0m132-1h0m109 1h0m4-2h0m8 2h0m2-2h0m5 3h0m2-6h0m10 4h0m7 0h0m12-1h0m5-2h0m8 4h0m22-3h0m3 3h0m8 0h0m4-2h0m2-1h0m2 0h0m6 4h0m8-3h0m3-3h0m1 2h0m20 0h0m17 1h0m1-1h0m-634 4h0m3 6h0m15-5h0m8-1h0m17 0h0m8 5h0m29-4h0m21 4h0m63-4h0m3 3h0m165-1h0m6 0h0m7 2h0m78 0h0m58-4h0m0 0h0m6 2h0m6 0h0m2-2h0m6 4h0m7-1h0m1-2h0m2-1h0m16 2h0m7 1h0m3-1h0m8 1h0m10 2h0m5-5h0m2 2h0m2 3h0m0-6h0m10 1h0m11 3h0m5-3h0m40-1h0m6 5h0m8 1h0m-635 1h0m11 2h0m84 2h0m62-4h0m320 0h0m4 1h0m6 2h0m3-1h0m3 0h0m1-1h0m3 2h0m4-4h0m2 3h0m7-1h0m6 3h0m3-2h0m1 0h0m20 2h0m0 1h0m2-5h0m75 1h0m2 0h0m4 4h0m-638 0h0m28 4h0m3 1h0m49-3h0m15-2h0m68 5h0m41 0h0m168 0h0m128-4h0m4 3h0m13-2h0m9 2h0m7-3h0m0 5h0m4-6h0m33 4h0m2-2h0m24 2h0m34 0h0m13 1h0m8-4h0m-543 7h0m35 3h0m3 1h0m355-5h0m10 0h0m39 2h0m75-2h0m8 2h0m29-1h0m-636 7h0m17-1h0m4 0h0m13 2h0m13-4h0m2 0h0m4 1h0m452 4h0m95-1h0m21 2h0m11-3h0m-620 4h0m2 1h0m37 4h0m481-4h0m51 2h0m13 0h0m10-2h0m1 1h0m9-1h0m3 3h0m1-3h0m7 3h0m6 0h0m6-2h0m-644 4h0m26-1h0m62 3h0m316 1h0m115 0h0m87 0h0m10-1h0m7-1h0m-220 8h0m180-3h0m21 2h0m8 3h0m5-5h0m7 3h0m7-2h0m4 0h0m3 0h0m3-1h0m-566 7h0m19 0h0m43 2h0m217-1h0m41-1h0m2 3h0m199-3h0m11 2h0m9-2h0m8-1h0m7 4h0m1-4h0m11 3h0m-560 8h0m52-3h0m33 2h0m221 0h0m189 0h0m37-2h0m3 2h0m3-1h0m2-4h0m2 5h0m2 1h0m2-3h0m14 0h0m-555 4h0m10 5h0m43-4h0m8 0h0m16 0h0m203-1h0m6 4h0m208-1h0m8-3h0m3 4h0m4-3h0m5-1h0m0 3h0m5-1h0m6 3h0m10-1h0m3-2h0m5-2h0m9 0h0m-542 8h0m296 0h0m179 3h0m9-1h0m0-2h0m1 2h0m10-2h0m13-1h0m0 0h0m8 4h0m5-5h0m9 3h0m18-1h0m-268 4h0m8 3h0m12-3h0m1 1h0m156-1h0m3 2h0m5 1h0m16 0h0m7-1h0m5-2h0m1 0h0m3 3h0m4-3h0m4 5h0m46-5h0m-269 9h0m0-3h0m5 5h0m1-3h0m7 3h0m167-3h0m9 0h0m9 0h0m6 1h0m3 2h0m7 0h0m0-4h0m6 3h0m4-5h0m3 5h0m6 0h0m2-5h0m8 1h0m2 5h0m5-2h0m4-1h0m-314 5h0m46 1h0m183 3h0m5-1h0m11-1h0m5-2h0m0-1h0m14 2h0m4 2h0m2-2h0m5 1h0m1-3h0m7 2h0m10-1h0m5 4h0m23-6h0m2 4h0m3 2h0m1-2h0m4 0h0m3-2h0m-283 7h0m9 2h0m14-1h0m154 1h0m10-4h0m10-1h0m36 1h0m13 3h0m6-4h0m0 6h0m39-5h0m-284 8h0m169-3h0m1 4h0m8-3h0m2 0h0m12 3h0m3-1h0m6-2h0m12 0h0m6 4h0m0-3h0m9 0h0m1-1h0m2 4h0m0-2h0m4 0h0m4 0h0m10-1h0m11-2h0m4 0h0m11 3h0m7-1h0m1 3h0m-285 4h0m1 1h0m13-1h0m17-2h0m95 4h0m12 0h0m9-1h0m5 0h0m1-4h0m11 5h0m20 1h0m4-3h0m5 0h0m5-1h0m2 1h0m4 2h0m5-1h0m6 2h0m15-1h0m20-4h0m11-1h0m13 3h0m1-2h0m2 1h0m2 3h0m0 1h0m5-5h0m3 0h0m-141 11h0m0-5h0m9 0h0m13 0h0m5 0h0m2 4h0m6-2h0m14-1h0m2 0h0m3 1h0m15-3h0m5 1h0m10 4h0m2-4h0m4 1h0m8 2h0m5-4h0m6 5h0m1-4h0m9 3h0m21-4h0m5 3h0m-302 4h0m2 5h0m17-5h0m115 5h0m12-4h0m18-1h0m6 3h0m21-3h0m1 1h0m5-1h0m6 3h0m1-1h0m9 0h0m7 1h0m14-3h0m0 2h0m3-3h0m1 4h0m14-2h0m8 0h0m7 2h0m4 1h0m12-4h0m-290 8h0m30 0h0m19 0h0m82 0h0m7-1h0m9 2h0m2-4h0m1 1h0m1 4h0m4-4h0m5 0h0m3 0h0m7 2h0m17-1h0m27 3h0m2-2h0m16 1h0m8-2h0m2 3h0m3 0h0m1 0h0m13-1h0m3-2h0m27-1h0m7 0h0m3 1h0m3 3h0m3 1h0m-293 2h0m3 3h0m1-3h0m106 3h0m4 1h0m4-2h0m2 0h0m1-1h0m1-3h0m11 2h0m0 4h0m7 0h0m16-4h0m13 0h0m21 2h0m3 0h0m8-2h0m1 2h0m5-2h0m15 4h0m8-5h0m9 1h0m0 3h0m11 1h0m13-5h0m5 1h0m1 0h0m2 0h0m8 1h0m5 1h0m9 2h0m-199 5h0m4-4h0m2 4h0m4 0h0m3-1h0m6 1h0m8-3h0m8 0h0m1 3h0m6-4h0m6 1h0m5-1h0m32 4h0m6-4h0m4 3h0m4 0h0m12-1h0m19-2h0m20 0h0m1 4h0m2-1h0m6 0h0m9-1h0m2 2h0m1-2h0m5-3h0m2 1h0m3 4h0m7 0h0m-366 3h0m83-2h0m69 5h0m1 0h0m6-4h0m2 3h0m17-3h0m32 0h0m6 0h0m3 0h0m4 2h0m14-1h0m9 0h0m8 0h0m3 0h0m12 3h0m26-1h0m4 1h0m3-2h0m2 2h0m3-2h0m10-3h0m18 1h0m8 1h0m2 1h0m8 3h0m12-3h0m1 3h0m4-5h0m14 5h0m-235 0h0m9 0h0m1 3h0m5 2h0m17-4h0m17 3h0m2 0h0m51 0h0m13-2h0m10-2h0m0 2h0m24-1h0m12-1h0m3 4h0m25-3h0m0 2h0m2-2h0m8 3h0m7-1h0m13 0h0m8-2h0m6 2h0m7 0h0m-365 8h0m34-3h0m86-1h0m14 0h0m7-1h0m9 3h0m2-2h0m28-1h0m19 4h0m4 1h0m26-3h0m14 0h0m13 2h0m23-3h0m33 1h0m21-1h0m23 3h0m6 1h0m0-4h0m3 0h0m3 4h0m-395 4h0m50 3h0m78-6h0m20 6h0m9-6h0m29 2h0m22 2h0m13-1h0m13 3h0m18-2h0m6 0h0m32 0h0m12 1h0m0-2h0m6 3h0m2-4h0m76-1h0m6 4h0m-424 6h0m7-1h0m161-1h0m88 0h0m5 0h0m24-1h0m5 2h0m0-3h0m18 3h0m0-1h0m8-2h0m3 5h0m6-2h0m3-4h0m11 5h0m4-1h0m5-2h0m10 4h0m11-1h0m11 0h0m13-2h0m3 3h0m15-5h0m6 1h0m9 1h0m9 1h0m-417 3h0m32 4h0m100-1h0m1-2h0m57 2h0m4-3h0m22 2h0m9-3h0m28 1h0m4 1h0m20-1h0m10 0h0m37 3h0m1-1h0m12 2h0m10 0h0m10 1h0m9-4h0m4 0h0m35 4h0m3-2h0m-402 5h0m14 0h0m83 1h0m10 0h0m13-2h0m3 1h0m32 1h0m4-3h0m53 2h0m35 0h0m9 3h0m21-4h0m18 0h0m14 1h0m25 1h0m17 0h0m30-2h0m16 0h0m-348 8h0m50-1h0m4-3h0m6 0h0m8 2h0m0 4h0m18-3h0m4-1h0m4 3h0m37-3h0m29-1h0m8 0h0m23 5h0m1-3h0m7 0h0m5 0h0m9-2h0m1 0h0m1 4h0m27 0h0m11-2h0m1-3h0m12 2h0m20 1h0m10 2h0m2-3h0m8 3h0m10-5h0m6 4h0m1 0h0m-540 4h0m1 3h0m34 1h0m129 0h0m22 0h0m50-1h0m27 1h0m65-1h0m6-5h0m12 5h0m5-2h0m45-3h0m6 1h0m8 1h0m8 1h0m9-2h0m20 3h0m13-2h0m9 0h0m9 0h0m21 2h0m7 1h0m6-3h0m20 0h0m19 3h0m7-1h0m13 1h0m2-2h0m3 2h0m12 1h0m4-1h0m-582 2h0m9 0h0m129 1h0m29 3h0m59-2h0m9-2h0m83 3h0m5 0h0m34 2h0m10-6h0m6 4h0m4 2h0m18-2h0m2-2h0m11 3h0m0-1h0m40-2h0m9 3h0m9-4h0m10 2h0m13 2h0m6-3h0m3-1h0m93 1h0m-445 8h0m76-1h0m10-1h0m17-2h0m25 3h0m17 2h0m9-3h0m9 2h0m20 1h0m11 0h0m19-3h0m29-1h0m19 2h0m19 2h0m1-2h0m13-2h0m2 5h0m5-4h0m14-1h0m30 0h0m4-1h0m61 0h0m11 4h0m-587 7h0m38-3h0m208 2h0m9-1h0m23-2h0m21 0h0m20 0h0m27 0h0m15 1h0m36 0h0m15 2h0m5 1h0m2-4h0m14 3h0m26-3h0m21 5h0m13-1h0m3-2h0m12 2h0m37-2h0m77-1h0m-599 8h0m34-4h0m123 5h0m11-3h0m47 2h0m6-2h0m9 2h0m5-3h0m19 5h0m5-5h0m28 1h0m3 4h0m8-2h0m18-1h0m3 3h0m6-1h0m6 1h0m19-5h0m9 0h0m47 3h0m15-4h0m6 3h0m3-2h0m27 5h0m5-2h0m97-3h0m10 3h0m4-3h0m17 2h0m7-1h0m10-2h0m5 4h0m8 0h0m13 1h0m-618 6h0m129-2h0m12 0h0m90 1h0m6-1h0m12 0h0m36 0h0m27-1h0m13 2h0m18-1h0m10 0h0m11-3h0m23 0h0m23 3h0m129 1h0m2-2h0m58 1h0m-628 9h0m27-5h0m165 1h0m13 1h0m37-2h0m15 4h0m17-2h0m23-3h0m13 4h0m8-1h0m15-2h0m5 3h0m16-3h0m48 4h0m14-2h0m0-3h0m14 1h0m11-1h0m43 3h0m38 3h0m34-4h0m32 0h0m12 1h0m6-2h0m10 2h0m36 3h0m-619 1h0m10 4h0m27-2h0m125 1h0m13-3h0m43 0h0m24 1h0m15-1h0m28-1h0m5 0h0m12 3h0m14 0h0m35 0h0m15-2h0m4 4h0m0-3h0m5 2h0m6 1h0m67-4h0m51 1h0m4 1h0m13 1h0m44 0h0m27-4h0m36 5h0m-622 2h0m243 2h0m19 0h0m4-2h0m2 3h0m31-1h0m2 1h0m9-3h0m38-1h0m9 4h0m1-2h0m3-2h0m3 1h0m15 2h0m2 1h0m8-3h0m26 1h0m1 0h0m66 0h0m54 0h0m11-1h0m50 3h0m30-1h0m-627 8h0m14-1h0m110-2h0m71 3h0m2-1h0m16-2h0m2 4h0m2-2h0m8 0h0m10-3h0m21 3h0m7-3h0m1 3h0m6-2h0m40 0h0m8 3h0m2-5h0m10 1h0m0 2h0m1 3h0m8-5h0m35-1h0m1 2h0m8 0h0m11 4h0m157-6h0m10 4h0m40 1h0m11-4h0m-473 8h0m74-1h0m15 0h0m2-2h0m3 3h0m12 1h0m8 2h0m7-2h0m83-3h0m72 5h0m12-5h0m92 1h0m30-1h0m33 4h0m26 0h0m6 0h0m-632 6h0m261 1h0m6-2h0m27-1h0m8-2h0m9-1h0m2 1h0m27 0h0m1 4h0m16-1h0m8 0h0m31 1h0m159-3h0m23-1h0m-616 6h0m190 3h0m81-4h0m109 5h0m20-2h0m58 3h0m19-5h0m85-1h0m41 1h0m60 0h0m13 3h0m20-3h0m-672 9h0m23-2h0m299-1h0m14-1h0m8 4h0m178-4h0m22 1h0m49 1h0m63 3h0m4-3h0m16 4h0m-665 5h0m1-4h0m24 3h0m401 1h0m100 1h0m49-1h0m44-2h0m39-2h0m-362 11h0m135-3h0m30 1h0m-492 2h0m40 6h0m35-5h0m191 0h0m168 1h0m27 3h0m14 0h0m31 0h0m85-4h0m30 4h0m14-1h0m43 0h0m-675 7h0m3-4h0m10 2h0m77-3h0m347 5h0m18-2h0m87-2h0m5 3h0m25 1h0m18-4h0m38 1h0m12 3h0m8-5h0m6 3h0m-656 6h0m13-2h0m13 5h0m23-5h0m5 0h0m159 0h0m209 4h0m29-4h0m21 1h0m48 0h0m39-2h0m44 5h0m45 0h0m-620 1h0m6 3h0m23-3h0m178 3h0m247 3h0m12-3h0m4 2h0m36-5h0m104 0h0m-648 7h0m59 1h0m8 1h0m168 2h0m3-1h0m11 0h0m1 1h0m7-2h0m60-3h0m-74 9h0m3 0h0m9 0h0m22 0h0m7-2h0m8-1h0m370 2h0m-618 10h0m40-4h0m5 2h0m2 2h0m153-4h0m5-2h0m5 4h0m193 0h0m-406 5h0m17 1h0m9 0h0m31-3h0m-92 11h0m10-1h0m8-1h0m7 0h0m17-2h0m7 0h0m3-1h0m6 5h0m21-5h0m7 0h0m2 3h0m15-3h0m116 4h0m2-2h0m14-2h0m8 0h0m68 0h0m133 5h0m17-2h0m-473 4h0m6 0h0m0-1h0m10 2h0m3-1h0m5 2h0m14 2h0m5-5h0m0 0h0m193 4h0m5-4h0m4 1h0m80 1h0m-311 6h0m11 2h0m26 0h0m24 0h0m16-3h0m4-2h0m12 6h0m7-4h0m5 3h0m104 1h0m9-5h0m6-1h0m21 0h0m66 2h0m-318 5h0m19 3h0m8 0h0m35 1h0m34 0h0m1-4h0m5-1h0m4 5h0m5 1h0m88-3h0m15 1h0m33 0h0m61-3h0m5 2h0m-293 7h0m7-1h0m6 0h0m7-1h0m11-1h0m4 3h0m9 0h0m20-2h0m5-1h0m9 1h0m23 3h0m65 0h0m10-1h0m16-2h0m4-2h0m78 5h0m18-4h0m0 4h0m207-3h0m-504 6h0m3 0h0m5 4h0m3 0h0m32-4h0m0 2h0m5 1h0m3 0h0m46-5h0m33 3h0m36 1h0m3 1h0m8-1h0m9 0h0m28-1h0m5-2h0m53 4h0m13-3h0m13 3h0m-296 1h0m3 4h0m14 0h0m15-2h0m12 1h0m11-1h0m3 1h0m6-1h0m6-1h0m21 0h0m75 1h0m0 0h0m1-2h0m1 3h0m9-1h0m2 2h0m94 2h0m15-2h0m-278 3h0m4 3h0m3-1h0m13-1h0m15 1h0m1 2h0m7-1h0m8-1h0m3-1h0m3-2h0m10 1h0m1 2h0m4 1h0m48 2h0m41-5h0m7 2h0m79 2h0m2-1h0m7 1h0m4-1h0m4-1h0m7-2h0m1 2h0m-267 8h0m1-3h0m19 3h0m0-1h0m4 0h0m9 1h0m13 1h0m0-6h0m5 4h0m1-4h0m3 4h0m9-2h0m9 0h0m67 0h0m12 1h0m81 0h0m5 1h0m3-3h0m0 3h0m6 2h0m9-2h0m8-2h0m-250 8h0m1-2h0m15 0h0m36-1h0m71 5h0m14-2h0m-130 3h0m21 4h0m60-4h0m3 5h0m149 0h0m4-6h0m7 6h0m-227 3h0m112-2h0m113 1h0m-73 4h0m75 13h0m167 4h0m-171 2h0m13 14h0m154 10h0m-156 9h0m2 0h0m153-2h0m10 0h0m-185 5h0m178 4h0m2-5h0m17 6h0m-228 1h0m16-1h0m29 2h0m4 2h0m1-4h0m174 1h0m1 2h0m19-2h0m-239 7h0m35 3h0m6 1h0m6-2h0m30 0h0m128-1h0m9-1h0m3 1h0m5 0h0m5 1h0m9-1h0m2 1h0m-232 5h0m20 1h0m0-2h0m14 3h0m4-1h0m19 2h0m137-3h0m10 3h0m0-4h0m3 3h0m16 0h0m2-5h0m-297 9h0m6 1h0m12-1h0m13 1h0m6 2h0m7-3h0m21-1h0m7 2h0m6-3h0m2 4h0m2-4h0m9-1h0m8 5h0m2-5h0m6 2h0m6 3h0m5 0h0m38-1h0m111-2h0m5-1h0m5 2h0m5 0h0m3-1h0m6-1h0m2 1h0m3 1h0m-320 8h0m2-4h0m14 4h0m18-4h0m48 0h0m23-1h0m11 3h0m50 2h0m12-4h0m113 3h0m1-4h0m9 5h0m0-2h0m4-3h0m0 2h0m4 1h0m4-2h0m-289 5h0m6 2h0m20 3h0m10 0h0m22 0h0m1 1h0m5-2h0m18-1h0m18 2h0m10-4h0m20 0h0m143 0h0m3 1h0m4 4h0m0-4h0m5 2h0m-276 4h0m20 0h0m5 3h0m6-4h0m17 1h0m9 0h0m3-2h0m1 5h0m1-2h0m5-2h0m6 3h0m16-3h0m9 2h0m1-2h0m24 2h0m9-3h0m98 5h0m29-2h0m1-3h0m0 3h0m19 1h0m-295 8h0m2-3h0m3 0h0m7-1h0m15 2h0m25 0h0m9-3h0m7 5h0m2-5h0m1 4h0m3-5h0m9 0h0m8 3h0m1 1h0m8-1h0m7-1h0m6 2h0m10 2h0m11-1h0m147-4h0m2 3h0m8 0h0m4 2h0m-303 0h0m14 2h0m10 3h0m35-4h0m5 4h0m3 0h0m5-4h0m2 2h0m4 3h0m23-4h0m18 3h0m4-5h0m13 5h0m160-2h0m5 0h0m7-1h0m-277 8h0m2-2h0m5 3h0m22-3h0m11-2h0m13 2h0m1 1h0m1 1h0m4-4h0m4 1h0m1 5h0m14-5h0m0 0h0m3 0h0m3 4h0m13-3h0m4 1h0m127 2h0m17-4h0m-256 6h0m46-1h0m23 4h0m1-4h0m1 1h0m7 4h0m4-5h0m4 3h0m9 2h0m6-5h0m13 2h0m9 3h0m-133 4h0m2-1h0m3 3h0m12 1h0m7-1h0m36-5h0m7 3h0m2 2h0m15-3h0m8 1h0m9-2h0m15 4h0m7-3h0m132 3h0m-261 6h0m4 1h0m3-3h0m3 0h0m2 2h0m10-4h0m2 4h0m17-1h0m3-4h0m10 1h0m6 3h0m15-2h0m0 1h0m4 3h0m20-1h0m1 1h0m6 0h0m5-4h0m3 3h0m-87 4h0m13 1h0m1-1h0m13 2h0m21-1h0m8 2h0m26-1h0m6-3h0m13 4h0m-114 5h0m21-1h0m20-2h0m7-1h0m32 5h0m31-2h0m-87 7h0m1 1h0m44-4h0m3-2h0m4 1h0m4 3h0m7-2h0m5 0h0m3-1h0m2 4h0m1-1h0m-73 3h0m15 2h0m4-1h0m4 2h0m8 0h0m8-4h0m3 3h0m4-3h0m1 4h0m4 0h0m7-2h0m0 2h0m9-1h0m2-2h0m5 0h0m6 0h0m-107 10h0m10-2h0m8-2h0m6 0h0m23 0h0m4 4h0m12-3h0m1 4h0m15-4h0m1 1h0m22 3h0m7-4h0m2 4h0m3-5h0m-91 7h0m22 4h0m4-5h0m1 0h0m5-1h0m11 3h0m2 2h0m1-4h0m3 3h0m11-4h0m2 3h0m-51 4h0m13 4h0m3-2h0m4-2h0m3 1h0m2-2h0m1 3h0m12-2h0m4 2h0m2 3h0m2-4h0m24 0h0m3 2h0m1 0h0m-81 4h0m3 0h0m10-1h0m0 4h0m1-5h0m2 2h0m8 2h0m10-2h0m32 0h0m2 2h0m-49 4h0m9 3h0m4-4h0m3 1h0m2-1h0m0 5h0m4-3h0m7-1h0m11 4h0m8-4h0m5 3h0m8-5h0m-75 8h0m16 2h0m14-4h0m19 0h0m1 4h0m2 1h0m5 0h0m-50 3h0m7 3h0m2-5h0m0 5h0m15-4h0m3 4h0m-4 6h0m2-4h0m2 5h0m-4 5h0m3-1h0m0-4h0m0 12h0" stroke="#D6604D"/>
<path d="M1459 60h0m365 0h0m-14 7h0m9-3h0m4 5h0m0 0h0m4-1h0m2 1h0m26-2h0m-425 4h0m4 2h0m16-3h0m11 0h0m2 0h0m326 4h0m1 0h0m5-2h0m3 3h0m4 0h0m2-3h0m8-2h0m4 3h0m1-3h0m1 3h0m11-1h0m14 0h0m2-2h0m2 4h0m6-2h0m-434 4h0m16 3h0m0-1h0m4-2h0m1 3h0m1 0h0m2-1h0m0 2h0m4-2h0m4 1h0m10-1h0m4 3h0m10-1h0m3 0h0m291 0h0m9-3h0m6 3h0m1-2h0m12 1h0m2-1h0m2 0h0m7-3h0m10 2h0m0 3h0m18-1h0m10-1h0m12-1h0m6 1h0m-439 5h0m10 0h0m11 0h0m5 0h0m1 1h0m3 0h0m1 1h0m0-4h0m4 5h0m2 0h0m2-2h0m3-1h0m5 0h0m4-1h0m0 3h0m39 1h0m211-3h0m20-1h0m8 0h0m9 4h0m2-3h0m9 1h0m3 2h0m2-4h0m19 1h0m1-1h0m5 4h0m13-3h0m3 3h0m0-4h0m5 2h0m8-1h0m2-2h0m2 5h0m6-1h0m9 0h0m2-1h0m9-2h0m4 3h0m2-3h0m2 4h0m7-4h0m5 5h0m-467 2h0m0 4h0m3-2h0m12-3h0m2 2h0m9 1h0m4-4h0m1 3h0m4 1h0m10-1h0m3 1h0m1-3h0m0 0h0m14 4h0m10-1h0m1-2h0m5-1h0m165 5h0m31-3h0m3 0h0m22 2h0m9-4h0m10 0h0m18 1h0m7 1h0m3 2h0m1-3h0m2-1h0m2 2h0m5-2h0m5 3h0m2 2h0m2-4h0m3 3h0m21-2h0m4-2h0m4 3h0m7-3h0m11 0h0m7 0h0m7 4h0m8-2h0m2-3h0m0 2h0m10-1h0m16 4h0m-469 6h0m3 1h0m7-5h0m10 4h0m0 1h0m3-6h0m2 1h0m5 3h0m4-2h0m1 3h0m7-5h0m1 6h0m4-1h0m2 0h0m7-5h0m5 4h0m3-2h0m15 3h0m163-2h0m45-1h0m19 1h0m5 0h0m5-1h0m11-1h0m0 3h0m7 1h0m1-3h0m4 4h0m5-4h0m3 1h0m10-1h0m2-1h0m2 0h0m3 1h0m8-1h0m5 4h0m15 0h0m11-4h0m8 2h0m0 3h0m3-3h0m9-1h0m4 3h0m1-4h0m8 1h0m3-1h0m4 0h0m5 2h0m6 2h0m5-2h0m6-1h0m24 3h0m-488 6h0m6 0h0m6-5h0m14 6h0m2-4h0m3 3h0m3-4h0m4 2h0m1-1h0m2 0h0m2 3h0m1-2h0m3-1h0m1 4h0m3-2h0m7 2h0m5-4h0m1 3h0m7-3h0m12-2h0m147 3h0m6 2h0m20-4h0m8 0h0m5 1h0m1-1h0m8 4h0m8-3h0m13 0h0m10 3h0m22 0h0m5-4h0m3 3h0m5-1h0m3-2h0m2 1h0m3 2h0m1 1h0m2-2h0m2 1h0m26-3h0m3 0h0m0 1h0m58 3h0m20 0h0m4 1h0m2-2h0m1-1h0m6 0h0m5 1h0m4-3h0m5 1h0m-470 5h0m15 4h0m0-4h0m1 0h0m2 2h0m1 0h0m7 3h0m7-4h0m6 3h0m3 1h0m5-1h0m4-1h0m3 0h0m4 0h0m2-3h0m3 3h0m4-2h0m22 2h0m142 0h0m15 2h0m2-1h0m5 0h0m29-1h0m14-3h0m7 1h0m0-1h0m7 0h0m3 0h0m5 0h0m6 5h0m9-3h0m8 0h0m1-2h0m4 3h0m5-4h0m13 5h0m9-2h0m15-1h0m2 3h0m10 0h0m7 1h0m0-3h0m10-1h0m14 3h0m3-2h0m13 2h0m2-3h0m7 0h0m1 4h0m1-1h0m0-5h0m3 3h0m-482 6h0m11-3h0m2 5h0m0 0h0m5-2h0m4 1h0m10 2h0m3 0h0m1-1h0m4-3h0m5 1h0m7 1h0m2-3h0m4 1h0m0-2h0m10 6h0m3-4h0m2 3h0m11 1h0m15-4h0m4 2h0m111-2h0m18 3h0m10-4h0m11 4h0m68-2h0m3-1h0m2-2h0m3 6h0m7-4h0m3 2h0m9-3h0m16 1h0m24-2h0m22 3h0m5-1h0m5 2h0m4 0h0m7 0h0m6 1h0m2 0h0m2-3h0m3 2h0m9 2h0m22-4h0m0-2h0m7 2h0m1 0h0m2 2h0m-488 3h0m8 0h0m7 2h0m7 2h0m6-4h0m6 1h0m9-2h0m6 6h0m6-3h0m2 1h0m4-2h0m0 4h0m5-6h0m15 4h0m5 2h0m13 0h0m3-6h0m107 5h0m7-4h0m36 2h0m19 2h0m44-4h0m1 4h0m5 0h0m32-1h0m11-2h0m3-1h0m8 0h0m10 4h0m5-3h0m0 2h0m13-4h0m23 6h0m2-5h0m4 0h0m0 3h0m0 1h0m15 0h0m2-4h0m4 3h0m10-2h0m4 3h0m9 0h0m1-4h0m9 0h0m23 4h0m-509 5h0m4-1h0m2-1h0m7-1h0m3 5h0m2-5h0m10 1h0m5-1h0m3 3h0m3-3h0m3 1h0m2 1h0m7-1h0m4 0h0m4 4h0m10-2h0m1-4h0m3 5h0m1 0h0m8-1h0m4 1h0m7-3h0m3-1h0m3 4h0m3-2h0m4 2h0m4-1h0m0 1h0m184 0h0m18-2h0m6 1h0m2 1h0m8-1h0m10 1h0m5-5h0m1 5h0m10 0h0m7 1h0m4-2h0m7-2h0m0 4h0m1-5h0m29-1h0m22 1h0m5 0h0m25 0h0m1 5h0m23-1h0m8 0h0m12 1h0m-476 5h0m6-2h0m2 2h0m0-3h0m3 0h0m9-1h0m5 4h0m2-4h0m2 4h0m3-4h0m0 2h0m4 0h0m1-2h0m13 2h0m8-2h0m2 1h0m9 3h0m5-4h0m3 0h0m0 4h0m9 0h0m5 0h0m3-1h0m82-2h0m101 1h0m24 2h0m4-4h0m11 3h0m5 1h0m12-2h0m1 0h0m3 3h0m4-2h0m9-3h0m22 0h0m13 5h0m1-6h0m2 1h0m3 0h0m0 3h0m16 1h0m1-4h0m10 0h0m6 0h0m17-1h0m28 0h0m10 5h0m-502 2h0m15 4h0m3-2h0m5 3h0m1-6h0m5 5h0m0-4h0m4 1h0m2 3h0m2-4h0m4-1h0m0 6h0m5-4h0m6 1h0m2 3h0m1-5h0m2 3h0m2 1h0m0-3h0m14-1h0m6 4h0m16-5h0m2 6h0m2-6h0m5 5h0m17 0h0m2-1h0m81-1h0m94 1h0m1-3h0m9-1h0m8 1h0m4 5h0m2-4h0m9 3h0m12-1h0m11-2h0m3 4h0m9 0h0m7-3h0m10-2h0m8 0h0m1 3h0m14-3h0m1 4h0m1 0h0m5-1h0m1 0h0m8-3h0m0-1h0m19 1h0m35 4h0m26-2h0m-480 5h0m5 2h0m0-2h0m2 4h0m1-1h0m4 0h0m5 0h0m3 0h0m1 1h0m2-4h0m11-1h0m15 2h0m3 0h0m8-3h0m8 6h0m6-1h0m4-2h0m2-1h0m1 4h0m17-1h0m4 1h0m1-6h0m0 4h0m11 2h0m44-5h0m138 4h0m8-5h0m1 3h0m3 3h0m8 0h0m1-2h0m12-1h0m2-2h0m19-1h0m3 3h0m19 3h0m2-5h0m4 1h0m9 3h0m3 0h0m9 0h0m7-2h0m5-1h0m2 1h0m21 1h0m10-1h0m4-1h0m2 3h0m0-2h0m6 1h0m4-2h0m8 1h0m9-3h0m20 4h0m-492 4h0m0 1h0m15 0h0m2-1h0m0 3h0m10-3h0m18 2h0m2 0h0m2-4h0m1 5h0m2-4h0m0 4h0m3-1h0m1 0h0m2 0h0m21-1h0m3 2h0m2-1h0m3-3h0m3 0h0m3 4h0m1-5h0m3 2h0m2-1h0m0 3h0m0 1h0m4-4h0m5 3h0m63-4h0m117 4h0m10-3h0m13 3h0m10 1h0m7-1h0m1-2h0m6 2h0m4-2h0m3-1h0m18 3h0m16-2h0m10 0h0m14 3h0m6-1h0m0-3h0m18 5h0m59-3h0m14 1h0m-493 6h0m17-4h0m9 4h0m1-3h0m8-1h0m3 2h0m1 3h0m12-3h0m1 3h0m5-4h0m8 0h0m5 1h0m7 2h0m2 2h0m1-2h0m2-3h0m0 4h0m3-2h0m4-1h0m3 1h0m3 1h0m1-4h0m11 2h0m14 4h0m135-2h0m4 0h0m44-2h0m1 3h0m5-1h0m4-2h0m7 2h0m8-4h0m3 2h0m6 2h0m12-3h0m2 4h0m7-3h0m14-1h0m0 3h0m3-3h0m5 5h0m18-5h0m5-1h0m1 5h0m10-2h0m14 1h0m17 0h0m-428 7h0m5 0h0m1-3h0m3 3h0m4 1h0m3-4h0m2 3h0m5-3h0m0 3h0m6-1h0m11-2h0m4-2h0m3 2h0m1 0h0m4-2h0m1 6h0m3-3h0m0 1h0m8-2h0m1 3h0m4-1h0m9-3h0m7 1h0m11 1h0m11-2h0m164 0h0m8 1h0m14-2h0m5 0h0m0 3h0m9-1h0m5 1h0m4 0h0m31 3h0m14-2h0m28 0h0m6-3h0m11 2h0m8 2h0m9-1h0m20 1h0m10 0h0m-480 7h0m23-5h0m10 1h0m1 3h0m3-3h0m3 1h0m5 2h0m1 0h0m1-4h0m6 4h0m6 0h0m2-2h0m9-1h0m3 3h0m1-2h0m18 2h0m2-5h0m1 3h0m3-1h0m0 1h0m5-2h0m2 2h0m5 0h0m5-3h0m2 3h0m7-1h0m11 2h0m2-3h0m155 2h0m11-1h0m1 2h0m0 1h0m23-4h0m0-1h0m11 6h0m6-3h0m19 1h0m29 2h0m3-5h0m30 4h0m1-4h0m2 4h0m2-4h0m35 5h0m14-4h0m5-1h0m-435 6h0m11 1h0m7 3h0m1-1h0m8-3h0m4 3h0m4-2h0m1-2h0m5 4h0m17 2h0m2 0h0m3-2h0m16-4h0m134 1h0m36 4h0m2 0h0m15-5h0m3 6h0m0 0h0m17-3h0m8 3h0m0-3h0m26 1h0m7 0h0m6 2h0m6-2h0m4 2h0m2-2h0m12-3h0m0 4h0m11 1h0m32-5h0m6 0h0m9 2h0m-464 8h0m37-2h0m3 2h0m17-2h0m2 0h0m3 1h0m1-3h0m1 2h0m3 3h0m3-4h0m10 3h0m3-2h0m17-1h0m10 2h0m4 2h0m7-6h0m173 2h0m17-2h0m12 2h0m2-2h0m3 2h0m18 1h0m35 3h0m5-4h0m5 1h0m18 1h0m19 0h0m7 0h0m1-2h0m14-2h0m0 3h0m6 1h0m37 0h0m4 1h0m-456 4h0m2 0h0m8-1h0m5-1h0m22 1h0m12 2h0m10-3h0m5 1h0m6 0h0m172 4h0m19-5h0m2 4h0m28 0h0m2-1h0m8-1h0m3 0h0m0-2h0m9 2h0m4 0h0m13 1h0m9-2h0m56 2h0m9-4h0m33 1h0m-578 10h0m11 0h0m45 1h0m45-3h0m1-1h0m7-2h0m36 5h0m0-4h0m5 3h0m1-1h0m7 2h0m2-5h0m3 5h0m3-1h0m8-1h0m20 1h0m4-2h0m0 3h0m131 0h0m32 0h0m3-2h0m15 3h0m34-3h0m6-2h0m3 2h0m4 1h0m11 1h0m1-4h0m1 0h0m15 0h0m10 1h0m3 1h0m17 0h0m6 1h0m38-3h0m15 0h0m5 1h0m15 3h0m14 0h0m-552 6h0m83 0h0m7-3h0m5 2h0m4 0h0m29-3h0m7 4h0m13-4h0m30-1h0m103 4h0m0-3h0m99 2h0m16 0h0m4-1h0m5 0h0m11 0h0m24-2h0m28 6h0m4-6h0m43 2h0m4 0h0m1 1h0m-571 7h0m96 0h0m13-3h0m3 5h0m6-2h0m63-4h0m10 4h0m12-1h0m5-1h0m2 2h0m1-4h0m21 2h0m3 4h0m133-2h0m17-2h0m3-2h0m14 5h0m1-5h0m3 6h0m37-3h0m4-2h0m4 4h0m2-3h0m20 2h0m10 0h0m3-4h0m16 6h0m4-2h0m4 0h0m17-2h0m15 2h0m1-3h0m22 4h0m26-3h0m26 3h0m-621 7h0m24-2h0m61-2h0m58 1h0m47 0h0m17 1h0m7 0h0m2-3h0m21 1h0m2 2h0m90-2h0m16 1h0m24-2h0m86 4h0m8-4h0m25 0h0m7 1h0m4 0h0m3 2h0m6 0h0m4-3h0m7 0h0m0 0h0m40 1h0m23 3h0m-606 3h0m39 1h0m45 1h0m68 0h0m9-1h0m6-2h0m0 4h0m58-4h0m5 1h0m10 1h0m10-2h0m5 0h0m9 1h0m4 2h0m112 2h0m31-5h0m18-1h0m3 3h0m45 0h0m12-1h0m20-2h0m74 0h0m27 3h0m-601 4h0m33 0h0m6 0h0m7 1h0m23 4h0m30-4h0m78 3h0m191-5h0m36 2h0m48-2h0m29 0h0m11 2h0m15-2h0m18 5h0m39-1h0m8 2h0m26-4h0m35 1h0m5 1h0m-645 5h0m31 3h0m51 0h0m41-1h0m3-1h0m16-1h0m31 0h0m83-1h0m151 0h0m56 0h0m2-2h0m2 5h0m0-2h0m2 2h0m22-2h0m92-3h0m-573 8h0m32-2h0m46 2h0m10 4h0m4-5h0m1 5h0m9-4h0m5 0h0m3 4h0m8 0h0m7-6h0m12 4h0m2-2h0m5 1h0m0-1h0m42-2h0m265 2h0m15-1h0m10 3h0m19-3h0m1 3h0m12-1h0m32-1h0m0-1h0m77 0h0m-577 5h0m15 3h0m7 1h0m2-1h0m9-1h0m8 2h0m4-2h0m0 0h0m7 3h0m9 1h0m4-6h0m2 5h0m1-2h0m3 1h0m4 0h0m5 0h0m2 2h0m7 0h0m8-4h0m4 1h0m8 3h0m26 0h0m33-5h0m254 4h0m8-2h0m5-1h0m3-1h0m27 2h0m50 2h0m4-3h0m24 0h0m27 1h0m-596 9h0m33-1h0m4-1h0m13 0h0m3 1h0m4-3h0m6 1h0m4 2h0m5 0h0m7 0h0m4 0h0m8-5h0m7 3h0m7 1h0m8-3h0m4 4h0m4-1h0m8-3h0m2 4h0m0-4h0m4 3h0m18 1h0m5-1h0m25-4h0m12 5h0m256-3h0m15 1h0m11 0h0m8-2h0m48-1h0m31 6h0m39-1h0m8-3h0m13 3h0m-651 7h0m21-3h0m23-1h0m3-1h0m9 3h0m1 0h0m15-2h0m7 1h0m4-1h0m3-2h0m5 2h0m3 1h0m6 0h0m13 1h0m7-3h0m4 0h0m4 5h0m22-3h0m8-1h0m4-1h0m11 4h0m0-4h0m23 1h0m15 1h0m283-1h0m1 3h0m37-2h0m53-2h0m51 1h0m-640 4h0m8 1h0m4 4h0m1-2h0m1-2h0m1 2h0m11 1h0m7 0h0m1 0h0m8 1h0m1-1h0m10 1h0m2-1h0m7-1h0m5 2h0m5-2h0m5 2h0m8-1h0m3-1h0m0-3h0m6 4h0m1 0h0m3-3h0m20 3h0m6-3h0m4 1h0m1 3h0m2-2h0m5 1h0m2-3h0m8 2h0m6 0h0m5-3h0m2 4h0m1 2h0m9-2h0m13-1h0m46 0h0m8 3h0m284-3h0m28 0h0m8-1h0m15 4h0m17-2h0m27 1h0m24-1h0m-648 6h0m5 1h0m7-1h0m1 2h0m7-4h0m6 4h0m4-5h0m5 1h0m4-1h0m0 4h0m7-2h0m6-2h0m3 5h0m7-5h0m2 0h0m4 1h0m4 2h0m6-2h0m5 2h0m14-1h0m14 2h0m2-4h0m10 2h0m3 2h0m3-4h0m2 2h0m3 2h0m18 1h0m1-4h0m2-2h0m3 3h0m2 1h0m5 1h0m10-2h0m1 2h0m6-4h0m27 1h0m7-1h0m4 2h0m17-1h0m327 0h0m4 4h0m9-6h0m4 3h0m8 2h0m2 0h0m31-3h0m5 0h0m18 3h0m1 1h0m-631 3h0m3-2h0m30 2h0m8-1h0m5-1h0m8 5h0m8-6h0m5 4h0m11-1h0m2 1h0m3-3h0m0 2h0m4 0h0m4 0h0m11-1h0m6-2h0m2 2h0m2-2h0m0 2h0m2-1h0m1 5h0m2-5h0m8 3h0m10-2h0m5 2h0m9 0h0m10-1h0m4 3h0m14-6h0m16 2h0m30 0h0m285 3h0m47 0h0m1-3h0m6 0h0m2 4h0m6-1h0m31-2h0m7 1h0m12-3h0m5 1h0m1-2h0m11 2h0m1 4h0m1-5h0m-632 10h0m14-5h0m3 6h0m1-1h0m3-4h0m3 3h0m1-2h0m14 4h0m1-4h0m9 2h0m6 0h0m10 1h0m3-1h0m1-2h0m3-2h0m2 3h0m31 0h0m18 1h0m13 2h0m7 0h0m6-1h0m6-4h0m21-1h0m36 4h0m121 0h0m219-2h0m4 3h0m44 1h0m2 0h0m4-4h0m3-2h0m3 1h0m4-1h0m13 3h0m-625 6h0m2-1h0m7-1h0m3 0h0m12 5h0m2-4h0m0 0h0m2 1h0m7 0h0m6 1h0m6-3h0m6 1h0m6-1h0m4-1h0m2 3h0m4 0h0m5 2h0m1-4h0m5 1h0m2 3h0m3-3h0m2 0h0m8 4h0m3-3h0m10-1h0m14 0h0m1 2h0m0-4h0m8 2h0m5 3h0m3-2h0m4-1h0m12 3h0m2-2h0m45-1h0m192 4h0m11 0h0m164-2h0m34 1h0m17-1h0m12-4h0m4 0h0m-637 6h0m20 3h0m9 2h0m2-3h0m3 3h0m5-4h0m1 3h0m4 1h0m10-5h0m4 4h0m14 0h0m5-3h0m9-1h0m5 4h0m5 0h0m1-1h0m6-2h0m2 4h0m5 0h0m2-4h0m2 3h0m8 0h0m6-2h0m4-1h0m6 4h0m0-1h0m0-3h0m4 3h0m15-1h0m2 1h0m4 0h0m7 0h0m23 1h0m0-3h0m208-1h0m3 1h0m0 1h0m157-2h0m19 4h0m18 1h0m6-2h0m9 1h0m9-4h0m10 5h0m1-5h0m2 5h0m10-3h0m-615 7h0m12-2h0m3 0h0m3 0h0m5 2h0m4 2h0m4-1h0m12 1h0m0-6h0m2 5h0m6 0h0m3-1h0m0 1h0m3-1h0m3 2h0m12-5h0m8 1h0m1 3h0m5-3h0m3 2h0m0 1h0m13-3h0m3 4h0m1-6h0m9 1h0m11 4h0m226-1h0m24-3h0m0 4h0m3-1h0m179 0h0m0-3h0m4 0h0m20 3h0m2 1h0m11 1h0m-568 3h0m2-3h0m1 3h0m4-3h0m61 4h0m2 0h0m7 1h0m15-1h0m2 1h0m2-4h0m0-1h0m5 1h0m4 1h0m5 1h0m214 2h0m2-1h0m198-1h0m4 1h0m6-4h0m7 5h0m14-4h0m7 3h0m4 0h0m6-2h0m13 2h0m-581 3h0m6 1h0m12-2h0m4 4h0m7 2h0m6-2h0m3 0h0m18-4h0m0 4h0m3 0h0m1-2h0m7 3h0m26 1h0m10-4h0m5 0h0m5 2h0m215 1h0m3-3h0m177 1h0m43-3h0m6 3h0m2 0h0m0 1h0m11 2h0m-560 3h0m23 2h0m15-4h0m1 4h0m4 1h0m4-6h0m3 1h0m3 5h0m39-5h0m205-1h0m13 4h0m12-2h0m2 1h0m14-2h0m98 5h0m69 0h0m3-3h0m15-1h0m18 0h0m12 0h0m14-2h0m4 4h0m-539 3h0m1 1h0m4-1h0m3 2h0m3 1h0m3-2h0m6 0h0m0 4h0m3-3h0m2-2h0m4 0h0m20 0h0m189 3h0m17-2h0m16 2h0m13 0h0m5 1h0m4-1h0m3-2h0m202 0h0m13-1h0m9 0h0m7 5h0m1-3h0m9-1h0m0 4h0m12-4h0m-519 4h0m2 3h0m1 0h0m1 0h0m6-1h0m236 0h0m7-1h0m4 2h0m1 2h0m1 1h0m8 0h0m166-5h0m10 4h0m9 1h0m2-6h0m7 3h0m23 2h0m15 0h0m3-2h0m1 2h0m3 0h0m14-2h0m-535 4h0m3 0h0m3 0h0m7 1h0m14 2h0m172-1h0m64-2h0m5 1h0m10 2h0m2-2h0m153 4h0m10-2h0m24-3h0m18 1h0m5-2h0m6 2h0m8 1h0m14 1h0m-523 3h0m4 0h0m16 3h0m1-2h0m236 2h0m6 1h0m7-3h0m4 4h0m1-4h0m5 1h0m163-1h0m5 4h0m0-6h0m16 5h0m3-3h0m4 2h0m6 2h0m8 0h0m4-1h0m16-2h0m24-2h0m6 5h0m-525 3h0m251 0h0m6-1h0m4 3h0m3-2h0m8 3h0m132-2h0m2-3h0m1 4h0m36-5h0m15 0h0m12 2h0m0 3h0m13-1h0m27-2h0m4-2h0m10 4h0m7-1h0m-283 4h0m6 1h0m14-1h0m1 3h0m175-2h0m9 3h0m14-2h0m14-1h0m28 1h0m-286 4h0m4 4h0m12 0h0m9-5h0m16 1h0m8-1h0m147 5h0m4-3h0m9-2h0m1 0h0m3 3h0m21 0h0m22-1h0m1 4h0m1-1h0m11-1h0m4 0h0m16-2h0m7 2h0m2-3h0m11 0h0m-529 8h0m4 0h0m230-2h0m2 0h0m11 0h0m4 2h0m3 1h0m0 0h0m5 1h0m1-4h0m0-1h0m3 2h0m8 4h0m117-4h0m5 2h0m63-4h0m14 1h0m14 2h0m7 1h0m4-3h0m24 0h0m17 3h0m-301 5h0m10 0h0m6-2h0m2 3h0m8 1h0m2-4h0m1 1h0m1 4h0m1 0h0m1-6h0m12 5h0m79-1h0m5 1h0m25-3h0m0 3h0m5 1h0m12-5h0m0 4h0m17-4h0m6 1h0m19 1h0m10 2h0m1-1h0m12 2h0m2-3h0m15 2h0m9 0h0m7-5h0m24 5h0m8-2h0m1 2h0m-532 2h0m220 2h0m11 1h0m15-2h0m1 3h0m2-1h0m2 0h0m0-2h0m9 2h0m23 1h0m65 1h0m26-2h0m6-1h0m51 3h0m2-2h0m5-3h0m2 4h0m13-1h0m3-4h0m4 1h0m10 1h0m5-1h0m3 4h0m7-4h0m7 3h0m17-1h0m16 1h0m15-2h0m-319 7h0m6 1h0m8 0h0m4-3h0m0 3h0m8 1h0m0-2h0m3-1h0m18-2h0m135 1h0m10 2h0m1-2h0m19 4h0m3-3h0m1 3h0m20-4h0m11 1h0m4 2h0m62 1h0m-367 2h0m66 2h0m14-2h0m47 4h0m64-2h0m4 3h0m5-3h0m12 1h0m6 1h0m6-2h0m23-2h0m5 3h0m8 0h0m15-1h0m22 1h0m6-3h0m22-1h0m7 2h0m29 2h0m11-3h0m-509 8h0m194-1h0m30 0h0m93 3h0m2-3h0m7 2h0m23 1h0m8-5h0m3 3h0m18 0h0m6 2h0m5-5h0m3 5h0m11-4h0m25 0h0m4 2h0m18 2h0m2-3h0m5 3h0m6-2h0m3 0h0m33 0h0m6 2h0m-533 2h0m3 0h0m262 2h0m33-2h0m1 5h0m21-5h0m4 0h0m3 3h0m12 1h0m9-1h0m22-1h0m11-2h0m6 4h0m10-2h0m2-1h0m7-1h0m17 2h0m10 1h0m13-4h0m2 6h0m11 0h0m16-4h0m13 2h0m4 0h0m12-3h0m14 1h0m11 1h0m1 1h0m12-4h0m5 4h0m-342 4h0m69 0h0m14 0h0m8 0h0m1 3h0m3 1h0m19-2h0m9 0h0m5 0h0m4-1h0m1 1h0m3-2h0m4 2h0m5 1h0m2-4h0m2 4h0m8-4h0m3 0h0m2 1h0m7-1h0m0 1h0m4 2h0m10 2h0m8-2h0m10-3h0m13 2h0m6 2h0m4-1h0m10 1h0m3-1h0m6 1h0m1-5h0m5 6h0m3-1h0m3-1h0m3 2h0m6-4h0m8 4h0m7-2h0m16-3h0m4 0h0m20 1h0m3 3h0m7-3h0m4 2h0m13 2h0m-537 3h0m1 3h0m218-2h0m32 0h0m27-2h0m8-1h0m5 5h0m7-5h0m1 4h0m12-4h0m10 1h0m7-2h0m6 3h0m3 1h0m4-2h0m9 0h0m11-2h0m1 1h0m6 2h0m3-1h0m7 2h0m5 2h0m17-3h0m5 0h0m2-1h0m14 2h0m16 2h0m3-1h0m21-3h0m7-2h0m13 5h0m2-1h0m3 1h0m8-1h0m23-2h0m-500 6h0m138 1h0m11 2h0m7 1h0m0-5h0m18 0h0m48 0h0m20 1h0m5 0h0m4-1h0m10 3h0m5-2h0m14-1h0m3 5h0m6 0h0m7-2h0m2-2h0m9 4h0m6-2h0m3-1h0m2 3h0m2-4h0m7 2h0m4 0h0m3-4h0m2 5h0m3-1h0m23 0h0m8 0h0m13 0h0m2-4h0m4 3h0m4-2h0m9 1h0m38 3h0m12-1h0m3-2h0m7 2h0m9-2h0m22 4h0m0-4h0m25 1h0m2-3h0m-554 10h0m0-2h0m6 1h0m1 0h0m3 2h0m3-2h0m0-1h0m6 1h0m5 0h0m142 2h0m1-3h0m3 1h0m21-3h0m10 1h0m40 3h0m21 1h0m3-3h0m23-2h0m11 5h0m21 0h0m2-3h0m2 4h0m1-3h0m5 3h0m8-5h0m3 1h0m16 3h0m12-1h0m2 1h0m1-3h0m2 1h0m5-1h0m4-1h0m0 2h0m2 2h0m1-2h0m1 0h0m16 0h0m5-2h0m3 4h0m10-3h0m2 0h0m12-1h0m11 1h0m11-1h0m1 2h0m1 3h0m18-2h0m3-1h0m1 0h0m11 0h0m24 3h0m-524 5h0m9-1h0m2 2h0m2-2h0m12 2h0m3-6h0m2 4h0m121-3h0m43 1h0m7 0h0m40-1h0m35 4h0m22-3h0m23 0h0m8 0h0m5-1h0m3 0h0m3 0h0m1 4h0m3-2h0m9-2h0m0 2h0m15 1h0m10 0h0m1 0h0m2-1h0m6 0h0m6 2h0m30-4h0m11 0h0m16 2h0m7 2h0m17-4h0m43 0h0m9 2h0m32-2h0m3 1h0m-574 8h0m3 0h0m10-3h0m4 3h0m3-3h0m0 4h0m16 0h0m2-4h0m5 0h0m7-1h0m21 3h0m105 1h0m50-3h0m6 5h0m5-4h0m26-1h0m18 3h0m0-2h0m9 0h0m28 2h0m5-2h0m3 2h0m5 2h0m15-1h0m5 0h0m5 1h0m6-1h0m4-5h0m21 5h0m4-3h0m1 3h0m20 1h0m10-3h0m6-2h0m3 4h0m3-2h0m6-2h0m3 4h0m5-5h0m13 3h0m14-2h0m9 1h0m7-2h0m9 3h0m19-2h0m1 0h0m3 0h0m5 2h0m0 1h0m6 1h0m10-1h0m8-1h0m3 0h0m14 2h0m13-2h0m-571 7h0m4-1h0m10 2h0m24 0h0m7-4h0m19-1h0m84 0h0m30 1h0m21 3h0m22-1h0m20-3h0m11 1h0m1 3h0m3-3h0m15 3h0m5 0h0m14 0h0m0-4h0m2 3h0m12-1h0m7 4h0m0-1h0m2-1h0m2-3h0m5 4h0m1 0h0m9-3h0m5 0h0m5 4h0m3-3h0m6 2h0m2-3h0m20-1h0m10 2h0m4 0h0m20-2h0m5 4h0m7-2h0m11 0h0m1 1h0m4-4h0m7 3h0m14 1h0m0-1h0m5-1h0m12 2h0m7-2h0m19 3h0m12 0h0m65 1h0m-585 1h0m10 4h0m7-3h0m8 3h0m15-1h0m2-3h0m3 2h0m1-3h0m1 3h0m3 1h0m113 0h0m29 1h0m29-4h0m18 2h0m11-2h0m6 0h0m42 4h0m2 0h0m2-5h0m2 4h0m4 1h0m7 0h0m2 0h0m0-3h0m8 2h0m2-2h0m13-2h0m11 3h0m0 1h0m2 1h0m8-3h0m11 3h0m2-3h0m12 4h0m5-3h0m3-1h0m3 2h0m0-2h0m1 0h0m12 4h0m16-3h0m2-2h0m6 4h0m4 0h0m9 1h0m6-5h0m4 2h0m9 0h0m10 3h0m7-4h0m2-1h0m5 0h0m1-1h0m6 2h0m26-1h0m3 1h0m2 0h0m4 4h0m12-6h0m5 3h0m10 0h0m-567 7h0m1-2h0m10 0h0m3 2h0m1-3h0m3 2h0m9-1h0m1 2h0m6-1h0m2 1h0m4-2h0m9 1h0m4 0h0m1-2h0m0 4h0m113-1h0m29-1h0m14 1h0m39 1h0m5-4h0m3 5h0m2-2h0m4 1h0m9-3h0m14 3h0m14-3h0m2-2h0m3 2h0m4 1h0m21-1h0m6 4h0m0-2h0m6-1h0m6-2h0m6 0h0m7 0h0m3 0h0m1 0h0m3 1h0m4 2h0m14-2h0m2 2h0m9 2h0m2-3h0m7 1h0m4 1h0m3-4h0m5 0h0m5 3h0m14-1h0m4-2h0m2 0h0m6 0h0m3 4h0m15-1h0m19-3h0m9 5h0m8-1h0m1-3h0m23 1h0m6 2h0m2 0h0m20-1h0m6 0h0m14 0h0m3-1h0m1 3h0m33-6h0m-609 8h0m3 2h0m12-1h0m5-2h0m1 2h0m1-2h0m4 4h0m1-4h0m2 2h0m0-3h0m5 4h0m2-2h0m7-1h0m4 0h0m1 2h0m101 0h0m40 3h0m16-3h0m34 1h0m5-2h0m3 2h0m4 2h0m24-3h0m2-3h0m4 6h0m8-3h0m4-1h0m11-2h0m1 4h0m3-2h0m3 1h0m19 2h0m11 1h0m5-5h0m0 4h0m6-1h0m16-3h0m1 1h0m20 0h0m35-2h0m5 2h0m25 3h0m15-4h0m15 1h0m0 2h0m10-2h0m32 4h0m8-4h0m4 0h0m6 1h0m8-1h0m5-1h0m8 2h0m13-1h0m10-1h0m4 4h0m13 0h0m20-2h0m-639 5h0m2 2h0m1-2h0m4 3h0m2-5h0m8 4h0m4 1h0m3-3h0m2 2h0m9-1h0m4 0h0m1-3h0m8 2h0m2 3h0m1-3h0m2 1h0m5-1h0m11 2h0m148 1h0m13-3h0m11 3h0m5-5h0m4 2h0m8-1h0m1-1h0m11 5h0m9-4h0m3 0h0m5 2h0m5-3h0m6 6h0m2-5h0m11 5h0m2-3h0m10-1h0m8 4h0m11-5h0m2 2h0m2 3h0m13-6h0m5 0h0m7 5h0m4-1h0m3-1h0m1 1h0m16-3h0m3 2h0m20 2h0m40-1h0m9 1h0m11-2h0m2-2h0m2 2h0m10-1h0m58 1h0m12 2h0m6-2h0m1 1h0m10-3h0m6-1h0m23 3h0m19-2h0m15 0h0m-647 11h0m6-3h0m1-2h0m8 2h0m6 0h0m23-1h0m14 1h0m0-3h0m4 2h0m123 1h0m0 3h0m9-5h0m13 0h0m29-1h0m9 1h0m8-1h0m10 3h0m6 1h0m9-2h0m8-1h0m6-1h0m10 3h0m2-2h0m1 5h0m14-5h0m11-1h0m1 3h0m9 1h0m0-1h0m3 1h0m11-1h0m1 0h0m16 2h0m5-5h0m7 4h0m2-1h0m1 1h0m6-3h0m37 0h0m5-1h0m15 1h0m9 3h0m5-2h0m8 1h0m3 3h0m22-4h0m18-2h0m24 5h0m48-1h0m4-2h0m0 3h0m7-2h0m44 0h0m-634 5h0m14 0h0m10-2h0m5 4h0m4-1h0m4 0h0m17 3h0m9-2h0m1 0h0m10 0h0m92-1h0m1-2h0m36 1h0m39 0h0m1 2h0m7-1h0m20 0h0m2-1h0m6-1h0m21 2h0m5 3h0m2-5h0m2 0h0m7 2h0m13 1h0m10-3h0m4-1h0m9 3h0m6 3h0m6-2h0m0 1h0m4-1h0m3-1h0m14 1h0m10-2h0m9 1h0m4-1h0m3 4h0m8-6h0m9 4h0m15-4h0m14 3h0m2 0h0m0 1h0m11 0h0m49-1h0m26-1h0m29 3h0m19-4h0m16-1h0m13 6h0m14-2h0m13-1h0m7-1h0m-666 7h0m23-2h0m0 3h0m5-1h0m3 2h0m1-3h0m6 0h0m2 4h0m2-3h0m0-2h0m4 1h0m8 1h0m8-1h0m4-1h0m1 2h0m101 1h0m8-2h0m15-1h0m4 0h0m3 3h0m5-1h0m14-1h0m3 2h0m28 0h0m26-1h0m1 1h0m8 2h0m9-4h0m5 2h0m1-3h0m9 1h0m7 3h0m6-3h0m3-1h0m12 0h0m5 5h0m1-4h0m4 1h0m3 1h0m1-2h0m8-1h0m0 5h0m1-1h0m13-3h0m8 0h0m4 4h0m9-1h0m2-4h0m5 2h0m1 3h0m18-6h0m2 2h0m5-2h0m18 2h0m11 0h0m4 0h0m2 1h0m28 1h0m130-1h0m16 0h0m6 3h0m24-5h0m4 5h0m2 0h0m0-1h0m7 0h0m-674 5h0m0 1h0m6 1h0m1-5h0m3 2h0m8 2h0m8-4h0m15-1h0m9 5h0m4-4h0m2 5h0m9-5h0m7-1h0m15 2h0m135 3h0m8-3h0m5-1h0m16 3h0m12-1h0m5 0h0m14-3h0m2 4h0m8 0h0m2-2h0m4-2h0m8 5h0m5-1h0m2 0h0m17-1h0m2-1h0m5 1h0m5 1h0m1-3h0m29-1h0m16 1h0m13 0h0m18 0h0m2 3h0m2-1h0m8 2h0m1-2h0m10 1h0m28 2h0m2 0h0m11-2h0m10 1h0m13-1h0m9-2h0m13 0h0m9 2h0m21-3h0m16 3h0m8-2h0m2 0h0m11 3h0m7-4h0m5 1h0m21-2h0m1 4h0m11-1h0m5 1h0m6-2h0m5 0h0m3 1h0m23-1h0m-686 4h0m3 2h0m8 3h0m1-4h0m1 1h0m4 4h0m7-2h0m5-1h0m5 2h0m1-4h0m6 2h0m31 0h0m2-2h0m4-1h0m5 3h0m90-1h0m20 0h0m10 3h0m35-2h0m29 2h0m1-3h0m1 3h0m3 1h0m12-2h0m3-2h0m2-2h0m4 5h0m8 0h0m3-4h0m4 0h0m8 0h0m12 1h0m2 2h0m1-2h0m7 1h0m12-1h0m2 4h0m7-4h0m0 4h0m2-6h0m7 2h0m1 2h0m7 1h0m5-2h0m7 2h0m15 0h0m4 0h0m5 0h0m11-2h0m20 1h0m90 1h0m3-2h0m25-3h0m8 0h0m2 2h0m6 3h0m12-1h0m18-2h0m20 3h0m18-3h0m17 0h0m1 0h0m5 4h0m9-1h0m5-2h0m0 2h0m7 0h0m1-3h0m0 0h0m2 2h0m1-4h0m3 6h0m1-3h0m-698 7h0m8-4h0m4 1h0m5 5h0m0-4h0m2 1h0m2 2h0m9-1h0m3 1h0m0-1h0m2-2h0m4 4h0m8-5h0m0 1h0m6 1h0m3 1h0m4-1h0m7-1h0m3 0h0m2 2h0m124 0h0m24-2h0m2 4h0m28 0h0m8-3h0m0-1h0m3-1h0m4 2h0m10-1h0m11 0h0m3-2h0m11 4h0m4-2h0m18 2h0m0-4h0m10 3h0m8-2h0m9 3h0m3-1h0m4-3h0m6 0h0m1 2h0m2-2h0m16 5h0m2-3h0m13 1h0m5 0h0m0-2h0m9-1h0m8 3h0m6-2h0m14 2h0m6-1h0m9-2h0m5 5h0m36-4h0m4 2h0m11 0h0m11-1h0m9 4h0m7-3h0m39-1h0m31 2h0m47 0h0m5 1h0m0 0h0m1-1h0m4 0h0m7 1h0m0-3h0m3 4h0m7-3h0m13-1h0m0 1h0m6-1h0m-693 5h0m2 1h0m2 3h0m22 1h0m7-3h0m7 2h0m3-3h0m2 3h0m0 0h0m2-2h0m17 2h0m1-2h0m2-1h0m0 2h0m10 1h0m23-5h0m91 5h0m3-2h0m40 3h0m25-5h0m9 2h0m6-2h0m12 3h0m6-4h0m21 1h0m21-1h0m13 3h0m7 3h0m2-4h0m4 2h0m3-4h0m6 0h0m19 1h0m9 5h0m9-3h0m14-2h0m50 2h0m5-2h0m2 2h0m23-2h0m7 3h0m5 0h0m27-3h0m13 4h0m21-3h0m29 3h0m49 0h0m4-3h0m3 0h0m7 2h0m3 2h0m3-3h0m5 2h0m0-5h0m9 1h0m0 1h0m6-2h0m5 2h0m5 2h0m-698 6h0m0-1h0m3 2h0m2-4h0m4 3h0m5-2h0m7-1h0m4 2h0m7-2h0m10 1h0m6 3h0m7-2h0m2 1h0m8 1h0m2-4h0m136 1h0m102 2h0m8-2h0m25-1h0m11 2h0m3 1h0m9-2h0m4 3h0m9-4h0m4 3h0m1-2h0m11 0h0m5 1h0m28-1h0m15 3h0m11 0h0m33-4h0m19 1h0m17 1h0m24 0h0m6 0h0m3-2h0m64 3h0m22 0h0m13-1h0m20 0h0m7-1h0m6 3h0m1-4h0m1 4h0m5 0h0m1-3h0m-685 7h0m1-1h0m1 3h0m4-4h0m6 4h0m2-4h0m3 3h0m7-3h0m0 4h0m7 0h0m0-4h0m1 4h0m4 1h0m13-3h0m8-1h0m14 4h0m223 0h0m24 0h0m46-5h0m20 3h0m21 0h0m7-3h0m22 4h0m44-2h0m14 2h0m14 0h0m8-4h0m1 5h0m7-1h0m9-4h0m12 4h0m14-1h0m38-2h0m31 0h0m16-1h0m1 3h0m4 1h0m7-1h0m2-2h0m4 3h0m5 0h0m6-4h0m0 0h0m14 5h0m-692 3h0m8 2h0m7-2h0m9-2h0m4 4h0m10-1h0m0 2h0m4-4h0m3 1h0m1 3h0m9-1h0m37-4h0m212 4h0m18-1h0m38-2h0m71 1h0m11 1h0m6-1h0m8 0h0m19 3h0m16-1h0m9 1h0m19-2h0m10-2h0m5 1h0m8 1h0m8 0h0m14 1h0m5 0h0m3-3h0m11 0h0m35 4h0m1-4h0m7-1h0m6 1h0m18 3h0m6 0h0m1-2h0m5-1h0m5 1h0m2-3h0m0 4h0m2 1h0m11-2h0m3-3h0m2 4h0m14 1h0m-701 5h0m7 1h0m4-5h0m2 4h0m4 0h0m7 1h0m4-5h0m1 6h0m3-5h0m11-1h0m0 5h0m4 1h0m6-5h0m5 1h0m13 0h0m2 2h0m368-1h0m14 3h0m15-3h0m18-2h0m25 4h0m31 1h0m10-5h0m8 3h0m19-3h0m7 0h0m5 3h0m2-4h0m17 4h0m9 1h0m23-4h0m23 2h0m2-2h0m8-1h0m0 5h0m4-2h0m9-3h0m8 5h0m2-4h0m-698 6h0m8 4h0m2-5h0m11 3h0m3-1h0m3 3h0m5-4h0m0 3h0m5 1h0m17-4h0m150 3h0m3 2h0m4-2h0m103-2h0m86 1h0m53 2h0m4 1h0m18-4h0m25 1h0m19-1h0m26 3h0m9-1h0m8-3h0m8 0h0m37 0h0m27 5h0m7-6h0m1 6h0m4-1h0m7-2h0m2 1h0m1-1h0m7-1h0m1 4h0m4-3h0m6-3h0m9 1h0m5 4h0m0-4h0m1 1h0m7 2h0m5-3h0m-709 9h0m5 2h0m2-2h0m2 1h0m2-2h0m2-2h0m4 0h0m10 3h0m4 1h0m1-4h0m16 2h0m1 1h0m3 1h0m3 1h0m4-1h0m2-4h0m5 3h0m1-1h0m137-1h0m55 4h0m70-4h0m5 1h0m109 1h0m74 2h0m116-6h0m15 3h0m14-2h0m16 3h0m2 2h0m9-1h0m12-4h0m4 1h0m-706 9h0m3-1h0m13-2h0m6 4h0m5-5h0m4 0h0m1-1h0m26 5h0m8-3h0m3 4h0m151-2h0m11 2h0m1-1h0m177-3h0m60-2h0m35 5h0m2-2h0m34 1h0m21-3h0m56 0h0m10 3h0m0-3h0m25 4h0m6-5h0m5 2h0m0 0h0m4 2h0m3-3h0m1 3h0m7-3h0m1 2h0m7-1h0m2 2h0m2-4h0m1 5h0m10-2h0m1 3h0m-715 3h0m11 3h0m4-2h0m6-4h0m8 0h0m5 5h0m5-2h0m7 0h0m0-3h0m6 3h0m5 1h0m6-3h0m15-1h0m5 4h0m8-4h0m0 5h0m1-4h0m0 2h0m7-1h0m0 3h0m139 0h0m8 1h0m1-2h0m2-2h0m1 1h0m13-1h0m68 2h0m152-4h0m4 6h0m79-5h0m85 3h0m6 2h0m6-1h0m11 0h0m9-4h0m14 3h0m3-1h0m-699 6h0m13 2h0m1-4h0m3 0h0m2 3h0m8 1h0m13-2h0m8 1h0m4 2h0m6-2h0m0 1h0m8-4h0m6 4h0m6-1h0m4-4h0m145 4h0m30-4h0m19 0h0m203 4h0m2-3h0m178 0h0m15 3h0m14 0h0m4-2h0m1 0h0m-674 9h0m5-1h0m12-1h0m2 3h0m5-3h0m3-1h0m3 4h0m0-6h0m7 2h0m3 0h0m3 0h0m3-2h0m1 1h0m3 1h0m7 0h0m8 2h0m7 2h0m6-2h0m3-1h0m1 2h0m125 0h0m9 0h0m1-4h0m3 3h0m7-3h0m14-1h0m3 2h0m2 4h0m40 0h0m18-6h0m123 1h0m239 2h0m3-2h0m-680 10h0m4-5h0m3 5h0m8-1h0m9-2h0m3 3h0m3-3h0m3 3h0m5-1h0m2-4h0m2 4h0m1 0h0m5 1h0m6-2h0m10 1h0m3 0h0m1-1h0m3-1h0m1 4h0m7 0h0m3-3h0m3 3h0m9 0h0m3-2h0m128 0h0m1-2h0m1 1h0m4-2h0m2 3h0m26 1h0m4-3h0m64 0h0m2 3h0m105-4h0m-428 8h0m7 2h0m8-3h0m10 1h0m12 2h0m9-1h0m1 1h0m9-1h0m7-2h0m1 2h0m65 0h0m91 1h0m6-2h0m1-1h0m12 0h0m5 3h0m8-3h0m7-2h0m188 0h0m81 1h0m11 3h0m-544 4h0m10 3h0m7-5h0m5 3h0m10-2h0m12 0h0m10 1h0m8 0h0m2 2h0m14 1h0m2-3h0m16 2h0m8-1h0m8 1h0m113-4h0m1 4h0m9-3h0m-227 10h0m31 1h0m12-4h0m23 3h0m10-3h0m11-1h0m5 1h0m12 1h0m25-3h0m109 0h0m75 3h0m5-1h0m-303 7h0m6 2h0m4 0h0m5-3h0m4 2h0m21-2h0m21 1h0m1-1h0m6 2h0m12 0h0m19-3h0m103 4h0m16-3h0m75 0h0m1 2h0m156 1h0m-462 5h0m1 1h0m3-4h0m2 0h0m5 0h0m7 1h0m21 3h0m2-1h0m2-3h0m1-1h0m16 4h0m5-2h0m4 2h0m13-1h0m4 0h0m9 0h0m15 0h0m22 0h0m69-1h0m2 1h0m3 1h0m12-1h0m6 0h0m6 1h0m7-3h0m61 4h0m5-3h0m12 1h0m-316 3h0m7 1h0m18 0h0m7 1h0m12 4h0m13 0h0m27-3h0m13 2h0m99 1h0m69-2h0m39 1h0m5-5h0m1 2h0m2 1h0m3-3h0m-288 10h0m11 0h0m7 0h0m5 2h0m7-2h0m13 0h0m2 0h0m9-4h0m7 0h0m11 5h0m8-3h0m0 2h0m14 1h0m51 1h0m19-5h0m9 0h0m89 0h0m28 4h0m-292 2h0m12 0h0m3 0h0m15 2h0m3 3h0m12-6h0m7 3h0m13-1h0m1 3h0m3-3h0m185 3h0m8 1h0m6-3h0m0 1h0m9-2h0m-278 7h0m14 1h0m14-1h0m16 1h0m25-3h0m5 3h0m4-1h0m15-2h0m9 3h0m30-3h0m121 2h0m9-1h0m-255 9h0m19-4h0m12 0h0m6 4h0m2-5h0m7 2h0m5 4h0m77-3h0m60 1h0m38-2h0m2-1h0m5 3h0m8-3h0m69 1h0m-297 9h0m1-2h0m0-1h0m5 0h0m4 0h0m8 4h0m4-2h0m11-4h0m8 3h0m4-3h0m3 1h0m14 1h0m11 4h0m38-5h0m126-1h0m3 1h0m50 2h0m8 2h0m-289 6h0m2 0h0m3-4h0m10 0h0m4-1h0m52 2h0m18 1h0m8-3h0m140 4h0m72 0h0m-318 4h0m24-1h0m49-1h0m7 3h0m48 0h0m169-1h0m3 1h0m7-2h0m1 1h0m-220 6h0m16 3h0m142-3h0m73 2h0m-227 6h0m67 6h0m-68 3h0m22 2h0m5 2h0m163-2h0m5-1h0m-170 10h0m1-4h0m113 1h0m-107 4h0m2 2h0m125-3h0m-1 11h0m49 1h0m122-5h0m138 2h0m-434 7h0m2-4h0m6 2h0m255 3h0m22 0h0m-302 4h0m1 3h0m28-6h0m6 3h0m131 2h0m127-3h0m4 4h0m26-2h0m-184 7h0m155-1h0m2 1h0m61-4h0m-356 10h0m10-1h0m41-1h0m70-1h0m171 3h0m34-3h0m-291 9h0m24-1h0m218 2h0m15-2h0m3 0h0m3-1h0m1 2h0m6-4h0m5 1h0m-219 10h0m3-4h0m1 2h0m2-4h0m2 3h0m8 1h0m18-1h0m9-1h0m6 4h0m16-2h0m102 2h0m3 0h0m9 0h0m2-5h0m1 3h0m1-3h0m15 0h0m8 4h0m3-3h0m4 1h0m-296 6h0m2-2h0m20 4h0m20-2h0m75 2h0m3 0h0m9 1h0m125-1h0m4-2h0m3 0h0m13-1h0m5 3h0m1-4h0m1 3h0m4-2h0m3 0h0m2 0h0m17 3h0m8 0h0m-312 2h0m4 5h0m11-1h0m6 0h0m10 0h0m4 1h0m13-5h0m8 0h0m5 1h0m1 4h0m12-5h0m12 4h0m16-2h0m2 1h0m1 0h0m13 0h0m5-3h0m1 4h0m12-1h0m9 1h0m4-2h0m4 1h0m120-3h0m-268 10h0m9-2h0m11-1h0m10 0h0m3 1h0m1 2h0m0-4h0m2 5h0m3-1h0m6-4h0m5 3h0m3 1h0m5-1h0m12-1h0m8-3h0m13 0h0m17 5h0m3-1h0m19-1h0m9 1h0m161-2h0m-297 5h0m13 2h0m2 3h0m3 0h0m9 0h0m38-6h0m10 4h0m51 1h0m5 0h0m2-2h0m3 3h0m5-2h0m-139 7h0m6-3h0m9-1h0m7 2h0m11 2h0m10-5h0m4 3h0m1 2h0m7-2h0m8 0h0m14 2h0m8 1h0m4-3h0m30 0h0m4-1h0m9-1h0m121 0h0m12 5h0m1-1h0m1-3h0m7 4h0m3-2h0m4 1h0m23-4h0m-308 5h0m2 4h0m4 1h0m3-4h0m0 2h0m6-2h0m5 0h0m12 4h0m10-2h0m2-2h0m2 3h0m7-1h0m3 1h0m19 1h0m14-2h0m7 0h0m11-2h0m4 3h0m4 2h0m4-1h0m11-5h0m13 1h0m108 0h0m14 1h0m4-1h0m1 4h0m3-1h0m2-2h0m8 4h0m14-6h0m-297 8h0m2-1h0m8 0h0m1 2h0m16 2h0m13 0h0m2-3h0m7-1h0m5 4h0m26-1h0m10-1h0m24 3h0m4-1h0m5-2h0m20 2h0m115-5h0m2 5h0m2-2h0m3 0h0m4-3h0m10 3h0m17-1h0m3 1h0m-297 7h0m16 1h0m2 0h0m6-3h0m2 1h0m4 1h0m2 2h0m2-4h0m2 2h0m4 0h0m3 1h0m8-5h0m1 1h0m1 4h0m4-3h0m3 1h0m7 0h0m4-2h0m8 4h0m7-1h0m41 0h0m5-1h0m130-3h0m0 2h0m4 1h0m4 3h0m5 0h0m11 0h0m6-3h0m2 1h0m-286 4h0m11 0h0m1-1h0m3 0h0m2 1h0m5 3h0m2 1h0m6-4h0m13 3h0m1-4h0m34 3h0m6-2h0m26 2h0m5-3h0m159 0h0m-276 6h0m7 4h0m4-3h0m12 1h0m4 1h0m3-1h0m6-1h0m19-2h0m0 6h0m12-5h0m15 1h0m7 0h0m6 3h0m2-4h0m21 0h0m7 4h0m5-2h0m1 2h0m1-1h0m-134 3h0m0 1h0m10 0h0m1 1h0m15 0h0m1 2h0m9-1h0m11-2h0m7 2h0m3-4h0m13 0h0m2 3h0m6-3h0m6 0h0m3 6h0m29-2h0m2-4h0m3 4h0m11 2h0m-119 5h0m11 0h0m3-3h0m7 4h0m5-6h0m10 5h0m3 0h0m7-3h0m17 1h0m8 2h0m39-4h0m-108 8h0m2-2h0m5 5h0m9-4h0m3-2h0m7 3h0m4 2h0m15-2h0m9 1h0m3-1h0m23 0h0m4 1h0m19 1h0m7-5h0m2 3h0m-99 3h0m2 0h0m11 5h0m7 0h0m20-4h0m6 1h0m11 1h0m3-2h0m9 5h0m4-6h0m8 1h0m1 4h0m5-2h0m7 2h0m-92 2h0m2 4h0m19-2h0m3 0h0m4 3h0m4 0h0m7-6h0m12 6h0m5-5h0m12 4h0m2-4h0m9 4h0m6-4h0m1 2h0m10-2h0m-97 11h0m1 0h0m11-1h0m46 0h0m5-4h0m9-1h0m0 5h0m-53 2h0m29 0h0m3 3h0m0-3h0m31-1h0m22 5h0m-87 2h0m2-1h0m11 2h0m8-2h0m17 1h0m7 1h0m8 2h0m10-3h0m16 5h0m2-6h0m-81 9h0m6-2h0m10-1h0m25 3h0m6 3h0m2-3h0m5 2h0m17-1h0m-66 5h0m18 1h0m16 0h0m18 1h0m2-3h0m3 0h0m-52 6h0m0 3h0m14 1h0m2-6h0m27 0h0m-15 8h0m-3 7h0m1 2h0m4-3h0m4 0h0" stroke="#4393C3"/>
<path d="M1800 58h0m54 11h0m-127 6h0m68-2h0m36 2h0m3-6h0m3 4h0m10-3h0m-62 6h0m35 4h0m2-1h0m1-1h0m17 2h0m4-4h0m5 3h0m1-1h0m7-3h0m16 4h0m2-4h0m-179 9h0m1 2h0m28-2h0m12-2h0m2 4h0m7 0h0m63-2h0m20-3h0m4 5h0m10-4h0m18 3h0m3 1h0m14 0h0m-185 7h0m2-3h0m3 2h0m10-4h0m10 3h0m7-2h0m2-1h0m1 3h0m4-2h0m14 2h0m8 1h0m82-2h0m26 3h0m16-2h0m-194 6h0m7-2h0m7 2h0m3-3h0m2 3h0m12-1h0m6-2h0m11 4h0m0-3h0m4 0h0m4 0h0m6-1h0m1 4h0m1-4h0m3 1h0m8-2h0m26 6h0m5-4h0m8 2h0m16-3h0m20 2h0m5 2h0m27-4h0m2 1h0m-374 7h0m134-1h0m23 2h0m3-1h0m9-2h0m0 4h0m2-2h0m28-1h0m7 1h0m10 2h0m1-3h0m17-2h0m10 3h0m0 1h0m49-2h0m24 3h0m7 0h0m3-2h0m3-2h0m5 0h0m4 3h0m3-1h0m5-2h0m11 5h0m3-4h0m7 0h0m12-1h0m4 0h0m12 2h0m19 0h0m-284 7h0m12 0h0m4-1h0m3-2h0m9 1h0m5 0h0m5 0h0m2 1h0m2-2h0m3 1h0m12 1h0m5-2h0m10 4h0m12-4h0m4 4h0m4-4h0m10 5h0m1-5h0m8 2h0m4-1h0m34 3h0m4-4h0m15 2h0m9 0h0m6 2h0m12 0h0m3-5h0m4 5h0m16-4h0m14 2h0m15 2h0m24-1h0m12-2h0m-416 7h0m116 2h0m3-1h0m3-1h0m19 0h0m2 0h0m23-1h0m3 2h0m10 1h0m5-5h0m1 2h0m3 1h0m8 1h0m2-3h0m0 3h0m9-3h0m15 0h0m26 1h0m7-2h0m6 2h0m10 2h0m12 0h0m57-3h0m4 4h0m9-4h0m4 0h0m10 2h0m31-2h0m1 3h0m2 2h0m-284 4h0m18-2h0m2 3h0m5-3h0m11 0h0m3 3h0m4-1h0m1-4h0m7 3h0m3-2h0m21-1h0m32 0h0m11 0h0m14 3h0m2 1h0m8-4h0m1 5h0m26-1h0m4-3h0m5 5h0m24-4h0m0 3h0m16-3h0m6 2h0m11-3h0m4-1h0m3 2h0m14-1h0m1 3h0m12-2h0m4-2h0m1 1h0m3-1h0m22 0h0m1 5h0m3 0h0m1-4h0m7 2h0m-321 7h0m7 2h0m5 0h0m18-3h0m9 0h0m3-1h0m5 3h0m7-3h0m58 1h0m7 0h0m26-3h0m10 2h0m56 1h0m14 0h0m7 2h0m13-3h0m8 2h0m8 2h0m2-4h0m10 3h0m2-1h0m2 1h0m15-3h0m10 1h0m2-3h0m10 5h0m6-2h0m3 1h0m2 0h0m0-3h0m-479 10h0m141-1h0m5 1h0m12-5h0m2 3h0m1-1h0m19 3h0m22-2h0m78 1h0m11 0h0m35-2h0m12 0h0m15 1h0m6 0h0m4-3h0m6 4h0m12-4h0m9 5h0m1-1h0m3-4h0m7 0h0m11 4h0m11-2h0m10 0h0m6 2h0m12 1h0m4-5h0m3 4h0m0-3h0m2 2h0m7-3h0m3 6h0m3-5h0m11 3h0m-475 5h0m139-3h0m10 0h0m19 1h0m12-1h0m88 0h0m30 0h0m24 3h0m2 0h0m1 0h0m8 2h0m28 1h0m5-2h0m15 2h0m20-2h0m6-4h0m4 5h0m7-1h0m22 2h0m14-5h0m17 3h0m0 0h0m-453 5h0m240-1h0m10 1h0m20-1h0m3 3h0m0-4h0m0 0h0m7 2h0m11 0h0m3-3h0m17 0h0m15 0h0m4 2h0m27 0h0m2 3h0m16-4h0m1 4h0m10-3h0m11 3h0m3-1h0m2-4h0m1 4h0m1-4h0m2 3h0m6-1h0m9 3h0m3-2h0m7-3h0m2 5h0m12-2h0m6-1h0m-218 6h0m44 4h0m27-2h0m13-3h0m18 0h0m26 4h0m11-5h0m4 4h0m5 1h0m2 0h0m1-5h0m1 2h0m5 3h0m2-3h0m7 2h0m1-4h0m7 4h0m8 0h0m7-1h0m2-1h0m5-1h0m8 4h0m11-3h0m7 0h0m2 3h0m5-3h0m3-1h0m-349 6h0m124 0h0m42 0h0m3-1h0m6 5h0m14-3h0m4 3h0m1-4h0m3-1h0m32 4h0m1-1h0m0 2h0m5-3h0m5 2h0m13-3h0m15 1h0m9 2h0m3 1h0m3-1h0m2-3h0m13 3h0m3-4h0m9 2h0m0 2h0m3-2h0m10 1h0m9-2h0m1-1h0m4 4h0m1-1h0m6 3h0m-460 5h0m124-5h0m136 5h0m52-1h0m16-3h0m6 1h0m17-2h0m23 3h0m8 2h0m6-3h0m9 1h0m2 3h0m12-5h0m1 2h0m12-1h0m2 1h0m19-2h0m7-1h0m4 4h0m-441 4h0m228 2h0m7 1h0m2-5h0m20 5h0m9-1h0m6 0h0m3 1h0m23-5h0m3 4h0m0-3h0m1 4h0m13-5h0m10 5h0m9-2h0m13 0h0m7-3h0m12 2h0m6-1h0m13 1h0m6 3h0m10-1h0m11 0h0m15 2h0m3-6h0m0 5h0m2-4h0m6 3h0m2-2h0m3 1h0m-233 8h0m4-1h0m25-2h0m5-1h0m4 4h0m38-1h0m7-2h0m5 2h0m2 1h0m5-1h0m4-2h0m31 1h0m4 1h0m17 0h0m13-1h0m4 2h0m2 0h0m3-1h0m1-2h0m17 3h0m9-4h0m13 1h0m3 1h0m4-2h0m8 0h0m2 4h0m0-4h0m-435 6h0m140 3h0m34-4h0m13 0h0m13 2h0m6 0h0m2-1h0m10 4h0m36-4h0m21 2h0m14 2h0m4-3h0m10-1h0m11 4h0m12-3h0m9-1h0m19-1h0m12 2h0m0 4h0m5-2h0m1-1h0m5 0h0m5 1h0m18-1h0m2 2h0m16-5h0m2 3h0m3 1h0m2 1h0m3-1h0m11-4h0m-304 8h0m20 4h0m0 0h0m43-3h0m3 1h0m31 1h0m18-5h0m6 4h0m5-1h0m1-2h0m0 0h0m7 1h0m18 1h0m1 0h0m8 2h0m14-1h0m3-2h0m3 2h0m4 0h0m9-3h0m1 3h0m2 2h0m4-1h0m4-2h0m0-2h0m6 3h0m0-2h0m16 3h0m8-2h0m23-1h0m3 2h0m2-1h0m11 2h0m0-3h0m7 4h0m4-1h0m5 1h0m1-4h0m1 1h0m10 0h0m2 3h0m-558 5h0m0-1h0m6 0h0m2-3h0m8-1h0m246 2h0m1-1h0m10 5h0m3-2h0m25-4h0m1 5h0m9-3h0m72 4h0m22-4h0m2 2h0m2-1h0m24 0h0m7-2h0m6 0h0m5 1h0m6 0h0m5 0h0m2-1h0m6 4h0m3-4h0m6 1h0m7-1h0m5-1h0m1 5h0m8-5h0m11 3h0m6 3h0m3-5h0m4 1h0m9 0h0m4 1h0m9-2h0m7 2h0m1 2h0m-621 6h0m3 0h0m3 1h0m4-5h0m8 4h0m11-1h0m6 1h0m5 1h0m11-2h0m7-3h0m0 3h0m2-4h0m2 5h0m2-3h0m5 3h0m1-4h0m1 3h0m6 2h0m4 0h0m1-3h0m3 2h0m4 1h0m38-3h0m68-2h0m111 3h0m23-2h0m5 3h0m6-2h0m3 0h0m11 3h0m31-3h0m4-2h0m2 0h0m1 3h0m10 0h0m23-1h0m42-3h0m30 2h0m2 3h0m1-2h0m6-2h0m5 0h0m1 5h0m17-3h0m3 2h0m2-4h0m6 5h0m1-1h0m12-1h0m14 1h0m14 1h0m2-2h0m1-3h0m1 3h0m5-1h0m5 1h0m12 0h0m0-4h0m5 1h0m1 1h0m-630 10h0m7-6h0m1 1h0m17 1h0m5 0h0m4-1h0m0 0h0m5 0h0m5-1h0m4 4h0m3 0h0m3-3h0m10 3h0m19-1h0m4 2h0m4-2h0m4-2h0m3 3h0m71-1h0m164-2h0m7 0h0m9 4h0m3-2h0m4-1h0m5 0h0m3 2h0m9-3h0m3 1h0m3 4h0m3-4h0m1 3h0m8-5h0m7 3h0m4 1h0m2-2h0m7 3h0m0-4h0m0 3h0m6-3h0m5 1h0m36-1h0m3 3h0m4-1h0m2-1h0m7 1h0m4-1h0m2 4h0m6-5h0m11 5h0m9-5h0m3 2h0m10-1h0m2 4h0m10-4h0m15 1h0m6-2h0m1 3h0m5 0h0m3-4h0m3 1h0m0 3h0m9-1h0m6 2h0m6-5h0m2 2h0m3 0h0m5 2h0m3 1h0m2-1h0m5 0h0m2 1h0m2-5h0m3 6h0m3-4h0m1 2h0m14-3h0m4 4h0m6-4h0m-647 9h0m0 1h0m17-2h0m6-1h0m16-2h0m2 3h0m7-3h0m0 0h0m7 5h0m1-1h0m5-1h0m2 2h0m2-2h0m6-2h0m10 4h0m2-5h0m67 3h0m63 2h0m128-5h0m0 3h0m1 1h0m4 1h0m5-4h0m0 5h0m1-4h0m3 2h0m2 2h0m1-5h0m3 1h0m9 1h0m20-1h0m16 3h0m4-2h0m3 2h0m2-4h0m4 3h0m5-2h0m3-1h0m23 5h0m14-5h0m2 2h0m1-2h0m1 4h0m0-2h0m3 2h0m2 1h0m1-4h0m7 2h0m0-3h0m17 5h0m9-3h0m0 2h0m4-5h0m5 4h0m8-1h0m12 3h0m1-5h0m14 0h0m6 0h0m4 4h0m4-1h0m3-2h0m2-1h0m4 2h0m15-1h0m0 1h0m4 1h0m1-1h0m4 2h0m23-2h0m4-1h0m2-2h0m11 3h0m3-1h0m-658 6h0m22 1h0m4 0h0m1 2h0m2-4h0m13 3h0m2-3h0m0 2h0m5 2h0m5-4h0m1 0h0m18 2h0m4-1h0m1 2h0m2 2h0m5-3h0m1-2h0m189-1h0m88 3h0m0 1h0m5-2h0m2 2h0m1 1h0m4-2h0m7 1h0m3-3h0m14 2h0m2 1h0m2-3h0m15 0h0m1 4h0m9-4h0m7 0h0m2-1h0m3 5h0m54-2h0m2-1h0m18-1h0m2 1h0m12 1h0m0-3h0m4 5h0m2-4h0m14 1h0m15 2h0m11 1h0m2 0h0m4-2h0m2 1h0m2-2h0m7 3h0m3-2h0m7-1h0m1 1h0m4-2h0m7 1h0m10 1h0m1-3h0m4 5h0m4-1h0m5-1h0m9-2h0m-643 7h0m6 4h0m4-2h0m2-3h0m5 3h0m9 0h0m0-4h0m8 1h0m2 0h0m6 4h0m15 0h0m2-5h0m3 6h0m16-1h0m7-5h0m2 2h0m7 0h0m1-1h0m43 3h0m67-2h0m42-2h0m106 2h0m2 2h0m6-4h0m1 1h0m1 1h0m1 3h0m4 0h0m6-4h0m1 2h0m5 2h0m1 1h0m0-4h0m3 2h0m5-2h0m2 2h0m2-3h0m4 0h0m1 0h0m5 2h0m5-1h0m2 2h0m8-3h0m6 1h0m8-1h0m4 1h0m4-1h0m45 5h0m2-4h0m0-1h0m3 5h0m26 0h0m14-5h0m3 5h0m1-5h0m6-1h0m0 3h0m7-2h0m2 5h0m5-4h0m4-1h0m17 4h0m4-5h0m5 2h0m4 0h0m1 2h0m9 0h0m1-3h0m10 0h0m5 3h0m14 0h0m4-2h0m1 0h0m8 2h0m2-2h0m13 1h0m-658 8h0m7 1h0m6-1h0m0-5h0m8 3h0m0-2h0m20 0h0m2 1h0m1 0h0m8 1h0m2 0h0m7 2h0m2-1h0m0-2h0m7 4h0m4-4h0m4 1h0m4 0h0m0-1h0m4 0h0m40 3h0m21-1h0m214-1h0m5 3h0m2-6h0m7 2h0m8 0h0m10-1h0m2 4h0m1 0h0m1-1h0m4 1h0m5-2h0m3-1h0m5-2h0m4 2h0m2 3h0m2-5h0m12 5h0m1 1h0m7-5h0m43 4h0m1 1h0m0-3h0m4-2h0m5 2h0m6 0h0m11-1h0m9 1h0m11-1h0m3-1h0m1 4h0m2 0h0m2-4h0m2 0h0m3 1h0m3 3h0m4-3h0m13 1h0m0 0h0m2 2h0m3-4h0m7 5h0m2-5h0m1-1h0m4 5h0m5 0h0m1-4h0m3 5h0m2-5h0m9 1h0m0 0h0m4 0h0m0 3h0m3-4h0m8 1h0m5 2h0m1-1h0m1-3h0m1 3h0m3 2h0m5-3h0m-630 8h0m2 0h0m4-1h0m8-1h0m2 3h0m2-2h0m7 2h0m8-1h0m15 0h0m2 2h0m1-6h0m2 4h0m0 0h0m4 0h0m12-1h0m4 0h0m2 0h0m2 2h0m2-2h0m35-1h0m34 2h0m18 1h0m204-1h0m8 1h0m8 0h0m6-1h0m2-2h0m5 3h0m1 0h0m7-1h0m0-3h0m2 3h0m0-3h0m18 0h0m56 1h0m18-1h0m5 3h0m15 2h0m3-1h0m8-1h0m5 0h0m1-3h0m5 0h0m3 5h0m1-5h0m7 2h0m5 2h0m5-1h0m9 0h0m1-3h0m6 2h0m13 0h0m5-2h0m7 2h0m4 2h0m3-1h0m5-3h0m4 0h0m12 0h0m4 2h0m-637 4h0m4 0h0m2 1h0m24 0h0m3-1h0m4-1h0m1 6h0m2-4h0m0 2h0m8 0h0m5 1h0m2-5h0m3 5h0m9-4h0m1 2h0m3 1h0m6-3h0m1-1h0m15 1h0m73 5h0m40-3h0m153 0h0m32-1h0m6 1h0m8 2h0m43-4h0m39 4h0m6-2h0m7-2h0m8 3h0m5-4h0m4 1h0m6 1h0m3-2h0m1 5h0m4-5h0m0 2h0m0 3h0m4-4h0m0 3h0m5 0h0m6 0h0m11 2h0m4-4h0m1 0h0m2 4h0m10-3h0m8 2h0m4-2h0m2 2h0m6 0h0m0-1h0m2-2h0m3-1h0m4 4h0m2-2h0m36-1h0m-642 9h0m9 0h0m2-2h0m1 0h0m10 1h0m7 0h0m7-3h0m4 5h0m7-2h0m51 1h0m22-2h0m16 1h0m17-3h0m238 2h0m98 0h0m2 3h0m1-6h0m6 3h0m9-1h0m5-2h0m1 2h0m2 1h0m1 2h0m4 0h0m1-5h0m5 5h0m1-2h0m0 1h0m16-2h0m1 4h0m7-5h0m6 3h0m4-3h0m1 0h0m9 0h0m11 3h0m6 1h0m1-3h0m15 0h0m13-2h0m14 4h0m6-3h0m4 1h0m-649 9h0m9 0h0m36-1h0m6-1h0m13-1h0m53 3h0m4-5h0m52 5h0m330-4h0m11 3h0m12 1h0m4 0h0m1-3h0m8-2h0m3 3h0m0-3h0m13 4h0m7-4h0m0 1h0m3 4h0m3-2h0m2-3h0m0 0h0m8 1h0m9 2h0m4-2h0m15 2h0m38-1h0m2-1h0m0 0h0m3 2h0m-645 4h0m29 3h0m39 1h0m5-5h0m31 4h0m42-1h0m215-2h0m125 2h0m16-2h0m1 3h0m13-1h0m2-1h0m1 2h0m0 1h0m4-2h0m3 3h0m4-1h0m16 0h0m4-5h0m1 4h0m18-4h0m2 0h0m39 3h0m21 1h0m16-3h0m9 3h0m12 0h0m-582 7h0m33-3h0m16 1h0m27 0h0m3-2h0m296 3h0m37-3h0m4 0h0m7 1h0m2 3h0m0-4h0m1-1h0m10 1h0m9 4h0m7-2h0m5 1h0m89-3h0m13 2h0m2-2h0m2 0h0m1 2h0m1 2h0m-496 5h0m228-4h0m16 3h0m133-2h0m40 0h0m9 4h0m34-2h0m25 2h0m3 1h0m1-1h0m2-4h0m9 3h0m-630 5h0m38 2h0m22-3h0m10-1h0m48 0h0m419 3h0m2-3h0m14 2h0m32-2h0m21 0h0m2-1h0m2 4h0m6-1h0m9 0h0m2-2h0m-610 9h0m15-3h0m40 1h0m42 3h0m7 0h0m2-4h0m30 4h0m243-1h0m170-1h0m5-2h0m31 4h0m8-3h0m4 0h0m-537 5h0m21 0h0m32 2h0m67 1h0m373 1h0m2 1h0m14-2h0m6 2h0m0 0h0m9-5h0m8 1h0m7-1h0m2 1h0m2 4h0m16 0h0m8-1h0m-621 3h0m117 0h0m7 0h0m5-1h0m256-1h0m142 1h0m41 2h0m4-2h0m5 1h0m10-1h0m1 4h0m7-2h0m-537 5h0m34 3h0m12-3h0m39-2h0m231 1h0m5 2h0m188-3h0m9 2h0m9 4h0m11-5h0m8 4h0m-550 4h0m7 1h0m43-3h0m274-1h0m177 2h0m18 4h0m5-5h0m4-1h0m10 6h0m17-3h0m3 0h0m5-3h0m-548 9h0m3 3h0m33-5h0m15 4h0m32-4h0m209 5h0m145-4h0m41 0h0m8 3h0m5-3h0m5-1h0m6 5h0m3-4h0m12 0h0m5 1h0m4-1h0m9 1h0m2-2h0m2 0h0m0 2h0m1 0h0m2-1h0m14 0h0m-542 10h0m24-3h0m447 3h0m7-6h0m0 3h0m2-2h0m6-1h0m1 5h0m0 1h0m8-3h0m33 2h0m19-2h0m-241 9h0m88-4h0m33-1h0m54 4h0m8 1h0m11-4h0m6-1h0m33 1h0m1 2h0m1-3h0m4 2h0m4 2h0m-282 5h0m8-2h0m160 4h0m12-2h0m4 1h0m14-2h0m14 0h0m11 2h0m13 0h0m4-3h0m5 0h0m4-2h0m15 4h0m14 1h0m-262 4h0m10-1h0m160 2h0m15 1h0m0-4h0m4 1h0m10 1h0m15-2h0m9 0h0m12 2h0m10 0h0m1 3h0m33-4h0m-277 7h0m2 0h0m2 0h0m9-2h0m140 3h0m19-2h0m1 4h0m8-4h0m4 1h0m28-2h0m3 0h0m3 1h0m24 2h0m8-3h0m0 5h0m-265 6h0m158-3h0m19-3h0m4 4h0m18-2h0m7 0h0m17 4h0m8 0h0m17 0h0m17-2h0m2-2h0m7-2h0m0 2h0m-287 8h0m31-3h0m135 1h0m15 1h0m2 1h0m19-3h0m20 1h0m11 0h0m7-2h0m7 1h0m17 2h0m6 2h0m16-4h0m15 0h0m-290 9h0m14-3h0m107 3h0m39-1h0m3-2h0m3 5h0m22-2h0m3 2h0m34-4h0m19 2h0m14 2h0m18-5h0m6 4h0m2-4h0m1 2h0m-167 9h0m23-3h0m4-2h0m3 5h0m0-3h0m1 3h0m5-4h0m4 2h0m4-4h0m8 2h0m0 4h0m31-2h0m7-4h0m5 1h0m2 1h0m8 1h0m11 1h0m33 1h0m2-3h0m10 2h0m-298 7h0m17-3h0m6 2h0m106 1h0m7-4h0m6 1h0m17 3h0m6 0h0m10 0h0m7 1h0m15-4h0m4 1h0m2-2h0m2 2h0m4 3h0m6-5h0m5 4h0m2-4h0m2 4h0m10-2h0m4 2h0m25 0h0m4-5h0m5 1h0m1 4h0m1-2h0m3 2h0m4 1h0m7-5h0m3 3h0m4-2h0m15 3h0m-295 5h0m87 0h0m38 1h0m18-2h0m3 1h0m39 0h0m22 1h0m6 1h0m5-4h0m20 2h0m4-2h0m4 1h0m4 1h0m10 1h0m18 0h0m12-3h0m11 0h0m1 0h0m-311 7h0m47 2h0m69-4h0m13 1h0m6 4h0m30-6h0m4 1h0m3 4h0m2 0h0m5-4h0m2 2h0m8-2h0m3-1h0m4 3h0m9-3h0m22 5h0m7 1h0m16-2h0m4-3h0m7-1h0m1 5h0m3-3h0m5 0h0m1-1h0m2-1h0m4 6h0m6-1h0m24-2h0m-359 4h0m78-1h0m42 4h0m2-3h0m7 2h0m10 0h0m27-2h0m4 4h0m1 0h0m15 0h0m7 0h0m16 0h0m14-4h0m17 5h0m12-1h0m11-4h0m25 2h0m19 0h0m23-1h0m0 0h0m6 2h0m4-1h0m10-2h0m3 4h0m-230 6h0m9-4h0m2 2h0m20 2h0m1 1h0m3-2h0m9 1h0m9-4h0m1 2h0m14 0h0m6-3h0m10 3h0m19-1h0m4 0h0m15-2h0m12 0h0m8 1h0m3 4h0m9-1h0m9-1h0m4-2h0m21 0h0m5 4h0m3-2h0m9 1h0m16 1h0m20 0h0m-350 6h0m15-1h0m98-2h0m61 2h0m1-2h0m18 0h0m3-2h0m10 6h0m6-2h0m22 1h0m3-5h0m9 3h0m15-3h0m8 2h0m16 1h0m14-2h0m5 4h0m12-5h0m8 2h0m13 2h0m1 0h0m-516 7h0m78-3h0m44 0h0m28 2h0m131 1h0m15-5h0m16 6h0m2-1h0m25 1h0m2-1h0m10-1h0m26 1h0m12-1h0m30-3h0m7 3h0m15 0h0m38-4h0m6 1h0m21 3h0m3 0h0m9-1h0m7-1h0m1 1h0m-373 5h0m132-1h0m9 3h0m32-3h0m10-1h0m18 2h0m0 3h0m2 0h0m16-5h0m2 4h0m10-2h0m6 2h0m3 2h0m7-4h0m21 3h0m1 1h0m1-5h0m14 4h0m12-3h0m30 4h0m2-2h0m8 1h0m0-1h0m17 1h0m5-4h0m6 1h0m1 1h0m15 2h0m-390 4h0m27-1h0m81 3h0m5-4h0m2 3h0m7-2h0m5 2h0m4-2h0m1 4h0m12-1h0m3-2h0m6 3h0m4-3h0m9-3h0m16 1h0m6 3h0m12-3h0m1 4h0m33 0h0m3-1h0m4-1h0m19 3h0m10-4h0m5 0h0m15 3h0m4-1h0m20-3h0m13 0h0m9 4h0m17-3h0m8 3h0m-497 2h0m128 0h0m161 4h0m1-3h0m3 3h0m18-2h0m4 2h0m15-1h0m26-1h0m6-1h0m3 1h0m16-2h0m5 3h0m2-3h0m10 3h0m15-1h0m13-1h0m32 0h0m6 4h0m18-2h0m4 1h0m3-2h0m14-2h0m35 3h0m-412 8h0m95-4h0m12 4h0m8-1h0m17 0h0m10 0h0m1-4h0m25 1h0m6-2h0m15 3h0m32-3h0m20 2h0m5 1h0m30 2h0m5-3h0m7-1h0m3 3h0m2 1h0m2 1h0m11 0h0m6-4h0m27-2h0m45 5h0m1-4h0m27 4h0m-557 5h0m4 0h0m35 1h0m95-1h0m133-1h0m34-1h0m36 2h0m14-1h0m21-2h0m7 5h0m49-4h0m14 4h0m23-3h0m24 2h0m3-1h0m6 0h0m20-2h0m9 0h0m-333 7h0m30 1h0m3-3h0m35 5h0m31-2h0m41-1h0m17 1h0m7-4h0m17 1h0m20 3h0m12-3h0m3 2h0m13 1h0m7-3h0m7 1h0m22 3h0m7-2h0m30 2h0m7-4h0m47 1h0m17 0h0m-453 7h0m20 0h0m9 0h0m67-3h0m12 1h0m9 4h0m23-1h0m6-1h0m35-2h0m6 1h0m21 3h0m22-3h0m14 1h0m3 2h0m5-3h0m31-1h0m4 3h0m3 1h0m21-3h0m0 0h0m7-2h0m3 1h0m8 1h0m0 4h0m9-3h0m12 1h0m7-1h0m109 1h0m-604 5h0m8-2h0m160 1h0m20-1h0m4-1h0m54 4h0m5-4h0m6 4h0m14-2h0m8-1h0m27 3h0m8 1h0m4 0h0m74-1h0m18 1h0m1-1h0m5 0h0m7-1h0m10 1h0m2 0h0m2-1h0m16-2h0m0 4h0m3-1h0m6 0h0m12-3h0m80 4h0m21-4h0m3 4h0m8-1h0m2-3h0m-585 6h0m51 5h0m94-1h0m25 1h0m18 0h0m36-4h0m0 2h0m1-2h0m38-1h0m28 4h0m9-5h0m13 3h0m26 0h0m2 2h0m7-1h0m8-1h0m18 1h0m4-4h0m3 5h0m3-4h0m15 0h0m5 0h0m16 1h0m16 1h0m13-2h0m20 5h0m2-4h0m17-2h0m25 3h0m13 1h0m10-3h0m13 4h0m6-1h0m-569 8h0m153-1h0m3-3h0m54 1h0m15 2h0m4-1h0m43-2h0m6 1h0m38 2h0m14-1h0m34 2h0m12-4h0m11 3h0m15-4h0m17-1h0m5 2h0m19 0h0m18-2h0m5 1h0m6-1h0m37 3h0m43 3h0m25-1h0m17 0h0m27-3h0m-613 4h0m70 2h0m70 0h0m56 1h0m18-2h0m17 0h0m8 5h0m4-1h0m51-5h0m2 4h0m6 0h0m4 1h0m8-4h0m23 1h0m35 0h0m13-2h0m9 2h0m9 3h0m9-5h0m29 1h0m20 3h0m9 2h0m1-6h0m11 4h0m27-2h0m31 4h0m41-5h0m8 2h0m-560 5h0m192 1h0m13-1h0m6-1h0m19 2h0m14 1h0m19-1h0m3 0h0m4 1h0m83-3h0m22 0h0m18 2h0m21-1h0m4 3h0m66-2h0m10 2h0m28-3h0m1 3h0m45-1h0m2-2h0m31 0h0m4 1h0m14-1h0m-648 7h0m6-3h0m18 3h0m121-1h0m13 3h0m27-4h0m55 0h0m6 2h0m57-3h0m11 5h0m5-4h0m33 2h0m17-2h0m9 0h0m2 2h0m31-3h0m13 0h0m49 0h0m19 3h0m23 2h0m69-2h0m36-1h0m7 4h0m-632 4h0m69-2h0m82 0h0m100 1h0m13-3h0m29 6h0m28-1h0m108-4h0m32 0h0m12 0h0m5 2h0m23 0h0m70 3h0m5-3h0m8-1h0m19 0h0m20-1h0m7 3h0m33-4h0m-444 11h0m12-3h0m24 1h0m2-3h0m83 2h0m3-1h0m24 0h0m3 3h0m27-3h0m3 3h0m10 0h0m119 0h0m5-3h0m60 3h0m7 1h0m38-4h0m-650 7h0m28-2h0m0 5h0m15-5h0m8 0h0m160 6h0m12-4h0m62-2h0m76 4h0m17 2h0m13-6h0m4 4h0m12-2h0m23 3h0m45-1h0m7 0h0m63-4h0m2 1h0m7 0h0m29 4h0m23-4h0m4 2h0m19 3h0m2-4h0m-459 6h0m12-1h0m192-1h0m9 5h0m22 0h0m152-2h0m63 1h0m50-4h0m-644 10h0m108-1h0m218-3h0m54 2h0m72 4h0m8-1h0m60-1h0m22-2h0m32 2h0m42-2h0m-650 9h0m353 0h0m98-3h0m23 0h0m35-2h0m64 5h0m15-4h0m34 5h0m54-1h0m11 0h0m6-2h0m-246 8h0m56-5h0m8 1h0m37 1h0m22 1h0m32 0h0m26-2h0m66 0h0m-231 7h0m26 4h0m4-3h0m17 0h0m66-1h0m13 2h0m17-2h0m66 4h0m1 0h0m-616 3h0m426-2h0m15 2h0m170 3h0m7-2h0m1-4h0m-671 7h0m36 2h0m3-3h0m169 4h0m9 1h0m248-5h0m50 3h0m153-2h0m17-1h0m-700 7h0m12 3h0m19-3h0m33 5h0m165-2h0m2 0h0m15-3h0m12 4h0m205-3h0m49-2h0m143 2h0m7 0h0m13-1h0m-602 6h0m177 4h0m5-2h0m13 0h0m49 3h0m-303 3h0m58 0h0m164 2h0m6-2h0m19-2h0m5 0h0m32 4h0m-293 5h0m6 2h0m0-2h0m8-3h0m2 1h0m3 0h0m10-2h0m10 6h0m25-1h0m8-1h0m159-1h0m76-2h0m14 3h0m1-2h0m-291 10h0m8-3h0m38-3h0m1 6h0m9-6h0m11 1h0m119 3h0m1-2h0m11 4h0m11 0h0m78-1h0m213-4h0m-515 8h0m2 1h0m3-3h0m23 1h0m2 3h0m4-1h0m15-2h0m4 0h0m6 2h0m3 1h0m5-4h0m0 4h0m2-3h0m9-1h0m3 0h0m124 3h0m17 0h0m6-1h0m69-3h0m212 5h0m-505 6h0m8-4h0m3 3h0m6-1h0m5 2h0m11-3h0m3 1h0m5-1h0m4-2h0m16 2h0m2 2h0m3-3h0m9 5h0m5-6h0m9 5h0m0-1h0m11-1h0m196-2h0m1 1h0m-317 8h0m40-2h0m23-1h0m5 2h0m24-2h0m19 1h0m114 4h0m1-1h0m24-1h0m61-4h0m-285 11h0m4-4h0m4 1h0m31-1h0m6 0h0m14 5h0m123-3h0m22-2h0m74 0h0m2 4h0m294-2h0m-593 6h0m8 0h0m3 1h0m3 0h0m2 0h0m10-2h0m4-1h0m3 1h0m51 0h0m100 1h0m15-2h0m15 0h0m77 2h0m22-1h0m-310 5h0m8 1h0m8 0h0m2 2h0m5 2h0m5-1h0m0-5h0m2 0h0m17 2h0m9-2h0m1 2h0m22 2h0m4 1h0m3-1h0m10-1h0m57 0h0m23 0h0m5-3h0m3 1h0m2 1h0m105 1h0m11 1h0m3 0h0m-293 8h0m4-4h0m14 3h0m5 0h0m23-1h0m21-3h0m15 0h0m12-1h0m43 5h0m10-1h0m6-1h0m11-2h0m3 1h0m4 1h0m30-1h0m61 3h0m19-4h0m-268 10h0m5-3h0m3-1h0m7 0h0m14 3h0m10 1h0m87 0h0m2-3h0m7-1h0m11 1h0m15 0h0m83-2h0m9 1h0m7 1h0m12 1h0m-278 5h0m1 0h0m3-2h0m5 3h0m11-2h0m8 1h0m12 1h0m0 3h0m17-4h0m10-2h0m93 4h0m44 2h0m49-1h0m1-3h0m10 0h0m-217 7h0m3-1h0m63 0h0m35 2h0m1-4h0m0 6h0m111-5h0m2 1h0m10-2h0m-264 8h0m36 1h0m0-1h0m10 1h0m93 0h0m128 2h0m8-5h0m-92 6h0m69 4h0m74-1h0m-67 7h0m0 6h0m2-1h0m0 5h0m1 0h0m-84 8h0m80-1h0m33 8h0m-32 5h0m0 1h0m3 1h0m-1 9h0m167 1h0m-170 4h0m1-2h0m-30 10h0m5-2h0m6 1h0m190-3h0m3 2h0m3 1h0m4 2h0m-248 5h0m25-4h0m17 6h0m4-1h0m47-1h0m136-1h0m5 0h0m1 3h0m3-5h0m5 1h0m6 3h0m2 0h0m1-2h0m-226 4h0m30 4h0m13-5h0m4 5h0m20-3h0m96 2h0m41-2h0m2 3h0m7-3h0m1 2h0m5-4h0m2 1h0m3 1h0m6 4h0m-229 1h0m15 5h0m1-1h0m9-1h0m6-2h0m9 2h0m10-1h0m3 3h0m3-3h0m0-2h0m124 4h0m27-2h0m1 0h0m10-1h0m4-2h0m1 4h0m1-2h0m1 1h0m2 3h0m8-1h0m-321 5h0m60-2h0m13 1h0m0-1h0m10 1h0m7-2h0m5 0h0m11 4h0m8 0h0m17-2h0m17 1h0m1-1h0m2-2h0m2 2h0m11 1h0m96 2h0m32-3h0m3 1h0m16-4h0m-306 11h0m16-1h0m16-1h0m7-2h0m5 1h0m12-1h0m3 0h0m0 0h0m27 1h0m1 3h0m2-3h0m0 1h0m9 0h0m15 1h0m7 0h0m0 0h0m3-3h0m1 0h0m46 1h0m116-2h0m3 1h0m2 1h0m12 2h0m-302 2h0m1 2h0m38 4h0m5-5h0m1 2h0m4 3h0m10-3h0m1-1h0m7 3h0m8-3h0m13 2h0m4 0h0m18-1h0m9 1h0m3 0h0m7-4h0m0 4h0m13-4h0m3 1h0m2 3h0m2-4h0m142 5h0m5-2h0m3-3h0m4 4h0m-288 2h0m4 1h0m29 4h0m7-2h0m39-2h0m5 1h0m2 1h0m6-3h0m7 4h0m3 1h0m15-5h0m9 1h0m14 0h0m8-1h0m125 2h0m4 2h0m2 2h0m8-2h0m-313 4h0m19 3h0m45-2h0m10 3h0m4-3h0m6-3h0m20 2h0m15 3h0m1 0h0m1-5h0m2 2h0m0 0h0m6 4h0m3 0h0m14-1h0m150-5h0m1 4h0m11-2h0m0 4h0m-298 3h0m19 2h0m4-3h0m2 3h0m7 1h0m17-5h0m18-1h0m17 1h0m8 4h0m8-2h0m5 0h0m1-2h0m6 5h0m6-2h0m169 1h0m2-3h0m4-2h0m-301 7h0m37 5h0m9-5h0m16 1h0m3 1h0m1 2h0m10 0h0m27-4h0m5 3h0m7-3h0m2 3h0m9-2h0m16 3h0m151 0h0m15-5h0m-293 9h0m39 2h0m11 1h0m5-4h0m0-2h0m11 2h0m10-1h0m3 0h0m11 3h0m4-4h0m3 3h0m3-1h0m0 2h0m22 0h0m10-2h0m130 1h0m-266 5h0m61 3h0m5-4h0m6 4h0m24-5h0m8 4h0m23 0h0m8-3h0m0 0h0m-104 7h0m25 0h0m3 0h0m3 4h0m11-2h0m8-1h0m3-3h0m4 1h0m16 2h0m16-1h0m9-1h0m-110 6h0m15-1h0m7 0h0m7 5h0m4-2h0m9 3h0m3-5h0m8 0h0m1 1h0m7 2h0m9-1h0m5 2h0m6-1h0m6-4h0m-104 8h0m30 1h0m15 2h0m12-1h0m13 1h0m3-5h0m6 6h0m11-5h0m4-1h0m9 2h0m1-1h0m9 4h0m5-3h0m-106 6h0m4 2h0m5 0h0m35-1h0m9-2h0m13 2h0m4-2h0m7 2h0m8 1h0m12-4h0m11 1h0m6 2h0m3-1h0m-113 4h0m2 2h0m2 1h0m19 2h0m12-1h0m17-1h0m12 3h0m10 0h0m1-5h0m10 2h0m3-1h0m14 2h0m1-1h0m-93 9h0m9-5h0m33 1h0m12 1h0m3 2h0m16-1h0m12 0h0m19-3h0m-96 6h0m15 4h0m1-5h0m16 4h0m5 1h0m4-1h0m9 2h0m3-2h0m1-3h0m2 1h0m8 1h0m-49 4h0m5 0h0m9 2h0m5-1h0m10 2h0m7 1h0m7-3h0m4 2h0m0-4h0m4 4h0m3 0h0m1-1h0m8 1h0m-54 6h0m9-1h0m6 1h0m9 1h0m1-1h0m17-1h0m11 3h0m-51 5h0m7-1h0m3-2h0m7-1h0m27-1h0m10 3h0m6 0h0m3-2h0m-77 7h0m5 3h0m1-4h0m3 3h0m8 2h0m3-5h0m20-1h0m1 3h0m9 0h0m14-1h0m0 0h0m-43 7h0m4 1h0m4 0h0m6-3h0m6 3h0m1-3h0m12 3h0m-29 7h0m6-2h0m10-1h0m1 0h0m2-1h0m-20 7h0m15 2h0" stroke="#D6604D"/>
<path d="M1848 55h0m-32 5h0m-382 8h0m19 0h0m353-2h0m11 2h0m27 0h0m31-1h0m-435 3h0m1 3h0m3 1h0m7-1h0m6 1h0m0-4h0m1 4h0m5-4h0m331 0h0m3 0h0m10 5h0m6-6h0m4 4h0m2-3h0m9 4h0m5-2h0m5 2h0m-413 6h0m2-3h0m16 3h0m5 0h0m4 1h0m4-4h0m3-1h0m13 3h0m308-2h0m5 2h0m8-1h0m1-3h0m9 0h0m13 3h0m9-2h0m1 3h0m7-2h0m4 0h0m8 3h0m8-5h0m17 4h0m4-2h0m-455 9h0m2-2h0m0 2h0m2-3h0m1-2h0m5 4h0m1-2h0m6-2h0m1 3h0m3 3h0m6-1h0m7 0h0m5-4h0m6-1h0m46 6h0m10-2h0m210 0h0m11 0h0m10-1h0m4 0h0m14 0h0m7 3h0m8-2h0m4 0h0m4-1h0m5 1h0m10-4h0m0 1h0m14 4h0m10 0h0m5-1h0m2-2h0m9 0h0m1-1h0m9 4h0m6-3h0m16 1h0m-463 6h0m6 0h0m1 3h0m4-4h0m8-2h0m3 5h0m0-3h0m2 3h0m9-4h0m10 4h0m4 0h0m5 0h0m1-5h0m5 0h0m0 6h0m4-5h0m2 2h0m8-1h0m192-1h0m21 1h0m9-2h0m29 2h0m17 2h0m5 1h0m9-4h0m11 4h0m5-4h0m4 2h0m8 1h0m1-3h0m4 1h0m11-1h0m10 1h0m0 3h0m2-1h0m2 1h0m1 0h0m8-4h0m41 2h0m10 3h0m2-3h0m4 0h0m-481 4h0m10 4h0m11-4h0m5 4h0m1 0h0m0-3h0m9 0h0m2 4h0m6-5h0m12 3h0m1-2h0m3 0h0m3 4h0m4-5h0m1 2h0m7 2h0m10-3h0m151 0h0m15 4h0m12-4h0m3 2h0m19 2h0m46-2h0m3 2h0m7-4h0m10 4h0m2-1h0m11-2h0m3 0h0m1 0h0m4 2h0m1-2h0m14 0h0m3-2h0m7 3h0m1 0h0m4 0h0m6-2h0m2-2h0m8 1h0m17 3h0m1-3h0m12 2h0m3 0h0m20 1h0m5-3h0m3 4h0m8-3h0m-488 5h0m1 0h0m3 2h0m3-2h0m7 1h0m7-1h0m6 4h0m16 1h0m7-3h0m4-2h0m2 4h0m8-5h0m3 0h0m1 1h0m2 1h0m12 1h0m7 0h0m2 2h0m127 0h0m6 0h0m37-5h0m1 6h0m47-5h0m6 4h0m11 0h0m4-3h0m20 2h0m4-4h0m2 2h0m10 4h0m11 0h0m3-2h0m1 2h0m3-2h0m8-2h0m1 3h0m2-1h0m9-2h0m1 4h0m3-5h0m6 4h0m13 1h0m4-2h0m1-1h0m3 2h0m4-3h0m7 4h0m1-5h0m10 2h0m4 3h0m6-6h0m3 1h0m21 3h0m4 2h0m11-4h0m-504 9h0m2 0h0m2 0h0m1 1h0m2-1h0m2-1h0m3-1h0m3-2h0m2 3h0m0 1h0m6-1h0m3 0h0m1 1h0m1-3h0m1 2h0m19 1h0m2-3h0m3 0h0m23 1h0m5 1h0m0-2h0m7 3h0m6 1h0m139-2h0m27 1h0m2-3h0m28 0h0m17-2h0m10 3h0m1 0h0m3 2h0m1-4h0m12 4h0m2-2h0m4 0h0m13 0h0m4 3h0m18-4h0m7 0h0m8-1h0m10 2h0m1 2h0m1-4h0m1 2h0m5-2h0m4 1h0m7 2h0m2-3h0m1 5h0m2-3h0m11-1h0m8 1h0m17 0h0m2-1h0m26-2h0m3 6h0m-487 2h0m5 1h0m2 1h0m5-4h0m6 0h0m0 1h0m4 2h0m1 0h0m0 0h0m5 0h0m3-1h0m3 1h0m5 2h0m0-2h0m8-2h0m10 1h0m3 3h0m5-2h0m7-1h0m10-2h0m139 2h0m18 2h0m11-1h0m23 0h0m2-3h0m51 1h0m1 5h0m14-4h0m6 1h0m4-3h0m4 3h0m1 2h0m11-1h0m2-3h0m1 3h0m3-3h0m8 4h0m5-2h0m3 2h0m7-1h0m11 0h0m16-2h0m22-1h0m2 1h0m1 1h0m8 2h0m6-1h0m4 0h0m4 2h0m6-2h0m22-2h0m-499 6h0m3 3h0m2-2h0m10-2h0m2 3h0m4-1h0m6 0h0m8-1h0m4 0h0m2 0h0m1 3h0m1-3h0m15 1h0m5 0h0m6 2h0m4 0h0m7-2h0m1 2h0m2-3h0m1 3h0m5-2h0m1 1h0m2 0h0m2-1h0m100 1h0m2 0h0m20-1h0m17-2h0m9 5h0m8-1h0m4 0h0m62-5h0m7 3h0m2-1h0m2 0h0m3 2h0m5-2h0m2 3h0m0-5h0m5 2h0m7-2h0m2 5h0m9-5h0m16 3h0m2 0h0m9 2h0m0-5h0m2 1h0m8-1h0m14 1h0m10 2h0m3-1h0m9 3h0m20-1h0m5 2h0m7-2h0m16-2h0m-483 7h0m1 1h0m3-2h0m12-2h0m3 6h0m3-3h0m6 0h0m6-1h0m4 4h0m12-6h0m12 3h0m10 2h0m6-1h0m3-1h0m3 2h0m6-2h0m10-3h0m88 3h0m24 3h0m35-3h0m6-2h0m56 2h0m4-2h0m4 3h0m1-3h0m8 0h0m1 3h0m5-2h0m1 2h0m10-2h0m12 2h0m5-2h0m1 0h0m4-1h0m18 3h0m20-4h0m2 1h0m8 1h0m14 4h0m2-3h0m13-2h0m10 0h0m17 4h0m1-4h0m7-1h0m15 2h0m7-2h0m1 0h0m13 6h0m-506 5h0m6-3h0m17-1h0m3 1h0m24 3h0m0-2h0m5-2h0m6 1h0m3 0h0m4 3h0m7 0h0m4 0h0m0-3h0m3-2h0m6 2h0m3 0h0m3 0h0m2 0h0m11 0h0m204 2h0m12-2h0m7-1h0m7 3h0m2-3h0m25 2h0m8-2h0m1 3h0m15 2h0m5-4h0m6 2h0m7 0h0m6-3h0m1 0h0m4 4h0m26-2h0m9-2h0m5 0h0m28 5h0m20-2h0m-497 4h0m3 2h0m15-1h0m4 0h0m6-2h0m8-1h0m6 4h0m1 1h0m2-1h0m2-1h0m1-2h0m1 5h0m2-5h0m3 4h0m1 1h0m2-2h0m0-3h0m1 0h0m1 1h0m5 2h0m4-1h0m5-1h0m5 3h0m0-2h0m4-3h0m4 1h0m0 1h0m2 4h0m6-2h0m1 1h0m5 1h0m196 0h0m4-4h0m2 2h0m5 2h0m1-6h0m10 0h0m3 4h0m17-3h0m7 3h0m14-2h0m2 3h0m5-2h0m6 1h0m1-2h0m12-1h0m11 2h0m4-2h0m4 2h0m5-1h0m20-2h0m11 5h0m1-3h0m5 0h0m13 2h0m11 1h0m3 0h0m14-3h0m-490 6h0m6 4h0m4-1h0m14-3h0m5 4h0m6-1h0m4 0h0m1-4h0m7 1h0m5 2h0m23 0h0m1-3h0m2 1h0m4 4h0m1-5h0m4 3h0m3-1h0m2 2h0m1-3h0m12-1h0m9 4h0m2 0h0m1-2h0m4-2h0m158 3h0m6 1h0m13 1h0m1-2h0m14-1h0m8 0h0m6-2h0m17 5h0m2-4h0m7-1h0m2 3h0m7 0h0m4-2h0m5 3h0m4-2h0m18 1h0m0-1h0m10-3h0m7 4h0m19-1h0m10 1h0m20-3h0m15 2h0m20 2h0m5 0h0m-495 4h0m2-2h0m1 3h0m7-2h0m0 3h0m3-5h0m5 1h0m3 2h0m0 2h0m5 0h0m1-3h0m2 3h0m4 1h0m9-4h0m1 0h0m4 0h0m4 0h0m12-2h0m2 3h0m5 0h0m2-1h0m1 3h0m4-3h0m3 2h0m2-1h0m2 1h0m10 1h0m1-3h0m5 1h0m14-2h0m8 1h0m44 4h0m8-3h0m88 1h0m12 1h0m5-5h0m16 0h0m2 2h0m4-2h0m2 2h0m13 1h0m8-2h0m14 4h0m9-4h0m1 3h0m3-4h0m28 3h0m2 2h0m5-2h0m12 1h0m4 0h0m26 1h0m1-1h0m16 1h0m23-1h0m7-3h0m6 2h0m16 0h0m-480 4h0m3-1h0m4 3h0m3 2h0m4 1h0m8-2h0m4-3h0m9 1h0m2-1h0m2 4h0m1-2h0m4 2h0m5 0h0m3-3h0m9 3h0m4-3h0m3 1h0m54 2h0m157-5h0m1 3h0m6-1h0m1 2h0m0 0h0m9 0h0m13-1h0m9 0h0m3 3h0m2-1h0m4 0h0m3-4h0m7 5h0m10-3h0m2 1h0m7 1h0m2-4h0m3 1h0m70 2h0m10-3h0m12 2h0m15 0h0m-465 3h0m2 2h0m3 0h0m3 4h0m0-5h0m8 4h0m11-3h0m2 3h0m6-2h0m8-2h0m9 3h0m7-3h0m7 0h0m2 2h0m2 1h0m5-3h0m3 3h0m1-4h0m1 1h0m4 3h0m10 1h0m15 0h0m4-3h0m5 2h0m160 0h0m6 2h0m2-3h0m5 1h0m4-2h0m0 3h0m4-2h0m10-1h0m4 0h0m2 2h0m8 1h0m15-2h0m7-2h0m7 1h0m20 2h0m4-2h0m0 1h0m5 0h0m7 0h0m10-3h0m0 2h0m6 1h0m35 2h0m11-4h0m4 4h0m-457 5h0m18-2h0m4 1h0m2 3h0m3-4h0m10 3h0m0-4h0m5 2h0m2 2h0m6 0h0m4-2h0m6-1h0m3-1h0m2-1h0m1 2h0m6 4h0m15-1h0m9-2h0m16 1h0m3-3h0m0-1h0m87 3h0m81 1h0m11-3h0m1-1h0m8 1h0m3 4h0m2-4h0m7-1h0m3 4h0m0-3h0m2 1h0m5 1h0m2-3h0m2 6h0m2-1h0m1-3h0m7-2h0m4 1h0m6 3h0m10 2h0m18-6h0m14 5h0m26-2h0m9-2h0m11 1h0m10 2h0m18 2h0m14-6h0m-458 8h0m3 2h0m16-1h0m6 0h0m11-2h0m1 4h0m1-1h0m5-4h0m1 1h0m6 3h0m8 1h0m19-1h0m17-2h0m5-1h0m156 0h0m12 0h0m0 1h0m4 2h0m7-1h0m6 2h0m3-4h0m7 5h0m0-1h0m0-5h0m2 3h0m6-3h0m20 4h0m42-1h0m8 2h0m20-5h0m20 5h0m3-4h0m15 2h0m4-2h0m-434 5h0m16 2h0m1 0h0m7 1h0m4 1h0m12 0h0m17-2h0m7 2h0m3-3h0m1-1h0m14 0h0m100 4h0m80-1h0m5-2h0m6 3h0m13 0h0m10-1h0m4 2h0m3-1h0m8-4h0m12 6h0m2-3h0m6-2h0m38 1h0m2 4h0m4-6h0m7 1h0m45 0h0m17 4h0m-434 5h0m2 1h0m5 0h0m9-3h0m3 0h0m8-2h0m13 5h0m3-3h0m2 3h0m11-4h0m13 3h0m1-4h0m4 2h0m11 4h0m5-4h0m91 0h0m103 3h0m6-2h0m26-2h0m14 4h0m40 0h0m2-3h0m-497 9h0m25-4h0m49 4h0m3 0h0m10 0h0m4-2h0m13 2h0m8-3h0m13 3h0m23-3h0m1 2h0m18 0h0m5-1h0m1 2h0m8-1h0m10 0h0m4-4h0m138 3h0m25 2h0m3-2h0m60 1h0m26 1h0m2-3h0m5 2h0m2-1h0m39-1h0m6-1h0m14 2h0m5 2h0m28-3h0m-586 10h0m14-6h0m95 4h0m25-3h0m6 1h0m5 3h0m5-5h0m24 3h0m28 0h0m1-2h0m3 0h0m4 2h0m6-1h0m14 4h0m2-2h0m12 0h0m93-1h0m50-1h0m16 2h0m31-4h0m19 3h0m3-2h0m9 3h0m13 0h0m4-2h0m14 2h0m43-1h0m65 2h0m-553 3h0m39 0h0m4-1h0m2 0h0m3 0h0m19 0h0m4 4h0m7-4h0m16 2h0m27-2h0m4 4h0m7-5h0m12 1h0m9 2h0m2-2h0m2 3h0m3 1h0m16 1h0m3-2h0m1-4h0m78 4h0m3 1h0m6-4h0m18 1h0m93 2h0m7 1h0m19-1h0m2 0h0m13-4h0m1 5h0m12-5h0m9 5h0m4-3h0m6 2h0m17-3h0m16 3h0m12-2h0m2-2h0m3 2h0m44 0h0m11 3h0m-591 2h0m88 1h0m8 2h0m13-3h0m8 2h0m58-2h0m12 2h0m11-1h0m2 3h0m15-4h0m138 1h0m21 2h0m37 0h0m11-1h0m7 2h0m6-2h0m15 1h0m10 2h0m42-5h0m11 2h0m-566 7h0m77 1h0m8 0h0m18-3h0m48-2h0m42 5h0m49-1h0m0 0h0m16-1h0m3 2h0m201-3h0m46-1h0m25 0h0m13 1h0m4 3h0m10-4h0m37 1h0m46 0h0m-610 7h0m10 3h0m34-4h0m15 0h0m0 2h0m46-2h0m13 1h0m30 0h0m11-2h0m3 3h0m11-1h0m43 2h0m1-1h0m17-2h0m131 2h0m3-2h0m96 3h0m21-1h0m7-3h0m17 4h0m13 1h0m73-1h0m-633 5h0m20 0h0m77 2h0m9-3h0m3 3h0m28-5h0m49 2h0m9-1h0m3 3h0m10-3h0m65 0h0m139 1h0m13-2h0m66 0h0m20 4h0m33 0h0m4-5h0m3 3h0m16 0h0m9-2h0m38 1h0m21 2h0m-607 7h0m9-2h0m19-1h0m25-1h0m0 0h0m4 4h0m2-3h0m10-1h0m27 1h0m25 1h0m20 3h0m31-1h0m10-5h0m6 3h0m4-2h0m119 2h0m38 2h0m97-1h0m42 0h0m120 2h0m3-4h0m-645 6h0m26 0h0m4 1h0m11-3h0m14 2h0m27 1h0m4 0h0m7 1h0m14 2h0m7-5h0m2 1h0m2 3h0m3-1h0m10 2h0m3-3h0m4 2h0m18-1h0m2-1h0m1 2h0m3-5h0m27 3h0m300 2h0m46 0h0m54-5h0m55 2h0m-632 7h0m30 1h0m13 0h0m2 2h0m11 0h0m10-1h0m2-4h0m2 4h0m6-2h0m8 3h0m6-2h0m4-1h0m5 3h0m1-2h0m2-1h0m7-2h0m5 4h0m5 0h0m4-3h0m3-1h0m6 4h0m2-1h0m5 0h0m11-2h0m14 4h0m16-4h0m186 1h0m104 2h0m23-2h0m18-1h0m1 2h0m17 1h0m15-5h0m94 4h0m-645 6h0m18-2h0m5-1h0m0 1h0m2 3h0m8-1h0m0 1h0m4-4h0m3 4h0m3-1h0m13 2h0m9-5h0m7 1h0m4 1h0m3-1h0m7 1h0m9 1h0m7 1h0m4 0h0m8-4h0m0 5h0m14-1h0m5-3h0m2 3h0m12-2h0m3-2h0m12 1h0m21-1h0m25 2h0m23-2h0m4 4h0m239-3h0m7 1h0m4-3h0m68 1h0m1 2h0m73 3h0m3-4h0m12-1h0m-633 10h0m9 0h0m1-3h0m11 2h0m6 1h0m3-4h0m6 1h0m7 3h0m5-2h0m10 1h0m12-1h0m2-2h0m4 4h0m4 0h0m4 0h0m8-2h0m0 1h0m3-2h0m4 3h0m3-5h0m4 5h0m7 0h0m3-1h0m2 1h0m5-3h0m2 2h0m3-3h0m6 2h0m7-1h0m5 2h0m1-2h0m4 3h0m6-4h0m5-1h0m32 3h0m41-1h0m326 0h0m54 0h0m13 3h0m26-3h0m-665 8h0m11 1h0m2-3h0m0 4h0m3-4h0m4-2h0m10 4h0m1-4h0m6 6h0m9-4h0m2-1h0m2-1h0m0 5h0m8-1h0m8-3h0m5 0h0m1 4h0m4-4h0m17 4h0m5 1h0m2-1h0m1-4h0m10 3h0m2-3h0m22 4h0m8-3h0m0 0h0m6 3h0m7-3h0m32 0h0m36 1h0m13 2h0m317-3h0m16 2h0m8-2h0m1 4h0m73-3h0m5 1h0m-652 4h0m0-1h0m7 2h0m3 1h0m5 0h0m4 0h0m2-1h0m8 0h0m5-3h0m8 6h0m4-3h0m5 3h0m2-2h0m1-3h0m11 3h0m4-3h0m2 2h0m3 0h0m24-1h0m1 2h0m8-1h0m4 3h0m0-4h0m8-1h0m2 4h0m5-3h0m6 0h0m4 2h0m6-2h0m7 0h0m2-1h0m12 3h0m10-3h0m4 0h0m8 4h0m7-4h0m14 2h0m361-2h0m45 5h0m-611 0h0m2 3h0m2-3h0m4 4h0m6-2h0m3 3h0m4-4h0m17-1h0m0 5h0m16-2h0m10-1h0m11-1h0m4 5h0m15-1h0m2 0h0m2-3h0m2-1h0m4 3h0m3 0h0m4-1h0m5 0h0m1-1h0m8-2h0m0 4h0m2-1h0m1-2h0m12 1h0m4 0h0m6 3h0m1-4h0m2 3h0m6-3h0m2 5h0m3-2h0m1-1h0m5-1h0m4 1h0m23 3h0m43 0h0m126-2h0m193-2h0m54 3h0m2-4h0m11-1h0m6 5h0m3-2h0m1-2h0m-639 7h0m3 2h0m9-3h0m3 0h0m0 5h0m12-5h0m1 4h0m0-1h0m6-1h0m12-1h0m1 4h0m3-5h0m4 5h0m5-1h0m4 0h0m5-3h0m1 3h0m7 0h0m3-3h0m1 4h0m4-3h0m15-1h0m6 1h0m1 1h0m9-2h0m4 2h0m13-3h0m0-1h0m12 1h0m4-1h0m2 1h0m12 1h0m395-1h0m59 1h0m5-1h0m1 3h0m2-1h0m10 0h0m7 2h0m6 0h0m1-5h0m-630 7h0m11 4h0m4-4h0m1 4h0m1-3h0m5 2h0m10-2h0m7-1h0m16 2h0m19 1h0m2 0h0m3 0h0m2 2h0m1-4h0m6 3h0m11-2h0m0 1h0m6 2h0m2-3h0m7 2h0m1 0h0m1-4h0m2 1h0m25-1h0m2 4h0m2-5h0m3 2h0m2-2h0m13 5h0m10-2h0m176 0h0m55-2h0m7 2h0m148 0h0m52-2h0m13 2h0m5-3h0m4 5h0m-625 1h0m9 0h0m7 1h0m1-1h0m6 3h0m6 2h0m5 1h0m2-6h0m14 2h0m2 1h0m1-3h0m3 0h0m6 4h0m3-1h0m3 2h0m9-4h0m2 5h0m5-3h0m6-1h0m2 0h0m0 3h0m3-3h0m6 0h0m1 2h0m13 0h0m10-1h0m11-1h0m0 3h0m4 0h0m5-2h0m10 3h0m35-4h0m201 4h0m0-2h0m4-2h0m2-1h0m104 5h0m94-1h0m1-4h0m1 0h0m2 1h0m15 3h0m-580 6h0m0-2h0m3-1h0m16 4h0m4-2h0m0 0h0m5 0h0m12-1h0m2-2h0m0 3h0m9-1h0m1 1h0m3-1h0m4 2h0m2-3h0m3 1h0m0 2h0m12-1h0m9 2h0m10-3h0m15 3h0m7-4h0m14 2h0m7 0h0m405 1h0m23 1h0m21 0h0m2-1h0m2-5h0m-586 7h0m9 4h0m12 1h0m0-4h0m2-1h0m4 1h0m3 3h0m9-1h0m3-2h0m4-1h0m2 0h0m6-1h0m0 4h0m2 0h0m3 0h0m1 0h0m12-2h0m9 4h0m10-6h0m1 3h0m4 0h0m4-2h0m15 4h0m2-4h0m4-1h0m2 4h0m218 1h0m3-3h0m1 1h0m1 2h0m2-3h0m175 3h0m15-1h0m2 0h0m4-3h0m2 0h0m8 1h0m25 0h0m-552 6h0m2 1h0m15-1h0m10-1h0m5 3h0m5-3h0m4 3h0m3-2h0m3-1h0m1 3h0m2 0h0m7-3h0m2 5h0m4-6h0m4 3h0m5 1h0m2-1h0m1 0h0m3 0h0m8-2h0m6 3h0m201 1h0m5 1h0m10-4h0m16-1h0m5 0h0m152 1h0m15 0h0m1-2h0m27 1h0m18 0h0m6 3h0m5 0h0m6 2h0m-554 3h0m6 0h0m4-1h0m8 3h0m2-2h0m4-2h0m8-1h0m3 5h0m8 0h0m8-3h0m5 1h0m5-1h0m180 2h0m1 1h0m36-1h0m21-4h0m12 2h0m2 2h0m3-3h0m1 3h0m16 1h0m162-3h0m26-2h0m5 1h0m27 0h0m22 4h0m-547 2h0m1 3h0m4 0h0m0 1h0m3-4h0m3 3h0m0-2h0m1 3h0m10-1h0m1 0h0m1 1h0m1-4h0m4 0h0m232 2h0m20 0h0m4 3h0m4-1h0m151-3h0m6 2h0m2-1h0m10 2h0m2-4h0m20 4h0m10-2h0m10 1h0m6-2h0m2 1h0m2-2h0m13 1h0m6 1h0m8 1h0m-272 3h0m3 4h0m4-4h0m6 4h0m1 1h0m8-4h0m2 0h0m11 2h0m4 1h0m134-2h0m7-1h0m14 1h0m13 1h0m25-2h0m15 3h0m8 0h0m5-4h0m-519 7h0m21 1h0m1 1h0m2-3h0m411 0h0m56-1h0m6 5h0m4-5h0m-253 6h0m18 3h0m6-2h0m4 0h0m0 0h0m20 2h0m127 3h0m21-2h0m16 0h0m7 1h0m2-4h0m1 2h0m10 0h0m11 1h0m1-3h0m3 3h0m18-1h0m25 1h0m1-1h0m-533 6h0m226 3h0m16-1h0m2-3h0m2 4h0m2-2h0m6-3h0m2 4h0m2-1h0m3-1h0m2-1h0m4-2h0m0 2h0m3 1h0m148 0h0m9 2h0m17-1h0m12-2h0m12 3h0m3-3h0m0-2h0m20 2h0m23 0h0m12 0h0m-521 5h0m4 2h0m211 2h0m22-3h0m2 4h0m21-4h0m1 3h0m145-1h0m17 2h0m1-1h0m3-2h0m12 2h0m3-2h0m9 0h0m4-1h0m2 2h0m3-4h0m8 2h0m10-2h0m14 5h0m2-2h0m-496 8h0m0-4h0m3 1h0m231 2h0m3-1h0m4-2h0m3 5h0m26-5h0m147 4h0m6-2h0m32 3h0m4-5h0m7 2h0m29 2h0m9-3h0m0 0h0m17 1h0m4 0h0m2 3h0m18-4h0m-543 7h0m232-1h0m2-1h0m12 1h0m8 0h0m11 3h0m3 0h0m8-2h0m77 2h0m24-1h0m17 2h0m4-4h0m14 0h0m21 0h0m1 4h0m22-5h0m7-1h0m4 2h0m10 0h0m6 3h0m7-2h0m19-3h0m10 4h0m14-2h0m-308 7h0m9-2h0m7 3h0m1 0h0m1-3h0m6 1h0m7 2h0m8-1h0m88 3h0m28-1h0m8 1h0m14-4h0m7-1h0m6 3h0m4 1h0m4-4h0m8 0h0m33 2h0m11-3h0m11 2h0m24-2h0m24 0h0m2 5h0m-375 4h0m72 1h0m0-3h0m18 2h0m5-1h0m0-2h0m5 0h0m106 4h0m5-1h0m1-3h0m8 4h0m11 0h0m12 0h0m4-4h0m1 2h0m10 2h0m5-2h0m0-1h0m4 1h0m8-1h0m9 5h0m3-4h0m4-2h0m2 4h0m3-3h0m19 5h0m2-2h0m7 1h0m4-5h0m19 4h0m19-2h0m-295 6h0m9-1h0m88-1h0m48 5h0m2-5h0m10 6h0m1-2h0m3-3h0m9 3h0m5-4h0m6 1h0m8 0h0m3 1h0m17 1h0m12 1h0m4 1h0m17 0h0m4-4h0m0 4h0m43-2h0m3 1h0m4-1h0m9 0h0m5-1h0m-226 4h0m7 4h0m15 1h0m3 1h0m0-3h0m8 2h0m3-2h0m5 0h0m8 0h0m3 1h0m4 1h0m1-2h0m2 2h0m19-1h0m11 0h0m15 0h0m12 2h0m2-4h0m4 2h0m5 0h0m14-1h0m3 3h0m14-3h0m3-3h0m2 3h0m4 0h0m27-2h0m24 0h0m5-1h0m6 0h0m-268 8h0m24 3h0m0 0h0m9-1h0m15 2h0m24-2h0m12 1h0m5-1h0m1 0h0m10 1h0m9-1h0m40 2h0m3-1h0m7-5h0m49 5h0m1-3h0m1 0h0m5 2h0m26-3h0m12 2h0m9-1h0m5-2h0m9 5h0m-338 4h0m17 1h0m31-1h0m28 0h0m6 0h0m8-1h0m8-1h0m7 2h0m14 1h0m3-2h0m13 0h0m7 0h0m2 2h0m2-3h0m4 3h0m6 2h0m3-2h0m30-2h0m6 0h0m6 1h0m17-1h0m3 0h0m7 3h0m5-4h0m8 3h0m10-1h0m6 3h0m5-3h0m12-1h0m2 1h0m2 1h0m2 1h0m7-4h0m3 4h0m9 0h0m6-1h0m4 1h0m4 0h0m2-5h0m-519 7h0m2 2h0m2 2h0m134-2h0m9 1h0m8 0h0m3-2h0m75 1h0m5-2h0m40 3h0m2 1h0m9-1h0m9-2h0m18 0h0m1 0h0m0 3h0m6-2h0m14 3h0m4-6h0m3 3h0m8-1h0m5-1h0m4 4h0m11-4h0m14 3h0m17-2h0m18 0h0m3 0h0m12 0h0m5 1h0m10 1h0m6-1h0m6 0h0m3 1h0m5-3h0m5 3h0m2-1h0m5-1h0m7 4h0m8 0h0m0-5h0m10 0h0m0 4h0m3-4h0m6 3h0m9-1h0m6 2h0m12-1h0m-548 7h0m1-3h0m2 4h0m1 0h0m2-1h0m4 0h0m4-1h0m127 2h0m77-2h0m36-2h0m18 0h0m9 2h0m1-3h0m7 2h0m19 0h0m5 1h0m0-1h0m2-2h0m5 0h0m2 2h0m4 1h0m7-3h0m16 4h0m2-1h0m8-1h0m19 1h0m11-2h0m5 2h0m15 0h0m6-4h0m1 0h0m6 0h0m6 5h0m9-1h0m10-1h0m13 3h0m3-5h0m3 2h0m4-1h0m13 0h0m2-2h0m11 5h0m1-3h0m7 2h0m8-2h0m1 1h0m9 2h0m-521 4h0m9 2h0m13-1h0m1 1h0m1-5h0m15 6h0m81-4h0m11 2h0m17 1h0m33-4h0m6 4h0m72-4h0m6 4h0m10-3h0m0 3h0m7-2h0m3-1h0m2 3h0m7-1h0m5-2h0m12 2h0m3-2h0m20 3h0m7-4h0m2 1h0m2 3h0m11-5h0m0 5h0m2-1h0m5 2h0m5-1h0m13 1h0m0-1h0m35-2h0m6 0h0m7 2h0m12-2h0m1 1h0m13-1h0m18 2h0m3-4h0m1 3h0m3 1h0m10-2h0m20 0h0m1-2h0m3 0h0m5 5h0m3-4h0m6 0h0m26 3h0m-564 5h0m6-1h0m7 0h0m2-2h0m2 4h0m3-2h0m8 0h0m4 1h0m1 0h0m21 1h0m99 0h0m18-4h0m5 3h0m75-1h0m10 2h0m2-2h0m0 1h0m16 0h0m3-2h0m3-1h0m18 2h0m3 0h0m16 2h0m12-2h0m9-2h0m10 0h0m5-1h0m0 3h0m10-3h0m2 6h0m22-2h0m2 2h0m3-2h0m20 1h0m30-2h0m2 1h0m1-4h0m16 5h0m2 1h0m15-3h0m16 0h0m7 3h0m9-5h0m4 1h0m10 0h0m2 4h0m5-5h0m4 0h0m9 5h0m1-3h0m12 3h0m-571 6h0m10-5h0m4 1h0m9-1h0m6 3h0m3-2h0m173 0h0m13-1h0m32 2h0m2 3h0m10-1h0m1-1h0m0-2h0m12 3h0m2-1h0m4 0h0m4 2h0m0-4h0m3-1h0m7 0h0m20 0h0m13 3h0m5-2h0m14 0h0m2 0h0m11 0h0m4 0h0m2 4h0m5-5h0m4 0h0m11 1h0m2 2h0m46-2h0m2 0h0m7 4h0m2-1h0m11-2h0m7-1h0m4 4h0m5-1h0m2 0h0m4 0h0m5-1h0m3 0h0m6-1h0m3 2h0m15 0h0m2-3h0m4 2h0m4-2h0m15 2h0m2 1h0m6 0h0m11-1h0m9 2h0m14-4h0m-573 5h0m3 2h0m3-1h0m1 2h0m5-4h0m2 3h0m3 2h0m5-1h0m7-3h0m3 3h0m13-2h0m81 3h0m7-3h0m4 2h0m2 2h0m45-2h0m43-2h0m9 4h0m6-3h0m1-1h0m3-2h0m10 2h0m4 2h0m4 0h0m2 1h0m8 0h0m16-2h0m9 2h0m2 0h0m4-2h0m0 1h0m3-3h0m8 2h0m6 2h0m2 0h0m3-3h0m4 3h0m2-3h0m3-2h0m4 5h0m2 1h0m6-3h0m4 2h0m2-4h0m3 3h0m41 1h0m13-2h0m9 0h0m1 1h0m12 2h0m5-1h0m3-1h0m9-3h0m16 5h0m1-2h0m5-1h0m6-3h0m3 5h0m7-1h0m4 0h0m4 2h0m2-1h0m17-2h0m22-2h0m9-1h0m34 5h0m-600 3h0m3 1h0m0 1h0m10 0h0m3-2h0m12 0h0m3-1h0m0 3h0m3-2h0m0 1h0m53-1h0m85 0h0m2 3h0m7-4h0m53 5h0m7-2h0m0-1h0m7-2h0m1 0h0m2-1h0m0 3h0m2-2h0m10 0h0m1 4h0m1-3h0m0 2h0m7-1h0m1-2h0m2 4h0m4-4h0m2 1h0m6 1h0m3-2h0m1 5h0m6-5h0m6 0h0m0 0h0m23 4h0m11-4h0m3 3h0m2-1h0m4 1h0m5 1h0m30 0h0m4-2h0m5-2h0m6 0h0m4 0h0m8 2h0m11 1h0m10-2h0m20 2h0m2-1h0m7-1h0m25 2h0m0-2h0m5 1h0m6-2h0m3 4h0m2-2h0m9-2h0m12 4h0m2-1h0m2-2h0m67 1h0m4 2h0m-604 5h0m10 1h0m6-3h0m3 0h0m4 2h0m5-2h0m7 3h0m1-3h0m1-1h0m12 1h0m8-2h0m141 2h0m13-1h0m8 3h0m35-3h0m4 4h0m7-3h0m8 1h0m1-2h0m7 0h0m7 1h0m4 3h0m2-4h0m10 2h0m6 2h0m17 0h0m9 0h0m36 0h0m10 0h0m3-1h0m0 1h0m1 1h0m2-3h0m9 0h0m6 0h0m7-2h0m37 4h0m15-3h0m0-1h0m1 2h0m9 0h0m5-2h0m12 2h0m10 1h0m3 2h0m2-5h0m0 4h0m7-2h0m3 1h0m2-2h0m26-2h0m13 4h0m34-4h0m30 3h0m12 2h0m-632 7h0m4-3h0m1 2h0m8-1h0m4-3h0m5-1h0m4 3h0m3 1h0m13-2h0m5 2h0m2-3h0m16-1h0m28 5h0m108-3h0m20-1h0m6 4h0m31-3h0m5-1h0m4 2h0m14 0h0m3 0h0m11 2h0m6-3h0m12-2h0m5 1h0m4 4h0m9-1h0m0-2h0m4-1h0m11 2h0m15 1h0m10-1h0m0 0h0m5 0h0m7 3h0m6-4h0m3-1h0m5 1h0m8 1h0m3 1h0m0-2h0m3 2h0m22 1h0m10-3h0m18 2h0m4-4h0m5 3h0m20-3h0m3 3h0m3 3h0m7-1h0m17-5h0m9 5h0m62-5h0m25 1h0m15 5h0m7-2h0m4 0h0m-634 5h0m1 3h0m1-3h0m10 2h0m5 0h0m10 0h0m4-3h0m15 4h0m7 0h0m124-6h0m24 0h0m28 2h0m9-1h0m10 4h0m2 0h0m1-4h0m10 4h0m3-2h0m3 1h0m6-2h0m7 2h0m4-4h0m11 1h0m9 4h0m1-4h0m20 2h0m4-2h0m0 5h0m5-2h0m0-4h0m5 2h0m1 1h0m5-1h0m9-1h0m9 1h0m4 0h0m6 3h0m8-4h0m1 5h0m1-4h0m3 2h0m17-3h0m5 0h0m1 0h0m3 0h0m15 2h0m1 1h0m5-2h0m1 2h0m5-4h0m9 3h0m5-3h0m7 2h0m3 2h0m11-1h0m27 0h0m31-2h0m3 4h0m7-5h0m12 1h0m9 5h0m10 0h0m11-4h0m19 0h0m-617 8h0m7-3h0m2 1h0m7 1h0m8 2h0m5-1h0m5 0h0m3-2h0m3-2h0m6 0h0m5 4h0m11-4h0m2 3h0m31-3h0m4 5h0m86 0h0m24-3h0m43 3h0m0-1h0m2-3h0m2 3h0m17-3h0m3 3h0m4 0h0m15 2h0m0-4h0m2-1h0m2 5h0m4-3h0m11-2h0m7 2h0m2-2h0m2 1h0m2 1h0m10-2h0m12 5h0m6-2h0m4-3h0m5 1h0m1 3h0m11 1h0m5-1h0m5-2h0m5-3h0m3 4h0m11-2h0m14 0h0m2 1h0m3 0h0m2-1h0m18 0h0m9 1h0m13-1h0m0 1h0m13 3h0m1-5h0m1 2h0m0 1h0m24 2h0m4-3h0m13 3h0m37-5h0m5 4h0m4-4h0m88 4h0m-657 5h0m0-1h0m3-1h0m0 1h0m2 3h0m23-3h0m0 1h0m4 0h0m5-2h0m15 3h0m2-2h0m8 0h0m4 1h0m31 1h0m92-1h0m47 1h0m9-4h0m16 1h0m9-1h0m1 3h0m9 2h0m8-4h0m1 3h0m2-3h0m0 1h0m8 1h0m1 1h0m4-3h0m1 0h0m27-1h0m15 3h0m6 2h0m6-4h0m7 3h0m14-2h0m8-2h0m1 0h0m12 1h0m3 1h0m16 1h0m2-2h0m5-1h0m20 3h0m6 0h0m5 1h0m13-2h0m2 1h0m24 0h0m18-3h0m5 3h0m51-2h0m14 1h0m44 2h0m18 0h0m10-1h0m5 1h0m3-3h0m5 3h0m4-2h0m8 0h0m-684 4h0m0 3h0m2 1h0m2-3h0m0 0h0m4 2h0m6-3h0m1 0h0m14 2h0m5 2h0m6-1h0m21 1h0m1 1h0m20 0h0m19-1h0m71 0h0m8-5h0m10 6h0m21-2h0m34-4h0m8 4h0m5 2h0m3 0h0m11 0h0m8-3h0m5-3h0m9 1h0m4-1h0m7 1h0m14 4h0m13 0h0m2-3h0m17 4h0m11 0h0m22-2h0m4-3h0m3 4h0m3-3h0m8-1h0m8 0h0m25 1h0m24 3h0m3-4h0m11 0h0m7 0h0m3 0h0m7 2h0m6 0h0m4 0h0m6 3h0m24-3h0m16 0h0m44 0h0m11 0h0m19-1h0m3 2h0m10-4h0m9 2h0m3 4h0m3-4h0m11 0h0m11-1h0m8 1h0m6-1h0m0 4h0m-693 1h0m23 1h0m6 2h0m1 1h0m3-4h0m7 5h0m19-5h0m10 3h0m8 0h0m4 1h0m96 0h0m25 1h0m14-4h0m10 4h0m9-3h0m18-1h0m8-1h0m8 3h0m4-1h0m3 4h0m9-2h0m4 0h0m5-4h0m4 5h0m3 0h0m5-1h0m1-2h0m7-2h0m13 4h0m1-4h0m3 3h0m14 1h0m10-2h0m13-1h0m10 3h0m6-3h0m3 5h0m4-3h0m3 2h0m9-1h0m0 0h0m5-1h0m13 0h0m2-2h0m3 5h0m10-4h0m1 1h0m13-2h0m6 4h0m27-2h0m37 1h0m51-3h0m72 0h0m0 2h0m26 1h0m6-2h0m2 3h0m3-4h0m-669 8h0m10 1h0m8-3h0m7 0h0m6 0h0m4 5h0m0-1h0m13 1h0m4-1h0m6-5h0m2 5h0m4-4h0m1 1h0m1 3h0m107 0h0m1-3h0m49 0h0m13 3h0m2-4h0m4 5h0m16-5h0m15 4h0m4-2h0m8-2h0m17 4h0m10-3h0m4 3h0m11-1h0m5 2h0m3-4h0m13 0h0m5 1h0m10-1h0m7-2h0m9 4h0m14-2h0m5 0h0m4-1h0m12 3h0m7 0h0m31 2h0m22-5h0m27 2h0m42 1h0m12 0h0m5 1h0m15 0h0m15-4h0m39 3h0m5-2h0m14 0h0m6 1h0m6 1h0m5-2h0m0 1h0m5-3h0m5 0h0m6 4h0m4 1h0m-686 2h0m0 3h0m0 1h0m24-5h0m8 1h0m2 4h0m23 0h0m11-3h0m104 0h0m5 1h0m31 0h0m3 2h0m43-2h0m16 2h0m15 0h0m6-4h0m16 2h0m3 2h0m1-2h0m9 1h0m8-2h0m24 0h0m12 0h0m5 2h0m4 2h0m6-2h0m4-1h0m3 0h0m19 1h0m4-1h0m16 1h0m45 0h0m42-1h0m9-1h0m4-1h0m51 5h0m6 0h0m29-1h0m15-4h0m16 4h0m12 0h0m8-3h0m6 0h0m8 0h0m2-1h0m2 1h0m2-1h0m7 5h0m0-2h0m-693 4h0m4 3h0m3-4h0m12 5h0m5-3h0m5-1h0m0 0h0m7 2h0m1 1h0m12-2h0m15-1h0m7 2h0m119-2h0m37 3h0m3-5h0m19 1h0m17 3h0m16 2h0m3-6h0m17 4h0m6-2h0m16-2h0m4 6h0m0-6h0m2 0h0m9 4h0m3-2h0m4 1h0m6-3h0m4 5h0m7-5h0m12 2h0m9 2h0m3 0h0m1 0h0m12-2h0m3 3h0m7-4h0m40 4h0m10-1h0m6-2h0m26 1h0m6-1h0m37-1h0m11 1h0m4 2h0m33-2h0m44 3h0m10-3h0m3-1h0m21 5h0m2-3h0m2-3h0m17 2h0m2-2h0m4 6h0m3-2h0m3 0h0m3 0h0m1-1h0m-683 7h0m1-4h0m5 4h0m10-3h0m14 4h0m2 0h0m9 1h0m12-4h0m135 1h0m2 0h0m94 1h0m12-1h0m6 1h0m1 0h0m3 1h0m2-4h0m32 1h0m9 1h0m5 2h0m3-4h0m19 1h0m9-1h0m40 3h0m8-3h0m5 3h0m12-4h0m21 2h0m5 4h0m2-5h0m16 4h0m71-1h0m0-3h0m7 3h0m17-3h0m1 2h0m46 0h0m3 1h0m0-3h0m6-1h0m2 5h0m2-4h0m2 3h0m2 0h0m3 0h0m3 1h0m18-4h0m5 0h0m7 3h0m-698 6h0m6 1h0m13 0h0m7-3h0m3 0h0m8 2h0m1-3h0m3 1h0m1 2h0m4-3h0m7 4h0m0-3h0m4 3h0m0-2h0m16 0h0m301-3h0m3 1h0m47 0h0m13 2h0m72-2h0m38 2h0m34 1h0m31-1h0m18-2h0m11 4h0m0-2h0m8-3h0m8 3h0m8 0h0m0-2h0m3 1h0m4 2h0m1-2h0m1 0h0m1 3h0m4 0h0m2-2h0m12-1h0m2 3h0m9-1h0m-709 4h0m9-2h0m15 4h0m12 2h0m17 0h0m2-5h0m1 1h0m3 0h0m221-1h0m61 5h0m15-1h0m73-3h0m13 2h0m43 1h0m13-3h0m3 3h0m10-2h0m9 0h0m30 1h0m9 0h0m24-3h0m8 3h0m9-4h0m3 6h0m14-5h0m8 4h0m12 1h0m6-3h0m4 0h0m3-1h0m11 1h0m8-2h0m5 1h0m8 1h0m3 0h0m7-2h0m0 3h0m-689 5h0m17-1h0m3-2h0m0 3h0m1 1h0m5-3h0m1 1h0m11 2h0m17-1h0m4 2h0m24-3h0m252 0h0m1 3h0m174-1h0m16 1h0m5-3h0m15 0h0m8-2h0m33 2h0m7-1h0m15 3h0m48-2h0m2 3h0m2-5h0m4 2h0m3 1h0m9 0h0m5-2h0m10 2h0m2 1h0m0-3h0m4 2h0m5-1h0m-697 7h0m6-3h0m7 2h0m3 3h0m4 1h0m1-4h0m15 0h0m4-1h0m0 2h0m3-1h0m6 1h0m6-1h0m77 0h0m69-2h0m255 3h0m13-1h0m8 2h0m15-3h0m8-1h0m2 3h0m27 2h0m57-3h0m6 2h0m4-2h0m20 0h0m2 3h0m39-3h0m4-2h0m3 0h0m3 2h0m4 1h0m5-3h0m16 1h0m-700 9h0m12-1h0m6 1h0m7-3h0m9 1h0m2 2h0m3-1h0m0 2h0m2-5h0m3 5h0m7-1h0m9 1h0m3-3h0m10-2h0m27 5h0m106 0h0m2-1h0m6-3h0m232 1h0m25 3h0m58 0h0m23 0h0m23-3h0m2 4h0m29-6h0m4 2h0m17 3h0m31-4h0m8-1h0m15 1h0m2 2h0m9 3h0m1-5h0m-714 7h0m12 0h0m13 1h0m0 1h0m5 0h0m6-3h0m7 4h0m10-5h0m0 0h0m21 3h0m15 3h0m2-4h0m3 1h0m20-1h0m2 1h0m4 0h0m29-2h0m91 0h0m5 5h0m23-1h0m142 0h0m64-3h0m25-1h0m12 1h0m9-1h0m37 1h0m36-2h0m4 4h0m8-1h0m2 2h0m29 0h0m15 0h0m6-4h0m6 3h0m10-4h0m7 5h0m4-4h0m0 0h0m7-1h0m4 2h0m7 1h0m8 2h0m10-5h0m-706 9h0m2 1h0m8-2h0m8 0h0m3-2h0m1 5h0m2 0h0m3-1h0m3-1h0m4 2h0m2 1h0m5-1h0m5-2h0m0-3h0m6 4h0m6-2h0m6 0h0m6 1h0m439 3h0m8-5h0m29 1h0m41 1h0m5-1h0m28 4h0m25-5h0m1 3h0m26-2h0m4 2h0m5-3h0m5 0h0m2 0h0m2 4h0m9-4h0m-694 9h0m4 0h0m3-3h0m10-1h0m1 2h0m5 4h0m2-4h0m1 4h0m16-5h0m7 3h0m2-2h0m3 2h0m1-2h0m9-2h0m7 6h0m7-2h0m3-1h0m143-1h0m0 0h0m3-1h0m1-1h0m2 4h0m3-3h0m1 3h0m2 2h0m1-6h0m7 6h0m7-5h0m5 3h0m0-4h0m17 5h0m119-5h0m98 0h0m151 1h0m11 1h0m3-2h0m6 4h0m6-2h0m6 1h0m9-2h0m6 1h0m0 0h0m6-1h0m-696 10h0m4-4h0m2 3h0m5 2h0m8-5h0m13 0h0m3 1h0m9 3h0m2-3h0m4 4h0m1-5h0m3 3h0m6 0h0m2 2h0m6-2h0m3-1h0m1 2h0m4-3h0m1-1h0m2 4h0m4-4h0m1 4h0m7-2h0m131-2h0m35 1h0m1-2h0m10 1h0m14-1h0m11 1h0m30 3h0m1 1h0m154-5h0m-480 8h0m19-1h0m4 4h0m5-1h0m15-3h0m7 3h0m6-2h0m2-2h0m28 2h0m141 3h0m14-1h0m3 1h0m4-1h0m2-2h0m4 3h0m2-2h0m70 2h0m13-1h0m-329 4h0m15 3h0m2-3h0m6 0h0m9 3h0m2 0h0m6-2h0m2 0h0m4-1h0m8 1h0m11 0h0m3-2h0m1 0h0m22 1h0m126 0h0m1 1h0m1 3h0m7-5h0m15 1h0m8 0h0m66-1h0m219 2h0m-537 5h0m1 2h0m0-2h0m9 3h0m4-4h0m4 4h0m7 0h0m21-1h0m5-4h0m6 5h0m11 1h0m2 0h0m7-6h0m5 5h0m6 1h0m127-1h0m9-4h0m89 1h0m182 1h0m-496 7h0m6-2h0m2 1h0m15 2h0m3-3h0m12 3h0m1-4h0m3-1h0m2 4h0m1 2h0m6 0h0m5-3h0m5-2h0m4 2h0m4 3h0m4-3h0m24-1h0m4-1h0m11 2h0m16-2h0m101 1h0m3-2h0m0 3h0m4-2h0m7 2h0m78 3h0m1-5h0m-309 5h0m22 0h0m11 0h0m1 3h0m3 1h0m15-3h0m16 3h0m4-3h0m5 4h0m3 0h0m39 0h0m98-2h0m9-2h0m2 0h0m72 0h0m4-1h0m4 1h0m138 1h0m-462 7h0m6 1h0m15-1h0m5 1h0m10 2h0m7-5h0m14 1h0m3 2h0m0-1h0m3 0h0m5-1h0m3 3h0m4-1h0m2-3h0m3 5h0m1-4h0m27-2h0m2 1h0m4 5h0m1-6h0m1 1h0m123 0h0m30 0h0m46 3h0m5-3h0m-313 5h0m16 1h0m3 5h0m21-3h0m14 1h0m18 2h0m2-2h0m6-1h0m9 3h0m14-4h0m5 1h0m0 0h0m78 1h0m9-1h0m0 1h0m76-4h0m16 1h0m13 3h0m0-1h0m6-1h0m224 2h0m-518 6h0m7-1h0m4-2h0m2-1h0m32 2h0m8 1h0m1 1h0m12-2h0m6 0h0m15-1h0m4 1h0m2 3h0m1 1h0m3-1h0m64-5h0m4 1h0m7 5h0m17-5h0m89 5h0m6 0h0m6-4h0m1 1h0m-276 6h0m7 0h0m2 0h0m26-1h0m33 1h0m1 1h0m3-1h0m4 2h0m4-3h0m81 1h0m38-1h0m56 0h0m9-1h0m8-1h0m3 6h0m5-1h0m6-1h0m181-2h0m-460 10h0m2-3h0m11-1h0m0 3h0m19-4h0m7 0h0m5 1h0m5 2h0m3 1h0m4-2h0m5 2h0m2-4h0m3 0h0m21 3h0m110-3h0m35 4h0m8-1h0m23-1h0m40 0h0m4 3h0m-309 4h0m1-3h0m4 3h0m4-3h0m3 1h0m9-2h0m3 4h0m4 2h0m12-3h0m2 3h0m44-6h0m2 2h0m2 3h0m30-3h0m31-1h0m80 0h0m0 3h0m2-3h0m10 2h0m2-2h0m3 3h0m15 0h0m20 1h0m1-1h0m4-1h0m14 2h0m3-4h0m163 3h0m-468 4h0m15 2h0m8-1h0m4 1h0m8 0h0m11 0h0m2-2h0m3 0h0m4 2h0m6-2h0m19 1h0m10-3h0m53 2h0m2-1h0m4 4h0m32 0h0m131-5h0m60 3h0m-358 6h0m19-1h0m3 0h0m0 0h0m51 3h0m3-4h0m32 1h0m16 4h0m154-5h0m21 6h0m9 3h0m-232 5h0m1-2h0m2 1h0m5 2h0m21-1h0m67 0h0m21-2h0m121 0h0m4 3h0m-231 4h0m157-1h0m18 5h0m-156 5h0m53 3h0m85 4h0m3 0h0m-144 2h0m18 1h0m3 2h0m5 6h0m-13 4h0m180 3h0m-166 2h0m7 1h0m110 2h0m316-4h0m-226 6h0m67 5h0m8-3h0m17 3h0m27-5h0m-297 10h0m91 0h0m4-1h0m3 0h0m147 0h0m2 1h0m-307 1h0m14 3h0m0-2h0m33 3h0m61 0h0m11-2h0m28 1h0m25-2h0m130 0h0m3 1h0m14 0h0m12-2h0m38 1h0m-239 7h0m13-1h0m2-1h0m6 2h0m14 0h0m4-1h0m17 3h0m86-3h0m5 3h0m5 2h0m10-6h0m9 2h0m19-1h0m12 4h0m5-1h0m-316 3h0m45 5h0m3-1h0m8 0h0m35-5h0m6 1h0m158 4h0m0-5h0m4 2h0m10 3h0m7-1h0m3-4h0m5 0h0m16 6h0m9-4h0m-282 5h0m6 2h0m9 0h0m5 2h0m1-2h0m3 2h0m0-2h0m5 1h0m25 0h0m1-3h0m5 4h0m9-5h0m3 3h0m17 2h0m10-2h0m1 2h0m3-5h0m6 1h0m7 3h0m3-3h0m1 5h0m1-2h0m6 0h0m21 2h0m69-5h0m14 2h0m2-2h0m10 4h0m1-3h0m8 1h0m4 2h0m11-2h0m12-1h0m-304 5h0m7 2h0m10-3h0m7 5h0m1-3h0m5 2h0m15 1h0m11-2h0m8 0h0m9 0h0m6-1h0m6 0h0m13 1h0m6 2h0m3 0h0m9-2h0m10 2h0m5-3h0m9 4h0m6-5h0m22-1h0m84 4h0m2-2h0m4 0h0m21 3h0m2-3h0m2 3h0m-281 3h0m5 3h0m0-3h0m13 2h0m21-3h0m1 3h0m20-4h0m8 5h0m18-3h0m14 1h0m6-3h0m1 3h0m2 3h0m12-4h0m13-1h0m10 4h0m16-4h0m123 3h0m1-3h0m-288 10h0m1-5h0m6 6h0m2-4h0m5 3h0m1-4h0m0 4h0m12 0h0m4-1h0m9 2h0m0-3h0m3-2h0m5 5h0m6-2h0m8 2h0m35-4h0m16 3h0m10-4h0m3 1h0m8 2h0m11-1h0m3 3h0m94-5h0m48 5h0m10-4h0m7 3h0m-304 4h0m27-1h0m6 1h0m0-3h0m5 3h0m5-1h0m2 1h0m2 1h0m12 1h0m1-3h0m5-2h0m7 1h0m14 2h0m6-3h0m11 1h0m17 2h0m17-2h0m110 2h0m28 2h0m6 0h0m3-4h0m-276 9h0m9-1h0m11-2h0m12 2h0m4-3h0m4 2h0m7 2h0m18 0h0m8 2h0m26-1h0m27-4h0m4 0h0m135 1h0m1 0h0m9 2h0m10 2h0m2-3h0m-296 7h0m2-3h0m8 1h0m0 2h0m11-1h0m4 0h0m6 3h0m3-5h0m4 2h0m5 3h0m7-2h0m0-3h0m4 0h0m14 0h0m3 1h0m12 1h0m3-1h0m6 4h0m8-2h0m8 0h0m2 2h0m18-4h0m13 2h0m121 2h0m1-3h0m6 1h0m3 1h0m2-1h0m4-1h0m4 3h0m26-5h0m-304 8h0m7-1h0m1 2h0m3 1h0m1-4h0m17 4h0m15-2h0m1-2h0m1 4h0m6-1h0m8 2h0m14-2h0m3-2h0m3 2h0m12 1h0m18 0h0m8-3h0m7 0h0m129 0h0m16-2h0m1 4h0m5 0h0m8-1h0m12-1h0m-288 8h0m19-3h0m0 0h0m14 4h0m13 0h0m6 1h0m4-5h0m7 3h0m21-3h0m12 1h0m13-2h0m4 5h0m7-3h0m1 3h0m8 0h0m124 0h0m9-3h0m5-1h0m5 0h0m1 1h0m-280 4h0m15 0h0m3 1h0m5 3h0m4 2h0m2-4h0m3 3h0m3 0h0m11 0h0m19-4h0m1-1h0m22 6h0m1 0h0m1-4h0m29 0h0m-110 7h0m4 0h0m12-2h0m3 1h0m23-1h0m10 1h0m2 1h0m28-1h0m5 0h0m9 0h0m13-1h0m10 2h0m0 0h0m-115 5h0m3 0h0m5 1h0m5 1h0m12-1h0m5 2h0m8-3h0m5 4h0m2-3h0m13 3h0m18-2h0m3-4h0m8 1h0m4 2h0m16 2h0m6-4h0m4 0h0m0 5h0m-86 2h0m17-2h0m1 3h0m3 3h0m2-4h0m10-2h0m1 3h0m28-3h0m9 1h0m5 4h0m-95 2h0m4-1h0m0 4h0m3 0h0m7 1h0m11-3h0m5-2h0m10 4h0m30 1h0m10-1h0m6 1h0m20-4h0m1 0h0m0 4h0m-90 2h0m0 4h0m4-3h0m19-1h0m6 3h0m4 0h0m5-2h0m8-2h0m18 1h0m2 4h0m31-5h0m-107 12h0m19-2h0m3-1h0m1 0h0m41-2h0m14 2h0m1-3h0m5 4h0m9 0h0m-88 8h0m3-1h0m0-4h0m4-1h0m19 2h0m16 0h0m13-2h0m33 3h0m-80 7h0m8-4h0m11 1h0m27 5h0m9-1h0m16-3h0m2 4h0m4-4h0m0 3h0m3-2h0m-75 7h0m4 1h0m16-4h0m17 3h0m12-3h0m9 3h0m10 1h0m-42 3h0m7 0h0m-15 8h0m26 1h0m3-1h0m5-4h0m-34 8h0m1 4h0m3 4h0" stroke="#4393C3"/>
<path d="M1836 65h0m-4 6h0m12 2h0m-120 7h0m25-1h0m59-1h0m19-2h0m1 5h0m8-5h0m-129 8h0m11 1h0m15-3h0m1 1h0m12 0h0m8 3h0m50 0h0m13 0h0m7-4h0m29 0h0m2-1h0m12 1h0m16 3h0m3 1h0m-457 4h0m246 2h0m8 0h0m18-3h0m5 1h0m7-2h0m3 1h0m4 1h0m6 2h0m14-1h0m3 1h0m9-3h0m5-1h0m37 4h0m6-3h0m9 3h0m14-1h0m19-3h0m7 1h0m10-2h0m2 3h0m17-2h0m-419 8h0m187 1h0m5-1h0m15-1h0m4 2h0m1 0h0m13-4h0m2 2h0m9 1h0m6 2h0m6-4h0m2 1h0m4 1h0m4 0h0m9 0h0m4-1h0m4 4h0m3-1h0m8-2h0m5 2h0m38-2h0m2 1h0m4 2h0m9-2h0m3-2h0m0 2h0m17-1h0m25-2h0m4 5h0m2-4h0m18 2h0m1-3h0m11 0h0m12 5h0m0 0h0m-459 2h0m11 3h0m195 0h0m2-3h0m1 2h0m8 2h0m3-4h0m2 0h0m0 3h0m2-1h0m9-1h0m1 1h0m4 0h0m1-4h0m3 3h0m5 1h0m5 0h0m0-3h0m0 1h0m5-1h0m7 4h0m1-3h0m2 2h0m3-1h0m6 3h0m4-3h0m8-1h0m8 3h0m5-4h0m35-1h0m20 2h0m60 2h0m7-1h0m4 3h0m22-5h0m12 4h0m22-2h0m-494 5h0m103 4h0m91-4h0m6 3h0m17-3h0m14-1h0m12 4h0m25-4h0m2 0h0m1 4h0m3-2h0m0 0h0m13 2h0m13-3h0m9-1h0m0 1h0m20 0h0m9 2h0m25-4h0m51 0h0m5 3h0m10-2h0m9 2h0m0-3h0m2 3h0m15 3h0m9-4h0m17-1h0m4 1h0m1 2h0m3 0h0m2 0h0m-492 5h0m189 2h0m4-1h0m1-1h0m4 2h0m22-2h0m9-2h0m3 4h0m11-4h0m14 5h0m5-3h0m5-2h0m89 0h0m3 3h0m9-4h0m24 3h0m0 2h0m16 0h0m12-2h0m12-2h0m7 3h0m14-3h0m13 1h0m16 3h0m3-4h0m2 3h0m5 0h0m-423 2h0m119 1h0m2 3h0m7-2h0m9-1h0m10 1h0m1 3h0m6-1h0m28-1h0m1-2h0m5 1h0m7 0h0m48 0h0m0-2h0m22 3h0m29 0h0m4-1h0m13 4h0m24-1h0m6-5h0m20 5h0m15-3h0m14 1h0m16 3h0m6-4h0m10 1h0m1-2h0m-432 7h0m133 3h0m1-1h0m2-2h0m2-2h0m1 5h0m10-4h0m16-1h0m6 1h0m12 2h0m61-2h0m3 5h0m7-5h0m20 2h0m0 2h0m8-2h0m4-3h0m5 6h0m1-2h0m1 0h0m14 2h0m6-2h0m3 2h0m13-5h0m0 4h0m23-2h0m17 2h0m2-2h0m24 2h0m0-3h0m3 3h0m6-2h0m5-2h0m5 1h0m8 1h0m7 0h0m10-1h0m0 3h0m-425 1h0m97 1h0m115 1h0m26 0h0m3 1h0m16-1h0m13-1h0m4 3h0m9 1h0m11-2h0m6 1h0m3-1h0m4 2h0m4-3h0m21 0h0m1-1h0m13-1h0m15 4h0m2-3h0m24-1h0m29 1h0m4 3h0m-461 6h0m129-2h0m10-1h0m0 1h0m6 1h0m2 1h0m92-4h0m10 5h0m20-3h0m7-2h0m6 1h0m4-1h0m15 0h0m12 1h0m25 3h0m4-3h0m40 3h0m3-1h0m3-2h0m14 4h0m4-2h0m3 2h0m18-4h0m10 0h0m7 0h0m2 0h0m14 1h0m1 0h0m5 1h0m-423 3h0m96 1h0m100 4h0m19-4h0m11 1h0m24 0h0m4 0h0m4 2h0m27 2h0m4-6h0m8 2h0m8-1h0m4-1h0m17 0h0m7 5h0m1-2h0m3-2h0m4 2h0m2-3h0m1 2h0m4-1h0m0 2h0m2-3h0m0 0h0m1 6h0m6-5h0m5 4h0m8-1h0m19 1h0m1 1h0m1-5h0m3 1h0m15 0h0m1 4h0m5-4h0m3 2h0m3 1h0m7-3h0m22 2h0m-503 3h0m149 4h0m109-1h0m26 0h0m8-1h0m3 0h0m24-1h0m14 4h0m2-2h0m4-3h0m5 0h0m13 4h0m13-1h0m4 0h0m17-3h0m36 2h0m7 2h0m4-2h0m6 0h0m3 2h0m10 0h0m10 0h0m2-2h0m8 0h0m2-2h0m2 0h0m-206 7h0m6 2h0m5-4h0m5 2h0m1 0h0m1 1h0m8-1h0m6 3h0m13-2h0m21 3h0m7-5h0m3 2h0m1 3h0m4-3h0m4 2h0m21-4h0m2 3h0m3-2h0m4 0h0m3 3h0m5-1h0m1-4h0m6 2h0m11 3h0m4 0h0m5-4h0m1 4h0m2-1h0m8 0h0m1-2h0m8 1h0m8-3h0m5 2h0m10 4h0m15-6h0m6 5h0m-489 2h0m292 0h0m47 0h0m11 2h0m1-1h0m13 0h0m3 1h0m6 1h0m4-4h0m8 2h0m1-2h0m2 3h0m7-1h0m11 0h0m7 3h0m1-3h0m2 2h0m9-1h0m11 2h0m6-4h0m0 1h0m19 0h0m5 1h0m1 0h0m2-1h0m4 3h0m4 0h0m3-5h0m7 2h0m-201 7h0m66 2h0m2-1h0m1-3h0m5 2h0m11 3h0m6-2h0m2 0h0m3-3h0m4-1h0m2 5h0m3-2h0m4-2h0m1 2h0m5-2h0m4 2h0m8 0h0m4 1h0m3 1h0m5 0h0m4-3h0m5 1h0m10-2h0m9-1h0m0 3h0m5 1h0m2 1h0m20 0h0m4-1h0m4-4h0m-370 9h0m84-1h0m64-1h0m16 1h0m9 1h0m21 0h0m11 2h0m24-3h0m9 2h0m7 1h0m13-1h0m7-4h0m11 2h0m10-1h0m1-1h0m6 1h0m7 2h0m10 1h0m11-2h0m13 2h0m2-4h0m4 6h0m3-5h0m4 2h0m2 1h0m4-1h0m0 1h0m1 1h0m5-4h0m1 4h0m4 0h0m1-4h0m1 0h0m4 5h0m-618 1h0m149 2h0m169 2h0m14 1h0m55-4h0m31 0h0m3 2h0m9 1h0m28-2h0m6 0h0m11 2h0m9-5h0m1 3h0m3-2h0m7 1h0m3-1h0m10 3h0m2 1h0m0-1h0m6-1h0m6 2h0m5 1h0m4 0h0m0-4h0m2 1h0m4 0h0m6 2h0m21-2h0m6 0h0m1 3h0m4-5h0m10 5h0m2-2h0m16 2h0m3-6h0m7 3h0m-429 4h0m0 1h0m182 3h0m3-1h0m21-3h0m25 1h0m8 1h0m25-2h0m3 1h0m14 0h0m9 1h0m6 0h0m6-1h0m2 1h0m0 2h0m17-4h0m9 3h0m4-3h0m8 3h0m13 0h0m2-2h0m8-1h0m4 4h0m5-2h0m5 2h0m1-2h0m5 3h0m5-4h0m4 4h0m0-6h0m2 1h0m8 0h0m0 2h0m3 3h0m-570 3h0m23 1h0m2-1h0m13 3h0m4-1h0m6-1h0m52-1h0m185-2h0m7 5h0m9-2h0m6 0h0m12-3h0m18 1h0m2 3h0m14-4h0m0 2h0m5 0h0m42 1h0m2 1h0m0-3h0m20 0h0m6 0h0m9-1h0m8 4h0m10-4h0m0 4h0m6-2h0m22 1h0m3 1h0m12 1h0m10-1h0m0-2h0m0 3h0m3-1h0m3-4h0m15 2h0m12-1h0m5-1h0m8 4h0m5-3h0m16-1h0m16 2h0m-614 9h0m14 0h0m0-2h0m3-2h0m13 1h0m24 3h0m1-4h0m5 4h0m6 0h0m0-6h0m3 2h0m3 0h0m5-2h0m123 2h0m111-2h0m3 6h0m11-1h0m2-4h0m7 3h0m7-2h0m2 1h0m5 0h0m2 1h0m9-1h0m8 0h0m2 2h0m2-1h0m5 0h0m3-1h0m4-1h0m5 2h0m6 1h0m14 1h0m15-3h0m2 1h0m1 0h0m8 1h0m8 0h0m9-2h0m0-1h0m8-1h0m2 3h0m9 0h0m13-3h0m5 1h0m1-1h0m19 2h0m4 0h0m5 1h0m8 1h0m7 0h0m3-1h0m2-3h0m5 1h0m2 3h0m3-5h0m1 4h0m2-3h0m2 1h0m3-1h0m10 2h0m1-3h0m1 0h0m1 5h0m2-2h0m8 2h0m0-2h0m6-1h0m5-1h0m4 3h0m3 0h0m10-1h0m4-3h0m-639 10h0m7 1h0m3-1h0m8-2h0m14 2h0m11-3h0m4 0h0m4 2h0m1-1h0m7-1h0m4 0h0m12 2h0m2 2h0m11-2h0m1 0h0m261-1h0m3 3h0m6-2h0m0 2h0m9-1h0m3 0h0m7-4h0m9 4h0m3 1h0m9-5h0m0 6h0m4-5h0m8 1h0m4 3h0m0-2h0m1 2h0m1-2h0m2 1h0m1 0h0m3 2h0m14-2h0m8-2h0m0-2h0m1 2h0m6 1h0m2 2h0m1-4h0m13 3h0m10-4h0m0 4h0m6-3h0m25 3h0m24-1h0m10-3h0m1 4h0m8 0h0m5 1h0m8-4h0m3 2h0m4 2h0m1-5h0m0 4h0m18-2h0m0 3h0m14-4h0m9 4h0m7-5h0m1 4h0m5 0h0m-634 5h0m16-1h0m7 1h0m1 0h0m3 1h0m0-3h0m4 2h0m0-3h0m3 3h0m8 0h0m3-2h0m5 1h0m3 0h0m13 1h0m2-3h0m1 5h0m2-3h0m1 3h0m8-1h0m6 0h0m2 1h0m1-5h0m6 4h0m0-2h0m3 0h0m259 4h0m0-5h0m5 4h0m14-2h0m3 2h0m0-5h0m6 3h0m3-1h0m2-1h0m3 4h0m3-2h0m1 1h0m5 2h0m5-2h0m3-3h0m2 3h0m0 1h0m2-5h0m9 2h0m56-1h0m8 3h0m4 0h0m4-2h0m2 0h0m33 1h0m1 1h0m4 1h0m14 1h0m7 0h0m4-2h0m1-2h0m12-1h0m6 3h0m5-1h0m1 3h0m1-3h0m2 2h0m18-4h0m4 0h0m5 4h0m1-1h0m5 1h0m3-3h0m3 3h0m3-1h0m1-2h0m2 3h0m1 0h0m9-4h0m0 3h0m11-2h0m-675 9h0m11-3h0m2 2h0m2 1h0m6-2h0m3 1h0m1 0h0m0-2h0m5 4h0m6-3h0m4 2h0m6-3h0m7 3h0m5 0h0m0-4h0m5 3h0m4-3h0m0 2h0m4 0h0m5-1h0m0-1h0m6 0h0m4 4h0m12-5h0m8 0h0m4 1h0m16 3h0m34 1h0m201-5h0m4 5h0m2-3h0m11 3h0m6 0h0m3-4h0m7 3h0m1-4h0m5 5h0m3-3h0m7 2h0m2-3h0m5-1h0m1 4h0m2-3h0m1 3h0m12 0h0m2 1h0m6-2h0m14 0h0m19 1h0m0-1h0m17 2h0m3-3h0m11 4h0m1-4h0m2 1h0m2 3h0m4-3h0m0-2h0m16 2h0m5 2h0m12-2h0m4-1h0m14-2h0m3 6h0m6-3h0m18-2h0m3 3h0m4-3h0m1 4h0m0 1h0m3 0h0m8-3h0m6-2h0m8 1h0m8-2h0m0 4h0m2-1h0m2 1h0m3-1h0m4 0h0m14-2h0m-652 8h0m6-3h0m19 5h0m12 1h0m8-3h0m2 3h0m4-3h0m0-1h0m7 4h0m10 0h0m2-6h0m3 4h0m1-3h0m10 2h0m0-3h0m2 3h0m3 3h0m10-5h0m1 2h0m3-2h0m47 3h0m194-4h0m9 4h0m8-3h0m0 3h0m7-3h0m5 2h0m1-2h0m3 1h0m5 0h0m2-2h0m4 5h0m8-4h0m4 5h0m2-2h0m1 1h0m13-4h0m1 0h0m3 5h0m7-3h0m3-1h0m5 4h0m2 0h0m2-4h0m4 0h0m40 3h0m1-5h0m13 5h0m11 1h0m7-1h0m9 0h0m2-4h0m1 3h0m0 0h0m6 0h0m2-2h0m7-1h0m4 0h0m5 4h0m1-4h0m12 5h0m1-4h0m0 2h0m11 2h0m2-5h0m4 0h0m8 4h0m12 0h0m4-1h0m4 1h0m5 1h0m0-5h0m10 2h0m5 1h0m6 0h0m1 2h0m-626 4h0m4 0h0m5 1h0m0-1h0m7-3h0m9 0h0m3 3h0m3 0h0m7-4h0m5 1h0m12 4h0m12-2h0m8-3h0m13 5h0m264-4h0m2 4h0m3-3h0m2-2h0m6 1h0m2 5h0m10-4h0m1 1h0m2-2h0m1 0h0m9 2h0m0-1h0m2 2h0m1-1h0m1-2h0m3 2h0m9 1h0m7-2h0m2-1h0m2 4h0m33 0h0m2-5h0m6 5h0m9 1h0m8-4h0m8 3h0m8-1h0m5-2h0m3 2h0m6-1h0m4-2h0m5 0h0m3 4h0m5-4h0m0 4h0m7-4h0m0-1h0m0 5h0m2 0h0m3-4h0m17 0h0m9 5h0m11-4h0m13-1h0m3 4h0m1-1h0m15 1h0m1-2h0m0-2h0m2 4h0m11-3h0m5 3h0m3 0h0m11-5h0m20 3h0m-656 9h0m3-3h0m6 1h0m5-1h0m11 2h0m12-4h0m14 4h0m11-3h0m15-1h0m2-1h0m0 5h0m69-1h0m220-3h0m1 4h0m2-4h0m5-1h0m0 6h0m1-2h0m5-1h0m1-2h0m9 0h0m4 2h0m1 2h0m1-4h0m0 4h0m20-5h0m37 1h0m0 2h0m12 3h0m18-2h0m0-1h0m8 2h0m0-3h0m6 1h0m7 2h0m4 0h0m5 0h0m12-3h0m7 2h0m6 0h0m4 0h0m5-4h0m7 5h0m5-2h0m1 3h0m1-4h0m3 2h0m4 0h0m5-3h0m2 1h0m3 0h0m17 1h0m1-2h0m8 5h0m6-1h0m4 1h0m4-3h0m7-1h0m4 2h0m5 0h0m3 2h0m-636 5h0m2-1h0m6-2h0m6 1h0m3 2h0m1-3h0m9 4h0m1-1h0m6-3h0m4 1h0m14 0h0m5-2h0m0 5h0m3-6h0m5 3h0m6-1h0m16-2h0m45 3h0m49-1h0m182-2h0m5 4h0m16-3h0m21 3h0m37-2h0m29-1h0m2 1h0m5-1h0m14-1h0m2 5h0m3 1h0m5-4h0m0 0h0m4 4h0m14 0h0m20-1h0m1-5h0m2 2h0m4 0h0m3 3h0m1-4h0m1 4h0m9-1h0m0 0h0m16-1h0m1-1h0m6-1h0m9 5h0m7-4h0m30 4h0m-633 2h0m5 3h0m7-4h0m2 1h0m3 0h0m6 0h0m5 3h0m16 0h0m2-2h0m8 3h0m1-2h0m3-2h0m42-1h0m8 1h0m14 2h0m367-1h0m9 0h0m26 2h0m7-5h0m2 3h0m3 1h0m4-2h0m3 2h0m16-2h0m2 1h0m9 2h0m1-3h0m6 3h0m3 0h0m1-4h0m4 1h0m4 3h0m1-3h0m5 0h0m14 0h0m1 2h0m25-4h0m17 2h0m1 3h0m-649 4h0m0-1h0m3-1h0m5 0h0m27 1h0m1-2h0m7 1h0m3 5h0m23-1h0m17 1h0m6-3h0m48 0h0m227 3h0m30-6h0m78 4h0m4 1h0m2 0h0m4-2h0m2-1h0m12 0h0m2 2h0m8 1h0m5-2h0m4 1h0m1 1h0m7-3h0m2-2h0m6 2h0m7-1h0m0 3h0m11 0h0m2 0h0m5 2h0m2-2h0m0 0h0m2-3h0m7 1h0m2 3h0m27-2h0m27 0h0m6-2h0m-567 5h0m92 5h0m319-5h0m0 2h0m4 1h0m2 1h0m1-2h0m7-1h0m1 3h0m3-3h0m1 3h0m14-1h0m1 2h0m9 0h0m1-4h0m4 3h0m2-2h0m3 1h0m1-1h0m2 2h0m2-2h0m0 2h0m4-3h0m3 4h0m2 1h0m2-5h0m4 0h0m39 3h0m18-4h0m19 3h0m3 2h0m9-2h0m16-2h0m-670 6h0m4 0h0m13 0h0m12 3h0m19-2h0m86-1h0m6 1h0m42-1h0m320 0h0m5 0h0m0 4h0m0 1h0m3-3h0m5 2h0m2 1h0m1-2h0m0-2h0m9 3h0m1-3h0m2 0h0m1 4h0m5-3h0m12-1h0m8 3h0m72-3h0m-613 8h0m14-1h0m42 1h0m2 2h0m33 0h0m35-4h0m250-1h0m113 1h0m14 4h0m1-3h0m1-2h0m3 2h0m6-2h0m41 0h0m46 4h0m21-5h0m1 2h0m6-1h0m12 1h0m2 3h0m-626 2h0m24 4h0m45-2h0m11 1h0m20-1h0m19-1h0m488 1h0m4 0h0m3 3h0m1-1h0m8-1h0m-637 5h0m44 3h0m495 0h0m70-2h0m6-2h0m10 3h0m13-4h0m1 5h0m5-4h0m2 0h0m-593 9h0m2-1h0m5 0h0m4 2h0m100-4h0m253 2h0m177-1h0m14 3h0m1-4h0m6-1h0m5 0h0m4 0h0m11 2h0m5 3h0m3-4h0m5 2h0m-605 4h0m86 2h0m0-3h0m4 1h0m9 0h0m27-2h0m240 6h0m198-1h0m2-2h0m25-3h0m3 3h0m13 1h0m-508 3h0m269 2h0m188-1h0m10 2h0m7-1h0m8 1h0m13 2h0m6-1h0m9-5h0m-569 7h0m51 0h0m13 0h0m445 3h0m3-2h0m22 2h0m1-2h0m18 1h0m19 0h0m-561 5h0m17 0h0m54 3h0m204-2h0m25-2h0m17 0h0m8 1h0m118 3h0m55-3h0m5 1h0m8 2h0m17 0h0m2-4h0m5 3h0m19-2h0m8 3h0m1 0h0m7 0h0m-587 2h0m71 3h0m246-4h0m6 0h0m172 5h0m8-4h0m15 4h0m30 0h0m10 0h0m6-1h0m12-3h0m7-1h0m30 5h0m-288 4h0m161 1h0m24 0h0m29-3h0m22 1h0m13-1h0m-321 9h0m66 1h0m7-2h0m6-1h0m160-1h0m2 4h0m2-5h0m1 0h0m4 6h0m4-5h0m8 3h0m9-1h0m5-3h0m32 5h0m1-2h0m17 1h0m2-3h0m0 5h0m4-4h0m-270 5h0m12 2h0m148 3h0m6 0h0m3-4h0m3-2h0m3 5h0m1-3h0m2 1h0m6-2h0m9 4h0m2-2h0m24-1h0m7 1h0m7 2h0m3-5h0m1 3h0m3-3h0m3 5h0m13-1h0m21 0h0m-298 8h0m40-5h0m11 4h0m134-1h0m4-3h0m4 2h0m1-2h0m17 1h0m4 2h0m4 1h0m6 0h0m9-4h0m2 1h0m7 2h0m12-1h0m2-2h0m4 5h0m6-3h0m4 3h0m9-5h0m7 5h0m2-4h0m-274 8h0m157 2h0m14-4h0m1 3h0m5-3h0m4-2h0m6 5h0m0 0h0m2-4h0m6 0h0m0 4h0m8 1h0m7-4h0m11 0h0m5 0h0m16 0h0m1 4h0m6-5h0m4 4h0m11-2h0m7 2h0m-259 7h0m0 0h0m144-3h0m7 1h0m5-1h0m20-1h0m12 1h0m8-2h0m7 2h0m2 0h0m2-1h0m16 0h0m12-1h0m1 4h0m6-2h0m1-1h0m21 2h0m8-4h0m-289 12h0m23-2h0m8-3h0m116 3h0m6-1h0m1-1h0m2 3h0m8-1h0m1-3h0m2 5h0m3-5h0m7 5h0m4-1h0m5 1h0m10-5h0m13 3h0m8-2h0m1 3h0m17 1h0m36-1h0m6-3h0m8 3h0m0-3h0m-170 6h0m4 0h0m17 1h0m3 1h0m0 1h0m7-5h0m1 6h0m9-4h0m21 2h0m9 1h0m4-4h0m6 4h0m9-5h0m0 4h0m1 2h0m13-2h0m31-1h0m13-1h0m10 2h0m22-1h0m-307 5h0m9 0h0m122 0h0m16-1h0m12 2h0m2 1h0m18-3h0m4 0h0m5 4h0m2-2h0m5-2h0m18 5h0m15-2h0m15-4h0m4 2h0m3 0h0m5 2h0m12 1h0m2-2h0m7-3h0m12 0h0m4 4h0m5 1h0m-291 7h0m104-5h0m17-1h0m3 4h0m8-4h0m8 4h0m8-2h0m1 3h0m4 1h0m10-6h0m19 2h0m11-1h0m10 2h0m31-1h0m6 0h0m20 1h0m5-3h0m14 1h0m6-1h0m2 5h0m3 0h0m3-2h0m1 3h0m0 0h0m2-6h0m0 4h0m7 1h0m-170 2h0m29 2h0m12-1h0m8 2h0m10-1h0m17 3h0m1-4h0m4 1h0m16-3h0m17 6h0m2-5h0m19 3h0m15-2h0m13 0h0m-418 10h0m135-4h0m80 0h0m3 0h0m2 1h0m10 0h0m1-1h0m3 2h0m12-2h0m4 2h0m34 2h0m1-4h0m1-1h0m3 5h0m16-1h0m11-4h0m26 2h0m9 3h0m3-4h0m2 3h0m7 1h0m8 0h0m3-2h0m10 1h0m5-1h0m1 1h0m26 0h0m1-2h0m3 2h0m13-1h0m-237 3h0m3 2h0m0-1h0m15 0h0m2-1h0m2 0h0m0 0h0m2 3h0m7-2h0m4 2h0m38 1h0m7-5h0m8 4h0m10-4h0m22 2h0m1 1h0m3 2h0m6-2h0m3-3h0m15 4h0m7 1h0m8-1h0m2-2h0m1 4h0m4-4h0m9 3h0m16-3h0m30 2h0m14-2h0m-520 8h0m259 0h0m17 1h0m4 0h0m41-5h0m35 3h0m5-2h0m10 0h0m6 2h0m2 3h0m7-6h0m3 6h0m4-4h0m5 3h0m3-3h0m5 3h0m4-4h0m6 2h0m37 2h0m26-2h0m4 3h0m10-4h0m1 3h0m2-5h0m17 0h0m5 2h0m0 1h0m1-3h0m5 4h0m-367 7h0m10 0h0m75-4h0m17 2h0m4-2h0m10 5h0m5-4h0m19 1h0m18-1h0m3 4h0m30-1h0m12-2h0m5-2h0m7 0h0m6 4h0m5 1h0m13-5h0m10 5h0m13 0h0m13-5h0m7 1h0m12 3h0m4 0h0m2 0h0m5-1h0m7-1h0m11 0h0m32 3h0m-505 4h0m112 1h0m55-3h0m20 1h0m59 3h0m17-5h0m3 3h0m39 0h0m21 1h0m20-4h0m4 0h0m2 4h0m21-2h0m6-2h0m32 0h0m21 4h0m10 1h0m1-6h0m42 2h0m12 3h0m10 0h0m9-4h0m-552 10h0m115-3h0m13 2h0m44-2h0m6-1h0m99 4h0m8 0h0m28-3h0m90 4h0m24-2h0m16-1h0m21 0h0m3 0h0m7 2h0m36 0h0m5-3h0m8 1h0m7-1h0m-541 9h0m275-4h0m17 2h0m6-3h0m2 3h0m21-2h0m27 0h0m29 4h0m26-5h0m11 0h0m27 4h0m2 0h0m8-3h0m3 0h0m17-1h0m13 6h0m2-1h0m0-4h0m1 3h0m2-2h0m12-1h0m4 4h0m8 0h0m32-3h0m26 0h0m-542 10h0m111-3h0m12-2h0m32 1h0m50 3h0m32 0h0m20-2h0m3 2h0m24 1h0m10-3h0m40-2h0m31 2h0m12 1h0m9 2h0m10-5h0m13 4h0m2-3h0m8-1h0m10-1h0m4 5h0m1-1h0m8-4h0m18 5h0m3 1h0m35-5h0m52 4h0m-361 7h0m38-2h0m72 1h0m23 0h0m4-5h0m9 2h0m3-1h0m0 0h0m2 2h0m4 2h0m21-3h0m13 3h0m0-2h0m6 3h0m15-1h0m36-2h0m15 2h0m11-1h0m7 0h0m3 1h0m15 0h0m41-4h0m21 0h0m-566 8h0m18-1h0m198 4h0m6-2h0m25 2h0m22-4h0m15 0h0m10 1h0m41 1h0m1 2h0m8-2h0m12-4h0m4 2h0m7 0h0m45-1h0m10 0h0m30 4h0m2-5h0m26 1h0m37 4h0m23-1h0m3-3h0m5 5h0m22-1h0m-561 6h0m116-2h0m19 1h0m23 2h0m47-1h0m18-5h0m9 2h0m13 0h0m35 2h0m1-3h0m3 2h0m3 0h0m8 2h0m11-2h0m4 2h0m26 1h0m17-1h0m38-1h0m0 1h0m9-5h0m10 5h0m1-1h0m21 1h0m15-2h0m36 2h0m20 1h0m64-1h0m15-4h0m2 1h0m-613 5h0m12-1h0m64 3h0m188-2h0m5 3h0m27 0h0m1 0h0m34 0h0m2-3h0m12 1h0m19 2h0m41 1h0m2-4h0m2 4h0m23-2h0m1-3h0m27 5h0m7-2h0m3 1h0m5-3h0m21 0h0m44 0h0m30 4h0m43-3h0m-617 6h0m193 0h0m14-2h0m43 4h0m10-2h0m0 2h0m27-1h0m7-2h0m25 1h0m6 4h0m27-4h0m17 3h0m1-3h0m16 1h0m2-2h0m15 3h0m11-3h0m3 4h0m9-3h0m0 0h0m6 2h0m17-4h0m0 5h0m2 0h0m19 1h0m20-3h0m85 1h0m8 1h0m26 0h0m6-1h0m18-3h0m-633 7h0m37 4h0m180-5h0m71 0h0m3 4h0m48-2h0m8 1h0m62-2h0m12 0h0m12-2h0m13 6h0m8-4h0m5 2h0m16-4h0m1 4h0m1 0h0m54-1h0m73-2h0m8 1h0m-586 7h0m11 1h0m28 0h0m77-4h0m18 0h0m30 6h0m31-4h0m37-2h0m46 2h0m13 0h0m0 2h0m6-1h0m7 2h0m5-1h0m26-2h0m3-1h0m7-1h0m2 3h0m8 1h0m29 1h0m3-2h0m14 0h0m7 2h0m5-4h0m21 0h0m8-1h0m2 2h0m49 0h0m2 1h0m10 3h0m7-3h0m73-2h0m6 0h0m21 5h0m-633 0h0m208 3h0m7-3h0m8 4h0m33-1h0m42 1h0m6-2h0m7 1h0m9 3h0m11-1h0m32-3h0m22 0h0m24-1h0m7 3h0m45-3h0m4 0h0m47 4h0m72-5h0m-602 8h0m3 2h0m36 1h0m132-1h0m17 2h0m89-3h0m4-1h0m5-1h0m13 4h0m7-4h0m34 1h0m24 3h0m16 0h0m30 0h0m12-5h0m3 0h0m29 5h0m2-2h0m34 1h0m37-3h0m79 1h0m32 3h0m7-5h0m9 5h0m11 1h0m11-3h0m-668 4h0m6 0h0m20 0h0m157 1h0m62-1h0m6-1h0m1 5h0m23-3h0m16 1h0m6-1h0m5 1h0m28-1h0m24 0h0m1 3h0m3-4h0m26-1h0m19 2h0m7 0h0m26 2h0m24 0h0m32 0h0m7 1h0m23-2h0m9 2h0m-469 5h0m113-4h0m42 5h0m2-5h0m12 2h0m2 2h0m17 1h0m28-1h0m3-1h0m27-1h0m9 0h0m1 1h0m17-2h0m11 2h0m25 2h0m109 0h0m55 1h0m14-1h0m1-4h0m25 3h0m38-2h0m-579 5h0m4 4h0m29-4h0m101 1h0m54 0h0m140 1h0m0-1h0m14 3h0m73-4h0m62 2h0m75-2h0m-565 9h0m19 0h0m245-2h0m25-1h0m31 2h0m28 1h0m1-2h0m36 2h0m28-4h0m6 1h0m39 5h0m57-1h0m85 0h0m13-4h0m22 5h0m3-5h0m6 2h0m-620 6h0m286-2h0m125 3h0m66 0h0m18-3h0m32 0h0m19 0h0m50 1h0m-622 6h0m290 3h0m73-4h0m32 3h0m28 1h0m13-3h0m34 1h0m105 0h0m15-3h0m6 0h0m-599 9h0m20 0h0m248-2h0m90-1h0m55 3h0m121-1h0m33 4h0m32-1h0m25 1h0m-639 4h0m69-4h0m250 3h0m97-1h0m44-2h0m61 2h0m0 3h0m39 0h0m38 1h0m90-4h0m-580 5h0m85 2h0m188 0h0m77-1h0m44 3h0m67-3h0m9 2h0m97-1h0m2-2h0m-332 7h0m41 3h0m58-2h0m17 3h0m12-1h0m39-1h0m1-3h0m13 0h0m6 1h0m7 2h0m13 0h0m122 0h0m-639 6h0m189-1h0m6 1h0m449-3h0m-637 9h0m178-1h0m5 0h0m6 2h0m63-3h0m-309 5h0m6-1h0m217 0h0m4 4h0m9-1h0m47 0h0m-281 5h0m223 1h0m2 2h0m5-4h0m5 3h0m28-3h0m9 0h0m-281 8h0m15 0h0m36 1h0m4-3h0m1 1h0m9-1h0m26 0h0m5 3h0m22 2h0m133-6h0m268 2h0m-519 8h0m5-2h0m31 2h0m6-2h0m16 3h0m4-3h0m7 3h0m11-3h0m9 4h0m8-5h0m2 4h0m134-5h0m1 5h0m1-2h0m11-3h0m1 4h0m72-1h0m-313 9h0m5-6h0m7 3h0m5 2h0m12-2h0m6-2h0m8 0h0m30 0h0m3 3h0m141-1h0m6 2h0m2-1h0m1-2h0m3 1h0m11 1h0m67-1h0m226 0h0m-528 8h0m1-4h0m0 4h0m3-3h0m1 2h0m7 0h0m18 1h0m16 0h0m5-3h0m4 1h0m7-2h0m3 3h0m2-3h0m3 1h0m19-1h0m123 4h0m3-3h0m6 0h0m84 2h0m4 1h0m-309 6h0m2-1h0m29 0h0m12 1h0m2-5h0m8 2h0m6 4h0m15-1h0m1-4h0m14 4h0m4 0h0m5 0h0m6-4h0m7 4h0m94-3h0m4 1h0m80 0h0m20 2h0m3-3h0m-306 10h0m32-4h0m2 0h0m7 2h0m8-4h0m10 1h0m16 0h0m7 2h0m3 3h0m18-1h0m78-1h0m54-1h0m0 2h0m20-1h0m38-2h0m4 2h0m9 0h0m5-2h0m208 2h0m-515 6h0m14-4h0m3 1h0m16 3h0m2-3h0m27 4h0m1-4h0m7 5h0m4-3h0m7-1h0m72 4h0m10-2h0m8-3h0m1 3h0m102 1h0m0 0h0m9-1h0m13-2h0m7 1h0m-306 5h0m31 2h0m7 0h0m4-2h0m19 3h0m15 0h0m80-3h0m1 2h0m8 0h0m8-4h0m83 6h0m9 0h0m6-3h0m24-2h0m-282 5h0m8 1h0m31 0h0m1 3h0m45-1h0m2-1h0m49 0h0m8 3h0m16-1h0m7-3h0m35 0h0m39 3h0m24-2h0m-264 5h0m13 4h0m6 1h0m4-5h0m9 1h0m11-1h0m16 0h0m71-1h0m0 4h0m71-3h0m57 1h0m7 1h0m-251 5h0m11-1h0m5 5h0m18-3h0m13 0h0m1 3h0m55-5h0m145 2h0m7 0h0m199-1h0m-322 6h0m122 1h0m-226 8h0m102 3h0m-29 14h0m154 6h0m3-4h0m-128 19h0m130 4h0m161 5h0m-182 7h0m179-2h0m4-2h0m5 3h0m-197 6h0m31-1h0m2 2h0m152-1h0m1-4h0m10 4h0m4 0h0m3 0h0m-209 3h0m18 1h0m13 2h0m165-3h0m8 1h0m13 2h0m-253 7h0m20-2h0m41 2h0m33-3h0m8 1h0m120-1h0m7 1h0m11-2h0m2 4h0m11-1h0m-292 3h0m11 1h0m47-2h0m11 4h0m24 2h0m4 0h0m2-3h0m15 0h0m9-3h0m23 6h0m96-5h0m25 3h0m6-4h0m5 1h0m6 4h0m9-4h0m-320 10h0m2-2h0m2 0h0m68-2h0m4 4h0m4 0h0m5-5h0m16 5h0m12-1h0m15-4h0m9 2h0m4 0h0m32 1h0m83-1h0m49 1h0m5 2h0m9-3h0m0-1h0m-250 11h0m12-4h0m9 0h0m20 2h0m2-1h0m5 0h0m4 1h0m21-3h0m4-1h0m156 1h0m-290 9h0m12-2h0m20-2h0m11 4h0m19-3h0m1 1h0m11 0h0m5-1h0m2-1h0m12 5h0m8-1h0m19-2h0m12 3h0m151-4h0m10 4h0m-283 2h0m4 3h0m1-2h0m15 1h0m1 2h0m22-4h0m5 5h0m7-4h0m1 2h0m0 1h0m3-4h0m18 1h0m5 4h0m10 0h0m6-3h0m7-3h0m2 5h0m9-4h0m10 2h0m2 3h0m155-2h0m1-1h0m5 1h0m-298 6h0m36 1h0m12 0h0m5 1h0m6-4h0m14 1h0m6-3h0m5 2h0m8 2h0m11 0h0m7 2h0m12-2h0m14-2h0m2 3h0m1-2h0m143 0h0m6 1h0m8-3h0m-287 9h0m6-1h0m20-1h0m7 3h0m15-3h0m4 1h0m0-2h0m3-1h0m16 3h0m4 1h0m4-3h0m2 4h0m1-1h0m3-4h0m12 5h0m25 0h0m143-2h0m6-2h0m4-1h0m0 3h0m4 2h0m9-2h0m5 0h0m-290 5h0m7 0h0m22 3h0m0-4h0m26 2h0m6-2h0m21-1h0m5 2h0m0-2h0m17 5h0m4-2h0m1 2h0m5-2h0m0 2h0m4-5h0m1 3h0m3 0h0m6 0h0m-104 7h0m9 1h0m23-4h0m10 3h0m22-2h0m7 0h0m6 2h0m9 2h0m16-5h0m8 4h0m118 0h0m-262 6h0m8 0h0m11 0h0m43-2h0m5-1h0m6-2h0m5 2h0m5-1h0m6 3h0m3 0h0m6-3h0m5 3h0m2-3h0m18 3h0m8 0h0m-96 2h0m7 6h0m9-4h0m15 0h0m16 4h0m11-5h0m8 5h0m4-5h0m4 5h0m0-4h0m14 3h0m5 1h0m0-5h0m140 0h0m-254 9h0m17 1h0m35-1h0m28-2h0m13-1h0m5 4h0m16 0h0m3-3h0m1 1h0m-131 4h0m22 1h0m25 0h0m2 1h0m14-1h0m1 3h0m12-3h0m2 0h0m0 1h0m21 2h0m7-1h0m6-3h0m4 5h0m2 0h0m10-6h0m2 4h0m-104 6h0m6 2h0m19-4h0m0 1h0m4 1h0m6 1h0m5-1h0m5-1h0m2 0h0m8 3h0m8-1h0m10-1h0m5 0h0m3-1h0m14-1h0m10 3h0m-114 4h0m39 0h0m4 0h0m16 0h0m18-1h0m8-1h0m13-1h0m6 3h0m10 0h0m-100 4h0m6 4h0m18 0h0m11-3h0m5-1h0m1 5h0m36-3h0m-77 7h0m44-3h0m7 4h0m0-4h0m5 1h0m8 1h0m18-1h0m2 2h0m1-2h0m13 3h0m-97 1h0m8 5h0m10-3h0m1 1h0m5 2h0m2-5h0m16 4h0m22-2h0m5-2h0m5 1h0m8 1h0m8 3h0m-86 2h0m14 0h0m2 1h0m1 4h0m4-6h0m11 3h0m14-2h0m9 3h0m5-3h0m2 4h0m11-3h0m3 0h0m-73 9h0m5-4h0m11 3h0m3 0h0m18 0h0m4-1h0m1-1h0m7 3h0m1-3h0m11 2h0m1-2h0m2-1h0m3 4h0m3-5h0m-62 10h0m11-3h0m2 0h0m2 2h0m2 2h0m4-2h0m8 0h0m4-1h0m11-1h0m7 0h0m-48 6h0m6 4h0m5 0h0m10-2h0m8 2h0m3 0h0m2-5h0m13 4h0m2 1h0m-41 2h0m8 3h0m2-2h0m12-2h0m5 6h0m-10 2h0m2 3h0m6-5h0" stroke="#D6604D"/></g>
<circle cx="1996.6" cy="50.3" r="9" fill="#D6604D"/>
<circle cx="1996.6" cy="85.1" r="9" fill="#4393C3"/>
<text x="2019" y="59.2" font-size="26.8">L-lep</text>
<text x="2019" y="94.1" font-size="26.8">RR</text>
<text x="-1.5" y="1062.8" font-size="32.5" font-weight="bold">c</text>
<rect x="136.3" y="1239.6" width="63.0" height="8.9" fill="#F8766D"/>
<rect x="136.3" y="1263.3" width="63.0" height="835.7" fill="#FF00FF"/>
<text x="172.8" y="1227.5" font-size="26.8" transform="rotate(-45 172.8 1227.5)">T cell</text>
<rect x="201.4" y="1239.6" width="63.0" height="8.9" fill="#DE8C00"/>
<rect x="201.4" y="1263.3" width="63.0" height="835.7" fill="#FF00FF"/>
<text x="237.9" y="1227.5" font-size="26.8" transform="rotate(-45 237.9 1227.5)">B cell</text>
<rect x="266.5" y="1239.6" width="63.0" height="8.9" fill="#B79F00"/>
<rect x="266.5" y="1263.3" width="63.0" height="835.7" fill="#FF00FF"/>
<text x="303.0" y="1227.5" font-size="26.8" transform="rotate(-45 303.0 1227.5)">Plasma cell</text>
<rect x="331.6" y="1239.6" width="63.0" height="8.9" fill="#7CAE00"/>
<rect x="331.6" y="1263.3" width="63.0" height="835.7" fill="#FF00FF"/>
<text x="368.1" y="1227.5" font-size="26.8" transform="rotate(-45 368.1 1227.5)">Myeloid cell</text>
<rect x="396.7" y="1239.6" width="63.0" height="8.9" fill="#00BA38"/>
<rect x="396.7" y="1263.3" width="63.0" height="835.7" fill="#FF00FF"/>
<text x="433.2" y="1227.5" font-size="26.8" transform="rotate(-45 433.2 1227.5)">Langerhans cell</text>
<rect x="461.8" y="1239.6" width="63.0" height="8.9" fill="#00C08B"/>
<rect x="461.8" y="1263.3" width="63.0" height="835.7" fill="#FF00FF"/>
<text x="498.3" y="1227.5" font-size="26.8" transform="rotate(-45 498.3 1227.5)">Mast cell</text>
<rect x="526.9" y="1239.6" width="63.0" height="8.9" fill="#00BFC4"/>
<rect x="526.9" y="1263.3" width="63.0" height="835.7" fill="#FF00FF"/>
<text x="563.4" y="1227.5" font-size="26.8" transform="rotate(-45 563.4 1227.5)">Keratinocyte</text>
<rect x="592.0" y="1239.6" width="63.0" height="8.9" fill="#00B4F0"/>
<rect x="592.0" y="1263.3" width="63.0" height="835.7" fill="#FF00FF"/>
<text x="628.5" y="1227.5" font-size="26.8" transform="rotate(-45 628.5 1227.5)">Fibroblast</text>
<rect x="657.1" y="1239.6" width="63.0" height="8.9" fill="#619CFF"/>
<rect x="657.1" y="1263.3" width="63.0" height="835.7" fill="#FF00FF"/>
<text x="693.6" y="1227.5" font-size="26.8" transform="rotate(-45 693.6 1227.5)">Smooth muscle cell</text>
<rect x="722.2" y="1239.6" width="63.0" height="8.9" fill="#C77CFF"/>
<rect x="722.2" y="1263.3" width="63.0" height="835.7" fill="#FF00FF"/>
<text x="758.7" y="1227.5" font-size="26.8" transform="rotate(-45 758.7 1227.5)">Endothelial cell</text>
<rect x="787.3" y="1239.6" width="63.0" height="8.9" fill="#F564E3"/>
<rect x="787.3" y="1263.3" width="63.0" height="835.7" fill="#FF00FF"/>
<text x="823.8" y="1227.5" font-size="26.8" transform="rotate(-45 823.8 1227.5)">Eccrine gland cell</text>
<rect x="852.4" y="1239.6" width="63.0" height="8.9" fill="#FF64B0"/>
<rect x="852.4" y="1263.3" width="63.0" height="835.7" fill="#FF00FF"/>
<text x="888.9" y="1227.5" font-size="26.8" transform="rotate(-45 888.9 1227.5)">Melanocyte</text>
<path d="M136 1274.9h1m1 0h7m2 0h1m1 0h3m5 0h1m1 0h2m1 0h5m2 0h5m2 0h3m2 0h2m1 0h6m1 0h3m1 0h4m2 0h1m263 0h1m162 0h1M139 1298.1h1m15 0h1m5 0h1m1 0h1m1 0h1m3 0h1m12 0h1m5 0h1m1 0h1m3 0h1m2 0h1m8 0h1m12 0h1m36 0h1M139 1321.3h2m5 0h3m3 0h1m2 0h8m1 0h1m4 0h2m8 0h1m1 0h6m1 0h4m3 0h4m10 0h1m45 0h1m444 0h1m122 0h1M201 1344.5h4m1 0h4m2 0h1m2 0h5m1 0h2m5 0h5m1 0h2m5 0h1m4 0h1m3 0h2m1 0h2m2 0h3m1 0h3M201 1367.8h3m1 0h1m4 0h1m2 0h2m1 0h2m1 0h1m1 0h2m2 0h2m3 0h1m2 0h5m1 0h12m1 0h4m2 0h1m1 0h1m1 0h2M201 1391.0h4m1 0h1m1 0h2m1 0h5m6 0h4m1 0h1m5 0h1m1 0h4m5 0h1m2 0h1m2 0h5m1 0h4m1 0h3m4 0h1m13 0h1m1 0h1m1 0h1m10 0h1m3 0h1m1 0h1m3 0h1m2 0h1m1 0h2m15 0h1M266 1414.2h1m1 0h1m3 0h1m2 0h1m2 0h1m5 0h4m3 0h1m5 0h3m10 0h1m2 0h5m1 0h5m4 0h1m463 0h1M267 1437.4h2m3 0h1m3 0h4m1 0h3m1 0h3m1 0h1m2 0h1m9 0h2m3 0h4m1 0h4m1 0h3m3 0h3M267 1460.6h1m2 0h9m2 0h2m1 0h5m1 0h1m4 0h8m1 0h4m4 0h3m6 0h1m5 0h3m469 0h1m16 0h1m18 0h1M333 1483.8h3m2 0h17m1 0h6m1 0h18m2 0h1m1 0h3m1 0h4m1 0h1m24 0h1m215 0h1M332 1507.0h8m1 0h1m1 0h2m2 0h1m3 0h3m7 0h2m3 0h1m1 0h2m1 0h2m1 0h1m1 0h7m1 0h2m12 0h1m35 0h1M333 1530.3h3m5 0h1m2 0h3m1 0h6m1 0h5m2 0h4m3 0h1m1 0h3m5 0h2m1 0h1m1 0h1m4 0h1m4 0h1m50 0h1m6 0h1m4 0h1m1 0h1m59 0h1m169 0h1m34 0h1m8 0h1m20 0h1m16 0h1m9 0h1m11 0h1m3 0h1m43 0h1m69 0h1M338 1553.5h1m67 0h1m3 0h1m3 0h1m4 0h1m3 0h1m6 0h1m3 0h1m3 0h1m2 0h1m9 0h1m5 0h1M398 1576.7h5m2 0h4m2 0h7m2 0h3m2 0h10m2 0h1m1 0h8m1 0h2m3 0h7M398 1599.9h1m1 0h1m2 0h27m3 0h6m2 0h4m1 0h1m1 0h1m5 0h6M465 1623.1h4m1 0h2m2 0h8m2 0h5m6 0h1m1 0h1m2 0h4m1 0h1m3 0h1m3 0h7m1 0h4M463 1646.3h3m5 0h2m1 0h2m10 0h1m1 0h4m1 0h1m2 0h2m1 0h1m3 0h6m1 0h1m2 0h1m4 0h3m1 0h1M472 1669.5h3m3 0h2m1 0h1m2 0h5m3 0h1m8 0h1m1 0h1m3 0h2m8 0h1M444 1692.8h1m55 0h1m19 0h1m6 0h1m2 0h1m1 0h1m3 0h3m3 0h4m1 0h4m2 0h5m2 0h2m1 0h2m8 0h1m4 0h2m2 0h3m82 0h1m2 0h2m13 0h1m33 0h1m132 0h1m25 0h3m4 0h1m21 0h1M485 1716.0h1m27 0h1m2 0h2m9 0h1m2 0h1m3 0h2m7 0h1m6 0h1m2 0h1m5 0h1m6 0h2m1 0h2m2 0h1m3 0h1m4 0h1m74 0h1m7 0h1m21 0h1m4 0h1m165 0h1m23 0h1m4 0h1M450 1739.2h1m19 0h1m4 0h1m19 0h1m5 0h1m18 0h1m6 0h1m2 0h5m1 0h3m5 0h1m7 0h1m3 0h2m4 0h1m1 0h1m3 0h7m1 0h1m6 0h2m2 0h1m1 0h1m68 0h2m6 0h2m18 0h1m7 0h1m97 0h1m15 0h1m26 0h1m11 0h1m8 0h2m18 0h1m6 0h1m19 0h1M594 1762.4h1m3 0h6m3 0h1m1 0h7m1 0h2m2 0h6m1 0h7m2 0h6m1 0h7m1 0h1m1 0h1M592 1785.6h7m1 0h3m2 0h4m1 0h3m1 0h6m1 0h2m1 0h5m1 0h1m1 0h1m1 0h2m2 0h1m1 0h13m1 0h1m3 0h1M595 1808.8h1m2 0h2m6 0h4m5 0h2m1 0h1m1 0h8m2 0h2m3 0h5m5 0h2m2 0h1m2 0h1m5 0h1m10 0h1m1 0h1m11 0h1m24 0h1M658 1832.0h3m2 0h1m7 0h1m4 0h1m1 0h4m1 0h1m8 0h1m2 0h2m1 0h1m3 0h1m3 0h1m1 0h1m3 0h2m1 0h1M659 1855.3h4m1 0h2m2 0h1m2 0h1m3 0h1m1 0h1m1 0h3m1 0h2m1 0h1m9 0h5m2 0h2m3 0h2m1 0h1m2 0h1m1 0h2m1 0h1M659 1878.5h4m2 0h2m1 0h1m2 0h4m2 0h9m2 0h1m1 0h1m1 0h7m1 0h1m2 0h5m2 0h2m1 0h1m1 0h1m1 0h3M722 1901.7h1m1 0h1m1 0h2m1 0h1m1 0h13m1 0h9m2 0h4m1 0h9m1 0h11m1 0h1m75 0h1m25 0h1M723 1924.9h6m1 0h1m2 0h5m1 0h1m2 0h1m3 0h1m2 0h2m2 0h3m1 0h1m1 0h5m3 0h3m3 0h1m6 0h3M724 1948.1h1m2 0h1m2 0h1m1 0h1m1 0h2m6 0h6m2 0h1m12 0h2m4 0h1m4 0h3m2 0h1M788 1971.3h1m1 0h6m1 0h5m5 0h1m8 0h4m1 0h1m1 0h7m2 0h1m1 0h4m2 0h1m4 0h3M790 1994.5h1m1 0h1m1 0h1m1 0h2m1 0h1m1 0h4m1 0h4m1 0h1m4 0h1m6 0h4m2 0h2m2 0h1m1 0h1m6 0h1m6 0h1M799 2017.8h4m1 0h1m6 0h3m1 0h1m4 0h1m2 0h1m1 0h1m11 0h5m3 0h1m1 0h1M852 2041.0h4m1 0h8m2 0h1m1 0h6m2 0h1m2 0h3m3 0h1m1 0h9m2 0h1m1 0h7m2 0h5M857 2064.2h1m4 0h1m3 0h2m3 0h4m2 0h3m1 0h5m2 0h2m8 0h4m4 0h1m2 0h5M852 2087.4h3m5 0h3m4 0h1m1 0h1m2 0h2m1 0h1m2 0h1m4 0h1m2 0h2m4 0h1m4 0h2m3 0h6m1 0h2m3 0h1" stroke="#FFFF14" stroke-width="23.36" fill="none"/><path d="M153 1274.9h1m1 0h1m2 0h1m9 0h1m10 0h1m10 0h1m24 0h2m16 0h1m6 0h1m4 0h1m2 0h2m9 0h2m223 0h1m16 0h1m1 0h1m10 0h1m79 0h1m14 0h1m17 0h1m87 0h1m75 0h1M141 1298.1h1m5 0h1m5 0h1m4 0h1m3 0h1m3 0h1m4 0h1m1 0h1m1 0h2m4 0h1m1 0h2m1 0h2m7 0h1m17 0h1m36 0h1m21 0h1m40 0h1m132 0h1m16 0h1M144 1321.3h2m5 0h1m11 0h1m3 0h1m5 0h2m2 0h2m13 0h1m20 0h1m1 0h1m2 0h1m16 0h1m8 0h1m15 0h1m47 0h2m15 0h1m30 0h1m13 0h1m6 0h1m45 0h1m53 0h1m10 0h1m30 0h1m75 0h1m11 0h1m30 0h1m9 0h2m16 0h1m130 0h1m13 0h1M211 1344.5h1m1 0h1m10 0h2m1 0h1m5 0h1m4 0h1m1 0h1m1 0h2m1 0h1m1 0h1m12 0h1m385 0h1M206 1367.8h1m1 0h2m1 0h1m3 0h1m4 0h1m10 0h1m25 0h1M141 1391.0h1m63 0h1m4 0h1m6 0h1m1 0h2m10 0h1m7 0h1m5 0h1m2 0h1m6 0h1m4 0h1m6 0h1m5 0h1m1 0h1m2 0h1m8 0h2m1 0h2m1 0h1m2 0h1m3 0h1m1 0h1m2 0h2m8 0h1m3 0h1m3 0h1m1 0h3m330 0h1M206 1414.2h1m62 0h1m1 0h1m5 0h1m1 0h2m21 0h1m4 0h1m3 0h1m12 0h1m2 0h1m1 0h1m11 0h1m448 0h1m11 0h1m3 0h1m7 0h1m14 0h1m73 0h1M226 1437.4h1m48 0h1m18 0h1m5 0h1m3 0h1m17 0h1m5 0h2m38 0h1m453 0h1m17 0h1M266 1460.6h1m27 0h1m8 0h1m7 0h1m11 0h3m468 0h1m20 0h1m6 0h3m14 0h1m5 0h1M388 1483.8h1m45 0h1m218 0h1m18 0h1m32 0h1M340 1507.0h1m13 0h1m3 0h1m1 0h1m3 0h1m22 0h2m1 0h1m1 0h2m15 0h1m1 0h1m26 0h1m14 0h3m3 0h1M183 1530.3h1m5 0h1m147 0h1m2 0h1m2 0h1m10 0h1m5 0h2m13 0h1m15 0h1m18 0h2m2 0h1m6 0h1m17 0h1m11 0h1m3 0h1m33 0h1m17 0h1m12 0h1m54 0h1m6 0h1m5 0h1m76 0h2m24 0h1m48 0h1m4 0h1m4 0h1m1 0h1m8 0h1m2 0h1m4 0h1m19 0h1m18 0h1m9 0h1m6 0h1m8 0h1m8 0h1m29 0h1m11 0h1M336 1553.5h1m21 0h2m16 0h1m22 0h1m3 0h1m7 0h2m4 0h1m3 0h1m2 0h2m6 0h2m2 0h2m4 0h1m10 0h2m207 0h1M397 1576.7h1m26 0h1M397 1599.9h1m1 0h1m1 0h1m37 0h1m13 0h1m9 0h1m294 0h1m39 0h1M490 1623.1h3m5 0h1m21 0h1m151 0h1M462 1646.3h1m7 0h1m2 0h1m2 0h1m3 0h2m2 0h1m7 0h1m5 0h1m2 0h2M170 1669.5h1m220 0h1m71 0h1m3 0h3m10 0h1m1 0h1m6 0h1m1 0h1m5 0h1m1 0h2m1 0h1m9 0h5m1 0h1m3 0h1m102 0h1M400 1692.8h1m1 0h1m5 0h1m10 0h1m14 0h1m27 0h1m3 0h1m6 0h1m2 0h1m10 0h1m1 0h1m2 0h1m2 0h2m1 0h1m14 0h1m32 0h1m30 0h1m81 0h1m23 0h1m5 0h1m1 0h1m7 0h1m1 0h2m5 0h1m83 0h1m24 0h1m20 0h1m3 0h1m1 0h1m16 0h1m2 0h1m1 0h1m1 0h3m2 0h1m1 0h1m1 0h1m12 0h1m8 0h1m1 0h1m8 0h1M242 1716.0h1m41 0h1m28 0h1m85 0h1m9 0h1m30 0h1m5 0h1m15 0h1m4 0h1m2 0h2m4 0h1m5 0h1m3 0h2m2 0h1m6 0h1m6 0h1m1 0h1m1 0h1m11 0h1m10 0h1m1 0h1m7 0h1m2 0h2m2 0h1m8 0h1m2 0h1m2 0h1m7 0h1m3 0h2m2 0h1m49 0h1m32 0h1m4 0h1m1 0h1m9 0h1m3 0h1m15 0h1m3 0h1m9 0h2m4 0h1m12 0h1m57 0h1m7 0h1m8 0h1m32 0h1m16 0h1m2 0h1m1 0h2m2 0h1m3 0h1m3 0h1m3 0h3m3 0h1m4 0h1m6 0h3m1 0h1m2 0h1m2 0h1m1 0h1m2 0h1m1 0h1M394 1739.2h1m16 0h1m2 0h1m1 0h1m5 0h1m1 0h1m3 0h1m13 0h1m6 0h1m16 0h2m3 0h1m9 0h1m2 0h1m4 0h1m2 0h1m3 0h2m4 0h1m3 0h1m2 0h2m2 0h1m14 0h1m17 0h1m6 0h2m3 0h1m7 0h1m8 0h1m1 0h2m7 0h1m76 0h1m18 0h1m1 0h1m3 0h1m1 0h2m6 0h1m6 0h2m8 0h1m75 0h1m8 0h1m12 0h1m29 0h1m2 0h1m7 0h1m7 0h1m2 0h1m1 0h1m4 0h1m6 0h1m4 0h1m3 0h1m2 0h1m2 0h1m2 0h2m2 0h1m8 0h1m1 0h1M497 1762.4h1m122 0h1m6 0h1m8 0h1m14 0h1m47 0h1m15 0h1m1 0h1M168 1785.6h1m9 0h1m99 0h1m79 0h1m185 0h1m5 0h1m28 0h1m23 0h2m31 0h1m2 0h1m23 0h1m1 0h1m2 0h1m7 0h2m33 0h1M426 1808.8h1m47 0h1m119 0h1m7 0h1m39 0h2m13 0h1m1 0h3m3 0h1m2 0h1m4 0h1m1 0h1m2 0h1m7 0h1m3 0h1m2 0h1m4 0h1m1 0h1m4 0h1m3 0h1m5 0h1M213 1832.0h1m390 0h1m52 0h1m6 0h1m3 0h2m19 0h1m11 0h1m5 0h1m10 0h2M156 1855.3h1m47 0h1m443 0h1m20 0h2m2 0h1m11 0h1m8 0h1m6 0h1m4 0h1M209 1878.5h1m15 0h1m381 0h1m9 0h1m1 0h1m38 0h1m5 0h1m4 0h1m5 0h1m10 0h2m1 0h1m11 0h1M192 1901.7h1m1 0h1m40 0h1m21 0h1m11 0h1m14 0h1m1 0h1m17 0h1m35 0h1m2 0h1m10 0h1m2 0h1m35 0h1m336 0h1m53 0h1m44 0h1m24 0h1m2 0h1m3 0h1m15 0h1m4 0h1m11 0h1m6 0h1m4 0h1m2 0h2M243 1924.9h1m363 0h1m18 0h1m102 0h1m2 0h1m10 0h1m12 0h1m8 0h1m4 0h1m1 0h1m5 0h1m5 0h1M528 1948.1h1m86 0h1m28 0h1m78 0h1m5 0h1m1 0h1m7 0h1m12 0h1m1 0h1m1 0h1m4 0h1m4 0h2m13 0h1m2 0h1m67 0h1m23 0h1m21 0h1m8 0h1m2 0h1M412 1971.3h1m291 0h1m82 0h1m15 0h1m4 0h1m4 0h1m16 0h1m2 0h1m7 0h2M787 1994.5h1m7 0h1m9 0h1m6 0h4m16 0h1m3 0h1m1 0h1m5 0h1m1 0h1M229 2017.8h1m158 0h1m327 0h1m73 0h1m3 0h1m1 0h1m1 0h1m6 0h3m6 0h1m6 0h1m5 0h2m4 0h1m2 0h1m6 0h1M385 2041.0h1m60 0h1m409 0h1m18 0h1m7 0h1m25 0h1M607 2064.2h1m244 0h4m4 0h1m30 0h1m22 0h1M472 2087.4h1m384 0h1m1 0h1m3 0h2m3 0h1m10 0h1m2 0h1m10 0h2m1 0h1m11 0h1" stroke="#FFA23C" stroke-width="23.36" fill="none"/><path d="M137 1274.9h1m8 0h1m1 0h1m3 0h1m22 0h1m4 0h1m2 0h1m22 0h1m1 0h1m9 0h1m7 0h1m1 0h1m6 0h1m1 0h2m4 0h1m3 0h1m7 0h1m16 0h1m28 0h1m167 0h1m21 0h1m1 0h1m148 0h1m16 0h1m38 0h1m15 0h1m118 0h1m6 0h1m32 0h1m15 0h1M137 1298.1h2m3 0h2m1 0h1m3 0h4m1 0h1m1 0h2m1 0h1m4 0h1m2 0h2m3 0h1m1 0h1m2 0h3m5 0h1m3 0h1m1 0h1m1 0h1m28 0h1m46 0h1m35 0h1m335 0h1M136 1321.3h1m5 0h1m6 0h2m2 0h2m17 0h1m2 0h2m3 0h1m24 0h1m8 0h1m15 0h1m10 0h1m9 0h1m2 0h1m2 0h1m34 0h1m49 0h1m4 0h1m118 0h1m18 0h1m15 0h1m2 0h1m100 0h1m20 0h1m13 0h1m3 0h2m64 0h1m78 0h1m41 0h1m66 0h1M175 1344.5h1m44 0h1m34 0h1m48 0h1m433 0h1M207 1367.8h1m10 0h1m5 0h1m2 0h3m8 0h1m17 0h1m4 0h1m101 0h1m41 0h1m388 0h1m112 0h1M167 1391.0h1m25 0h1m13 0h1m10 0h1m2 0h1m4 0h1m3 0h1m1 0h1m13 0h1m2 0h1m19 0h3m7 0h1m3 0h1m15 0h1m4 0h1m6 0h1m4 0h1m1 0h1m3 0h1m121 0h1M274 1414.2h1m1 0h1m6 0h1m5 0h2m1 0h4m16 0h1m13 0h1m462 0h1m5 0h1m4 0h1m7 0h1m10 0h1m6 0h1m9 0h1m2 0h1m3 0h1m52 0h1m4 0h1M179 1437.4h1m89 0h3m1 0h2m16 0h1m6 0h1m6 0h2m4 0h1m4 0h1m9 0h1m6 0h1m50 0h1m411 0h1m4 0h1m1 0h1m44 0h1M268 1460.6h2m10 0h1m8 0h1m2 0h1m23 0h1m2 0h1m6 0h1m225 0h1m249 0h1m9 0h1m1 0h1m10 0h2m20 0h1M384 1483.8h1m8 0h1m27 0h1m150 0h1m84 0h1m16 0h1m10 0h1m23 0h1m7 0h1m1 0h1M348 1507.0h1m6 0h1m3 0h1m5 0h1m1 0h1m5 0h1m1 0h1m21 0h1m1 0h1m1 0h1m3 0h1m1 0h2m3 0h1m1 0h1m3 0h1m3 0h2m2 0h3m1 0h1m4 0h3m1 0h1m3 0h1m2 0h1m1 0h1m1 0h1m1 0h1m5 0h1m411 0h1M140 1530.3h1m9 0h1m4 0h1m5 0h1m3 0h1m11 0h1m154 0h1m3 0h1m29 0h1m16 0h1m2 0h1m3 0h1m8 0h1m1 0h1m6 0h2m5 0h1m1 0h4m1 0h1m7 0h1m2 0h3m2 0h1m1 0h3m3 0h2m5 0h1m13 0h1m92 0h1m13 0h1m32 0h1m26 0h1m12 0h1m9 0h1m1 0h1m3 0h1m11 0h2m5 0h1m7 0h1m6 0h1m3 0h1m1 0h1m2 0h2m3 0h1m1 0h1m4 0h1m10 0h1m7 0h1m8 0h1m8 0h1m2 0h1m13 0h1m1 0h2m3 0h1m18 0h1m2 0h1m1 0h1m7 0h1m8 0h1m2 0h1m4 0h2m5 0h1m10 0h1m29 0h1m7 0h1m15 0h1M303 1553.5h1m50 0h1m28 0h1m9 0h1m10 0h1m2 0h1m5 0h1m2 0h1m5 0h1m8 0h1m11 0h1m1 0h1m2 0h1m3 0h1m164 0h1m69 0h1m167 0h1M174 1576.7h1m152 0h1m76 0h1m4 0h1m13 0h1m11 0h1m2 0h1m8 0h1m3 0h1m403 0h1M430 1599.9h1m1 0h1m7 0h1m8 0h1M463 1623.1h1m5 0h1m3 0h1m9 0h1m5 0h1m6 0h1m15 0h1m188 0h1m3 0h1M213 1646.3h1m194 0h1m57 0h1m1 0h1m9 0h2m2 0h1m4 0h1m6 0h2m13 0h1m1 0h2m1 0h4m6 0h1m141 0h1m105 0h1M168 1669.5h1m81 0h1m213 0h1m12 0h1m17 0h2m7 0h1m14 0h1m3 0h2m318 0h1M365 1692.8h1m31 0h1m9 0h1m1 0h1m1 0h1m3 0h1m13 0h1m5 0h1m1 0h1m1 0h1m2 0h2m10 0h2m7 0h1m1 0h1m2 0h4m3 0h1m1 0h2m1 0h1m5 0h1m4 0h1m5 0h1m3 0h2m1 0h2m4 0h1m1 0h1m1 0h1m9 0h1m14 0h1m1 0h1m25 0h1m19 0h1m73 0h2m2 0h1m10 0h1m1 0h1m7 0h1m5 0h1m5 0h1m6 0h1m5 0h1m62 0h1m12 0h1m2 0h1m3 0h2m7 0h1m2 0h1m9 0h1m3 0h1m5 0h1m3 0h1m5 0h2m10 0h2m3 0h7m3 0h1m1 0h1m1 0h1m3 0h1m10 0h1m1 0h1m1 0h1m1 0h1m5 0h1m1 0h3m4 0h2m3 0h2m1 0h1M196 1716.0h1m73 0h1m40 0h1m25 0h1m70 0h1m15 0h1m8 0h1m9 0h1m3 0h1m5 0h1m3 0h1m11 0h1m2 0h3m2 0h2m2 0h1m2 0h1m3 0h2m1 0h5m2 0h3m1 0h2m1 0h1m8 0h1m3 0h1m3 0h2m5 0h1m6 0h1m9 0h2m3 0h1m6 0h1m2 0h1m3 0h1m6 0h1m5 0h1m8 0h1m72 0h2m9 0h2m4 0h1m10 0h1m2 0h1m1 0h1m1 0h1m1 0h2m5 0h1m1 0h1m3 0h1m77 0h1m6 0h1m19 0h1m38 0h1m1 0h1m2 0h1m1 0h1m2 0h1m4 0h1m1 0h1m5 0h1m3 0h1m1 0h1m1 0h2m3 0h2m1 0h2m7 0h1m1 0h1m2 0h1m1 0h2m1 0h1M173 1739.2h1m36 0h1m41 0h1m13 0h1m84 0h1m51 0h2m3 0h1m9 0h2m6 0h1m4 0h1m3 0h1m9 0h1m5 0h3m4 0h1m6 0h1m6 0h1m3 0h1m1 0h1m4 0h1m1 0h1m12 0h1m5 0h2m5 0h1m3 0h2m1 0h2m1 0h3m16 0h3m6 0h1m1 0h1m3 0h1m5 0h1m5 0h1m11 0h2m1 0h1m5 0h1m40 0h1m27 0h1m2 0h1m7 0h1m10 0h1m5 0h1m13 0h1m14 0h1m74 0h1m8 0h2m10 0h1m4 0h1m2 0h2m5 0h2m1 0h1m1 0h1m8 0h1m12 0h2m6 0h2m1 0h2m1 0h1m1 0h1m1 0h1m2 0h1m1 0h1m5 0h2m3 0h1m2 0h1m3 0h1m1 0h2m5 0h1m1 0h1m1 0h4m1 0h1M194 1762.4h1m398 0h1m2 0h1m38 0h1M341 1785.6h1m81 0h1m52 0h1m35 0h1m18 0h1m45 0h1m4 0h1m16 0h1m29 0h1m45 0h1m2 0h1m4 0h1m7 0h1m11 0h1m5 0h1m9 0h1m74 0h1M169 1808.8h1m69 0h1m134 0h1m185 0h1m39 0h1m2 0h1m58 0h3m2 0h1m2 0h1m3 0h1m4 0h1m4 0h2m2 0h1m2 0h2m1 0h1m1 0h1m2 0h1m1 0h1m9 0h4m3 0h1m77 0h1M241 1832.0h1m242 0h1m129 0h2m46 0h1m3 0h2m2 0h1m3 0h2m15 0h1m5 0h1m12 0h1m6 0h1M364 1855.3h1m42 0h1m187 0h1m26 0h1m40 0h1m2 0h1m5 0h1m1 0h1m7 0h1m9 0h1m2 0h1m6 0h1m4 0h1m5 0h1m171 0h1M227 1878.5h1m11 0h2m7 0h1m6 0h1m368 0h1m11 0h1m1 0h1m2 0h1m1 0h1m23 0h1m2 0h1m5 0h1m22 0h1m2 0h1m13 0h1m63 0h1M168 1901.7h1m17 0h1m17 0h1m13 0h1m51 0h1m2 0h2m78 0h1m17 0h1m353 0h1m34 0h1m39 0h1m20 0h1m10 0h1m33 0h1m2 0h1m3 0h1m2 0h1m12 0h1m1 0h2m2 0h1m4 0h1m4 0h1M283 1924.9h1m109 0h1m208 0h1m95 0h1m23 0h1m15 0h1m5 0h1m7 0h1m18 0h1m2 0h2m7 0h1m77 0h1m3 0h1m4 0h2m17 0h1m1 0h1m14 0h1m6 0h2M496 1948.1h1m106 0h1m13 0h1m13 0h1m15 0h1m6 0h1m3 0h1m67 0h1m1 0h1m11 0h2m6 0h1m4 0h1m1 0h1m4 0h1m7 0h1m13 0h2m84 0h1m16 0h1M385 1971.3h1m418 0h1m7 0h1m2 0h1m6 0h1m15 0h1m5 0h1m4 0h1M606 1994.5h1m8 0h1m201 0h3m2 0h1m14 0h1m2 0h1m2 0h1m3 0h2M304 2017.8h1m140 0h1m94 0h1m248 0h1m1 0h1m11 0h1m12 0h1m2 0h1m15 0h1m6 0h1m3 0h1M178 2041.0h1m687 0h1m9 0h1m2 0h1m4 0h1m12 0h1M856 2064.2h1m2 0h1m5 0h1m2 0h1m7 0h1m13 0h1m5 0h2m5 0h1m1 0h1m1 0h1M369 2087.4h1m43 0h1m17 0h1m424 0h1m1 0h1m6 0h2m3 0h1m14 0h1m2 0h1m2 0h1m8 0h1m12 0h1" stroke="#FF5C9C" stroke-width="23.36" fill="none"/><path d="M347 1274.9h1m96 0h1m288 0h1M370 1298.1h1m192 0h1m136 0h1m107 0h1m61 0h1M558 1321.3h1M335 1344.5h1m153 0h1m74 0h1m56 0h1m73 0h1m29 0h1m150 0h1M305 1367.8h1m3 0h1m23 0h1m3 0h1m6 0h1m6 0h2m13 0h2m7 0h1m13 0h1m22 0h1m2 0h1m34 0h1m50 0h1m6 0h1m2 0h1m30 0h1m184 0h1M154 1391.0h1m377 0h1m68 0h1m4 0h1m25 0h1m60 0h1m29 0h1m17 0h1m23 0h1m97 0h1M176 1414.2h1m320 0h1m91 0h1m163 0h1M169 1437.4h1m67 0h1m5 0h1m226 0h1m21 0h1m22 0h1m5 0h1m18 0h1m42 0h1m182 0h1m92 0h1M377 1460.6h2m128 0h1M208 1483.8h1m54 0h1m212 0h1m47 0h1m3 0h1m206 0h1m5 0h1M153 1507.0h2m18 0h1m10 0h1m3 0h1m73 0h1m202 0h1m55 0h1m53 0h1m113 0h1m6 0h1m6 0h1m56 0h1m119 0h1M143 1530.3h1m2 0h1m2 0h1m13 0h1m3 0h1m1 0h1m8 0h2m13 0h1m4 0h1m346 0h2m16 0h1m35 0h2m12 0h1m29 0h1m6 0h4M217 1553.5h1m12 0h1m239 0h1m96 0h1m34 0h1m208 0h1m48 0h1M163 1576.7h1m22 0h1m97 0h1m37 0h1m18 0h1m27 0h1m188 0h1m11 0h1m35 0h1m68 0h1m225 0h1M249 1599.9h1m61 0h1m380 0h1m38 0h1m27 0h1m138 0h1m10 0h1M226 1623.1h1m186 0h1m122 0h1m101 0h1m15 0h1m133 0h1M268 1646.3h1m133 0h1m150 0h1m11 0h1m65 0h1m213 0h1M204 1669.5h1m346 0h1m134 0h1m37 0h1m65 0h1m117 0h1M148 1692.8h1m20 0h1m15 0h1m24 0h1m65 0h2m4 0h1m10 0h1m7 0h1m1 0h1m6 0h1m6 0h1m8 0h1m1 0h1m7 0h1m16 0h1m7 0h1m17 0h1m186 0h1m7 0h1m182 0h1M149 1716.0h1m9 0h1m46 0h1m71 0h1m14 0h1m1 0h1m2 0h2m2 0h1m85 0h1m226 0h1m35 0h1m76 0h1m17 0h1m29 0h1m2 0h1m4 0h1M142 1739.2h1m87 0h1m11 0h1m24 0h1m9 0h1m10 0h1m1 0h1m5 0h1m4 0h1m13 0h1m12 0h1m7 0h1m5 0h1m50 0h1m209 0h1m20 0h1m19 0h1m92 0h1M177 1762.4h1m147 0h1m8 0h1m4 0h1m3 0h1m9 0h1m17 0h1m2 0h2m7 0h1m8 0h1m16 0h1m13 0h1m138 0h1m131 0h1M173 1785.6h1m32 0h1m72 0h1m162 0h1m42 0h1m35 0h1m17 0h1m16 0h1m3 0h1m3 0h1m2 0h2m5 0h1m3 0h1m1 0h1m226 0h1m5 0h1M141 1808.8h1m136 0h1m108 0h1m46 0h1m63 0h1m129 0h1m11 0h1m10 0h1m88 0h1m28 0h1m35 0h1M208 1832.0h1m242 0h1m132 0h1m267 0h1M163 1855.3h1m7 0h2m9 0h1m2 0h1m6 0h1m70 0h1m24 0h1m2 0h1m76 0h1m103 0h1m120 0h1m2 0h1m5 0h1m7 0h1m1 0h1m1 0h1m3 0h1m2 0h1m4 0h1m4 0h1m6 0h1m10 0h1m120 0h1m40 0h1m33 0h1M145 1878.5h1m27 0h1m21 0h1m10 0h2m42 0h1m34 0h1m234 0h1m73 0h1m2 0h1m12 0h1m10 0h2m3 0h1m8 0h1m6 0h1m8 0h1m117 0h1M147 1901.7h1m4 0h1m5 0h1m13 0h1m3 0h1m7 0h1m12 0h1m5 0h1m1 0h1m1 0h1m18 0h1m2 0h1m16 0h2m11 0h1m6 0h1m5 0h1m2 0h3m2 0h2m3 0h1m7 0h1m2 0h1m2 0h1m1 0h3m1 0h3m3 0h1m3 0h12m1 0h1m9 0h1m7 0h2m1 0h2m1 0h1m2 0h1m2 0h1m3 0h1m2 0h1m2 0h1m5 0h1m1 0h1m2 0h1m1 0h1m8 0h1m52 0h2m23 0h1m42 0h1m26 0h1m80 0h1m9 0h1m11 0h1m19 0h1m133 0h1m19 0h1m10 0h1m12 0h1m1 0h1m4 0h1m2 0h1M137 1924.9h1m6 0h1m141 0h1m102 0h1m157 0h1m21 0h1m55 0h1m24 0h1m8 0h1m55 0h1m96 0h1M175 1948.1h1m8 0h1m148 0h1m139 0h1m15 0h1m103 0h2m4 0h1m4 0h1m5 0h1m2 0h1m5 0h1m2 0h1m1 0h3m1 0h1m4 0h2m4 0h1m3 0h1m1 0h2m1 0h1m65 0h1m103 0h1M245 1971.3h1m123 0h1m56 0h1m461 0h1m4 0h1M228 1994.5h1m192 0h1m190 0h1m264 0h1m31 0h1M154 2017.8h1m25 0h1m31 0h1m25 0h1m24 0h1m125 0h1m84 0h1m5 0h1m88 0h1M139 2041.0h1m27 0h1m33 0h1m31 0h1m144 0h1m71 0h2m12 0h1m84 0h1m26 0h1m152 0h1m32 0h1m4 0h1m14 0h1m17 0h1m3 0h1M221 2064.2h1m246 0h1m55 0h1m7 0h1m161 0h1m39 0h1m14 0h1m16 0h1M209 2087.4h1m96 0h1m49 0h1m20 0h1m12 0h1m102 0h1m45 0h1m202 0h1m106 0h1" stroke="#FF6CF2" stroke-width="23.36" fill="none"/><path d="M450 1274.9h2M376 1298.1h1m81 0h1m31 0h1m268 0h1m35 0h1M536 1321.3h1m27 0h1M141 1344.5h1m125 0h1m45 0h1m25 0h1m23 0h1m100 0h1m272 0h1m32 0h1m56 0h1m44 0h1m31 0h1m3 0h1M147 1367.8h1m136 0h1m53 0h2m6 0h1m18 0h1m10 0h2m10 0h1m3 0h1m13 0h1m4 0h1m10 0h1m8 0h1m4 0h1m6 0h1m3 0h1m7 0h1m37 0h1m76 0h1m89 0h1m210 0h1M172 1391.0h1m290 0h1m100 0h1m27 0h1m310 0h1M166 1414.2h1m10 0h1m409 0h1m136 0h1m34 0h1m4 0h1M251 1437.4h1m174 0h1m108 0h1m118 0h1m116 0h1M362 1460.6h1m123 0h1m37 0h1M157 1483.8h1m135 0h1m223 0h1m32 0h1m19 0h1m335 0h1M144 1507.0h1m46 0h1m96 0h1m181 0h1m159 0h1m126 0h1M136 1530.3h1m22 0h2m5 0h1m6 0h1m1 0h1m4 0h1m1 0h1m3 0h1m5 0h1m3 0h1m75 0h1m5 0h1m10 0h2m242 0h1m4 0h1m13 0h1m2 0h1m98 0h1M246 1553.5h1m10 0h1m64 0h1m212 0h1m68 0h1m38 0h1m35 0h1m53 0h1m26 0h1m75 0h1M178 1576.7h1m317 0h1m32 0h1m21 0h1m28 0h1m190 0h1m104 0h1M216 1599.9h1m110 0h1m212 0h1m40 0h1m59 0h1m76 0h1M137 1623.1h1m96 0h1m38 0h1m7 0h2m53 0h1m227 0h2m141 0h1m19 0h1m136 0h1M176 1646.3h1m213 0h1m31 0h1m275 0h1m42 0h1m8 0h1m124 0h1M157 1669.5h1m164 0h1m59 0h1m55 0h1m171 0h1m17 0h1M146 1692.8h1m17 0h1m43 0h1m21 0h1m4 0h1m31 0h1m2 0h1m4 0h1m10 0h1m7 0h1m3 0h1m8 0h1m3 0h2m14 0h1m10 0h2m18 0h1m7 0h1m25 0h1m147 0h1m11 0h1m5 0h2m2 0h1m5 0h2m1 0h1m4 0h1m8 0h2m1 0h2m144 0h1m40 0h2M138 1716.0h2m55 0h1m26 0h1m10 0h1m38 0h1m2 0h1m3 0h1m7 0h1m1 0h2m19 0h1m16 0h1m1 0h1m43 0h1m17 0h1m207 0h1m26 0h1m23 0h1m122 0h1M202 1739.2h1m17 0h1m1 0h1m49 0h1m16 0h1m1 0h1m3 0h1m8 0h1m9 0h1m2 0h2m13 0h1m19 0h1m1 0h1m7 0h2m2 0h1m1 0h1m15 0h1m7 0h1m232 0h1m1 0h1m116 0h1m9 0h1M270 1762.4h1m15 0h1m46 0h1m3 0h1m9 0h1m3 0h1m6 0h1m14 0h1m11 0h1m18 0h1m10 0h1m40 0h1m241 0h1M181 1785.6h1m55 0h1m21 0h1m22 0h1m69 0h1m15 0h1m3 0h1m91 0h1m51 0h1m30 0h1m4 0h1m18 0h1m9 0h1m4 0h2m244 0h1M140 1808.8h1m8 0h1m3 0h1m11 0h1m205 0h1m125 0h1m19 0h1m74 0h2m2 0h1m8 0h1m6 0h1m19 0h3m6 0h1m2 0h1m2 0h2m4 0h2m68 0h1m91 0h1m53 0h1M169 1832.0h1m86 0h1m32 0h1m102 0h1m9 0h1m115 0h1m31 0h1m201 0h1m95 0h1m48 0h1m7 0h1m2 0h1M173 1855.3h1m126 0h1m8 0h1m103 0h1m39 0h1m76 0h1m8 0h1m52 0h1m8 0h1m4 0h1m4 0h1m3 0h1m3 0h1m4 0h1m8 0h1m1 0h1m1 0h1m106 0h1m42 0h1m37 0h1M201 1878.5h1m29 0h1m2 0h1m128 0h1m228 0h1m2 0h1m3 0h1m2 0h2m4 0h2m1 0h2m1 0h1m3 0h1m6 0h1m1 0h1m1 0h1m3 0h2m12 0h1m2 0h1m1 0h2m95 0h1M139 1901.7h1m21 0h1m1 0h1m1 0h1m3 0h1m5 0h1m1 0h2m11 0h2m14 0h1m3 0h1m6 0h1m16 0h1m1 0h1m2 0h1m14 0h1m12 0h2m2 0h1m7 0h1m7 0h3m1 0h2m1 0h2m1 0h2m1 0h1m7 0h1m3 0h1m16 0h1m2 0h1m1 0h4m1 0h1m1 0h2m2 0h1m10 0h1m2 0h2m2 0h2m4 0h2m6 0h2m1 0h1m1 0h2m5 0h1m1 0h2m1 0h1m393 0h2m14 0h1m7 0h2m4 0h1m4 0h2m19 0h1M156 1924.9h1m13 0h1m18 0h1m24 0h1m17 0h1m49 0h1m35 0h1m17 0h1m262 0h1m11 0h1m50 0h1m176 0h1M281 1948.1h1m88 0h1m43 0h1m77 0h1m5 0h1m33 0h1m17 0h1m9 0h1m35 0h3m2 0h2m2 0h1m1 0h1m1 0h1m4 0h1m3 0h1m2 0h1m1 0h1m5 0h1m6 0h3m1 0h1m1 0h1m7 0h1m1 0h1m6 0h2m10 0h1m27 0h1m126 0h1m11 0h1M176 1971.3h1m130 0h1m157 0h1m6 0h1m162 0h1m62 0h1m50 0h1m7 0h1m11 0h1m87 0h1m31 0h1m9 0h1M287 1994.5h1m73 0h1m168 0h1m24 0h1m170 0h1m177 0h1M153 2017.8h1m134 0h1m175 0h1m50 0h1m137 0h1m77 0h1m138 0h1M186 2041.0h1m56 0h1m65 0h1m10 0h1m303 0h1m130 0h1M305 2064.2h1m178 0h1m117 0h1m62 0h1m134 0h1M223 2087.4h1" stroke="#FFC4FF" stroke-width="23.36" fill="none"/>
<text x="125.5" y="1283.9" font-size="26.8" text-anchor="end" font-style="italic">CD3D</text>
<text x="125.5" y="1307.1" font-size="26.8" text-anchor="end" font-style="italic">CD3E</text>
<text x="125.5" y="1330.3" font-size="26.8" text-anchor="end" font-style="italic">TRBC2</text>
<text x="125.5" y="1353.5" font-size="26.8" text-anchor="end" font-style="italic">MS4A1</text>
<text x="125.5" y="1376.8" font-size="26.8" text-anchor="end" font-style="italic">BANK1</text>
<text x="125.5" y="1400.0" font-size="26.8" text-anchor="end" font-style="italic">CD79A</text>
<text x="125.5" y="1423.2" font-size="26.8" text-anchor="end" font-style="italic">IGHG3</text>
<text x="125.5" y="1446.4" font-size="26.8" text-anchor="end" font-style="italic">IGHG1</text>
<text x="125.5" y="1469.6" font-size="26.8" text-anchor="end" font-style="italic">IGHG4</text>
<text x="125.5" y="1492.8" font-size="26.8" text-anchor="end" font-style="italic">LYZ</text>
<text x="125.5" y="1516.0" font-size="26.8" text-anchor="end" font-style="italic">C1QC</text>
<text x="125.5" y="1539.3" font-size="26.8" text-anchor="end" font-style="italic">CXCL8</text>
<text x="125.5" y="1562.5" font-size="26.8" text-anchor="end" font-style="italic">CCL22</text>
<text x="125.5" y="1585.7" font-size="26.8" text-anchor="end" font-style="italic">CD1A</text>
<text x="125.5" y="1608.9" font-size="26.8" text-anchor="end" font-style="italic">CD207</text>
<text x="125.5" y="1632.1" font-size="26.8" text-anchor="end" font-style="italic">TPSB2</text>
<text x="125.5" y="1655.3" font-size="26.8" text-anchor="end" font-style="italic">CPA3</text>
<text x="125.5" y="1678.5" font-size="26.8" text-anchor="end" font-style="italic">CTSG</text>
<text x="125.5" y="1701.8" font-size="26.8" text-anchor="end" font-style="italic">KRT10</text>
<text x="125.5" y="1725.0" font-size="26.8" text-anchor="end" font-style="italic">KRT2</text>
<text x="125.5" y="1748.2" font-size="26.8" text-anchor="end" font-style="italic">KRT1</text>
<text x="125.5" y="1771.4" font-size="26.8" text-anchor="end" font-style="italic">C3</text>
<text x="125.5" y="1794.6" font-size="26.8" text-anchor="end" font-style="italic">DCN</text>
<text x="125.5" y="1817.8" font-size="26.8" text-anchor="end" font-style="italic">COL1A1</text>
<text x="125.5" y="1841.0" font-size="26.8" text-anchor="end" font-style="italic">MYH11</text>
<text x="125.5" y="1864.3" font-size="26.8" text-anchor="end" font-style="italic">ACTA2</text>
<text x="125.5" y="1887.5" font-size="26.8" text-anchor="end" font-style="italic">TAGLN</text>
<text x="125.5" y="1910.7" font-size="26.8" text-anchor="end" font-style="italic">PECAM1</text>
<text x="125.5" y="1933.9" font-size="26.8" text-anchor="end" font-style="italic">CDH5</text>
<text x="125.5" y="1957.1" font-size="26.8" text-anchor="end" font-style="italic">AQP1</text>
<text x="125.5" y="1980.3" font-size="26.8" text-anchor="end" font-style="italic">DCD</text>
<text x="125.5" y="2003.5" font-size="26.8" text-anchor="end" font-style="italic">MUCL1</text>
<text x="125.5" y="2026.8" font-size="26.8" text-anchor="end" font-style="italic">SCGB2A2</text>
<text x="125.5" y="2050.0" font-size="26.8" text-anchor="end" font-style="italic">TYRP1</text>
<text x="125.5" y="2073.2" font-size="26.8" text-anchor="end" font-style="italic">DCT</text>
<text x="125.5" y="2096.4" font-size="26.8" text-anchor="end" font-style="italic">PMEL</text>
<defs><linearGradient id="hg" x1="0" y1="0" x2="0" y2="1"><stop offset="0" stop-color="#FFFF00"/><stop offset="0.03" stop-color="#FFFF00"/><stop offset="0.22" stop-color="#FFFF96"/><stop offset="0.41" stop-color="#FFFFEA"/><stop offset="0.5" stop-color="#FFFFFF"/><stop offset="0.6" stop-color="#FFE8FF"/><stop offset="0.79" stop-color="#FFA4FF"/><stop offset="0.97" stop-color="#FF00FF"/><stop offset="1" stop-color="#FF00FF"/></linearGradient></defs>
<rect x="934.6" y="1559.5" width="40.5" height="200" fill="url(#hg)"/>
<text x="946.4" y="1539" font-size="26.8">Expression</text>
<path d="M934.6 1564.5h8M975.1 1564.5h-8" stroke="#fff" stroke-width="0.8"/>
<text x="987.5" y="1573.8" font-size="26.8">&gt;2.5</text>
<path d="M934.6 1602.6h8M975.1 1602.6h-8" stroke="#fff" stroke-width="0.8"/>
<text x="987.5" y="1611.9" font-size="26.8">2.0</text>
<path d="M934.6 1640.7h8M975.1 1640.7h-8" stroke="#fff" stroke-width="0.8"/>
<text x="987.5" y="1650.0" font-size="26.8">1.5</text>
<path d="M934.6 1678.8h8M975.1 1678.8h-8" stroke="#fff" stroke-width="0.8"/>
<text x="987.5" y="1688.1" font-size="26.8">1.0</text>
<path d="M934.6 1716.9h8M975.1 1716.9h-8" stroke="#fff" stroke-width="0.8"/>
<text x="987.5" y="1726.2" font-size="26.8">0.5</text>
<path d="M934.6 1755.0h8M975.1 1755.0h-8" stroke="#fff" stroke-width="0.8"/>
<text x="987.5" y="1764.3" font-size="26.8">&lt;0</text>
<text x="1143.3" y="1062.8" font-size="32.5" font-weight="bold">d</text>
<path d="M1257.5 1099L1257.5 1520.8" stroke="#262626" stroke-width="1.3"/>
<path d="M1257.0 1520.3L1956.5 1520.3" stroke="#262626" stroke-width="1.3"/>
<path d="M1247.8 1501.2L1257.5 1501.2" stroke="#262626" stroke-width="1.3"/>
<text x="1236.0" y="1510.5" font-size="26.8" text-anchor="end">0</text>
<path d="M1247.8 1405.3L1257.5 1405.3" stroke="#262626" stroke-width="1.3"/>
<text x="1236.0" y="1414.6" font-size="26.8" text-anchor="end">25</text>
<path d="M1247.8 1309.4L1257.5 1309.4" stroke="#262626" stroke-width="1.3"/>
<text x="1236.0" y="1318.7" font-size="26.8" text-anchor="end">50</text>
<path d="M1247.8 1213.5L1257.5 1213.5" stroke="#262626" stroke-width="1.3"/>
<text x="1236.0" y="1222.8" font-size="26.8" text-anchor="end">75</text>
<path d="M1247.8 1117.6L1257.5 1117.6" stroke="#262626" stroke-width="1.3"/>
<text x="1236.0" y="1126.9" font-size="26.8" text-anchor="end">100</text>
<text x="1168.2" y="1307.7" font-size="26.8" text-anchor="middle" transform="rotate(-90 1168.2 1307.7)">Percentage component of samples</text>
<rect x="1271.4" y="1117.6" width="40.4" height="61.8" fill="#67001F"/>
<rect x="1271.4" y="1179.1" width="40.4" height="48.1" fill="#B2182B"/>
<rect x="1271.4" y="1226.9" width="40.4" height="37.1" fill="#D6604D"/>
<rect x="1271.4" y="1263.8" width="40.4" height="47.5" fill="#F4A582"/>
<rect x="1271.4" y="1310.9" width="40.4" height="46.1" fill="#FDDBC7"/>
<rect x="1271.4" y="1356.8" width="40.4" height="30.8" fill="#D1E5F0"/>
<rect x="1271.4" y="1387.3" width="40.4" height="25.2" fill="#92C5DE"/>
<rect x="1271.4" y="1412.2" width="40.4" height="52.1" fill="#4393C3"/>
<rect x="1271.4" y="1464.0" width="40.4" height="18.3" fill="#2166AC"/>
<rect x="1271.4" y="1482.0" width="40.4" height="19.5" fill="#053061"/>
<path d="M1291.6 1520.3L1291.6 1530.0" stroke="#262626" stroke-width="1.3"/>
<text x="1304.1" y="1555.8" font-size="26.8" text-anchor="end" transform="rotate(-45 1304.1 1555.8)">T cell</text>
<rect x="1328.8" y="1117.6" width="40.4" height="118.4" fill="#67001F"/>
<rect x="1328.8" y="1235.7" width="40.4" height="19.5" fill="#B2182B"/>
<rect x="1328.8" y="1254.9" width="40.4" height="26.8" fill="#D6604D"/>
<rect x="1328.8" y="1281.4" width="40.4" height="63.6" fill="#F4A582"/>
<rect x="1328.8" y="1344.7" width="40.4" height="32.5" fill="#FDDBC7"/>
<rect x="1328.8" y="1376.9" width="40.4" height="26.0" fill="#D1E5F0"/>
<rect x="1328.8" y="1402.6" width="40.4" height="35.6" fill="#92C5DE"/>
<rect x="1328.8" y="1437.9" width="40.4" height="24.1" fill="#4393C3"/>
<rect x="1328.8" y="1461.7" width="40.4" height="26.6" fill="#2166AC"/>
<rect x="1328.8" y="1488.0" width="40.4" height="13.5" fill="#053061"/>
<path d="M1349.0 1520.3L1349.0 1530.0" stroke="#262626" stroke-width="1.3"/>
<text x="1361.5" y="1555.8" font-size="26.8" text-anchor="end" transform="rotate(-45 1361.5 1555.8)">B cell</text>
<rect x="1386.1" y="1117.6" width="40.4" height="105.4" fill="#67001F"/>
<rect x="1386.1" y="1222.7" width="40.4" height="7.6" fill="#B2182B"/>
<rect x="1386.1" y="1230.0" width="40.4" height="28.3" fill="#D6604D"/>
<rect x="1386.1" y="1258.0" width="40.4" height="98.9" fill="#F4A582"/>
<rect x="1386.1" y="1356.6" width="40.4" height="126.1" fill="#FDDBC7"/>
<rect x="1386.1" y="1482.4" width="40.4" height="11.8" fill="#D1E5F0"/>
<rect x="1386.1" y="1493.9" width="40.4" height="0.7" fill="#2166AC"/>
<rect x="1386.1" y="1494.3" width="40.4" height="7.2" fill="#053061"/>
<path d="M1406.3 1520.3L1406.3 1530.0" stroke="#262626" stroke-width="1.3"/>
<text x="1418.8" y="1555.8" font-size="26.8" text-anchor="end" transform="rotate(-45 1418.8 1555.8)">Plasma cell</text>
<rect x="1443.5" y="1117.6" width="40.4" height="35.6" fill="#67001F"/>
<rect x="1443.5" y="1152.9" width="40.4" height="28.3" fill="#B2182B"/>
<rect x="1443.5" y="1180.9" width="40.4" height="65.1" fill="#D6604D"/>
<rect x="1443.5" y="1245.7" width="40.4" height="33.1" fill="#F4A582"/>
<rect x="1443.5" y="1278.5" width="40.4" height="80.3" fill="#FDDBC7"/>
<rect x="1443.5" y="1358.5" width="40.4" height="105.8" fill="#D1E5F0"/>
<rect x="1443.5" y="1464.0" width="40.4" height="7.6" fill="#92C5DE"/>
<rect x="1443.5" y="1471.3" width="40.4" height="3.8" fill="#4393C3"/>
<rect x="1443.5" y="1474.7" width="40.4" height="18.3" fill="#2166AC"/>
<rect x="1443.5" y="1492.8" width="40.4" height="8.7" fill="#053061"/>
<path d="M1463.7 1520.3L1463.7 1530.0" stroke="#262626" stroke-width="1.3"/>
<text x="1476.2" y="1555.8" font-size="26.8" text-anchor="end" transform="rotate(-45 1476.2 1555.8)">Myeloid cell</text>
<rect x="1500.8" y="1117.6" width="40.4" height="3.4" fill="#B2182B"/>
<rect x="1500.8" y="1120.7" width="40.4" height="9.1" fill="#FDDBC7"/>
<rect x="1500.8" y="1129.5" width="40.4" height="92.6" fill="#D1E5F0"/>
<rect x="1500.8" y="1221.7" width="40.4" height="124.4" fill="#92C5DE"/>
<rect x="1500.8" y="1345.8" width="40.4" height="154.5" fill="#2166AC"/>
<rect x="1500.8" y="1500.0" width="40.4" height="1.5" fill="#053061"/>
<path d="M1521.0 1520.3L1521.0 1530.0" stroke="#262626" stroke-width="1.3"/>
<text x="1533.5" y="1555.8" font-size="26.8" text-anchor="end" transform="rotate(-45 1533.5 1555.8)">Langerhans cell</text>
<rect x="1558.2" y="1117.6" width="40.4" height="17.9" fill="#67001F"/>
<rect x="1558.2" y="1135.2" width="40.4" height="15.6" fill="#B2182B"/>
<rect x="1558.2" y="1150.6" width="40.4" height="32.5" fill="#D6604D"/>
<rect x="1558.2" y="1182.8" width="40.4" height="10.3" fill="#F4A582"/>
<rect x="1558.2" y="1192.8" width="40.4" height="91.2" fill="#FDDBC7"/>
<rect x="1558.2" y="1283.7" width="40.4" height="73.2" fill="#D1E5F0"/>
<rect x="1558.2" y="1356.6" width="40.4" height="56.7" fill="#92C5DE"/>
<rect x="1558.2" y="1413.0" width="40.4" height="29.8" fill="#2166AC"/>
<rect x="1558.2" y="1442.5" width="40.4" height="59.0" fill="#053061"/>
<path d="M1578.4 1520.3L1578.4 1530.0" stroke="#262626" stroke-width="1.3"/>
<text x="1590.9" y="1555.8" font-size="26.8" text-anchor="end" transform="rotate(-45 1590.9 1555.8)">Mast cell</text>
<rect x="1615.6" y="1117.6" width="40.4" height="15.6" fill="#67001F"/>
<rect x="1615.6" y="1132.9" width="40.4" height="41.3" fill="#B2182B"/>
<rect x="1615.6" y="1174.0" width="40.4" height="45.6" fill="#D6604D"/>
<rect x="1615.6" y="1219.3" width="40.4" height="31.8" fill="#F4A582"/>
<rect x="1615.6" y="1250.7" width="40.4" height="31.4" fill="#FDDBC7"/>
<rect x="1615.6" y="1281.8" width="40.4" height="26.4" fill="#D1E5F0"/>
<rect x="1615.6" y="1307.9" width="40.4" height="65.9" fill="#92C5DE"/>
<rect x="1615.6" y="1373.5" width="40.4" height="49.4" fill="#4393C3"/>
<rect x="1615.6" y="1422.6" width="40.4" height="57.8" fill="#2166AC"/>
<rect x="1615.6" y="1480.1" width="40.4" height="21.4" fill="#053061"/>
<path d="M1635.8 1520.3L1635.8 1530.0" stroke="#262626" stroke-width="1.3"/>
<text x="1648.3" y="1555.8" font-size="26.8" text-anchor="end" transform="rotate(-45 1648.3 1555.8)">Keratinocyte</text>
<rect x="1672.9" y="1117.6" width="40.4" height="31.1" fill="#67001F"/>
<rect x="1672.9" y="1148.4" width="40.4" height="23.2" fill="#B2182B"/>
<rect x="1672.9" y="1171.3" width="40.4" height="56.7" fill="#D6604D"/>
<rect x="1672.9" y="1227.7" width="40.4" height="38.3" fill="#F4A582"/>
<rect x="1672.9" y="1265.7" width="40.4" height="7.6" fill="#FDDBC7"/>
<rect x="1672.9" y="1273.0" width="40.4" height="59.9" fill="#D1E5F0"/>
<rect x="1672.9" y="1332.6" width="40.4" height="29.3" fill="#92C5DE"/>
<rect x="1672.9" y="1361.6" width="40.4" height="18.3" fill="#4393C3"/>
<rect x="1672.9" y="1379.6" width="40.4" height="48.3" fill="#2166AC"/>
<rect x="1672.9" y="1427.5" width="40.4" height="74.0" fill="#053061"/>
<path d="M1693.1 1520.3L1693.1 1530.0" stroke="#262626" stroke-width="1.3"/>
<text x="1705.6" y="1555.8" font-size="26.8" text-anchor="end" transform="rotate(-45 1705.6 1555.8)">Fibroblast</text>
<rect x="1730.3" y="1117.6" width="40.4" height="25.6" fill="#67001F"/>
<rect x="1730.3" y="1142.9" width="40.4" height="35.2" fill="#B2182B"/>
<rect x="1730.3" y="1177.8" width="40.4" height="32.3" fill="#D6604D"/>
<rect x="1730.3" y="1209.8" width="40.4" height="11.5" fill="#F4A582"/>
<rect x="1730.3" y="1221.0" width="40.4" height="76.1" fill="#FDDBC7"/>
<rect x="1730.3" y="1296.7" width="40.4" height="30.6" fill="#D1E5F0"/>
<rect x="1730.3" y="1327.0" width="40.4" height="10.3" fill="#92C5DE"/>
<rect x="1730.3" y="1337.0" width="40.4" height="30.6" fill="#4393C3"/>
<rect x="1730.3" y="1367.3" width="40.4" height="23.7" fill="#2166AC"/>
<rect x="1730.3" y="1390.7" width="40.4" height="110.8" fill="#053061"/>
<path d="M1750.5 1520.3L1750.5 1530.0" stroke="#262626" stroke-width="1.3"/>
<text x="1763.0" y="1555.8" font-size="26.8" text-anchor="end" transform="rotate(-45 1763.0 1555.8)">Smooth muscle cell</text>
<rect x="1787.6" y="1117.6" width="40.4" height="33.5" fill="#67001F"/>
<rect x="1787.6" y="1150.8" width="40.4" height="57.3" fill="#B2182B"/>
<rect x="1787.6" y="1207.7" width="40.4" height="24.5" fill="#D6604D"/>
<rect x="1787.6" y="1231.9" width="40.4" height="22.9" fill="#F4A582"/>
<rect x="1787.6" y="1254.5" width="40.4" height="12.6" fill="#FDDBC7"/>
<rect x="1787.6" y="1266.8" width="40.4" height="28.5" fill="#D1E5F0"/>
<rect x="1787.6" y="1295.0" width="40.4" height="23.9" fill="#92C5DE"/>
<rect x="1787.6" y="1318.6" width="40.4" height="30.6" fill="#4393C3"/>
<rect x="1787.6" y="1348.9" width="40.4" height="24.1" fill="#2166AC"/>
<rect x="1787.6" y="1372.7" width="40.4" height="128.8" fill="#053061"/>
<path d="M1807.8 1520.3L1807.8 1530.0" stroke="#262626" stroke-width="1.3"/>
<text x="1820.3" y="1555.8" font-size="26.8" text-anchor="end" transform="rotate(-45 1820.3 1555.8)">Endothelial cell</text>
<rect x="1845.0" y="1117.6" width="40.4" height="26.8" fill="#67001F"/>
<rect x="1845.0" y="1144.1" width="40.4" height="33.3" fill="#B2182B"/>
<rect x="1845.0" y="1177.1" width="40.4" height="5.7" fill="#D6604D"/>
<rect x="1845.0" y="1182.4" width="40.4" height="94.7" fill="#F4A582"/>
<rect x="1845.0" y="1276.8" width="40.4" height="7.6" fill="#FDDBC7"/>
<rect x="1845.0" y="1284.1" width="40.4" height="27.5" fill="#D1E5F0"/>
<rect x="1845.0" y="1311.3" width="40.4" height="79.3" fill="#4393C3"/>
<rect x="1845.0" y="1390.3" width="40.4" height="3.0" fill="#2166AC"/>
<rect x="1845.0" y="1393.0" width="40.4" height="108.5" fill="#053061"/>
<path d="M1865.2 1520.3L1865.2 1530.0" stroke="#262626" stroke-width="1.3"/>
<text x="1877.7" y="1555.8" font-size="26.8" text-anchor="end" transform="rotate(-45 1877.7 1555.8)">Eccrine gland cell</text>
<rect x="1902.4" y="1117.6" width="40.4" height="46.1" fill="#67001F"/>
<rect x="1902.4" y="1163.4" width="40.4" height="43.1" fill="#B2182B"/>
<rect x="1902.4" y="1206.2" width="40.4" height="31.4" fill="#D6604D"/>
<rect x="1902.4" y="1237.3" width="40.4" height="51.7" fill="#F4A582"/>
<rect x="1902.4" y="1288.7" width="40.4" height="12.6" fill="#FDDBC7"/>
<rect x="1902.4" y="1301.0" width="40.4" height="3.4" fill="#D1E5F0"/>
<rect x="1902.4" y="1304.0" width="40.4" height="15.3" fill="#92C5DE"/>
<rect x="1902.4" y="1319.0" width="40.4" height="53.6" fill="#4393C3"/>
<rect x="1902.4" y="1372.3" width="40.4" height="60.1" fill="#2166AC"/>
<rect x="1902.4" y="1432.2" width="40.4" height="69.3" fill="#053061"/>
<path d="M1922.6 1520.3L1922.6 1530.0" stroke="#262626" stroke-width="1.3"/>
<text x="1935.1" y="1555.8" font-size="26.8" text-anchor="end" transform="rotate(-45 1935.1 1555.8)">Melanocyte</text>
<text x="1285.5" y="1669" font-size="34">★</text>
<rect x="1994" y="1127.0" width="35" height="35" fill="#67001F"/>
<text x="2041.4" y="1154.0" font-size="26.8">L-lep1</text>
<rect x="1994" y="1165.0" width="35" height="35" fill="#B2182B"/>
<text x="2041.4" y="1192.0" font-size="26.8">L-lep2</text>
<rect x="1994" y="1202.9" width="35" height="35" fill="#D6604D"/>
<text x="2041.4" y="1229.9" font-size="26.8">L-lep3</text>
<rect x="1994" y="1240.9" width="35" height="35" fill="#F4A582"/>
<text x="2041.4" y="1267.9" font-size="26.8">L-lep4</text>
<rect x="1994" y="1278.9" width="35" height="35" fill="#FDDBC7"/>
<text x="2041.4" y="1305.9" font-size="26.8">L-lep5</text>
<rect x="1994" y="1316.8" width="35" height="35" fill="#D1E5F0"/>
<text x="2041.4" y="1343.8" font-size="26.8">RR1</text>
<rect x="1994" y="1354.8" width="35" height="35" fill="#92C5DE"/>
<text x="2041.4" y="1381.8" font-size="26.8">RR2</text>
<rect x="1994" y="1392.8" width="35" height="35" fill="#4393C3"/>
<text x="2041.4" y="1419.8" font-size="26.8">RR3</text>
<rect x="1994" y="1430.8" width="35" height="35" fill="#2166AC"/>
<text x="2041.4" y="1457.8" font-size="26.8">RR4</text>
<rect x="1994" y="1468.7" width="35" height="35" fill="#053061"/>
<text x="2041.4" y="1495.7" font-size="26.8">RR5</text>
<text x="1143.3" y="1765.2" font-size="32.5" font-weight="bold">e</text>
<text x="1634" y="1778" font-size="26.8" text-anchor="middle"><tspan font-style="italic">M. leprae</tspan> number of UMIs</text>
<path d="M1259.5 1786L1259.5 2082.5" stroke="#444" stroke-width="1.3"/>
<path d="M1259.0 2082L2008.5 2082" stroke="#444" stroke-width="1.3"/>
<path d="M1249.8 2068.2L1259.5 2068.2" stroke="#262626" stroke-width="1.3"/>
<text x="1238.0" y="2077.5" font-size="26.8" text-anchor="end">0</text>
<path d="M1249.8 1995.3L1259.5 1995.3" stroke="#262626" stroke-width="1.3"/>
<text x="1238.0" y="2004.6" font-size="26.8" text-anchor="end">1</text>
<path d="M1249.8 1922.4L1259.5 1922.4" stroke="#262626" stroke-width="1.3"/>
<text x="1238.0" y="1931.7" font-size="26.8" text-anchor="end">2</text>
<path d="M1249.8 1849.5L1259.5 1849.5" stroke="#262626" stroke-width="1.3"/>
<text x="1238.0" y="1858.8" font-size="26.8" text-anchor="end">3</text>
<text transform="rotate(-90 1160.5 1932.5)" x="1160.5" y="1932.5" font-size="26.8" text-anchor="middle">log<tspan font-size="19" dy="6.5" dx="0.5">10</tspan><tspan dy="-6.5" dx="1.5"> (</tspan><tspan font-style="italic">M. leprae</tspan></text>
<text x="1192.2" y="1933.5" font-size="26.8" text-anchor="middle" transform="rotate(-90 1192.2 1933.5)">number of UMIs)</text>
<path d="M1303.5 2082L1303.5 2091.7" stroke="#262626" stroke-width="1.3"/>
<text x="1315.5" y="2113.5" font-size="26.8" text-anchor="end" transform="rotate(-45 1315.5 2113.5)">L-lep1</text>
<path d="M1270.5 2068.2L1279.5 2066.8L1281.8 2065.3L1284.7 2063.9L1287.4 2062.4L1289.5 2061.0L1290.8 2059.5L1291.0 2058.1L1290.2 2056.6L1288.5 2055.2L1286.1 2053.8L1283.5 2052.3L1280.9 2050.9L1278.7 2049.4L1277.0 2048.0L1275.8 2046.5L1275.3 2045.1L1275.2 2043.6L1275.5 2042.2L1276.0 2040.7L1276.7 2039.3L1277.4 2037.9L1278.0 2036.4L1278.7 2035.0L1279.3 2033.5L1279.9 2032.1L1280.4 2030.6L1280.9 2029.2L1281.3 2027.7L1281.8 2026.3L1282.2 2024.9L1282.6 2023.4L1283.0 2022.0L1283.4 2020.5L1283.8 2019.1L1284.2 2017.6L1284.6 2016.2L1285.0 2014.7L1285.4 2013.3L1285.8 2011.8L1286.2 2010.4L1286.6 2009.0L1287.0 2007.5L1287.4 2006.1L1287.8 2004.6L1288.2 2003.2L1288.6 2001.7L1289.0 2000.3L1289.4 1998.8L1289.8 1997.4L1290.2 1996.0L1290.7 1994.5L1291.1 1993.1L1291.6 1991.6L1292.1 1990.2L1292.5 1988.7L1293.0 1987.3L1293.5 1985.8L1294.0 1984.4L1294.5 1982.9L1294.9 1981.5L1295.4 1980.1L1295.8 1978.6L1296.3 1977.2L1296.7 1975.7L1297.1 1974.3L1297.6 1972.8L1298.0 1971.4L1298.4 1969.9L1298.7 1968.5L1299.1 1967.1L1299.4 1965.6L1299.7 1964.2L1300.0 1962.7L1300.3 1961.3L1300.5 1959.8L1300.8 1958.4L1301.0 1956.9L1301.2 1955.5L1301.4 1954.0L1301.6 1952.6L1301.7 1951.2L1301.9 1949.7L1302.0 1948.3L1302.1 1946.8L1302.3 1945.4L1302.4 1943.9L1302.5 1942.5L1302.5 1941.0L1302.6 1939.6L1302.7 1938.2L1302.8 1936.7L1302.8 1935.3L1302.9 1933.8L1302.9 1932.4L1303.0 1930.9L1303.0 1929.5L1303.0 1928.0L1303.1 1926.6L1303.1 1925.1L1303.1 1923.7L1303.2 1922.3L1303.2 1920.8L1303.2 1919.4L1303.3 1917.9L1303.3 1916.5L1303.3 1915.0L1303.3 1913.6L1303.4 1912.1L1303.4 1910.7L1303.4 1909.3L1303.4 1907.8L1303.4 1906.4L1303.6 1906.4L1303.6 1907.8L1303.6 1909.3L1303.6 1910.7L1303.6 1912.1L1303.7 1913.6L1303.7 1915.0L1303.7 1916.5L1303.7 1917.9L1303.8 1919.4L1303.8 1920.8L1303.8 1922.3L1303.9 1923.7L1303.9 1925.1L1303.9 1926.6L1304.0 1928.0L1304.0 1929.5L1304.0 1930.9L1304.1 1932.4L1304.1 1933.8L1304.2 1935.3L1304.2 1936.7L1304.3 1938.2L1304.4 1939.6L1304.5 1941.0L1304.5 1942.5L1304.6 1943.9L1304.7 1945.4L1304.9 1946.8L1305.0 1948.3L1305.1 1949.7L1305.3 1951.2L1305.4 1952.6L1305.6 1954.0L1305.8 1955.5L1306.0 1956.9L1306.2 1958.4L1306.5 1959.8L1306.7 1961.3L1307.0 1962.7L1307.3 1964.2L1307.6 1965.6L1307.9 1967.1L1308.3 1968.5L1308.6 1969.9L1309.0 1971.4L1309.4 1972.8L1309.9 1974.3L1310.3 1975.7L1310.7 1977.2L1311.2 1978.6L1311.6 1980.1L1312.1 1981.5L1312.5 1982.9L1313.0 1984.4L1313.5 1985.8L1314.0 1987.3L1314.5 1988.7L1314.9 1990.2L1315.4 1991.6L1315.9 1993.1L1316.3 1994.5L1316.8 1996.0L1317.2 1997.4L1317.6 1998.8L1318.0 2000.3L1318.4 2001.7L1318.8 2003.2L1319.2 2004.6L1319.6 2006.1L1320.0 2007.5L1320.4 2009.0L1320.8 2010.4L1321.2 2011.8L1321.6 2013.3L1322.0 2014.7L1322.4 2016.2L1322.8 2017.6L1323.2 2019.1L1323.6 2020.5L1324.0 2022.0L1324.4 2023.4L1324.8 2024.9L1325.2 2026.3L1325.7 2027.7L1326.1 2029.2L1326.6 2030.6L1327.1 2032.1L1327.7 2033.5L1328.3 2035.0L1329.0 2036.4L1329.6 2037.9L1330.3 2039.3L1331.0 2040.7L1331.5 2042.2L1331.8 2043.6L1331.7 2045.1L1331.2 2046.5L1330.0 2048.0L1328.3 2049.4L1326.1 2050.9L1323.5 2052.3L1320.9 2053.8L1318.5 2055.2L1316.8 2056.6L1316.0 2058.1L1316.2 2059.5L1317.5 2061.0L1319.6 2062.4L1322.3 2063.9L1325.2 2065.3L1327.5 2066.8L1336.5 2068.2Z" fill="#67001F" stroke="#333" stroke-width="2" stroke-linejoin="round"/>
<path d="M1376.9 2082L1376.9 2091.7" stroke="#262626" stroke-width="1.3"/>
<text x="1388.9" y="2113.5" font-size="26.8" text-anchor="end" transform="rotate(-45 1388.9 2113.5)">L-lep2</text>
<path d="M1367.0 2068.2L1370.2 2066.8L1370.8 2065.3L1371.5 2063.9L1372.3 2062.4L1372.9 2061.0L1373.5 2059.5L1373.8 2058.1L1374.1 2056.6L1374.2 2055.2L1374.3 2053.7L1374.4 2052.3L1374.4 2050.8L1374.4 2049.4L1374.4 2047.9L1374.4 2046.5L1374.5 2045.0L1374.5 2043.6L1374.5 2042.1L1374.5 2040.7L1374.5 2039.2L1374.5 2037.8L1374.5 2036.3L1374.5 2034.9L1374.4 2033.4L1374.3 2032.0L1374.2 2030.5L1374.0 2029.1L1373.8 2027.6L1373.6 2026.2L1373.3 2024.7L1373.0 2023.3L1372.7 2021.8L1372.3 2020.4L1371.8 2018.9L1371.2 2017.5L1370.4 2016.0L1369.6 2014.6L1368.7 2013.1L1367.7 2011.7L1366.7 2010.2L1365.6 2008.8L1364.4 2007.3L1363.3 2005.9L1362.1 2004.4L1360.9 2003.0L1359.8 2001.5L1358.6 2000.1L1357.4 1998.6L1356.3 1997.2L1355.3 1995.7L1354.3 1994.3L1353.4 1992.8L1352.5 1991.4L1351.6 1989.9L1350.8 1988.5L1350.0 1987.0L1349.3 1985.6L1348.6 1984.1L1347.9 1982.7L1347.3 1981.2L1346.7 1979.8L1346.2 1978.3L1345.8 1976.9L1345.4 1975.4L1345.1 1974.0L1344.9 1972.5L1344.8 1971.1L1344.8 1969.6L1344.9 1968.2L1345.1 1966.8L1345.5 1965.3L1345.9 1963.9L1346.3 1962.4L1346.9 1961.0L1347.5 1959.5L1348.2 1958.1L1349.0 1956.6L1349.9 1955.2L1350.8 1953.7L1351.7 1952.3L1352.7 1950.8L1353.7 1949.4L1354.6 1947.9L1355.6 1946.5L1356.6 1945.0L1357.6 1943.6L1358.5 1942.1L1359.5 1940.7L1360.4 1939.2L1361.2 1937.8L1362.1 1936.3L1362.8 1934.9L1363.6 1933.4L1364.3 1932.0L1365.0 1930.5L1365.6 1929.1L1366.3 1927.6L1366.9 1926.2L1367.5 1924.7L1368.1 1923.3L1368.6 1921.8L1369.1 1920.4L1369.6 1918.9L1370.1 1917.5L1370.5 1916.0L1371.0 1914.6L1371.4 1913.1L1371.8 1911.7L1372.2 1910.2L1372.5 1908.8L1372.8 1907.3L1373.1 1905.9L1373.4 1904.4L1373.7 1903.0L1373.9 1901.5L1374.2 1900.1L1374.4 1898.6L1374.6 1897.2L1374.8 1895.7L1375.0 1894.3L1375.2 1892.8L1375.3 1891.4L1375.4 1889.9L1375.6 1888.5L1375.7 1887.0L1375.8 1885.6L1375.9 1884.1L1376.0 1882.7L1376.0 1881.2L1376.1 1879.8L1376.2 1878.3L1376.2 1876.9L1376.3 1875.4L1376.3 1874.0L1376.3 1872.5L1376.4 1871.1L1376.4 1869.7L1376.4 1868.2L1376.4 1866.8L1376.4 1865.3L1376.4 1863.9L1376.5 1862.4L1376.5 1861.0L1376.5 1859.5L1376.5 1858.1L1376.5 1856.6L1376.6 1855.2L1376.6 1853.7L1376.6 1852.3L1376.6 1850.8L1376.6 1849.4L1376.6 1847.9L1376.7 1846.5L1376.7 1845.0L1376.7 1843.6L1376.7 1842.1L1376.7 1840.7L1376.8 1839.2L1376.8 1837.8L1376.8 1836.3L1376.8 1834.9L1376.8 1833.4L1376.8 1832.0L1376.9 1830.5L1376.9 1829.1L1376.9 1827.6L1376.9 1826.2L1376.9 1826.2L1377.0 1827.6L1377.0 1829.1L1377.0 1830.5L1377.0 1832.0L1377.0 1833.4L1377.0 1834.9L1377.0 1836.3L1377.1 1837.8L1377.1 1839.2L1377.1 1840.7L1377.1 1842.1L1377.1 1843.6L1377.2 1845.0L1377.2 1846.5L1377.2 1847.9L1377.2 1849.4L1377.2 1850.8L1377.2 1852.3L1377.3 1853.7L1377.3 1855.2L1377.3 1856.6L1377.3 1858.1L1377.3 1859.5L1377.4 1861.0L1377.4 1862.4L1377.4 1863.9L1377.4 1865.3L1377.4 1866.8L1377.4 1868.2L1377.5 1869.7L1377.5 1871.1L1377.5 1872.5L1377.5 1874.0L1377.6 1875.4L1377.6 1876.9L1377.7 1878.3L1377.7 1879.8L1377.8 1881.2L1377.9 1882.7L1378.0 1884.1L1378.1 1885.6L1378.2 1887.0L1378.3 1888.5L1378.4 1889.9L1378.5 1891.4L1378.7 1892.8L1378.8 1894.3L1379.0 1895.7L1379.2 1897.2L1379.4 1898.6L1379.7 1900.1L1379.9 1901.5L1380.1 1903.0L1380.4 1904.4L1380.7 1905.9L1381.0 1907.3L1381.3 1908.8L1381.7 1910.2L1382.1 1911.7L1382.5 1913.1L1382.9 1914.6L1383.3 1916.0L1383.8 1917.5L1384.2 1918.9L1384.7 1920.4L1385.2 1921.8L1385.8 1923.3L1386.3 1924.7L1386.9 1926.2L1387.6 1927.6L1388.2 1929.1L1388.9 1930.5L1389.6 1932.0L1390.3 1933.4L1391.0 1934.9L1391.8 1936.3L1392.6 1937.8L1393.5 1939.2L1394.4 1940.7L1395.3 1942.1L1396.3 1943.6L1397.2 1945.0L1398.2 1946.5L1399.2 1947.9L1400.2 1949.4L1401.1 1950.8L1402.1 1952.3L1403.1 1953.7L1404.0 1955.2L1404.8 1956.6L1405.6 1958.1L1406.3 1959.5L1406.9 1961.0L1407.5 1962.4L1408.0 1963.9L1408.4 1965.3L1408.7 1966.8L1408.9 1968.2L1409.0 1969.6L1409.0 1971.1L1408.9 1972.5L1408.7 1974.0L1408.4 1975.4L1408.1 1976.9L1407.6 1978.3L1407.1 1979.8L1406.6 1981.2L1405.9 1982.7L1405.3 1984.1L1404.6 1985.6L1403.8 1987.0L1403.0 1988.5L1402.2 1989.9L1401.4 1991.4L1400.5 1992.8L1399.5 1994.3L1398.6 1995.7L1397.5 1997.2L1396.4 1998.6L1395.3 2000.1L1394.1 2001.5L1392.9 2003.0L1391.7 2004.4L1390.6 2005.9L1389.4 2007.3L1388.3 2008.8L1387.2 2010.2L1386.1 2011.7L1385.1 2013.1L1384.2 2014.6L1383.4 2016.0L1382.7 2017.5L1382.1 2018.9L1381.6 2020.4L1381.2 2021.8L1380.8 2023.3L1380.5 2024.7L1380.3 2026.2L1380.0 2027.6L1379.8 2029.1L1379.7 2030.5L1379.5 2032.0L1379.4 2033.4L1379.4 2034.9L1379.3 2036.3L1379.3 2037.8L1379.3 2039.2L1379.3 2040.7L1379.3 2042.1L1379.4 2043.6L1379.4 2045.0L1379.4 2046.5L1379.4 2047.9L1379.4 2049.4L1379.4 2050.8L1379.5 2052.3L1379.5 2053.7L1379.6 2055.2L1379.7 2056.6L1380.0 2058.1L1380.4 2059.5L1380.9 2061.0L1381.6 2062.4L1382.3 2063.9L1383.1 2065.3L1383.7 2066.8L1386.8 2068.2Z" fill="#B2182B" stroke="#333" stroke-width="2" stroke-linejoin="round"/>
<path d="M1450.3 2082L1450.3 2091.7" stroke="#262626" stroke-width="1.3"/>
<text x="1462.3" y="2113.5" font-size="26.8" text-anchor="end" transform="rotate(-45 1462.3 2113.5)">L-lep3</text>
<path d="M1439.8 2068.2L1440.8 2066.8L1441.0 2065.3L1441.1 2063.9L1441.2 2062.4L1441.1 2061.0L1440.8 2059.5L1440.2 2058.1L1439.3 2056.6L1438.2 2055.2L1436.9 2053.7L1435.5 2052.3L1434.0 2050.8L1432.6 2049.4L1431.2 2047.9L1429.8 2046.5L1428.6 2045.0L1427.5 2043.6L1426.4 2042.1L1425.4 2040.7L1424.5 2039.2L1423.6 2037.8L1422.8 2036.3L1422.1 2034.9L1421.4 2033.5L1420.9 2032.0L1420.4 2030.6L1419.9 2029.1L1419.6 2027.7L1419.2 2026.2L1418.9 2024.8L1418.6 2023.3L1418.4 2021.9L1418.1 2020.4L1417.9 2019.0L1417.7 2017.5L1417.6 2016.1L1417.5 2014.6L1417.4 2013.2L1417.4 2011.7L1417.4 2010.3L1417.4 2008.8L1417.4 2007.4L1417.5 2005.9L1417.6 2004.5L1417.8 2003.0L1418.0 2001.6L1418.3 2000.2L1418.6 1998.7L1419.0 1997.3L1419.5 1995.8L1420.0 1994.4L1420.6 1992.9L1421.2 1991.5L1421.9 1990.0L1422.7 1988.6L1423.4 1987.1L1424.3 1985.7L1425.1 1984.2L1425.9 1982.8L1426.7 1981.3L1427.4 1979.9L1428.2 1978.4L1428.9 1977.0L1429.6 1975.5L1430.2 1974.1L1430.9 1972.6L1431.5 1971.2L1432.2 1969.7L1432.8 1968.3L1433.4 1966.9L1434.0 1965.4L1434.6 1964.0L1435.2 1962.5L1435.8 1961.1L1436.3 1959.6L1436.9 1958.2L1437.4 1956.7L1438.0 1955.3L1438.5 1953.8L1439.0 1952.4L1439.5 1950.9L1440.0 1949.5L1440.4 1948.0L1440.9 1946.6L1441.3 1945.1L1441.8 1943.7L1442.2 1942.2L1442.6 1940.8L1443.0 1939.3L1443.3 1937.9L1443.7 1936.4L1444.0 1935.0L1444.3 1933.6L1444.6 1932.1L1444.9 1930.7L1445.1 1929.2L1445.4 1927.8L1445.6 1926.3L1445.9 1924.9L1446.1 1923.4L1446.3 1922.0L1446.5 1920.5L1446.7 1919.1L1446.9 1917.6L1447.0 1916.2L1447.2 1914.7L1447.3 1913.3L1447.5 1911.8L1447.6 1910.4L1447.8 1908.9L1448.0 1907.5L1448.1 1906.0L1448.2 1904.6L1448.4 1903.2L1448.5 1901.7L1448.7 1900.3L1448.8 1898.8L1448.9 1897.4L1449.0 1895.9L1449.1 1894.5L1449.2 1893.0L1449.3 1891.6L1449.4 1890.1L1449.5 1888.7L1449.5 1887.2L1449.6 1885.8L1449.7 1884.3L1449.7 1882.9L1449.8 1881.4L1449.8 1880.0L1449.9 1878.5L1449.9 1877.1L1450.0 1875.6L1450.0 1874.2L1450.0 1872.7L1450.1 1871.3L1450.1 1869.9L1450.1 1868.4L1450.2 1867.0L1450.2 1865.5L1450.2 1864.1L1450.3 1862.6L1450.3 1861.2L1450.4 1861.2L1450.4 1862.6L1450.4 1864.1L1450.5 1865.5L1450.5 1867.0L1450.5 1868.4L1450.6 1869.9L1450.6 1871.3L1450.6 1872.7L1450.7 1874.2L1450.7 1875.6L1450.8 1877.1L1450.8 1878.5L1450.8 1880.0L1450.9 1881.4L1450.9 1882.9L1451.0 1884.3L1451.1 1885.8L1451.1 1887.2L1451.2 1888.7L1451.3 1890.1L1451.4 1891.6L1451.5 1893.0L1451.6 1894.5L1451.7 1895.9L1451.8 1897.4L1451.9 1898.8L1452.0 1900.3L1452.2 1901.7L1452.3 1903.2L1452.4 1904.6L1452.6 1906.0L1452.7 1907.5L1452.9 1908.9L1453.0 1910.4L1453.2 1911.8L1453.3 1913.3L1453.5 1914.7L1453.7 1916.2L1453.8 1917.6L1454.0 1919.1L1454.2 1920.5L1454.4 1922.0L1454.6 1923.4L1454.8 1924.9L1455.0 1926.3L1455.3 1927.8L1455.5 1929.2L1455.8 1930.7L1456.1 1932.1L1456.4 1933.6L1456.7 1935.0L1457.0 1936.4L1457.4 1937.9L1457.7 1939.3L1458.1 1940.8L1458.5 1942.2L1458.9 1943.7L1459.4 1945.1L1459.8 1946.6L1460.2 1948.0L1460.7 1949.5L1461.2 1950.9L1461.7 1952.4L1462.2 1953.8L1462.7 1955.3L1463.2 1956.7L1463.8 1958.2L1464.3 1959.6L1464.9 1961.1L1465.5 1962.5L1466.1 1964.0L1466.6 1965.4L1467.3 1966.9L1467.9 1968.3L1468.5 1969.7L1469.1 1971.2L1469.8 1972.6L1470.5 1974.1L1471.1 1975.5L1471.8 1977.0L1472.5 1978.4L1473.3 1979.9L1474.0 1981.3L1474.8 1982.8L1475.6 1984.2L1476.4 1985.7L1477.2 1987.1L1478.0 1988.6L1478.8 1990.0L1479.5 1991.5L1480.1 1992.9L1480.7 1994.4L1481.2 1995.8L1481.6 1997.3L1482.0 1998.7L1482.4 2000.2L1482.7 2001.6L1482.9 2003.0L1483.1 2004.5L1483.2 2005.9L1483.3 2007.4L1483.3 2008.8L1483.3 2010.3L1483.3 2011.7L1483.3 2013.2L1483.2 2014.6L1483.1 2016.1L1483.0 2017.5L1482.8 2019.0L1482.6 2020.4L1482.3 2021.9L1482.1 2023.3L1481.8 2024.8L1481.5 2026.2L1481.1 2027.7L1480.7 2029.1L1480.3 2030.6L1479.8 2032.0L1479.2 2033.5L1478.6 2034.9L1477.8 2036.3L1477.0 2037.8L1476.2 2039.2L1475.2 2040.7L1474.3 2042.1L1473.2 2043.6L1472.1 2045.0L1470.8 2046.5L1469.5 2047.9L1468.1 2049.4L1466.7 2050.8L1465.2 2052.3L1463.8 2053.7L1462.5 2055.2L1461.4 2056.6L1460.5 2058.1L1459.9 2059.5L1459.6 2061.0L1459.5 2062.4L1459.5 2063.9L1459.7 2065.3L1459.9 2066.8L1460.9 2068.2Z" fill="#D6604D" stroke="#333" stroke-width="2" stroke-linejoin="round"/>
<path d="M1523.8 2082L1523.8 2091.7" stroke="#262626" stroke-width="1.3"/>
<text x="1535.8" y="2113.5" font-size="26.8" text-anchor="end" transform="rotate(-45 1535.8 2113.5)">L-lep4</text>
<path d="M1490.8 2068.2L1501.3 2066.8L1503.8 2065.3L1506.9 2063.9L1509.9 2062.4L1512.5 2061.0L1514.4 2059.5L1515.4 2058.1L1515.5 2056.7L1514.9 2055.2L1513.9 2053.8L1512.5 2052.3L1511.2 2050.9L1510.0 2049.4L1509.2 2048.0L1508.8 2046.5L1508.8 2045.1L1509.2 2043.7L1509.9 2042.2L1510.8 2040.8L1511.8 2039.3L1512.8 2037.9L1513.8 2036.4L1514.7 2035.0L1515.4 2033.6L1516.1 2032.1L1516.7 2030.7L1517.2 2029.2L1517.6 2027.8L1518.0 2026.3L1518.4 2024.9L1518.7 2023.4L1519.1 2022.0L1519.4 2020.6L1519.8 2019.1L1520.1 2017.7L1520.4 2016.2L1520.7 2014.8L1521.0 2013.3L1521.3 2011.9L1521.5 2010.5L1521.8 2009.0L1522.0 2007.6L1522.2 2006.1L1522.4 2004.7L1522.5 2003.2L1522.7 2001.8L1522.8 2000.4L1522.9 1998.9L1523.0 1997.5L1523.1 1996.0L1523.1 1994.6L1523.2 1993.1L1523.2 1991.7L1523.3 1990.2L1523.3 1988.8L1523.4 1987.4L1523.4 1985.9L1523.4 1984.5L1523.4 1983.0L1523.5 1981.6L1523.5 1980.1L1523.5 1978.7L1523.5 1977.3L1523.5 1975.8L1523.5 1974.4L1523.5 1972.9L1523.5 1971.5L1523.5 1970.0L1523.5 1968.6L1523.5 1967.2L1523.5 1965.7L1523.5 1964.3L1523.6 1962.8L1523.6 1961.4L1523.6 1959.9L1523.6 1958.5L1523.6 1957.0L1523.6 1955.6L1523.6 1954.2L1523.6 1952.7L1523.6 1951.3L1523.6 1949.8L1523.6 1948.4L1523.6 1946.9L1523.6 1945.5L1523.7 1944.1L1523.7 1942.6L1523.7 1941.2L1523.7 1939.7L1523.7 1938.3L1523.7 1936.8L1523.7 1935.4L1523.7 1933.9L1523.7 1932.5L1523.7 1931.1L1523.7 1929.6L1523.7 1928.2L1523.7 1926.7L1523.7 1925.3L1523.7 1923.8L1523.7 1922.4L1523.8 1922.4L1523.8 1923.8L1523.8 1925.3L1523.8 1926.7L1523.8 1928.2L1523.8 1929.6L1523.8 1931.1L1523.8 1932.5L1523.8 1933.9L1523.8 1935.4L1523.8 1936.8L1523.8 1938.3L1523.8 1939.7L1523.9 1941.2L1523.9 1942.6L1523.9 1944.1L1523.9 1945.5L1523.9 1946.9L1523.9 1948.4L1523.9 1949.8L1523.9 1951.3L1523.9 1952.7L1523.9 1954.2L1523.9 1955.6L1523.9 1957.0L1523.9 1958.5L1523.9 1959.9L1524.0 1961.4L1524.0 1962.8L1524.0 1964.3L1524.0 1965.7L1524.0 1967.2L1524.0 1968.6L1524.0 1970.0L1524.0 1971.5L1524.0 1972.9L1524.0 1974.4L1524.0 1975.8L1524.0 1977.3L1524.0 1978.7L1524.1 1980.1L1524.1 1981.6L1524.1 1983.0L1524.1 1984.5L1524.1 1985.9L1524.1 1987.4L1524.2 1988.8L1524.2 1990.2L1524.3 1991.7L1524.3 1993.1L1524.4 1994.6L1524.5 1996.0L1524.5 1997.5L1524.6 1998.9L1524.7 2000.4L1524.9 2001.8L1525.0 2003.2L1525.2 2004.7L1525.3 2006.1L1525.5 2007.6L1525.8 2009.0L1526.0 2010.5L1526.2 2011.9L1526.5 2013.3L1526.8 2014.8L1527.1 2016.2L1527.4 2017.7L1527.8 2019.1L1528.1 2020.6L1528.4 2022.0L1528.8 2023.4L1529.1 2024.9L1529.5 2026.3L1529.9 2027.8L1530.3 2029.2L1530.8 2030.7L1531.4 2032.1L1532.1 2033.6L1532.9 2035.0L1533.8 2036.4L1534.7 2037.9L1535.7 2039.3L1536.7 2040.8L1537.6 2042.2L1538.3 2043.7L1538.7 2045.1L1538.8 2046.5L1538.4 2048.0L1537.5 2049.4L1536.3 2050.9L1535.0 2052.3L1533.7 2053.8L1532.6 2055.2L1532.0 2056.7L1532.2 2058.1L1533.2 2059.5L1535.0 2061.0L1537.6 2062.4L1540.7 2063.9L1543.7 2065.3L1546.2 2066.8L1556.8 2068.2Z" fill="#F4A582" stroke="#333" stroke-width="2" stroke-linejoin="round"/>
<path d="M1597.2 2082L1597.2 2091.7" stroke="#262626" stroke-width="1.3"/>
<text x="1609.2" y="2113.5" font-size="26.8" text-anchor="end" transform="rotate(-45 1609.2 2113.5)">L-lep5</text>
<path d="M1595.5 2068.2L1595.7 2066.7L1595.7 2065.3L1595.7 2063.8L1595.7 2062.4L1595.8 2060.9L1595.8 2059.5L1595.8 2058.0L1595.8 2056.6L1595.8 2055.1L1595.7 2053.7L1595.7 2052.2L1595.7 2050.8L1595.7 2049.3L1595.7 2047.9L1595.6 2046.4L1595.6 2045.0L1595.6 2043.5L1595.5 2042.1L1595.4 2040.6L1595.3 2039.2L1595.2 2037.7L1595.0 2036.3L1594.9 2034.8L1594.7 2033.4L1594.5 2031.9L1594.2 2030.5L1594.0 2029.0L1593.8 2027.6L1593.6 2026.1L1593.4 2024.7L1593.1 2023.2L1592.9 2021.8L1592.6 2020.3L1592.4 2018.9L1592.1 2017.4L1591.7 2016.0L1591.4 2014.5L1591.0 2013.1L1590.6 2011.6L1590.2 2010.2L1589.7 2008.7L1589.3 2007.3L1588.8 2005.8L1588.3 2004.4L1587.7 2002.9L1587.2 2001.5L1586.5 2000.0L1585.9 1998.6L1585.2 1997.1L1584.5 1995.7L1583.8 1994.2L1583.0 1992.8L1582.2 1991.3L1581.5 1989.9L1580.6 1988.4L1579.8 1987.0L1578.9 1985.5L1578.0 1984.1L1577.0 1982.6L1576.0 1981.2L1575.1 1979.7L1574.1 1978.3L1573.2 1976.8L1572.3 1975.4L1571.4 1973.9L1570.5 1972.5L1569.7 1971.0L1568.9 1969.6L1568.2 1968.1L1567.5 1966.7L1566.8 1965.2L1566.2 1963.8L1565.8 1962.3L1565.4 1960.9L1565.1 1959.4L1564.9 1958.0L1564.8 1956.5L1564.8 1955.1L1564.9 1953.6L1565.2 1952.2L1565.5 1950.7L1565.9 1949.3L1566.3 1947.8L1566.9 1946.4L1567.5 1944.9L1568.2 1943.5L1568.9 1942.0L1569.7 1940.6L1570.4 1939.1L1571.2 1937.7L1572.1 1936.2L1572.9 1934.8L1573.8 1933.3L1574.7 1931.9L1575.6 1930.4L1576.5 1929.0L1577.4 1927.5L1578.3 1926.1L1579.2 1924.6L1580.0 1923.2L1580.8 1921.7L1581.6 1920.3L1582.4 1918.8L1583.1 1917.4L1583.9 1915.9L1584.6 1914.5L1585.3 1913.0L1586.0 1911.6L1586.6 1910.1L1587.3 1908.7L1587.8 1907.2L1588.4 1905.8L1588.9 1904.3L1589.3 1902.9L1589.8 1901.4L1590.2 1900.0L1590.7 1898.5L1591.1 1897.1L1591.4 1895.6L1591.8 1894.2L1592.2 1892.7L1592.5 1891.3L1592.8 1889.8L1593.1 1888.4L1593.4 1886.9L1593.6 1885.5L1593.9 1884.0L1594.1 1882.6L1594.4 1881.1L1594.6 1879.7L1594.8 1878.2L1595.0 1876.8L1595.1 1875.3L1595.3 1873.9L1595.4 1872.4L1595.6 1871.0L1595.7 1869.5L1595.8 1868.1L1595.9 1866.6L1596.0 1865.2L1596.1 1863.7L1596.2 1862.3L1596.3 1860.8L1596.3 1859.4L1596.4 1857.9L1596.4 1856.5L1596.5 1855.0L1596.5 1853.6L1596.6 1852.1L1596.6 1850.7L1596.7 1849.2L1596.7 1847.8L1596.7 1846.3L1596.7 1844.9L1596.7 1843.4L1596.8 1842.0L1596.8 1840.5L1596.8 1839.1L1596.8 1837.6L1596.8 1836.2L1596.8 1834.7L1596.8 1833.3L1596.9 1831.8L1596.9 1830.4L1596.9 1828.9L1596.9 1827.5L1596.9 1826.0L1596.9 1824.6L1596.9 1823.1L1597.0 1821.7L1597.0 1820.2L1597.0 1818.8L1597.0 1817.3L1597.0 1815.9L1597.0 1814.4L1597.0 1813.0L1597.1 1811.5L1597.1 1810.1L1597.1 1808.6L1597.1 1807.2L1597.1 1805.7L1597.1 1804.3L1597.1 1802.8L1597.1 1801.4L1597.2 1799.9L1597.2 1798.5L1597.2 1798.5L1597.2 1799.9L1597.2 1801.4L1597.2 1802.8L1597.2 1804.3L1597.3 1805.7L1597.3 1807.2L1597.3 1808.6L1597.3 1810.1L1597.3 1811.5L1597.3 1813.0L1597.3 1814.4L1597.3 1815.9L1597.4 1817.3L1597.4 1818.8L1597.4 1820.2L1597.4 1821.7L1597.4 1823.1L1597.4 1824.6L1597.4 1826.0L1597.5 1827.5L1597.5 1828.9L1597.5 1830.4L1597.5 1831.8L1597.5 1833.3L1597.5 1834.7L1597.5 1836.2L1597.6 1837.6L1597.6 1839.1L1597.6 1840.5L1597.6 1842.0L1597.6 1843.4L1597.6 1844.9L1597.7 1846.3L1597.7 1847.8L1597.7 1849.2L1597.7 1850.7L1597.8 1852.1L1597.8 1853.6L1597.9 1855.0L1597.9 1856.5L1598.0 1857.9L1598.0 1859.4L1598.1 1860.8L1598.2 1862.3L1598.2 1863.7L1598.3 1865.2L1598.4 1866.6L1598.6 1868.1L1598.7 1869.5L1598.8 1871.0L1598.9 1872.4L1599.1 1873.9L1599.2 1875.3L1599.4 1876.8L1599.6 1878.2L1599.8 1879.7L1600.0 1881.1L1600.2 1882.6L1600.5 1884.0L1600.7 1885.5L1601.0 1886.9L1601.3 1888.4L1601.6 1889.8L1601.9 1891.3L1602.2 1892.7L1602.5 1894.2L1602.9 1895.6L1603.3 1897.1L1603.7 1898.5L1604.1 1900.0L1604.6 1901.4L1605.0 1902.9L1605.5 1904.3L1606.0 1905.8L1606.5 1907.2L1607.1 1908.7L1607.7 1910.1L1608.4 1911.6L1609.1 1913.0L1609.8 1914.5L1610.5 1915.9L1611.2 1917.4L1612.0 1918.8L1612.7 1920.3L1613.5 1921.7L1614.4 1923.2L1615.2 1924.6L1616.1 1926.1L1617.0 1927.5L1617.9 1929.0L1618.8 1930.4L1619.7 1931.9L1620.6 1933.3L1621.4 1934.8L1622.3 1936.2L1623.1 1937.7L1623.9 1939.1L1624.7 1940.6L1625.5 1942.0L1626.2 1943.5L1626.8 1944.9L1627.5 1946.4L1628.0 1947.8L1628.5 1949.3L1628.9 1950.7L1629.2 1952.2L1629.4 1953.6L1629.5 1955.1L1629.6 1956.5L1629.5 1958.0L1629.3 1959.4L1629.0 1960.9L1628.6 1962.3L1628.1 1963.8L1627.5 1965.2L1626.9 1966.7L1626.2 1968.1L1625.5 1969.6L1624.7 1971.0L1623.9 1972.5L1623.0 1973.9L1622.1 1975.4L1621.2 1976.8L1620.2 1978.3L1619.3 1979.7L1618.3 1981.2L1617.4 1982.6L1616.4 1984.1L1615.5 1985.5L1614.6 1987.0L1613.7 1988.4L1612.9 1989.9L1612.1 1991.3L1611.3 1992.8L1610.6 1994.2L1609.9 1995.7L1609.2 1997.1L1608.5 1998.6L1607.8 2000.0L1607.2 2001.5L1606.6 2002.9L1606.1 2004.4L1605.6 2005.8L1605.1 2007.3L1604.6 2008.7L1604.2 2010.2L1603.8 2011.6L1603.4 2013.1L1603.0 2014.5L1602.6 2016.0L1602.3 2017.4L1602.0 2018.9L1601.7 2020.3L1601.5 2021.8L1601.2 2023.2L1601.0 2024.7L1600.8 2026.1L1600.6 2027.6L1600.3 2029.0L1600.1 2030.5L1599.9 2031.9L1599.7 2033.4L1599.5 2034.8L1599.3 2036.3L1599.2 2037.7L1599.0 2039.2L1598.9 2040.6L1598.9 2042.1L1598.8 2043.5L1598.8 2045.0L1598.7 2046.4L1598.7 2047.9L1598.7 2049.3L1598.7 2050.8L1598.6 2052.2L1598.6 2053.7L1598.6 2055.1L1598.6 2056.6L1598.6 2058.0L1598.6 2059.5L1598.6 2060.9L1598.6 2062.4L1598.7 2063.8L1598.7 2065.3L1598.7 2066.7L1598.8 2068.2Z" fill="#FDDBC7" stroke="#333" stroke-width="2" stroke-linejoin="round"/>
<path d="M1670.6 2082L1670.6 2091.7" stroke="#262626" stroke-width="1.3"/>
<text x="1682.6" y="2113.5" font-size="26.8" text-anchor="end" transform="rotate(-45 1682.6 2113.5)">RR1</text>
<path d="M1637.6 2068.2H1703.6M1670.6 2068.2V1995.3" stroke="#333" stroke-width="2"/>
<path d="M1744.0 2082L1744.0 2091.7" stroke="#262626" stroke-width="1.3"/>
<text x="1756.0" y="2113.5" font-size="26.8" text-anchor="end" transform="rotate(-45 1756.0 2113.5)">RR2</text>
<path d="M1711.0 2068.2H1777.0M1744.0 2068.2V2033.9" stroke="#333" stroke-width="2"/>
<path d="M1817.4 2082L1817.4 2091.7" stroke="#262626" stroke-width="1.3"/>
<text x="1829.4" y="2113.5" font-size="26.8" text-anchor="end" transform="rotate(-45 1829.4 2113.5)">RR3</text>
<path d="M1784.4 2068.2L1792.6 2066.8L1794.3 2065.3L1796.4 2063.9L1798.3 2062.5L1799.9 2061.0L1800.8 2059.6L1801.0 2058.2L1800.6 2056.8L1799.6 2055.3L1798.4 2053.9L1797.0 2052.5L1795.6 2051.0L1794.5 2049.6L1793.7 2048.2L1793.3 2046.7L1793.4 2045.3L1793.9 2043.9L1794.7 2042.5L1795.8 2041.0L1797.0 2039.6L1798.3 2038.2L1799.7 2036.7L1801.0 2035.3L1802.2 2033.9L1803.3 2032.4L1804.3 2031.0L1805.2 2029.6L1806.0 2028.1L1806.8 2026.7L1807.4 2025.3L1808.0 2023.9L1808.5 2022.4L1809.0 2021.0L1809.5 2019.6L1809.9 2018.1L1810.3 2016.7L1810.7 2015.3L1811.1 2013.8L1811.4 2012.4L1811.8 2011.0L1812.1 2009.5L1812.4 2008.1L1812.7 2006.7L1813.0 2005.3L1813.2 2003.8L1813.5 2002.4L1813.8 2001.0L1814.1 1999.5L1814.3 1998.1L1814.6 1996.7L1814.8 1995.2L1815.0 1993.8L1815.1 1992.4L1819.8 1992.4L1819.9 1993.8L1820.1 1995.2L1820.3 1996.7L1820.5 1998.1L1820.8 1999.5L1821.1 2001.0L1821.4 2002.4L1821.6 2003.8L1821.9 2005.3L1822.2 2006.7L1822.5 2008.1L1822.8 2009.5L1823.1 2011.0L1823.5 2012.4L1823.8 2013.8L1824.2 2015.3L1824.6 2016.7L1825.0 2018.1L1825.4 2019.6L1825.9 2021.0L1826.3 2022.4L1826.9 2023.9L1827.5 2025.3L1828.1 2026.7L1828.8 2028.1L1829.7 2029.6L1830.6 2031.0L1831.6 2032.4L1832.7 2033.9L1833.9 2035.3L1835.2 2036.7L1836.6 2038.2L1837.9 2039.6L1839.1 2041.0L1840.2 2042.5L1841.0 2043.9L1841.5 2045.3L1841.6 2046.7L1841.2 2048.2L1840.4 2049.6L1839.3 2051.0L1837.9 2052.5L1836.5 2053.9L1835.2 2055.3L1834.3 2056.8L1833.9 2058.2L1834.1 2059.6L1835.0 2061.0L1836.6 2062.5L1838.5 2063.9L1840.6 2065.3L1842.3 2066.8L1850.4 2068.2Z" fill="#4393C3" stroke="#333" stroke-width="2" stroke-linejoin="round"/>
<path d="M1890.9 2082L1890.9 2091.7" stroke="#262626" stroke-width="1.3"/>
<text x="1902.9" y="2113.5" font-size="26.8" text-anchor="end" transform="rotate(-45 1902.9 2113.5)">RR4</text>
<path d="M1857.9 2068.2H1923.9M1890.9 2068.2V1995.3" stroke="#333" stroke-width="2"/>
<path d="M1964.3 2082L1964.3 2091.7" stroke="#262626" stroke-width="1.3"/>
<text x="1976.3" y="2113.5" font-size="26.8" text-anchor="end" transform="rotate(-45 1976.3 2113.5)">RR5</text>
<path d="M1931.3 2068.2H1997.3M1964.3 2068.2V1953.0" stroke="#333" stroke-width="2"/>
<path d="M1599.7 1799h0m-12.7 13.2h0m-7.3 1.5h0m37.2 3.5h0m-268.1 9.8h0m228.8 11.7h0m42 0.6h0m-257.8 8.9h0m241 3.1h0m-5.3 0.7h0m13.7 3.7h0m-30.4 3.5h0m-215.2 0.8h0m85.9 2.9h0m12 1.8h0m141.8 0.4h0m9.5 0.9h0m-143.3 1.6h0m101.9 0h0m-138.7 2.7h0m134.5 1.1h0m22.1-0.6h0m15.3 2.1h0m-237.8 1.8h0m249.4 1.3h0m-186.4 1.6h0m40.6 0.6h0m-112.1 3h0m247.5-0.6h0m-179 1.4h0m152.4-0.2h0m22-0.1h0m-251.2 2.3h0m118-0.5h0m-78 2.5h0m204.8-0.2h0m-170.9 1.2h0m157.6-0.4h0m16.3 0.8h0m19.1-0.4h0m-178.9 1h0m185.1-0.3h0m-240.1 2.3h0m77 0h0m159.4 0.4h0m-47.7 2.9h0m12.9-0.8h0m28.3 0.4h0m3.9 0.2h0m-241.2 0.8h0m190.5 0.4h0m-204.1 1.5h0m98.3-0.2h0m111.6 1.1h0m30.5-0.1h0m-243.6 1.1h0m260.9-0.1h0m-189.7 1.3h0m-77.4 1.2h0m4.8 0.4h0m77.7-1h0m143.7 0.6h0m21.5-0.4h0m-19 1.6h0m18.4-0.4h0m23.9 1.5h0m-223.8 0.2h0m72.6 0.8h0m-100.9 0.2h0m79.7 0.5h0m13.5-0.5h0m122.2 0.7h0m-217 0.2h0m72.2 0.5h0m23.5-0.1h0m2.4 0.3h0m2.5-0.7h0m114.3 0.9h0m1.9-0.5h0m11.9 0h0m24 0.3h0m-335.6 0.8h0m74.5 0h0m63.8-0.2h0m146 0h0m20.8 0.2h0m-303.6 1h0m22.2-0.5h0m51.4 0.8h0m204.2-0.2h0m1-0.2h0m32 0h0m-248.6 1h0m29.6-0.2h0m1.2 0.4h0m51.3 0h0m169.4 0.2h0m5.5-0.6h0m-229.6 1.7h0m4.3 0h0m82.6-0.9h0m104 0.4h0m25.7-0.2h0m0.7 0.2h0m27.3-0.4h0m-167.8 1.5h0m19.8-0.4h0m92.6 0.8h0m9.5-0.2h0m23.4 0h0m1.4-0.6h0m9.6 0.2h0m11.8 0h0m-44.2 1.3h0m-222 1.3h0m2.3 0h0m12.7-0.2h0m20.5 0.2h0m0.5-0.4h0m189.3 0.2h0m22.6 0.2h0m7.9-0.4h0m10-0.5h0m-225 1.4h0m26.5 0.2h0m3-0.4h0m167.8 0.2h0m22.8 0.5h0m3.9-0.3h0m-272 0.5h0m40 0h0m46.9 0.7h0m6.8-0.7h0m11.2 0h0m112 0.3h0m1.4 0.4h0m3.1-0.7h0m2.2 0.3h0m26.9 0h0m3.9 0.2h0m2.9 0h0m-239.1 1.2h0m94.1-0.5h0m105.5 0.5h0m8.8 0h0m13-0.5h0m19.1 0.3h0m1.6-0.5h0m-320.8 1h0m58.9 0.5h0m38.8 0.3h0m64.2-0.6h0m5-0.2h0m124.7 0.5h0m21.6-0.3h0m22.6 0h0m-193.6 1.1h0m13.5 0.5h0m10.8-0.5h0m121.9 0.3h0m6.3-0.6h0m3.7 0.6h0m15 0.2h0m13.4-0.2h0m2.4 0h0m1 0h0m2.1-0.6h0m-240.3 1.4h0m67.9 0h0m5.5 0h0m125.9 0h0m24.8 0h0m8.3 0.3h0m1.3-0.3h0m-299.8 0.8h0m40.3 0.6h0m23.4 0h0m79.2-0.3h0m111.6 0h0m9 0h0m7.2-0.6h0m1.2 0.9h0m17-0.6h0m21 0h0m-301 1.5h0m60.7 0h0m1.9 0h0m2.3 0h0m33.4-0.6h0m151.2 0.6h0m0.5-0.6h0m0.1 0.6h0m1.4-0.6h0m0.5 0h0m37.4 0h0m-339.4 1.3h0m32.1 0h0m55.2 0.2h0m39.4-0.3h0m51.4 0.3h0m24.7 0h0m100.5 0h0m0.4-0.3h0m9.3 0h0m1 0.6h0m7.3-0.3h0m1.9 0h0m9.2 0h0m4.8-0.6h0m7.6 0.6h0m0.8-0.6h0m1.7 0.9h0m1.2-0.9h0m-344.1 1.8h0m3.9-0.6h0m39.6 0.6h0m23.4-0.3h0m13.4 0.3h0m0.1-0.6h0m91 0h0m65.3 0.6h0m92.1-0.6h0m6.7 0h0m10.3 0.6h0m-295.8 0.6h0m20.9-0.3h0m18.2 0.3h0m2 0h0m6-0.3h0m16.5 0.7h0m2.2 0h0m65.9-0.4h0m108.5 0.4h0m5.3-0.4h0m13.6-0.3h0m0.9 0h0m9.9 0.3h0m-284.5 0.7h0m10.4 0h0m32.2 0h0m1.3 0h0m11.9 0h0m33.8 0.3h0m17 0h0m6.9-0.3h0m0.9 0.3h0m19-0.3h0m5.3 0.7h0m113.8-0.7h0m7 0.3h0m3.3-0.3h0m14.4 0.7h0m8.8-0.7h0m1.6 0h0m23 0.3h0m0.3 0h0m0.5 0h0m-278.8 1h0m2 0.4h0m11.3-0.7h0m14.4 0.3h0m26.3 0h0m56 0h0m0.4 0.4h0m9.3-0.7h0m101 0.3h0m19.1-0.3h0m4.8 0.3h0m16 0h0m0.2-0.3h0m2.4 0h0m5 0h0m-304.5 1.3h0m46.9-0.3h0m38.3 0.7h0m37.1-0.3h0m14.7 0h0m7.8 0.3h0m1.9-0.3h0m15.3 0.3h0m102-0.3h0m0.7 0h0m5.8 0.3h0m6.2-0.3h0m0.8 0h0m4-0.4h0m1.6 0.7h0m14.1-0.3h0m4.3-0.4h0m0.1 0.7h0m0.3-0.3h0m3.5-0.4h0m0.6 0.4h0m8.7 0.3h0m-266.3 0.4h0m8.6 0h0m19.1 0.4h0m0.5 0h0m6.2 0h0m29 0h0m39.7-0.4h0m10.5 0.4h0m103.6-0.4h0m22.6 0.4h0m22.6 0h0m-296.5 1.1h0m56.3 0h0m17.7-0.8h0m23.1 0.8h0m7.9-0.4h0m24.2 0h0m6.7 0.4h0m17.9 0h0m91.8-0.4h0m22.4 0h0m1.1 0.4h0m4.9-0.8h0m12.7 0.4h0m0.5 0.4h0m0.8-0.4h0m3.3-0.4h0m9.3 0h0m-349.9 1.5h0m108.2 0.5h0m37 0h0m17.7-0.8h0m7.1 0.4h0m3.4 0.4h0m18.3-0.8h0m115.4 0.8h0m2.2 0h0m6-0.8h0m0.3 0.4h0m18.2 0.4h0m5.3 0h0m3-0.8h0m-263.4 1.2h0m8.5 0h0m15.9 0h0m17.8 0h0m45.9 0h0m5.8 0h0m1.8 0h0m118.3 0.4h0m0 0h0m7.2 0h0m13.2-0.4h0m0.8 0.4h0m8.6 0h0m7.1-0.4h0m3.7 0.4h0m11-0.4h0m-263.9 0.8h0m10.2 0h0m9.6 0.4h0m0.3 0h0m80.6-0.4h0m109.1 0h0m3.2 0.4h0m4.7-0.4h0m0 0.4h0m3.5 0h0m5.7 0h0m3.7 0h0m10.2-0.4h0m7.9 0.4h0m0.6-0.4h0m3.1 0h0m3 0h0m0.6 0.4h0m2.4 0h0m-296.1 0.4h0m33.2 0h0m9.3 0.9h0m7.1-0.9h0m2.5 0.4h0m11.2-0.4h0m6.4 0.4h0m1.4-0.4h0m11.1 0h0m3.9 0.4h0m15.3 0.5h0m4.2 0h0m6.4-0.5h0m0.2-0.4h0m2.5 0.9h0m27.9-0.5h0m8.6 0.5h0m5.1-0.9h0m92.5 0.9h0m5.6-0.5h0m5.1-0.4h0m2.4 0h0m10 0.4h0m1.4 0.5h0m0.4-0.9h0m1.4 0.4h0m0.5 0h0m6 0h0m11.6 0h0m13.1 0h0m-264.2 0.9h0m19.3 0.4h0m18.8-0.4h0m21 0h0m6.4 0.4h0m4.9-0.4h0m8 0h0m0.7 0h0m15 0.4h0m3.1 0h0m115.8 0h0m4-0.4h0m1 0h0m4.1 0.4h0m18.8-0.4h0m5.4 0h0m2.5 0h0m0 0h0m0.1 0.4h0m-258.7 0.5h0m1 0.4h0m11.7 0h0m8.9 0h0m5.7 0h0m10.4-0.4h0m11.4 0.4h0m21.1 0h0m24 0h0m11.1 0h0m7.2 0h0m3.7 0h0m7.1-0.4h0m94 0.4h0m2-0.4h0m3 0h0m6.5 0.4h0m3.5 0h0m6.1 0h0m1.4-0.4h0m5.6 0.4h0m4.2 0h0m0.8-0.4h0m18.9 0h0m-311.2 1.4h0m13.1 0h0m29.1-0.5h0m0.2 0.5h0m3.1-0.5h0m9.9 0h0m0.9 0h0m11.9 0.5h0m2.7-0.5h0m17.1 0.5h0m22.4 0h0m5-0.5h0m4 0h0m2.5 0.5h0m3.4 0h0m8 0h0m17.6 0h0m8.4-0.5h0m103.4 0.5h0m0.8-0.5h0m7.7 0h0m9.4 0.5h0m8.8 0h0m14.2-0.5h0m6.8 0h0m6.5 0.5h0m-335.3 0.9h0m58.3 0h0m1.1 0h0m9.2 0h0m3.7-0.4h0m4.3 0h0m3 0.4h0m0.7-0.4h0m22.4 0h0m59.6 0.4h0m4.9 0h0m2.8-0.4h0m14.1 0h0m96.6 0h0m7.4 0.4h0m4.5 0h0m12.9-0.4h0m5 0h0m1.1 0.4h0m4.1-0.4h0m0.1 0h0m4.2 0h0m1.4 0.4h0m0.8-0.4h0m0.9 0h0m7.4 0.4h0m3.7-0.4h0m0.8 0.4h0m-344.5 0.5h0m11.4 0h0m81.3 0.5h0m2.3-0.5h0m2.8 0h0m3 0h0m7.5 0h0m0.2 0.5h0m3.1 0h0m2.6 0h0m6.4 0h0m18 0h0m5.8 0h0m5.5 0h0m6.4 0h0m26.1-0.5h0m8.2 0.5h0m94.9 0h0m7.2 0h0m1.9 0h0m6.5-0.5h0m3 0.5h0m12 0h0m22.7-0.5h0m0.1 0.5h0m5.3-0.5h0m-338.6 1h0m12.6 0.5h0m47.3 0h0m2.9-0.5h0m15.7 0.5h0m1.7 0h0m0.6 0h0m11.9 0h0m1.5 0h0m3.6-0.5h0m15.8 0.5h0m0.7-0.5h0m18.4 0.5h0m5.7 0h0m4.7-0.5h0m3.5 0.5h0m11.2 0h0m12.6 0h0m6.1 0h0m0.6-0.5h0m13.4 0.5h0m90 0h0m18 0h0m2.1 0h0m4.7 0h0m3.6 0h0m0.3-0.5h0m5.7 0.5h0m0.1 0h0m6.3-0.5h0m0.7 0.5h0m10.7 0h0m-309.3 0.6h0m0.2 0h0m4.4 0h0m12.2 0h0m27.6 0h0m32.7 0.5h0m0.4 0h0m3.1 0h0m0.3-0.5h0m10.4 0.5h0m1.2-0.5h0m25.7 0h0m9.8 0.5h0m4.4-0.5h0m0.2 0.5h0m8.1 0h0m1.4-0.5h0m2.9 0.5h0m4.2-0.5h0m3.9 0.5h0m0.1 0h0m0.6-0.5h0m4 0h0m1.9 0h0m6.7 0.5h0m107.3 0h0m0.6 0h0m4 0h0m4.7 0h0m0 0h0m4.1-0.5h0m0.9 0h0m0.9 0.5h0m7.8 0h0m1.7-0.5h0m2.4 0.5h0m4.3 0h0m5.3-0.5h0m0.1 0.5h0m2.4-0.5h0m-346.8 1.6h0m14.4-0.6h0m11.6 0h0m0.6 0h0m65 0h0m0.3 0h0m8.3 0h0m3.7 0h0m22.4 0.6h0m0.3 0h0m0.6 0h0m26.4-0.6h0m4.3 0.6h0m8 0h0m2.2-0.6h0m7.7 0.6h0m5.4-0.6h0m4.9 0.6h0m3.4 0h0m1.2 0h0m9.6-0.6h0m90.5 0.6h0m4.9-0.6h0m5 0.6h0m3.2-0.6h0m0.7 0.6h0m5.7-0.6h0m12.2 0.6h0m3.2 0h0m3.9 0h0m5.7 0h0m0.3 0h0m1.2 0h0m5.7 0h0m0.6-0.6h0m0.4 0.6h0m-309.2 1.1h0m5.7 0h0m36-0.5h0m5.3 0h0m4.6 0.5h0m0 0h0m0.4-0.5h0m2.5 0h0m0.2 0h0m13.2 0h0m7.6 0.5h0m5.5-0.5h0m0.9 0.5h0m1.7-0.5h0m4.9 0h0m2.2 0h0m0.5 0h0m1.2 0h0m16.8 0.5h0m14 0h0m5.7 0h0m9 0h0m4.8 0h0m113.8 0h0m0.1-0.5h0m3.8 0h0m0.7 0.5h0m21.9 0h0m0.4-0.5h0m5.6 0h0m1.7 0h0m0.3 0h0m0.4 0.5h0m0 0h0m4.7 0h0m3.1 0h0m0.3-0.5h0m0.6 0.5h0m1.5 0h0m4 0h0m0.3-0.5h0m-258 1.1h0m39.8 0h0m3.8 0h0m23.8 0h0m16.1 0h0m6.7 0h0m118.6 0h0m9.3 0h0m9.4 0h0m13.1 0h0m19 0h0m-316.2 1.2h0m21.2-0.6h0m23.9 0h0m3.2 0h0m5.8 0h0m0.1 0.6h0m13.6 0h0m8.8-0.6h0m1.8 0.6h0m0.7 0h0m1.1-0.6h0m12.1 0.6h0m5.6-0.6h0m29.2 0h0m5 0h0m0.9 0h0m0.8 0h0m4.8 0.6h0m7.2-0.6h0m0.2 0h0m1.4 0h0m1.9 0h0m3.6 0.6h0m1.6-0.6h0m1.7 0.6h0m3.6 0h0m1.3-0.6h0m1.4 0h0m3.3 0h0m4.6 0.6h0m0.6-0.6h0m3.2 0h0m1.3 0h0m95.3 0h0m7.1 0h0m3.1 0.6h0m6 0h0m0.2-0.6h0m1.9 0.6h0m1.4 0h0m1-0.6h0m1.7 0h0m5.2 0h0m2.1 0h0m2.6 0h0m13.9 0.6h0m7.1 0h0m-350.5 0.6h0m9.5 0h0m13.9 0.6h0m32.5-0.6h0m18 0h0m4.8 0h0m4.8 0h0m2.5 0h0m2.8 0.6h0m0.1 0h0m2.9 0h0m9.6-0.6h0m1.5 0.6h0m10.4 0h0m2.5 0h0m2 0h0m0.7 0h0m2.4 0h0m0 0h0m1.6-0.6h0m7.3 0h0m14.5 0.6h0m1.2-0.6h0m0.1 0.6h0m2.7 0h0m4.9-0.6h0m5.2 0.6h0m7-0.6h0m1.1 0h0m2.2 0h0m0.9 0.6h0m6.3-0.6h0m1.6 0.6h0m0.9-0.6h0m5.6 0h0m3.9 0.6h0m4.5 0h0m0.4 0h0m0.2-0.6h0m7.5 0.6h0m0.8-0.6h0m89.4 0h0m0.2 0.6h0m0.9-0.6h0m8.5 0.6h0m0.5 0h0m1.5 0h0m4.2-0.6h0m1.8 0h0m1.1 0h0m7.9 0.6h0m7.1 0h0m4.7-0.6h0m0.9 0.6h0m0.4 0h0m2.2-0.6h0m1.3 0.6h0m6 0h0m1.2-0.6h0m2.9 0h0m1 0h0m0.1 0h0m5.5 0.6h0m-352 0.7h0m13.6 0h0m9.7 0h0m49.9 0h0m4.9 0h0m0.2 0h0m20.1 0h0m25.7 0h0m5.3 0h0m18.3 0h0m1.6 0h0m6.4 0h0m5.5 0h0m2.9 0h0m29.7 0h0m11.4 0h0m29.4-0.3h0m63.2 0.3h0m1.8 0h0m19.9 0h0m7 0h0m13.7 0h0m3.1 0h0m1.8 0h0m-343.4 0.6h0m4.7 0h0m1.2 0.7h0m16.9 0h0m25.4 0h0m25.9 0h0m0.7 0h0m2.2 0h0m0.4-0.7h0m1.8 0h0m3.1 0.7h0m1.1-0.7h0m3.6 0.7h0m5.9 0h0m3.2-0.7h0m4.3 0h0m0.7 0h0m0.8 0h0m4.3 0h0m0.5 0h0m0.7 0.7h0m9.5-0.7h0m2.2 0.7h0m1.4 0h0m1.8 0h0m22.9 0h0m10.5-0.7h0m7.9 0.7h0m1.8-0.7h0m1.2 0.7h0m9.2-0.7h0m3.9 0h0m1.7 0h0m4.7 0h0m1.1 0h0m0.2 0h0m3.7 0.7h0m5.8-0.7h0m0.2 0h0m94.9 0h0m5.3 0.7h0m1.4-0.7h0m4.1 0.7h0m1.6 0h0m3.4-0.7h0m0.2 0.7h0m1.4 0h0m0.7-0.7h0m0.4 0h0m3.1 0.7h0m2.4-0.7h0m3.1 0h0m3.1 0h0m4.2 0.7h0m0.3 0h0m1.4 0h0m8.4-0.7h0m5.4 0.7h0m2.1 0h0m3.8 0h0m0.3-0.7h0m1.4 0.7h0m-337.3 0.7h0m19.4 0h0m40.1 0h0m9 0h0m5.4 0h0m3.1 0h0m0.3 0h0m0.1 0h0m2.5 0h0m0.1 0h0m2 0h0m0.4 0h0m11.8 0h0m6.3 0h0m0.1 0h0m2.2 0h0m4.5 0h0m7.9 0h0m31 0h0m40.4 0h0m4.6 0h0m87.3 0h0m2.6 0h0m1.8 0h0m2.3 0h0m3.4 0h0m12.8 0h0m4.8 0h0m0.7 0h0m1.8 0h0m8.6 0h0m11 0h0m1.3 0h0m3.6 0h0m1.6 0h0m-338.7 1.4h0m2.3 0h0m27.8-0.7h0m1 0.7h0m9.9-0.7h0m3.7 0.7h0m18.2-0.7h0m5.4 0h0m4.2 0h0m2.8 0h0m2.5 0.7h0m1.6 0h0m0.2 0h0m4.3 0h0m0.2 0h0m0.1-0.7h0m2 0h0m2.1 0h0m2.7 0.7h0m2.6 0h0m2.5 0h0m1-0.7h0m2.6 0h0m12.7 0h0m6.8 0h0m17.7 0.7h0m1.4 0h0m1.3-0.7h0m8.6 0.7h0m3.9-0.7h0m1.5 0.7h0m0.5 0h0m1 0h0m2.9-0.7h0m2.7 0h0m0.5 0.7h0m1.2 0h0m0.2-0.7h0m6 0.7h0m1.9-0.7h0m4 0h0m0.7 0.7h0m9 0h0m1 0h0m2.6 0h0m0.2-0.7h0m0.9 0.7h0m0.9 0h0m4.3 0h0m92.2-0.7h0m0.7 0.7h0m1.8-0.7h0m3.3 0h0m4.2 0.7h0m5.4-0.7h0m6.5 0.7h0m0.5 0h0m1.8 0h0m1.2-0.7h0m1.2 0.7h0m3.5 0h0m0.8-0.7h0m10.1 0.7h0m0.5 0h0m6.2-0.7h0m0.5 0.7h0m3.4-0.7h0m0.7 0.7h0m-337.9 0.7h0m22.7 0h0m6.1 0h0m4.8 0h0m29.3 0h0m7.1 0h0m7.9 0h0m1.1 0h0m1.1 0h0m16.5 0h0m0.2 0h0m2.4 0h0m13.8 0h0m30.3 0h0m6.5 0h0m0.2 0h0m7.4 0h0m3.4 0h0m0.8 0h0m11.7 0h0m0.6 0h0m15.2 0h0m96.3 0h0m8.2 0h0m1.6 0h0m13.3 0h0m4.7 0h0m0.3 0h0m7.4 0h0m7 0h0m-333.2 0.8h0m23.2 0h0m10.1 0h0m5.4 0h0m31.5 0h0m6.7 0h0m9.5 0h0m3.1 0h0m0.3 0h0m0.3 0h0m2.3 0h0m3.7 0h0m25.1 0h0m2.4 0h0m23.2 0h0m13.2 0h0m23.1 0h0m2.1 0h0m8.3 0h0m94.6 0h0m2.9 0h0m5.1 0h0m7.2 0h0m0.5 0h0m0.4 0h0m17.3 0h0m2.9 0h0m3.9 0h0m6.5 0h0m5.3 0h0m2.4 0h0m-349.5 0.7h0m0.4 0h0m8.6 0h0m4.9 0.8h0m10.3 0h0m0.6-0.8h0m1.6 0h0m1 0.8h0m27 0h0m4.3-0.8h0m16.2 0h0m3.4 0.8h0m4.9-0.8h0m0.2 0.8h0m4.5-0.8h0m4.2 0h0m5 0h0m1.4 0.8h0m2.5 0h0m1.1-0.8h0m1.1 0.8h0m11.7-0.8h0m3.5 0h0m4.2 0h0m0.7 0h0m4.5 0.8h0m4.2 0h0m1.2 0h0m18.9-0.8h0m4 0h0m2.2 0.8h0m2.6 0h0m5.3-0.8h0m6.4 0h0m1.9 0.8h0m1.2 0h0m1.6 0h0m0.8 0h0m1.5-0.8h0m0.4 0.8h0m6.9 0h0m1.6-0.8h0m0.6 0h0m0.1 0.8h0m0.4-0.8h0m0.8 0.8h0m2.4-0.8h0m0.7 0h0m3 0.8h0m0.6-0.8h0m0.8 0.8h0m4.4-0.8h0m0 0h0m1.2 0h0m0.7 0.8h0m0.5 0h0m89.1-0.8h0m2.6 0.8h0m1.4 0h0m0.8-0.8h0m0.8 0.8h0m0.4 0h0m3.6-0.8h0m5.3 0h0m2 0.8h0m3.6 0h0m5.5 0h0m2.7 0h0m0.8-0.8h0m1.6 0h0m0.7 0.8h0m1.8-0.8h0m0.1 0.8h0m1.6-0.8h0m4.4 0.8h0m1.5-0.8h0m2 0h0m3.5 0h0m7.7 0.8h0m-345 0.8h0m4.6 0h0m5.6 0h0m5.6 0h0m59 0h0m33.2 0h0m2.4 0h0m5.5 0h0m2.7 0h0m4.4 0h0m1.1 0h0m5 0h0m0.1 0h0m17 0h0m8.1 0h0m0.8 0h0m9.5 0h0m3.1 0h0m4.5 0h0m8.7 0h0m4.2 0h0m5.2 0h0m3.1 0h0m1.1 0h0m105.1 0h0m4.9 0h0m2.3 0h0m0.3 0h0m15.5 0h0m4.5 0h0m8.4 0h0m1 0h0m4.4 0h0m2.6 0h0m5.4 0h0m-346.1 0.8h0m7.8 0h0m0.2 0h0m0.3 0h0m4.3 0h0m27.2 0h0m2.5 0h0m8.5 0h0m2.1 0h0m15.2 0h0m0.4 0h0m0.2 0h0m1.2 0h0m5.1 0h0m5.8 0h0m12.2 0h0m3.5 0h0m2 0h0m4.4 0h0m1.1 0h0m1.7 0h0m7.7 0h0m3.4 0h0m2.6 0h0m5.9 0h0m1.3 0h0m32.4 0h0m11.4 0h0m7.8 0h0m6.7 0h0m13.4 0h0m95.5 0h0m2.8 0h0m2.7 0h0m2.5 0h0m12.9 0h0m7.4 0h0m3.8 0h0m0.2 0h0m1.8 0h0m5 0h0m1.8 0h0m6.8 0h0m5.8 0h0m-304.4 0.9h0m4.5 0h0m24.3 0h0m15.6 0h0m5.8 0h0m7.8 0h0m0.9 0h0m0.9 0h0m11 0h0m9.8 0h0m20.1 0h0m5.1 0h0m7.3 0h0m0.3 0h0m1.2 0h0m2 0h0m1 0h0m6.8 0h0m0.7 0h0m1.2 0h0m0.9 0h0m0 0h0m2.2 0h0m4.2 0h0m3.6 0h0m0.4 0h0m1.9 0h0m1.4 0h0m0.1 0h0m0.4 0h0m1.8 0h0m6.5 0h0m0.9 0h0m1.6 0h0m3.2 0h0m96.1 0h0m6.9 0h0m1.8 0h0m2.2 0h0m3.8 0h0m3.9 0h0m3.4 0h0m18.8 0h0m12 0h0m326.7-0.1h0m-673.1 0.9h0m0.2 0h0m10.2 0h0m1.6 0h0m4.1 0h0m2 0h0m15.6 0h0m4.5 0h0m1 0h0m7.4 0h0m4.6 0h0m16.8 0h0m10.7 0h0m6.5 0h0m2.1 0h0m1.3 0h0m14.1 0h0m0.2 0h0m3.4 0h0m7.2 0h0m8 0h0m1.7 0h0m3.4 0h0m15.6 0h0m1.7 0h0m6.6 0h0m3.1 0h0m5.5 0h0m4.4 0h0m1.7 0h0m1 0h0m9 0h0m1.8 0h0m5.1 0h0m2.3 0h0m8.7 0h0m1.6 0h0m3.2 0h0m0.3 0h0m1.6 0h0m94 0h0m0.4 0h0m1.2 0h0m0 0h0m2.6 0h0m10 0h0m1 0h0m10.1 0h0m17.6 0h0m4.3 0h0m-345.1 0.9h0m0.2 0h0m10.8 0h0m4.5 0h0m5.6 0h0m2.9 0h0m0.4 0h0m0.2 0h0m53.1 0h0m1.1 0h0m2.4 0h0m2 0h0m1.2 0h0m4.6 0h0m1.5 0h0m3.2 0h0m4.9 0h0m4.2 0h0m3.7 0h0m7.7 0h0m0.7 0h0m29.3 0h0m0.8 0h0m2.5 0h0m0.6 0h0m1.4 0h0m4.3 0h0m0.6 0h0m0.1 0h0m2.2 0h0m0 0h0m2.5 0h0m7.8 0h0m0.3 0h0m2.8 0h0m1 0h0m12.4 0h0m14.4 0h0m2.1 0h0m93 0h0m4 0h0m0.6 0h0m11.1 0h0m0.8 0h0m14.8 0h0m1.3 0h0m0.8 0h0m6.4 0h0m2 0h0m11.2 0h0m0.1 0h0m-342.6 1h0m14.3 0h0m2.5 0h0m1 0h0m21.2 0h0m34.6 0h0m4.9 0h0m2.8 0h0m0.3 0h0m1.7 0h0m5.2 0h0m5.1 0h0m9.6 0h0m0.5 0h0m5.1 0h0m3.4 0h0m31.9 0h0m0.9 0h0m5.1 0h0m13.8 0h0m0.7 0h0m4.4 0h0m1.4 0h0m1 0h0m2 0h0m5.4 0h0m5.2 0h0m0.1 0h0m0.1 0h0m7.7 0h0m7.9 0h0m104.8 0h0m14.4 0h0m8.9 0h0m12.9 0h0m0.5 0h0m1.5 0h0m3.6 0h0m-351.6 0.9h0m10 0h0m2.5 0h0m0 1h0m0 0h0m0.8 0h0m5.4 0h0m10.2-1h0m1.6 1h0m0.8-1h0m0.9 0h0m2.7 0h0m6 0h0m3.8 1h0m4.6-1h0m0.1 1h0m2 0h0m5.7-1h0m17.7 0h0m2.1 0h0m0.5 0h0m0.6 1h0m0.4 0h0m0.3 0h0m1.2-1h0m0.5 1h0m1.4-1h0m0.7 0h0m1.8 0h0m6 0h0m2.9 1h0m1.5 0h0m0.2-1h0m1.9 1h0m0.8-1h0m0.5 0h0m1.4 0h0m0 1h0m0.5-1h0m1.7 1h0m2.2-1h0m1.2 1h0m2.1-1h0m1.6 0h0m2.1 1h0m4 0h0m0.5 0h0m0.2 0h0m0-1h0m4.2 0h0m1.9 0h0m2.3 0h0m4.2 0h0m1.7 0h0m0.6 0h0m15.9 0h0m1.3 0h0m2.4 0h0m0.4 0h0m1 1h0m0.3-1h0m1.4 1h0m0.2-1h0m0.3 1h0m0.2 0h0m0.1 0h0m0.1 0h0m1.7-1h0m0.1 1h0m3.6 0h0m2.3 0h0m1-1h0m0.2 1h0m0.1-1h0m0.1 1h0m1.5-1h0m1.2 0h0m0.5 1h0m4.9 0h0m2.9 0h0m0.2 0h0m0.3-1h0m1.9 0h0m0.4 1h0m6.1-1h0m0.6 0h0m5.7 0h0m2.2 0h0m2.1 1h0m1.2-1h0m1.5 0h0m2 1h0m1 0h0m0.7 0h0m0.6-1h0m0.1 1h0m0.9-1h0m0.4 0h0m0.7 1h0m90.8-1h0m2.4 0h0m3 1h0m1.5-1h0m2.2 1h0m0.4 0h0m1.2 0h0m0.5 0h0m3.8 0h0m0.6-1h0m5.8 0h0m3 1h0m2.4 0h0m0.9 0h0m0.4-1h0m0.1 0h0m0.2 0h0m0.1 1h0m0.7 0h0m6.8-1h0m1.5 0h0m0 0h0m5.2 1h0m1.1 0h0m0.6-1h0m0.7 0h0m2.1 1h0m1.1-1h0m5.7 1h0m4.3 0h0m-352 1h0m4.6 0h0m5.7 0h0m5.6 0h0m9.1 0h0m12.8 0h0m15.5 0h0m28.3 0h0m6.3 0h0m11.6 0h0m6.3 0h0m1.9 0h0m0.4 0h0m2.5 0h0m1.9 0h0m3.4 0h0m1.2 0h0m4.4 0h0m3.6 0h0m1.8 0h0m2.2 0h0m25.1 0h0m1.2 0h0m1.7 0h0m1 0h0m10.9 0h0m8.6 0h0m0.8 0h0m8.4 0h0m0.8 0h0m4.7 0h0m0.4 0h0m4.8 0h0m114.6 0h0m10.6 0h0m5.9 0h0m4 0h0m4.9 0h0m1.1 0h0m0.2 0h0m7.5 0h0m1 0h0m1 0h0m0.6 0h0m0.2 0h0m-339.4 1h0m6.1 0h0m0.2 0h0m4 0h0m7.3 0h0m10.2 0h0m3.8 0h0m8.4 0h0m26 0h0m4.3 0h0m2.8 0h0m0.1 0h0m14.4 0h0m1.3 0h0m3.1 0h0m0.6 0h0m1.4 0h0m2.8 0h0m0.4 0h0m1 0h0m15.2 0h0m0.8 0h0m5.8 0h0m0.7 0h0m1.6 0h0m15.6 0h0m1.9 0h0m10.2 0h0m0.6 0h0m8.9 0h0m8.4 0h0m0.4 0h0m0.4 0h0m1.1 0h0m5.2 0h0m18.1 0h0m90.8 0h0m4.1 0h0m6.7 0h0m1.8 0h0m2.2 0h0m1 0h0m1.4 0h0m4.2 0h0m7.7 0h0m12.4 0h0m2.8 0h0m0 0h0m0.3 0h0m0.9 0h0m1 0h0m-338.9 1.1h0m13.4 0h0m23.3 0h0m12.4 0h0m5.3 0h0m18.2 0h0m3.5 0h0m13.4 0h0m1.5 0h0m1.1 0h0m10 0h0m2.3 0h0m0.1 0h0m1.1 0h0m1.3 0h0m3.1 0h0m0.9 0h0m2.5 0h0m1.1 0h0m7.4 0h0m4.4 0h0m1.9 0h0m2.2 0h0m0.1 0h0m0.7 0h0m20.5 0h0m1.7 0h0m3.1 0h0m0.1 0h0m6.2 0h0m7 0h0m9 0h0m4.8 0h0m0.1 0h0m1.6 0h0m1.6 0h0m0.2 0h0m5.4 0h0m2.8 0h0m97 0h0m0.7 0h0m2.4 0h0m0.6 0h0m3.4 0h0m3.5 0h0m3.1 0h0m2.5 0h0m10.4 0h0m2.8 0h0m2.4 0h0m6.6 0h0m3.5 0h0m0.2 0h0m0.9 0h0m2.3 0h0m6.6 0h0m1.2 0h0m1.3 0h0m2.1 0h0m-329.7 1.1h0m0.5 0h0m6.9 0h0m4.4 0h0m0.4 0h0m4.1 0h0m9 0h0m5.8 0h0m3.5 0h0m1 0h0m24.7 0h0m8.1 0h0m3.5 0h0m0.9 0h0m1.4 0h0m3.6 0h0m2.3 0h0m2.8 0h0m0.2 0h0m1.7 0h0m6.1 0h0m4.1 0h0m5.1 0h0m2 0h0m0.7 0h0m23.2 0h0m1.5 0h0m0.4 0h0m0.4 0h0m0.3 0h0m9.2 0h0m1.6 0h0m2.4 0h0m5.6 0h0m3.8 0h0m5.1 0h0m3.9 0h0m1.8 0h0m3.2 0h0m1.7 0h0m0.6 0h0m1.2 0h0m4.8 0h0m1.6 0h0m2.9 0h0m1.6 0h0m2.6 0h0m0 0h0m92.8 0h0m5.4 0h0m3.4 0h0m4.1 0h0m0.3 0h0m0.8 0h0m11.9 0h0m6.6 0h0m7.2 0h0m4.1 0h0m1.5 0h0m9.8 0h0m-345.8 1.2h0m15.2 0h0m0.8 0h0m5.2 0h0m7.6 0h0m0.7 0h0m2.5 0h0m0.4 0h0m0.6 0h0m2.1 0h0m1.3 0h0m1.1 0h0m0.4 0h0m5.3 0h0m2.4 0h0m1.6 0h0m23.5 0h0m0.7 0h0m2.1 0h0m3.7 0h0m0.1 0h0m1 0h0m2.4 0h0m0.7 0h0m12.3 0h0m5 0h0m0.2 0h0m4.9 0h0m2.9 0h0m0.2 0h0m2.8 0h0m1.6 0h0m2.4 0h0m0.5 0h0m5.6 0h0m1.6 0h0m2.8 0h0m21.1 0h0m2.2 0h0m2.6 0h0m4.1 0h0m1.2 0h0m2 0h0m1.7 0h0m0.5 0h0m0.2 0h0m0.1 0h0m4.6 0h0m14.8 0h0m0 0h0m12 0h0m2.1 0h0m1 0h0m2 0h0m3.9 0h0m0.8 0h0m89.9 0h0m1.9 0h0m1.5 0h0m0.1 0h0m4.8 0h0m5.2 0h0m3.6 0h0m0.3 0h0m8.9 0h0m9 0h0m0.7 0h0m4.7 0h0m1.6 0h0m3.4 0h0m1.7 0h0m3.3 0h0m1.3 0h0m-345.6 1.1h0m5.3 0h0m1.8 0h0m1.6 0h0m2.3 0h0m1.8 0h0m6 0h0m1.6 0h0m0.3 0h0m5.8 0h0m0.6 0h0m0 0h0m3.2 0h0m0.3 0h0m3.8 0h0m5.3 0h0m4.7 0h0m11.3 0h0m0.4 0h0m15.3 0h0m0.5 0h0m0.5 0h0m6 0h0m2.3 0h0m0.6 0h0m1.1 0h0m0.7 0h0m6.3 0h0m1 0h0m6.9 0h0m3.9 0h0m0.2 0h0m6.5 0h0m1.5 0h0m1.7 0h0m3 0h0m8.2 0h0m4.9 0h0m2.6 0h0m15.8 0h0m2 0h0m4.7 0h0m1.4 0h0m0.4 0h0m1.2 0h0m0.5 0h0m0.6 0h0m2.3 0h0m4 0h0m0.6 0h0m4.1 0h0m1.6 0h0m0.3 0h0m1.8 0h0m0.8 0h0m0.9 0h0m4.6 0h0m3.9 0h0m0.3 0h0m9.6 0h0m1.6 0h0m3.2 0h0m0.9 0h0m1.3 0h0m95.7 0h0m0.3 0h0m0.5 0h0m4.9 0h0m9 0h0m5.1 0h0m0.2 0h0m3.1 0h0m2 0h0m1.6 0h0m8.3 0h0m3.8 0h0m7.4 0h0m6.3 0h0m3.4 0h0m-352.3 1.3h0m2.7 0h0m2.7 0h0m22.1 0h0m6.7 0h0m4 0h0m7.6 0h0m6.3 0h0m2.6 0h0m23.2 0h0m4.9 0h0m0.4 0h0m3.8 0h0m2.2 0h0m1.4 0h0m1.8 0h0m2 0h0m4.4 0h0m5.1 0h0m2.1 0h0m1.4 0h0m1.4 0h0m1 0h0m0.6 0h0m6.7 0h0m1.7 0h0m1.9 0h0m1.5 0h0m0.3 0h0m1.5 0h0m0.3 0h0m0.4 0h0m2.6 0h0m21.9 0h0m1.3 0h0m0.9 0h0m0.1 0h0m0.1 0h0m0.7 0h0m0.3 0h0m1.8 0h0m0.6 0h0m1.5 0h0m5.7 0h0m2.6 0h0m0.5 0h0m0.6 0h0m1.3 0h0m0.5 0h0m6 0h0m2.5 0h0m0.3 0h0m0.1 0h0m3 0h0m4.1 0h0m1.1 0h0m0.4 0h0m0.2 0h0m1 0h0m7.2 0h0m1.6 0h0m0.8 0h0m5.4 0h0m1.9 0h0m2 0h0m89.5 0h0m6.1 0h0m3.4 0h0m0.9 0h0m0.7 0h0m5.9 0h0m2.8 0h0m0.1 0h0m16.9 0h0m8.1 0h0m9.3 0h0m0 0h0m-347.4 1.3h0m4.2 0h0m1.4 0h0m2.7 0h0m0.8 0h0m6.5 0h0m0.4 0h0m0.3 0h0m5.2 0h0m1.7 0h0m7.9 0h0m3.6 0h0m0.8 0h0m40.8 0h0m4.1 0h0m6.5 0h0m0.1 0h0m2.1 0h0m3 0h0m5.4 0h0m2.9 0h0m1.3 0h0m1.4 0h0m2.4 0h0m2.8 0h0m2.7 0h0m11.3 0h0m3 0h0m5.3 0h0m14.8 0h0m1.6 0h0m1.2 0h0m2.5 0h0m1.5 0h0m0.4 0h0m3.7 0h0m9.4 0h0m0.9 0h0m3.9 0h0m5.2 0h0m1.9 0h0m5.1 0h0m0.8 0h0m2 0h0m2.4 0h0m0.6 0h0m0.9 0h0m4 0h0m2.2 0h0m0.8 0h0m4.6 0h0m0.8 0h0m1.2 0h0m90 0h0m2.3 0h0m0.1 0h0m2.1 0h0m9.7 0h0m3.8 0h0m3.6 0h0m1.4 0h0m0.1 0h0m4.9 0h0m1 0h0m0.3 0h0m3.5 0h0m7.6 0h0m0.7 0h0m0.2 0h0m11.6 0h0m1.9 0h0m1.6 0h0m-348.6 1.3h0m8.9 0h0m1.3 0h0m2.8 0h0m0.7 0h0m4.1 0h0m3.7 0h0m3.4 0h0m4.4 0h0m1 0h0m2.7 0h0m7.5 0h0m0.7 0h0m2.3 0h0m2.4 0h0m29.7 0h0m2.1 0h0m0.5 0h0m2.2 0h0m1.4 0h0m1 0h0m0.1 0h0m3.2 0h0m1 0h0m1.2 0h0m1 0h0m3.9 0h0m0.6 0h0m13.1 0h0m5.6 0h0m3.8 0h0m7.8 0h0m0.4 0h0m4.5 0h0m0.1 0h0m17.3 0h0m7.5 0h0m3.7 0h0m0.3 0h0m9.6 0h0m0.3 0h0m5.3 0h0m6.8 0h0m3.1 0h0m3 0h0m1.7 0h0m3.4 0h0m0.6 0h0m0.2 0h0m2.8 0h0m4 0h0m3.6 0h0m1.3 0h0m87.4 0h0m0.3 0h0m0.2 0h0m9.1 0h0m2.7 0h0m0.6 0h0m2.8 0h0m0.2 0h0m1.2 0h0m0.6 0h0m0.9 0h0m4.1 0h0m2 0h0m2.5 0h0m3.2 0h0m1.5 0h0m0.4 0h0m0.3 0h0m1.7 0h0m1 0h0m5.9 0h0m3.3 0h0m1.1 0h0m3.2 0h0m1 0h0m1.7 0h0m2.2 0h0m5.8 0h0m-348.3 1.4h0m0.7 0h0m1.1 0h0m0.5 0h0m2 0h0m0.1 0h0m0.3 0h0m1.6 0h0m6.4 0h0m10.7 0h0m12.8 0h0m1.8 0h0m4.8 0h0m2.2 0h0m2.4 0h0m2.7 0h0m22 0h0m1.1 0h0m1.4 0h0m0.8 0h0m0.2 0h0m5.3 0h0m2 0h0m1.3 0h0m0.3 0h0m3.9 0h0m4.2 0h0m4.2 0h0m0.5 0h0m0.3 0h0m13.6 0h0m0.9 0h0m2.7 0h0m4.9 0h0m3.6 0h0m4.4 0h0m0.6 0h0m17.1 0h0m0.2 0h0m1.3 0h0m0.6 0h0m2.6 0h0m0.5 0h0m0 0h0m0.3 0h0m0.7 0h0m1.9 0h0m4 0h0m3.2 0h0m2.5 0h0m0.5 0h0m1.8 0h0m0.7 0h0m4.5 0h0m7.4 0h0m4.9 0h0m0.7 0h0m2.1 0h0m0.9 0h0m2.5 0h0m1.4 0h0m4.5 0h0m0.5 0h0m1.4 0h0m0.5 0h0m91.3 0h0m1.5 0h0m1.1 0h0m2.2 0h0m2.3 0h0m4.1 0h0m4.2 0h0m0.7 0h0m2.7 0h0m0.6 0h0m3.1 0h0m0.6 0h0m3 0h0m8.4 0h0m2.2 0h0m0.7 0h0m0.1 0h0m5 0h0m12.9 0h0m355.7-0.7h0m-30 1.2h0m-674.7 1h0m17.2 0h0m4 0h0m1.4 0h0m7.6 0h0m1.4 0h0m1.2 0h0m5.1 0h0m10.4 0h0m0.7 0h0m0.9 0h0m5.9 0h0m0.5 0h0m17 0h0m1.9 0h0m2.3 0h0m6.4 0h0m9.1 0h0m2.1 0h0m2.7 0h0m5.4 0h0m0.4 0h0m5.1 0h0m0.5 0h0m0.4 0h0m4.4 0h0m0.1 0h0m2.7 0h0m3 0h0m3.1 0h0m1.1 0h0m1.7 0h0m0.1 0h0m1.4 0h0m1.5 0h0m0 0h0m0.5 0h0m1.6 0h0m16.3 0h0m2.1 0h0m2.3 0h0m1 0h0m2.7 0h0m3.5 0h0m0.7 0h0m0.9 0h0m0.1 0h0m1.9 0h0m2.1 0h0m0.4 0h0m4.5 0h0m3.6 0h0m0.5 0h0m0 0h0m1.1 0h0m6 0h0m0.6 0h0m0 0h0m0.8 0h0m6.4 0h0m1.4 0h0m2.9 0h0m2.6 0h0m0.2 0h0m0.9 0h0m0.5 0h0m0.8 0h0m2.2 0h0m1.6 0h0m0.3 0h0m2 0h0m1.1 0h0m1.8 0h0m87.7 0h0m3.8 0h0m7.2 0h0m2.8 0h0m4.8 0h0m1.1 0h0m3.4 0h0m10.5 0h0m0.2 0h0m7.3 0h0m1.6 0h0m0.1 0h0m0.8 0h0m3 0h0m3 0h0m2.7 0h0m5.4 0h0m-352 1.6h0m0.5 0h0m0 0h0m4.1 0h0m0.7 0h0m0.3 0h0m5.6 0h0m4.8 0h0m2.3 0h0m6.6 0h0m11.3 0h0m3.9 0h0m9.3 0h0m7.9 0h0m16.2 0h0m3.5 0h0m3.8 0h0m3.5 0h0m0.4 0h0m8.6 0h0m3 0h0m0.1 0h0m0.7 0h0m1.2 0h0m1.2 0h0m3.6 0h0m0.7 0h0m0.1 0h0m3.2 0h0m1.8 0h0m2.1 0h0m0.2 0h0m0.9 0h0m5 0h0m1.8 0h0m3.5 0h0m3.2 0h0m7.1 0h0m19.1 0h0m0.6 0h0m0.8 0h0m0.8 0h0m1.6 0h0m0.1 0h0m1.9 0h0m2.6 0h0m0.3 0h0m0.3 0h0m1.4 0h0m2.5 0h0m2.8 0h0m4.4 0h0m0.8 0h0m1.3 0h0m1.3 0h0m0.1 0h0m0 0h0m2.5 0h0m0.6 0h0m9.3 0h0m3.9 0h0m0.2 0h0m1.2 0h0m0.4 0h0m2.2 0h0m2.5 0h0m2.1 0h0m0.6 0h0m2.4 0h0m2.7 0h0m95.4 0h0m1.3 0h0m2.3 0h0m4.2 0h0m0.6 0h0m9.8 0h0m3.1 0h0m1.8 0h0m2.7 0h0m1 0h0m1.8 0h0m1.5 0h0m6.4 0h0m2.8 0h0m1 0h0m3.4 0h0m2.9 0h0m5.3 0h0m-352.4 1.6h0m4.9 0h0m14.4 0h0m2.2 0h0m1.6 0h0m1 0h0m1.7 0h0m2 0h0m2 0h0m0.2 0h0m1.5 0h0m2.2 0h0m0.2 0h0m0.5 0h0m0.4 0h0m2 0h0m5.8 0h0m5.4 0h0m0 0h0m0.9 0h0m1.2 0h0m0.7 0h0m2.5 0h0m0.2 0h0m0.9 0h0m0.1 0h0m3.6 0h0m14.3 0h0m0.1 0h0m0 0h0m0.9 0h0m4.8 0h0m3.4 0h0m2.4 0h0m3.7 0h0m1.1 0h0m5.3 0h0m1.5 0h0m4.9 0h0m1.4 0h0m1.4 0h0m1.7 0h0m5.4 0h0m1.3 0h0m2.5 0h0m2.5 0h0m1.3 0h0m0.7 0h0m0.7 0h0m1.2 0h0m2.6 0h0m1 0h0m2.8 0h0m1 0h0m2.3 0h0m1.1 0h0m0.1 0h0m0.3 0h0m0.1 0h0m15.6 0h0m4.6 0h0m3.1 0h0m1 0h0m1.9 0h0m0.1 0h0m1.1 0h0m0.8 0h0m0.4 0h0m0.4 0h0m1 0h0m1.1 0h0m0.3 0h0m1.7 0h0m3.2 0h0m3.1 0h0m5.6 0h0m0 0h0m0.2 0h0m0.1 0h0m1.5 0h0m3 0h0m0.8 0h0m0.2 0h0m2.5 0h0m7.1 0h0m0.2 0h0m0.5 0h0m0.7 0h0m8.2 0h0m0.5 0h0m0.2 0h0m0.2 0h0m1.4 0h0m1.5 0h0m90.3 0h0m0.1 0h0m0.7 0h0m7 0h0m6.7 0h0m13.7 0h0m3.2 0h0m0.5 0h0m3.1 0h0m5.3 0h0m8.3 0h0m0 0h0m3.1 0h0m4.3 0h0m-352.5 1.7h0m1.2 0h0m2.4 0h0m0.2 0h0m2.9 0h0m0.1 0h0m3.7 0h0m5.5 0h0m3.8 0h0m3 0h0m1.6 0h0m0.5 0h0m0.7 0h0m0.8 0h0m14.8 0h0m2.8 0h0m0.8 0h0m0.1 0h0m0.3 0h0m1.8 0h0m0.8 0h0m2.3 0h0m0.4 0h0m3.4 0h0m0.3 0h0m1.1 0h0m1.5 0h0m1.3 0h0m22.8 0h0m2.4 0h0m1.1 0h0m1 0h0m3.2 0h0m1 0h0m0.6 0h0m4 0h0m1.5 0h0m2.2 0h0m0.2 0h0m4.3 0h0m0.2 0h0m1 0h0m4.2 0h0m0.6 0h0m6.3 0h0m5.3 0h0m3.5 0h0m8.9 0h0m13.9 0h0m1.8 0h0m3.6 0h0m0.3 0h0m6.1 0h0m3.6 0h0m2 0h0m1 0h0m0.3 0h0m1.2 0h0m0.7 0h0m0.7 0h0m0.1 0h0m2.2 0h0m1.7 0h0m0.4 0h0m0.9 0h0m0.2 0h0m4.6 0h0m2.1 0h0m1.1 0h0m1.5 0h0m4 0h0m0 0h0m3.9 0h0m2.8 0h0m1.4 0h0m1.6 0h0m1.6 0h0m1.9 0h0m0.9 0h0m3.3 0h0m96 0h0m0.5 0h0m0 0h0m3.9 0h0m0.9 0h0m6.8 0h0m4.1 0h0m1.8 0h0m2.5 0h0m10.2 0h0m1 0h0m2.3 0h0m1.9 0h0m0.5 0h0m0.6 0h0m2.5 0h0m1.4 0h0m5.9 0h0m2.6 0h0m-348.7 1.8h0m0.3 0h0m6.1 0h0m0.7 0h0m2.3 0h0m0.8 0h0m1.4 0h0m3.4 0h0m0.2 0h0m2 0h0m3.2 0h0m1.8 0h0m0.5 0h0m1.4 0h0m0.7 0h0m0.1 0h0m1.4 0h0m0.3 0h0m0 0h0m2 0h0m0.1 0h0m2.2 0h0m8.1 0h0m1.3 0h0m4.3 0h0m3 0h0m6.5 0h0m20.5 0h0m0.1 0h0m1.8 0h0m1.1 0h0m5.5 0h0m11.3 0h0m8.1 0h0m1.9 0h0m3.4 0h0m0.9 0h0m0.2 0h0m1.1 0h0m2.1 0h0m1.4 0h0m0.8 0h0m8.3 0h0m3.4 0h0m2 0h0m0.1 0h0m1.1 0h0m0.2 0h0m1.1 0h0m1.5 0h0m13.8 0h0m0.2 0h0m1.6 0h0m2.1 0h0m1.8 0h0m0.5 0h0m1.3 0h0m0.8 0h0m0.2 0h0m2.6 0h0m0.7 0h0m3.4 0h0m0.1 0h0m1.1 0h0m0.3 0h0m0.8 0h0m1.5 0h0m0.9 0h0m0.6 0h0m3 0h0m0.8 0h0m0.1 0h0m1.4 0h0m0.2 0h0m2.2 0h0m0.7 0h0m0.9 0h0m1.3 0h0m1 0h0m0.7 0h0m0.5 0h0m0.5 0h0m0.5 0h0m0.8 0h0m0.8 0h0m0.4 0h0m0.6 0h0m3 0h0m2.1 0h0m2 0h0m4.9 0h0m1.2 0h0m2.7 0h0m0.5 0h0m4 0h0m0.4 0h0m1.1 0h0m62 0.5h0m28.3-0.5h0m4 0h0m12.7 0h0m4.5 0h0m11.5 0h0m8.8 0h0m0.9 0h0m2.4 0h0m1 0h0m7.2 0h0m4.1 0h0m344.4 0.8h0m-696.9 1.1h0m1.3 0h0m4.5 0h0m0.6 0h0m0 0h0m0.5 0h0m0.4 0h0m3.4 0h0m4.1 0h0m1.3 0h0m5.9 0h0m1.1 0h0m0.9 0h0m0.8 0h0m3 0h0m5.8 0h0m1 0h0m8.6 0h0m3.6 0h0m1.2 0h0m0.5 0h0m2.4 0h0m0.5 0h0m0.9 0h0m0.9 0h0m4.9 0h0m16.1 0h0m0.5 0h0m2.9 0h0m0.5 0h0m4.1 0h0m0.8 0h0m4 0h0m1.5 0h0m1.1 0h0m3.1 0h0m1 0h0m0.2 0h0m8.4 0h0m0.7 0h0m2 0h0m0.8 0h0m0.7 0h0m2.2 0h0m0.3 0h0m0.9 0h0m2.6 0h0m0.7 0h0m0.2 0h0m0.1 0h0m0.2 0h0m0.5 0h0m3.8 0h0m1.6 0h0m5.1 0h0m0.8 0h0m1.2 0h0m3.9 0h0m17.6 0h0m2.1 0h0m2.4 0h0m2 0h0m2.5 0h0m3.8 0h0m5.1 0h0m0.2 0h0m1 0h0m0.3 0h0m1.5 0h0m0.1 0h0m3 0h0m0.6 0h0m0.9 0h0m1.3 0h0m4.1 0h0m1 0h0m0.7 0h0m4.7 0h0m8.5 0h0m3.4 0h0m1.1 0h0m4.4 0h0m2.6 0h0m90.1 0h0m0.8 0h0m8 0h0m2 0h0m6.7 0h0m1.6 0h0m9.1 0h0m1.4 0h0m13.4 0h0m1.3 0h0m6.4 0h0m0.3 0h0m5.3 0h0m-350.9 2.1h0m5.6 0h0m2.2 0h0m1.8 0h0m1.1 0h0m1.3 0h0m0.2 0h0m0.1 0h0m0.8 0h0m1.3 0h0m1.8 0h0m1.8 0h0m1.1 0h0m2.4 0h0m0.1 0h0m2.4 0h0m4.2 0h0m3.5 0h0m2.9 0h0m6 0h0m1 0h0m2.8 0h0m2.9 0h0m1.3 0h0m2.9 0h0m5.1 0h0m15.4 0h0m2.3 0h0m0.8 0h0m0.2 0h0m4.3 0h0m1.3 0h0m5.1 0h0m0.1 0h0m4 0h0m5.6 0h0m1.6 0h0m1.1 0h0m5 0h0m6.5 0h0m0.3 0h0m1.5 0h0m3 0h0m4.8 0h0m1.3 0h0m0.2 0h0m2.8 0h0m0.7 0h0m5.2 0h0m18.7 0h0m0.7 0h0m5.9 0h0m0.9 0h0m2 0h0m0.8 0h0m1 0h0m2 0h0m1.8 0h0m0.8 0h0m0.3 0h0m0.6 0h0m0 0h0m0.1 0h0m0.8 0h0m1.5 0h0m0.5 0h0m1.6 0h0m2.3 0h0m1.2 0h0m0 0h0m1.7 0h0m1.8 0h0m0.8 0h0m0.3 0h0m1.4 0h0m0.5 0h0m1.8 0h0m2.5 0h0m3 0h0m1.2 0h0m2.2 0h0m0.3 0h0m0.5 0h0m0.4 0h0m1.4 0h0m1.7 0h0m1.3 0h0m0.9 0h0m0.7 0h0m0.1 0h0m2.3 0h0m0.5 0h0m3.5 0h0m94.6 0h0m1.3 0h0m9 0h0m0.2 0h0m1.5 0h0m0 0h0m4.8 0h0m2 0h0m1.6 0h0m1 0h0m5.7 0h0m3.3 0h0m2.6 0h0m5.4 0h0m5.8 0h0m7.9 0h0m1 0h0m314.9-0.8h0m-667.7 2.9h0m0.1 0h0m0.3 0h0m0.8 0h0m2.9 0h0m2.4 0h0m1 0h0m0.2 0h0m0.6 0h0m2.3 0h0m0.4 0h0m0.1 0h0m1.3 0h0m0.2 0h0m0 0h0m0.5 0h0m0.8 0h0m0.1 0h0m1.9 0h0m0.3 0h0m0.5 0h0m0.1 0h0m0.7 0h0m3.3 0h0m0.2 0h0m1.8 0h0m0.1 0h0m0.2 0h0m0.2 0h0m0.4 0h0m2.3 0h0m0.2 0h0m2.2 0h0m0.2 0h0m0.3 0h0m1.4 0h0m0.2 0h0m0.5 0h0m0.4 0h0m0.1 0h0m1.4 0h0m0.6 0h0m2.4 0h0m1.3 0h0m0.4 0h0m0 0h0m0.7 0h0m1.6 0h0m1 0h0m1.3 0h0m0 0h0m0.5 0h0m2.2 0h0m0 0h0m0.7 0h0m0.5 0h0m2.9 0h0m2.4 0h0m0.7 0h0m1.4 0h0m0.5 0h0m1.9 0h0m0.8 0h0m0.2 0h0m16.5 0h0m0.9 0h0m2.4 0h0m8.5 0h0m4.4 0h0m1 0h0m3.8 0h0m0.1 0h0m7 0h0m1.4 0h0m5.3 0h0m1.1 0h0m0.2 0h0m2.5 0h0m0.9 0h0m0.6 0h0m3.5 0h0m0.7 0h0m0.6 0h0m1.7 0h0m4.3 0h0m0.9 0h0m21.3 0h0m1.4 0h0m0.5 0h0m0.6 0h0m1.6 0h0m1.6 0h0m0.9 0h0m1.2 0h0m1.8 0h0m2.5 0h0m0 0h0m1.5 0h0m0.6 0h0m1.6 0h0m0.9 0h0m0.7 0h0m0.4 0h0m0.7 0h0m1.2 0h0m1 0h0m1.5 0h0m2.6 0h0m3.1 0h0m4.2 0h0m0.3 0h0m2.4 0h0m0.7 0h0m1.5 0h0m0 0h0m0.7 0h0m1.1 0h0m3.1 0h0m3 0h0m4.3 0h0m0.1 0h0m0.2 0h0m0.3 0h0m0.4 0h0m0.5 0h0m1 0h0m3.1 0h0m1 0h0m0 0h0m0.2 0h0m0.9 0h0m0.6 0h0m89.4 0h0m0.2 0h0m3.8 0h0m2.1 0h0m2.4 0h0m0.1 0h0m0.9 0h0m11.7 0h0m1.9 0h0m0.3 0h0m2.4 0h0m3.8 0h0m11.3 0h0m3.3 0h0m0.7 0h0m4.1 0h0m0 0h0m2.7 0h0m7.2 0h0m311 0h0m-440.3 1h0m-223.4 1.4h0m2.5 0h0m0.4 0h0m1.6 0h0m2.4 0h0m0.5 0h0m0.9 0h0m1.1 0h0m0.4 0h0m0.2 0h0m0.3 0h0m1.8 0h0m0.4 0h0m1.3 0h0m0.1 0h0m0.9 0h0m2.6 0h0m3.4 0h0m3.8 0h0m0 0h0m0.2 0h0m0.2 0h0m0.1 0h0m0 0h0m5.8 0h0m0.5 0h0m1.9 0h0m0.5 0h0m0.5 0h0m1.1 0h0m2.1 0h0m0.6 0h0m1.8 0h0m0.2 0h0m1.7 0h0m0.9 0h0m1.3 0h0m0.6 0h0m0.1 0h0m2.5 0h0m1.9 0h0m0.9 0h0m0.7 0h0m0.8 0h0m3.7 0h0m1.8 0h0m0.1 0h0m0.6 0h0m0.6 0h0m0.4 0h0m17 0h0m3.7 0h0m0.2 0h0m2.4 0h0m0.1 0h0m4.3 0h0m0.7 0h0m0.3 0h0m1.7 0h0m2.1 0h0m9.2 0h0m0.3 0h0m6.1 0h0m5.5 0h0m1.6 0h0m6.2 0h0m1 0h0m1 0h0m2.8 0h0m1.8 0h0m1 0h0m0.4 0h0m4.3 0h0m15 0h0m3.3 0h0m0.1 0h0m0.3 0h0m0.2 0h0m6 0h0m0.8 0h0m0.5 0h0m0.4 0h0m1.2 0h0m0.2 0h0m1.8 0h0m1.7 0h0m0.2 0h0m4.3 0h0m0.8 0h0m0 0h0m0.7 0h0m0.4 0h0m1.2 0h0m0.8 0h0m1 0h0m0.3 0h0m1.4 0h0m0.3 0h0m0.3 0h0m1 0h0m2.5 0h0m2.2 0h0m3.9 0h0m3.3 0h0m0.5 0h0m0.4 0h0m0.2 0h0m1.2 0h0m3.1 0h0m0.7 0h0m0.7 0h0m0.9 0h0m1.2 0h0m2.7 0h0m1 0h0m3.5 0h0m0.1 0h0m0.3 0h0m1.2 0h0m0.5 0h0m94 0h0m7.1 0h0m0.9 0h0m0.8 0h0m1 0h0m4.6 0h0m4.6 0h0m2 0h0m10.7 0h0m11.7 0h0m2.6 0h0m4 0h0m-350.1 2.5h0m0.4 0h0m0.6 0h0m1.7 0h0m1.2 0h0m0.6 0h0m0 0h0m1.3 0h0m1.1 0h0m0.7 0h0m0.1 0h0m0.8 0h0m2.2 0h0m1 0h0m1.1 0h0m0.2 0h0m0.7 0h0m0.4 0h0m1 0h0m0.1 0h0m1.4 0h0m1.6 0h0m0.8 0h0m0.9 0h0m0.3 0h0m0.4 0h0m5.1 0h0m0.2 0h0m2.6 0h0m0.4 0h0m0 0h0m0.2 0h0m1.7 0h0m1.8 0h0m1.5 0h0m1.3 0h0m3.1 0h0m1.3 0h0m0.8 0h0m0.1 0h0m3.5 0h0m1.3 0h0m0.4 0h0m0.6 0h0m0.5 0h0m1.6 0h0m0.9 0h0m0 0h0m1 0h0m2.5 0h0m0.4 0h0m1.5 0h0m2 0h0m0.6 0h0m1.4 0h0m16.7 0h0m1.3 0h0m0.9 0h0m2.1 0h0m2.6 0h0m0.1 0h0m2.7 0h0m4.8 0h0m5.1 0h0m6.1 0h0m1.5 0h0m3.2 0h0m1.1 0h0m2.2 0h0m6.2 0h0m3 0h0m0.5 0h0m2.1 0h0m2.3 0h0m4.8 0h0m4.3 0h0m13.8 0h0m0.8 0h0m1.7 0h0m1.4 0h0m0.1 0h0m1.3 0h0m0.1 0h0m0.5 0h0m0.5 0h0m0.2 0h0m1.8 0h0m1.8 0h0m0.8 0h0m1.9 0h0m1.3 0h0m4.9 0h0m0.7 0h0m1.5 0h0m0.4 0h0m0.6 0h0m0.2 0h0m1.8 0h0m0.3 0h0m2.3 0h0m2.6 0h0m0.5 0h0m0.7 0h0m1.5 0h0m0.4 0h0m0 0h0m1.5 0h0m0.7 0h0m0.3 0h0m0.1 0h0m1.3 0h0m1 0h0m1.2 0h0m0.8 0h0m2.4 0h0m0.1 0h0m1.9 0h0m0.5 0h0m0.8 0h0m0.1 0h0m1.3 0h0m0.2 0h0m0.6 0h0m0 0h0m5.4 0h0m1.6 0h0m1.6 0h0m0.4 0h0m0.4 0h0m0.8 0h0m0.7 0h0m21.6 0h0m32.6 0.5h0m1.5-0.5h0m13.2 0h0m20.2 0h0m3.3 0h0m5.2 0h0m7.8 0h0m2.8 0h0m5 0h0m6.9 0h0m0.4 0h0m16.4 0h0m0.1 0h0m2.8 0h0m5.9 0h0m311.3 1h0m-662 1.8h0m0.7 0h0m0 0h0m0.1 0h0m0.3 0h0m0.1 0h0m0.5 0h0m0.1 0h0m1.8 0h0m1 0h0m0.1 0h0m1.4 0h0m0.4 0h0m3.4 0h0m2 0h0m1.4 0h0m0.5 0h0m3.4 0h0m0 0h0m0 0h0m1 0h0m1 0h0m1.5 0h0m0.5 0h0m0.1 0h0m4.2 0h0m0.4 0h0m2.7 0h0m1.4 0h0m2.5 0h0m0.2 0h0m0 0h0m1.7 0h0m0.3 0h0m0.5 0h0m1.7 0h0m0.4 0h0m0.1 0h0m0.8 0h0m0.3 0h0m1 0h0m0.9 0h0m0.3 0h0m0.1 0h0m1 0h0m1.2 0h0m3.5 0h0m0.1 0h0m0.1 0h0m0.2 0h0m1.6 0h0m1.4 0h0m0.9 0h0m2.4 0h0m0.5 0h0m1.4 0h0m0.7 0h0m1.6 0h0m1.3 0h0m0.2 0h0m14.6 0h0m2.5 0h0m0.6 0h0m0.3 0h0m5.5 0h0m2.3 0h0m0.8 0h0m1.4 0h0m3.9 0h0m0.7 0h0m0.5 0h0m0.5 0h0m8.7 0h0m0.2 0h0m0.8 0h0m0.3 0h0m0.4 0h0m3.7 0h0m16.9 0h0m2.4 0h0m1.6 0h0m2.4 0h0m2.6 0h0m16.3 0h0m0 0h0m0.7 0h0m0.4 0h0m1.3 0h0m0.6 0h0m0.1 0h0m2.6 0h0m0.7 0h0m1.5 0h0m0.1 0h0m0.7 0h0m0.2 0h0m0.4 0h0m0.8 0h0m0.8 0h0m0.9 0h0m0.5 0h0m0.6 0h0m0.4 0h0m1 0h0m1.3 0h0m0.4 0h0m1.4 0h0m2.7 0h0m0.9 0h0m1.4 0h0m0.6 0h0m1.6 0h0m1.1 0h0m0.7 0h0m0.1 0h0m0.6 0h0m2 0h0m0.3 0h0m3.4 0h0m0.6 0h0m0.6 0h0m1.5 0h0m0.4 0h0m0.7 0h0m0.1 0h0m0.3 0h0m0.8 0h0m3.8 0h0m1.5 0h0m0.5 0h0m2.6 0h0m0.1 0h0m0.2 0h0m5.3 0h0m0.2 0h0m0.1 0h0m0.6 0h0m0.4 0h0m0.5 0h0m0 0h0m0.4 0h0m1.4 0h0m0.5 0h0m0.4 0h0m25.1-0.3h0m63.5 0.3h0m3.9 0h0m2.1 0h0m0.7 0h0m0.4 0h0m6.4 0h0m0.1 0h0m1.8 0h0m10.1 0h0m3.6 0h0m3.6 0h0m0.1 0h0m1 0h0m15.8 0h0m1.7 0h0m4.4 0h0m213.2 0h0m0.5 1.1h0m-489.7 1.9h0m3.4 0h0m2.9 0h0m1.6 0h0m2.2 0h0m1.5 0h0m0.9 0h0m2.6 0h0m2.4 0h0m2 0h0m0.8 0h0m0.3 0h0m4 0h0m5.9 0h0m7.4 0h0m4 0h0m3.5 0h0m0 0h0m0.7 0h0m1.4 0h0m1.7 0h0m6 0h0m18.9 0h0m0.2 0h0m0.8 0h0m0.1 0h0m0 0h0m0.5 0h0m0 0h0m0.8 0h0m1.1 0h0m0.5 0h0m0.4 0h0m0.1 0h0m1.3 0h0m0 0h0m1 0h0m2.4 0h0m2.2 0h0m0.2 0h0m0 0h0m0.4 0h0m1.3 0h0m0.2 0h0m0.7 0h0m0.6 0h0m0.8 0h0m2.9 0h0m0 0h0m0.1 0h0m0.4 0h0m0.2 0h0m0 0h0m0.2 0h0m0.5 0h0m1 0h0m0.3 0h0m1.9 0h0m0.5 0h0m0.4 0h0m0.7 0h0m2.4 0h0m0 0h0m3.1 0h0m1.1 0h0m0.2 0h0m2.3 0h0m0.1 0h0m0.6 0h0m0.2 0h0m0.2 0h0m2.8 0h0m0.3 0h0m0.2 0h0m0.7 0h0m0.5 0h0m0.6 0h0m0.4 0h0m1.3 0h0m1.1 0h0m1.2 0h0m0.5 0h0m0 0h0m0.5 0h0m1 0h0m0.2 0h0m1.1 0h0m0.2 0h0m0.9 0h0m0.9 0h0m0.8 0h0m0.1 0h0m2 0h0m0.1 0h0m0.3 0h0m1.2 0h0m0.8 0h0m0.1 0h0m0.4 0h0m0.5 0h0m0.1 0h0m0.6 0h0m0.3 0h0m0.3 0h0m1.1 0h0m0.2 0h0m0.4 0h0m0.4 0h0m23.6 0h0m10.1 0h0m6 0h0m3.5 0h0m5.6 0h0m7 0h0m3.6 0h0m0.8 0h0m34.6 0h0m8.2 0h0m11.3 0h0m2.4 0h0m2.5 0h0m13.9 0h0m8.1 0h0m3.7 0h0m59.2 0h0m112 0h0m26.6 0h0m39 0h0m-169.9 0.5h0m196.7 0h0m97.8 0.5h0m-638.9 2.3h0m2.1 0h0m4.6 0h0m4.8 0h0m1.8 0h0m0.5 0h0m3.4 0h0m11.1 0h0m3.2 0h0m2.3 0h0m7.1 0h0m3 0h0m1.4 0h0m2.7 0h0m1 0h0m3.6 0h0m3.5 0h0m17.5 0h0m0 0h0m0.9 0h0m1.4 0h0m1.2 0h0m0 0h0m0.4 0h0m0.4 0h0m0.2 0h0m0.8 0h0m3.5 0h0m1.5 0h0m1.3 0h0m0.3 0h0m0.1 0h0m0.1 0h0m0.4 0h0m0.9 0h0m1.5 0h0m0.6 0h0m0.3 0h0m0.1 0h0m0.3 0h0m1.1 0h0m0.3 0h0m0.1 0h0m0.9 0h0m0.3 0h0m0.3 0h0m1.4 0h0m3.1 0h0m0.5 0h0m0.2 0h0m1.8 0h0m6.2 0h0m0.1 0h0m3.1 0h0m0.3 0h0m0.2 0h0m0.3 0h0m1.6 0h0m1.1 0h0m1.2 0h0m0.1 0h0m0.8 0h0m0.6 0h0m2.3 0h0m0 0h0m1.1 0h0m1.3 0h0m3.3 0h0m0.6 0h0m0.8 0h0m3.4 0h0m0.5 0h0m0.9 0h0m1 0h0m0.5 0h0m0 0h0m0.4 0h0m88.6 0h0m13.5 0h0m7.8 0h0m11.6 0h0m2.4 0h0m17 0h0m6.6 0h0m181 0h0m1.3 0.7h0m15.5-0.7h0m4.9 0h0m11 0.7h0m48.7-0.7h0m8.2 0h0m11.2 0.7h0m-21.1 0.6h0m58.7 0h0m-594.3 2.5h0m0.9 0h0m0 0h0m1.1 0h0m1.5 0h0m2.3 0h0m0.3 0h0m1 0h0m0.1 0h0m1.3 0h0m0.2 0h0m1 0h0m0.4 0h0m0.1 0h0m0.6 0h0m1.7 0h0m0.5 0h0m2.9 0h0m0.3 0h0m3.1 0h0m3.4 0h0m0.3 0h0m1 0h0m1.5 0h0m0.9 0h0m2.3 0h0m0 0h0m0.6 0h0m0.4 0h0m0.7 0h0m1.1 0h0m0.7 0h0m2.3 0h0m0.1 0h0m0.3 0h0m1 0h0m1.4 0h0m1 0h0m4.2 0h0m1.7 0h0m0.6 0h0m1.1 0h0m0.5 0h0m0.4 0h0m1 0h0m2.3 0h0m2.4 0h0m1.4 0h0m0.7 0h0m0.1 0h0m90.9 0h0m15 0h0m7.1 0h0m18.5 0h0m12.8 0h0m0.4 0h0m17 0h0m0.1 0h0m0.5 0h0m6.3 0h0m2.9 0h0m4.2 0h0m7.6 0h0m3.8 0h0m1.3 0h0m2.8 0h0m5.6 0h0m0.3 0h0m5.1 0h0m0.8 0h0m2.3 0h0m0.6 0h0m2.2 0h0m1.5 0h0m7.1 0h0m0.2 0h0m2.8 0h0m164 0h0m16.7 0h0m4.9 0h0m11 0h0m-25 0.7h0m194.4 0h0m-641.5 3.5h0m3.7 0h0m0.4 0h0m1.1 0h0m0.3 0h0m0.1 0h0m1.3 0h0m4.4 0h0m0.1 0h0m2.5 0h0m2.1 0h0m2.3 0h0m1 0h0m0.4 0h0m1.9 0h0m1.1 0h0m0.2 0h0m4.6 0h0m0.9 0h0m0.2 0h0m2.9 0h0m1.9 0h0m0.1 0h0m0.5 0h0m1.2 0h0m1.1 0h0m4.6 0h0m0.7 0h0m1.6 0h0m3.4 0h0m2.4 0h0m0.2 0h0m3.4 0h0m1.3 0h0m1.7 0h0m90.3 0h0m3.7 0h0m0.5 0h0m17.7 0h0m2 0h0m5.9 0h0m2.8 0h0m2.1 0h0m16.3 0h0m2.2 0h0m17.4 0h0m4.4 0h0m0.5 0h0m2.1 0h0m1.9 0h0m4.6 0h0m2.6 0h0m0.4 0h0m3.7 0h0m0.4 0h0m9.7 0h0m0.6 0h0m1.1 0h0m4.2 0h0m1.5 0h0m13.4 0h0m1.3 0h0m4.9 0h0m29.7 0h0m4.1 0h0m5.9 0h0m141 0h0m8.5 0h0m4.5 0h0m3.3 0h0m12.5 0h0m11 0h0m17.1 0h0m25.1 0h0m76.5 0h0m5.8 0h0m19.3 0h0m0.6 0h0m-11 0.9h0m-630.9 4h0m0.8 0h0m0.1 0h0m0.9 0h0m2.6 0h0m1.3 0h0m0.3 0h0m0.3 0h0m1.8 0h0m1.3 0h0m0.9 0h0m4.5 0h0m7.5 0h0m2.7 0h0m2.7 0h0m0.2 0h0m0.4 0h0m2.7 0h0m0.6 0h0m1 0h0m0.6 0h0m4 0h0m2 0h0m0 0h0m4.4 0h0m11.9 0h0m1.2 0h0m1.5 0h0m0.3 0h0m0.5 0h0m87.3 0h0m6.3 0h0m0.9 0h0m9.7 0h0m11.2 0h0m0.9 0h0m14.2 0h0m3.9 0h0m0.8 0h0m3.8 0h0m1.7 0h0m1.5 0h0m3.6 0h0m0.8 0h0m18.2 0h0m7 0h0m1.4 0h0m3.8 0h0m0.9 0h0m0.4 0h0m2 0h0m1.7 0h0m2.1 0h0m4.2 0h0m3.7 0h0m0.2 0h0m3.3 0h0m6 0h0m3.5 0h0m4.3 0h0m32.7 0h0m14.7 0h0m3.6 0h0m33 0h0m88.5 0h0m2.5 0h0m2.6 0h0m4.5 0h0m7.2 0h0m5.1 0h0m13.4 0h0m16.5 0h0m21.4 0h0m19.9 0h0m9.7 0h0m49.5 0h0m6.5 0h0m4.6 0h0m36.4 0h0m0.7 0h0m-641.4 5.7h0m0.1 0h0m4.9 0h0m2.7 0h0m3.8 0h0m2.3 0h0m0.4 0h0m1.1 0h0m2 0h0m7.9 0h0m2.4 0h0m1 0h0m5.5 0h0m0.2 0h0m1.6 0h0m3.5 0h0m1 0h0m0.3 0h0m6.5 0h0m0 0h0m1.5 0h0m1.8 0h0m1.2 0h0m1.6 0h0m2.3 0h0m1.3 0h0m0 0h0m1.8 0h0m87.8 0h0m0.3 0h0m1 0h0m4.2 0h0m1.7 0h0m10.4 0h0m10.3 0h0m0.2 0h0m0.1 0h0m3.8 0h0m5.3 0h0m1.9 0h0m1.3 0h0m1.3 0h0m1 0h0m1.6 0h0m7.2 0h0m8.2 0h0m22.7 0h0m10.3 0h0m2 0h0m3.3 0h0m3.8 0h0m5.4 0h0m0.6 0h0m7.8 0h0m0.3 0h0m4.8 0h0m1.8 0h0m0.2 0h0m7.4 0h0m2.7 0h0m23.8 0h0m9.7 0h0m9.4 0h0m28.5 0h0m0.6 0h0m98.8 0h0m2 0h0m9.1 0h0m10.1 0h0m0.7 0h0m3.4 0h0m4.5 0h0m12.1 0h0m5.7 0h0m0 0h0m21.2 0h0m6.9 0h0m22.7 0h0m0.3 0h0m49.9 0h0m3 0h0m8.1 0h0m0 0h0m4 0h0m11.1 0h0m1.3 0h0m9.7 0h0m-633.4 7.1h0m1.1 0h0m3.4 0h0m0.9 0h0m1.2 0h0m0.7 0h0m3.4 0h0m16.9 0h0m0.4 0h0m3.1 0h0m3.8 0h0m0.8 0h0m2.5 0h0m1.1 0h0m2.7 0h0m0.8 0h0m0.3 0h0m2.6 0h0m1.1 0h0m2.5 0h0m4.6 0h0m1.1 0h0m90.8 0h0m1.6 0h0m1.7 0h0m4.3 0h0m1.7 0h0m0.2 0h0m1.1 0h0m10.5 0h0m2.7 0h0m2.3 0h0m0.5 0h0m2.1 0h0m1.6 0h0m0.8 0h0m0.9 0h0m0.2 0h0m2.3 0h0m1.9 0h0m1.4 0h0m1.6 0h0m4.1 0h0m1.3 0h0m0.9 0h0m1 0h0m0.7 0h0m1.5 0h0m6.7 0h0m0.3 0h0m1.3 0h0m0.4 0h0m24.9 0h0m0.6 0h0m2.6 0h0m9.4 0h0m6.8 0h0m2.5 0h0m1.2 0h0m5.8 0h0m2.8 0h0m3.3 0h0m3 0h0m0.5 0h0m1.8 0h0m1 0h0m6.5 0h0m0.8 0h0m27.6 0h0m21.1 0h0m2.8 0h0m3.7 0h0m6.5 0h0m1.8 0h0m98.5 0h0m7 0h0m3.9 0h0m1 0h0m7.9 0h0m9.5 0h0m0.4 0h0m1.9 0h0m6.3 0h0m5.1 0h0m3 0h0m8.3 0h0m0.3 0h0m0.5 0h0m24.7 0h0m5.4 0h0m11.8 0h0m5.5 0h0m18.7 0h0m3.5 0h0m5.3 0h0m0.7 0h0m17.2 0h0m0.8 0h0m5.1 0h0m14.8 0h0m3.4 0h0m10.6 0h0m2.9 0h0m3.5 0h0m0.7 0h0m4.5 0h0m2.1 0h0m1.6 0h0m-638 9.1h0m0.9 0h0m1.9 0h0m1.8 0h0m5.8 0h0m1.7 0h0m7.4 0h0m1.5 0h0m2 0h0m1.8 0h0m3.2 0h0m0.7 0h0m0.1 0h0m7.4 0h0m4.4 0h0m0.6 0h0m1.9 0h0m3.5 0h0m2 0h0m4.8 0h0m2.7 0h0m1.4 0h0m88 0h0m4.5 0h0m3.1 0h0m4.1 0h0m0.5 0h0m6.1 0h0m0.9 0h0m0 0h0m0.1 0h0m0 0h0m0.6 0h0m0.4 0h0m0.2 0h0m1.7 0h0m0.5 0h0m0.2 0h0m0.5 0h0m0.5 0h0m1.9 0h0m1.1 0h0m1.3 0h0m0.4 0h0m0.6 0h0m0.2 0h0m0.3 0h0m0.9 0h0m0.3 0h0m0.3 0h0m1.8 0h0m1.4 0h0m2.4 0h0m0.2 0h0m1.4 0h0m0 0h0m0.7 0h0m3.1 0h0m2 0h0m0.3 0h0m1 0h0m2 0h0m3.9 0h0m0 0h0m5.4 0h0m0.7 0h0m0.1 0h0m16.6 0h0m4 0h0m0 0h0m2 0h0m3.2 0h0m2.9 0h0m30.8 0h0m0.1 0h0m2.7 0h0m9.2 0h0m1.1 0h0m2.1 0h0m18.2 0h0m0.2 0h0m1.3 0h0m1.2 0h0m1.1 0h0m2.7 0h0m1.4 0h0m0.4 0h0m2.8 0h0m2.5 0h0m1.4 0h0m0.9 0h0m4.8 0h0m1.3 0h0m1.1 0h0m7 0h0m2.8 0h0m1.4 0h0m1.9 0h0m0.8 0h0m0.8 0h0m0.2 0h0m0.4 0h0m0.1 0h0m0.5 0h0m0.2 0h0m0.6 0h0m0 0h0m1.3 0h0m3.9 0h0m1.2 0h0m0.1 0h0m1.3 0h0m0.3 0h0m0.2 0h0m0 0h0m0.1 0h0m0.1 0h0m1.2 0h0m0 0h0m0.1 0h0m3.5 0h0m0.1 0h0m0 0h0m2 0h0m16 0h0m28.7 0h0m1 0h0m44.3 0h0m0.4 0h0m2.4 0h0m1.5 0h0m2 0h0m0.5 0h0m2.8 0h0m1.4 0h0m0.6 0h0m0.6 0h0m0.6 0h0m1.4 0h0m2.5 0h0m0 0h0m3.3 0h0m3.3 0h0m0.5 0h0m0.1 0h0m2.3 0h0m0.3 0h0m1 0h0m1.3 0h0m5.2 0h0m0.6 0h0m0.2 0h0m4.1 0h0m0.9 0h0m5.4 0h0m3.8 0h0m1.8 0h0m2.2 0h0m2.3 0h0m0.2 0h0m0.9 0h0m0.3 0h0m16.7 0h0m2.6 0h0m1 0h0m0.6 0h0m0.1 0h0m4.1 0h0m0.3 0h0m0.7 0h0m1.7 0h0m4 0h0m1.4 0h0m1.3 0h0m2 0h0m3.6 0h0m0.3 0h0m0.1 0h0m0.3 0h0m2.2 0h0m2.7 0h0m0.8 0h0m0.5 0h0m0.6 0h0m2.2 0h0m4.2 0h0m1.1 0h0m6.7 0h0m4.1 0h0m2.8 0h0m0.6 0h0m2.2 0h0m16.3 0h0m1 0h0m1.6 0h0m4.1 0h0m3.5 0h0m1.6 0h0m3.3 0h0m1.9 0h0m0.2 0h0m0.2 0h0m0.1 0h0m2.9 0h0m0.8 0h0m1.4 0h0m0.4 0h0m0.5 0h0m1.3 0h0m4.4 0h0m2.3 0h0m0.2 0h0m1.1 0h0m3.4 0h0m0.7 0h0m0.7 0h0m0.4 0h0m0.6 0h0m2.8 0h0m0.7 0h0m0.3 0h0m1 0h0m1.3 0h0m0.3 0h0m1.4 0h0m0.1 0h0m0.3 0h0m0.1 0h0m0.4 0h0m0 0h0m0.1 0h0m0.1 0h0m0.2 0h0m2.8 0h0m0 0h0m1.7 0h0m0.8 0h0m1.4 0h0m1.3 0h0m0.6 0h0m2 0h0m1.1 0h0m-642.3 12.9h0m2.4 0h0m1.3 0h0m2 0h0m1.8 0h0m7.1 0h0m2.3 0h0m2 0h0m0.6 0h0m0.5 0h0m1.1 0h0m2.6 0h0m2.1 0h0m4.4 0h0m0.7 0h0m0.6 0h0m2.7 0h0m2.1 0h0m0.9 0h0m0.9 0h0m1.2 0h0m3 0h0m1.4 0h0m2.9 0h0m3 0h0m2.2 0h0m1.7 0h0m0 0h0m0.3 0h0m0.3 0h0m161.6 0h0m4.2 0h0m2.2 0h0m4.3 0h0m1.1 0h0m0.6 0h0m14.2 0h0m0.4 0h0m0.6 0h0m1.9 0h0m0.4 0h0m4.8 0h0m13.2 0h0m2.3 0h0m97.2 0h0m1 0h0m1.3 0h0m1.1 0h0m1.5 0h0m0.4 0h0m0.4 0h0m0.5 0h0m2.1 0h0m2.2 0h0m0.2 0h0m0.3 0h0m2 0h0m0.4 0h0m0.2 0h0m0.7 0h0m3.6 0h0m0.1 0h0m3.8 0h0m1.1 0h0m1.6 0h0m1.1 0h0m0.3 0h0m1.1 0h0m1.1 0h0m0.3 0h0m0.6 0h0m0.8 0h0m0.5 0h0m0.3 0h0m2.5 0h0m2.4 0h0m0.2 0h0m1.6 0h0m1.2 0h0m3.1 0h0m0.2 0h0m0.4 0h0m1.9 0h0m0.3 0h0m1.5 0h0m0.3 0h0m0.5 0h0m2.1 0h0m0.9 0h0m2.9 0h0m3.6 0h0m0.9 0h0m0.4 0h0m1.3 0h0m14.6 0h0m0.1 0h0m0.1 0h0m1.2 0h0m8.4 0h0m0.2 0h0m0.6 0h0m0.7 0h0m1.3 0h0m2.6 0h0m0.7 0h0m0.3 0h0m0.3 0h0m1.5 0h0m0.3 0h0m4.2 0h0m0.8 0h0m2 0h0m0.4 0h0m0.3 0h0m4.7 0h0m1.6 0h0m1.2 0h0m1 0h0m0.1 0h0m0.7 0h0m0.1 0h0m1.3 0h0m0.8 0h0m0.6 0h0m0.4 0h0m1.3 0h0m1.9 0h0m0 0h0m0.5 0h0m1.3 0h0m0.8 0h0m0 0h0m1.7 0h0m0.2 0h0m0 0h0m0.4 0h0m0.2 0h0m1.8 0h0m0 0h0m0.8 0h0m2.9 0h0m0.5 0h0m1.6 0h0m1.1 0h0m1.2 0h0m0.3 0h0m0.6 0h0m0.3 0h0m0.9 0h0m-497.1 21.9h0m2 0h0m0.1 0h0m3.6 0h0m0.6 0h0m0.2 0h0m7.4 0h0m0 0h0m0.5 0h0m0.2 0h0m0.2 0h0m5.5 0h0m0.1 0h0m2.7 0h0m1.2 0h0m0.7 0h0m0.2 0h0m3.5 0h0m0.1 0h0m1.1 0h0m0.4 0h0m0.5 0h0m2.1 0h0m7.5 0h0m4.6 0h0m0.4 0h0m4.7 0h0m4 0h0m165.6 0h0m2.8 0h0m3.5 0h0m4.9 0h0m3.6 0h0m9.1 0h0m1.7 0h0m3 0h0m1.5 0h0m25 0h0M1273.5 2068.2H1333.5M1273.5 2046.3H1333.5M1273.5 2033.4H1333.5M1273.5 2024.3H1333.5M1273.5 2017.2H1333.5M1273.5 2011.5H1333.5M1273.5 2006.6H1333.5M1273.5 2002.4H1333.5M1273.5 1998.6H1333.5M1273.5 1995.3H1333.5M1420.3 2068.2H1480.3M1420.3 2046.3H1480.3M1420.3 2033.4H1480.3M1420.3 2024.3H1480.3M1420.3 2017.2H1480.3M1420.3 2011.5H1480.3M1420.3 2006.6H1480.3M1420.3 2002.4H1480.3M1493.8 2068.2H1553.8M1493.8 2046.3H1553.8M1640.6 2068.2H1700.6M1640.6 2046.3H1700.6M1714.0 2068.2H1774.0M1787.4 2068.2H1847.4M1860.9 2068.2H1920.9M1860.9 2046.3H1920.9M1934.3 2068.2H1994.3M1934.3 2046.3H1994.3" fill="none" stroke="#000" stroke-width="3.2" stroke-linecap="round"/>
</svg>
</body></html>
